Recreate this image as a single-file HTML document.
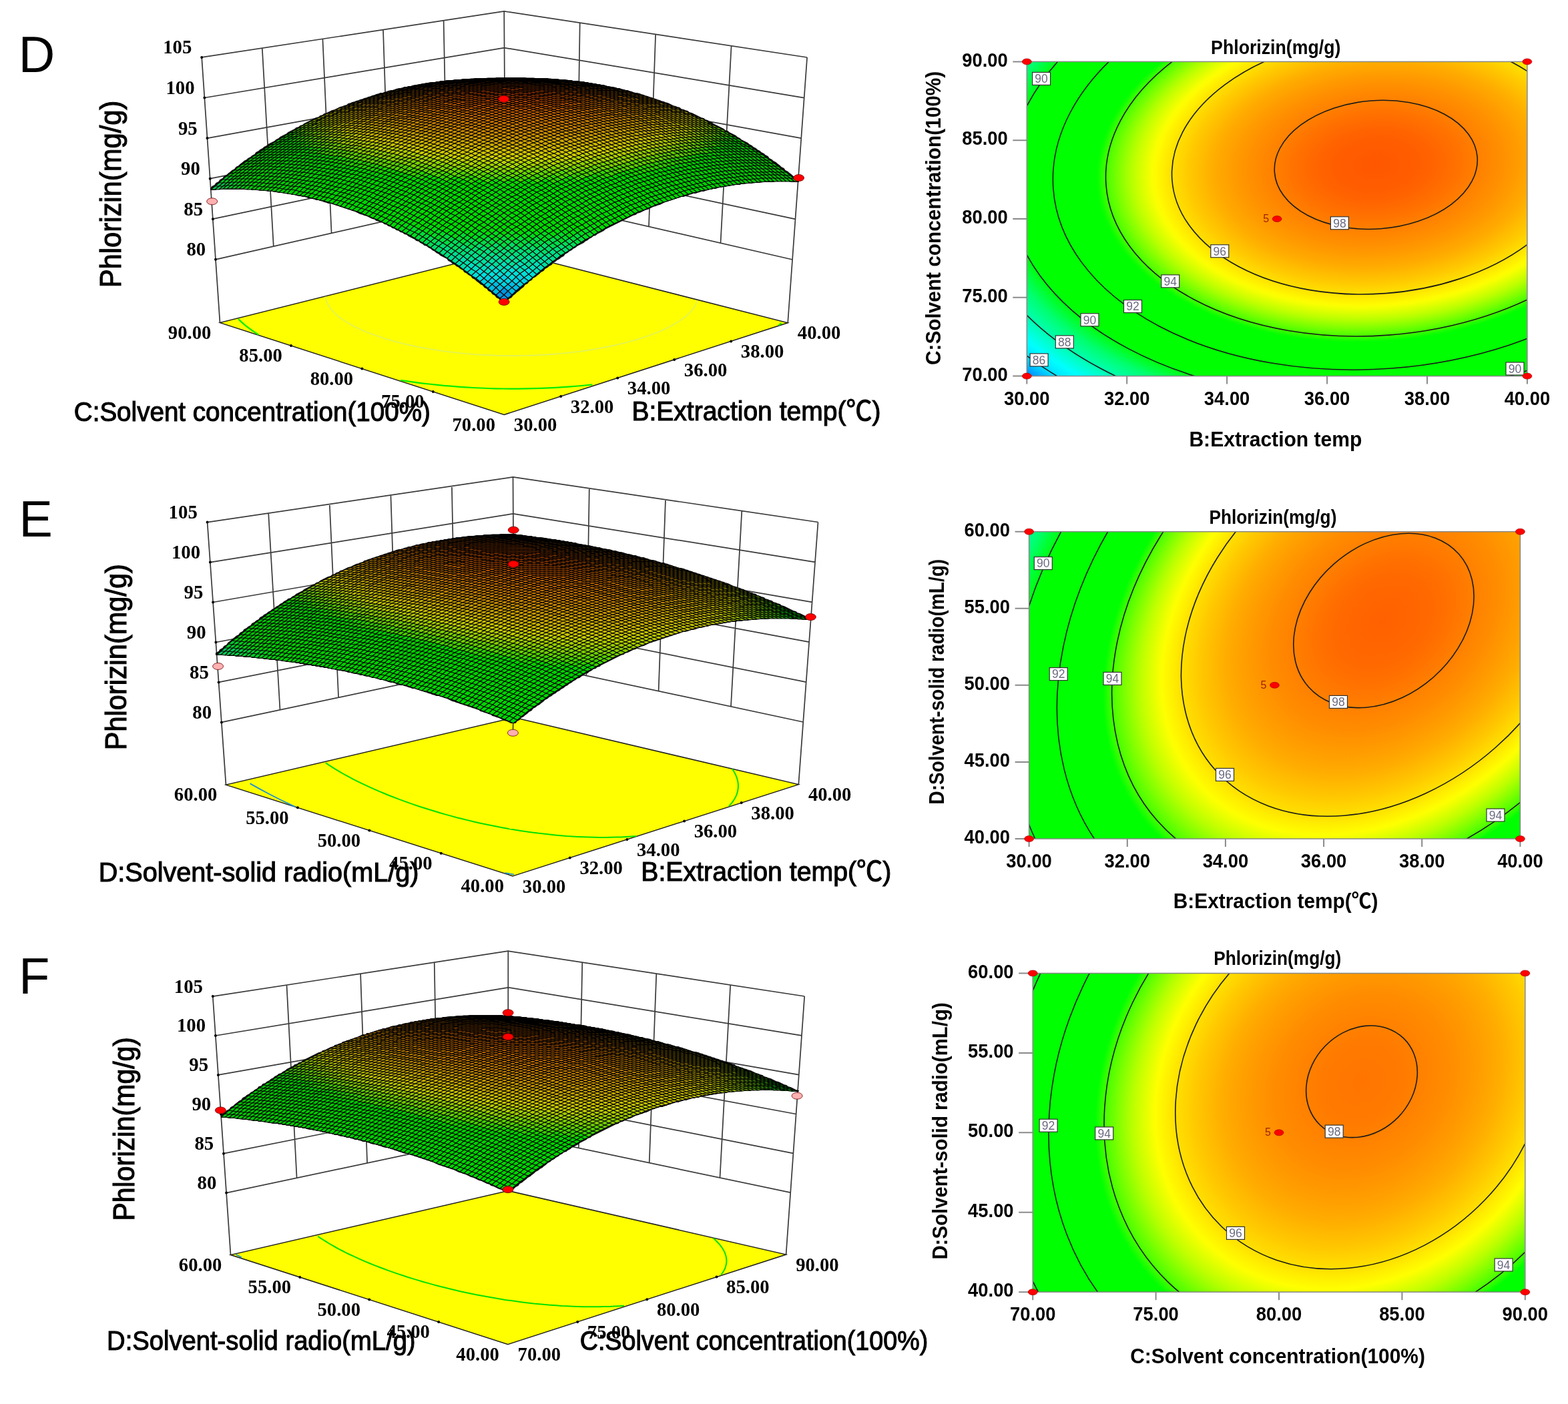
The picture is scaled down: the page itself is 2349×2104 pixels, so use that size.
<!DOCTYPE html>
<html><head><meta charset="utf-8"><style>html,body{margin:0;padding:0;background:#fff;width:2349px;height:2104px;overflow:hidden}svg{display:block}</style></head><body>
<svg xmlns="http://www.w3.org/2000/svg" width="2349" height="2104" viewBox="0 0 2349 2104" font-family="'Liberation Sans', Arial, 'Noto Sans CJK SC', sans-serif">
<path d="M323 388.8L756.9 290.3 1187.1 389M318.9 328.2L756.6 235.7 1191.5 328.4M314.7 267.7L756.2 181 1195.9 267.8M310.5 207.1L755.9 126.3 1200.3 207.2M306.4 146.5L755.5 71.6 1204.7 146.6M302.2 85.9L755.2 16.9 1209.1 86M329.5 483.6L302.2 85.9M409.8 369.1L392.8 72.1M496.6 349.4L483.4 58.3M583.4 329.7L574 44.5M670.1 310L664.6 30.7M757.5 375.9L755.2 16.9M1180.2 483.8L1209.1 86M1079.5 364.3L1095.6 68.7M972 339.7L982.1 51.4M864.5 315L868.7 34.2M757.5 375.9L755.2 16.9" fill="none" stroke="#3a3a3a" stroke-width="1.7"/>
<path d="M755.2 621.5L1180.2 483.8 757.5 375.9 329.5 483.6Z" fill="#ffff00" stroke="#222" stroke-width="1.5"/>
<path d="M887.4 576.4L876.5 577.5 865.6 578.5 854.6 579.4 843.6 580.2 832.5 580.9 821.3 581.4 810.1 581.9 798.9 582.2 798.9 582.2 787.7 582.4 776.4 582.6 765.1 582.6 753.8 582.5 742.6 582.3 731.3 582 720.1 581.5 708.9 581 697.7 580.4 686.6 579.6 675.6 578.7 664.6 577.8 653.6 576.7 642.8 575.5 632 574.3 621.4 572.9 610.8 571.4 600.3 569.8" fill="none" stroke="#00ee00" stroke-width="2.2"/>
<path d="M387.5 501.7L382.3 498.4 377.4 495 372.8 491.7 368.4 488.3 364.3 484.9 360.5 481.4 357 478" fill="none" stroke="#00ee00" stroke-width="2.2"/>
<path d="M1170.5 484.1L1166.6 487.5" fill="none" stroke="#00ee00" stroke-width="2.2"/>
<path d="M1044.5 450.5L1043.8 452.6 1043 454.8 1041.9 457 1040.7 459.2 1039.3 461.4 1037.7 463.6 1035.9 465.8 1033.9 468 1031.7 470.2 1029.4 472.3 1026.8 474.5 1024.1 476.6 1021.2 478.7 1018.2 480.8 1014.9 482.9 1011.5 485 1007.9 487 1004.2 489.1 1000.3 491.1 996.2 493 992 495 987.6 496.9 983.1 498.7 978.4 500.6 973.6 502.4 968.6 504.1 963.5 505.9 958.2 507.5 952.9 509.2 947.3 510.8 941.7 512.3 936 513.9 930.1 515.3 924.1 516.7 918 518.1 911.8 519.4 905.5 520.6 899.1 521.8 892.6 523 886.1 524.1 879.4 525.1 872.7 526.1 865.9 527 859 527.8 852.1 528.6 845.1 529.3 838 530 830.9 530.6 823.8 531.1 816.6 531.6 809.4 532 802.1 532.4 794.8 532.6 787.5 532.8 787.5 532.8 780.2 533 772.9 533.1 765.6 533.1 758.2 533 750.9 532.9 743.6 532.7 736.3 532.4 729 532.1 721.8 531.7 714.6 531.3 707.4 530.7 700.2 530.2 693.1 529.5 686.1 528.8 679.1 528 672.2 527.2 665.3 526.3 658.5 525.3 651.8 524.3 645.1 523.3 638.6 522.1 632.1 520.9 625.7 519.7 619.5 518.4 613.3 517.1 607.2 515.7 601.2 514.2 595.4 512.7 589.7 511.2 584 509.6 578.6 507.9 573.2 506.3 568 504.6 562.9 502.8 558 501 553.2 499.2 548.5 497.3 544 495.4 539.7 493.5 535.5 491.5 531.5 489.5 527.6 487.5 523.9 485.5 520.4 483.4 517.1 481.3 513.9 479.2 510.9 477.1 508 475 505.4 472.8 502.9 470.7 500.6 468.5 498.5 466.3 496.6 464.1 494.9 461.9 493.4 459.7 492 457.5 490.8 455.3 489.9 453.1 489.1 450.9 488.5 448.7 488.1 446.6 487.9 444.4" fill="none" stroke="#e0f060" stroke-width="1.6"/>
<path d="M840.2 593.9l0 0M925.2 566.4l0 0M1010.2 538.9l0 0M1095.2 511.4l0 0M648.8 587l0 0M542.4 552.5l0 0M436 518.1l0 0M323 388.8l0 0M318.9 328.2l0 0M314.7 267.7l0 0M310.5 207.1l0 0M306.4 146.5l0 0M302.2 85.9l0 0" stroke="#000" stroke-width="4" stroke-linecap="round"/>
<path fill="#101010" stroke="#101010" stroke-width="2.2" stroke-linejoin="round" d="M316 283 318 280 322 278 324 275 328 273 330 270 334 268 336 265 340 263 342 261 346 258 348 256 352 254 354 251 358 249 360 247 364 244 366 242 370 240 372 238 376 236 378 234 382 232 384 229 388 227 390 225 394 223 396 221 400 219 402 217 406 215 408 214 412 212 414 210 418 208 420 206 424 204 426 203 430 201 432 199 436 197 438 196 442 194 444 192 448 191 450 189 454 188 456 186 460 184 462 183 466 181 468 180 472 178 474 177 478 176 480 174 484 173 486 171 490 170 492 169 496 167 498 166 502 165 504 164 508 162 510 161 514 160 516 159 520 158 522 156 526 155 528 154 532 153 534 152 538 151 540 150 544 149 546 148 550 147 552 146 556 145 558 144 562 143 564 142 568 141 570 140 574 140 576 139 580 138 582 137 586 136 588 136 592 135 594 134 598 133 600 133 604 132 606 131 610 131 612 130 616 130 618 129 622 128 624 128 628 127 630 127 634 126 636 126 640 125 642 125 646 124 648 124 652 124 654 123 658 123 660 122 664 122 666 122 670 121 672 121 676 121 678 121 682 120 684 120 688 120 690 120 694 119 696 119 700 119 702 119 706 119 708 119 712 118 714 118 718 118 720 118 724 118 726 118 730 118 732 118 736 118 738 118 742 118 744 117 748 117 750 117 754 117 756 117 760 117 762 117 766 117 768 117 772 117 774 117 778 117 780 117 784 117 786 117 790 118 792 118 796 118 798 118 802 118 804 118 808 118 810 118 814 118 816 118 820 118 822 119 826 119 828 119 832 119 834 119 838 120 840 120 844 120 846 120 850 121 852 121 856 121 858 122 862 122 864 122 868 123 870 123 874 123 876 124 880 124 882 125 886 125 888 126 892 126 894 127 898 127 900 128 904 128 906 129 910 130 912 130 916 131 918 131 922 132 924 133 928 133 930 134 934 135 936 136 940 136 942 137 946 138 948 139 952 140 954 140 958 141 960 142 964 143 966 144 970 145 972 146 976 147 978 148 982 149 984 150 988 151 990 152 994 153 996 154 1000 155 1002 156 1006 158 1008 159 1012 160 1014 161 1018 162 1020 164 1024 165 1026 166 1030 167 1032 169 1036 170 1038 171 1042 173 1044 174 1048 176 1050 177 1054 178 1056 180 1060 181 1062 183 1066 184 1068 186 1072 188 1074 189 1078 191 1080 192 1084 194 1086 196 1090 197 1092 199 1096 201 1098 202 1102 204 1104 206 1108 208 1110 210 1114 212 1116 213 1120 215 1122 217 1126 219 1128 221 1132 223 1134 225 1138 227 1140 229 1144 231 1146 233 1150 235 1152 238 1156 240 1158 242 1162 244 1164 246 1168 249 1170 251 1174 253 1176 256 1180 258 1182 260 1186 263 1188 265 1192 268 1194 270 1196 271 1196 272 1194 272 1192 272 1188 272 1186 272 1182 271 1180 271 1176 271 1174 271 1170 271 1168 271 1164 271 1162 271 1158 272 1156 272 1152 272 1150 272 1146 272 1144 272 1140 272 1138 273 1134 273 1132 273 1128 273 1126 274 1122 274 1120 274 1116 274 1114 275 1110 275 1108 276 1104 276 1102 276 1098 277 1096 277 1092 278 1090 278 1086 279 1084 279 1080 280 1078 280 1074 281 1072 282 1068 282 1066 283 1062 283 1060 284 1056 285 1054 286 1050 286 1048 287 1044 288 1042 289 1038 289 1036 290 1032 291 1030 292 1026 293 1024 294 1020 294 1018 295 1014 296 1012 297 1008 298 1006 299 1002 300 1000 301 996 302 994 303 990 305 988 306 984 307 982 308 978 309 976 310 972 312 970 313 966 314 964 315 960 317 958 318 954 319 952 321 948 322 946 323 942 325 940 326 936 328 934 329 930 331 928 332 924 334 922 335 918 337 916 338 912 340 910 341 906 343 904 345 900 347 898 348 894 350 892 352 888 353 886 355 882 357 880 359 876 361 874 363 870 365 868 366 864 368 862 370 858 372 856 374 852 376 850 378 846 380 844 383 840 385 838 387 834 389 832 391 828 393 826 396 822 398 820 400 816 402 814 405 810 407 808 409 804 412 802 414 798 416 796 419 792 421 790 424 786 426 784 429 780 432 778 434 774 437 772 439 768 442 766 445 762 447 760 450 756 452 754 452 750 450 748 447 744 445 742 442 738 440 736 437 732 435 730 432 726 430 724 427 720 425 718 423 714 420 712 418 708 416 706 413 702 411 700 409 696 407 694 404 690 402 688 400 684 398 682 396 678 394 676 392 672 390 670 387 666 385 664 384 660 382 658 380 654 378 652 376 648 374 646 372 642 370 640 368 636 367 634 365 630 363 628 361 624 360 622 358 618 356 616 355 612 353 610 351 606 350 604 348 600 347 598 345 594 344 592 342 588 341 586 339 582 338 580 336 576 335 574 333 570 332 568 331 564 330 562 328 558 327 556 326 552 324 550 323 546 322 544 321 540 320 538 319 534 317 532 316 528 315 526 314 522 313 520 312 516 311 514 310 510 309 508 308 504 307 502 306 498 305 496 304 492 304 490 303 486 302 484 301 480 300 478 299 474 299 472 298 468 297 466 296 462 296 460 295 456 294 454 294 450 293 448 293 444 292 442 291 438 291 436 290 432 290 430 289 426 289 424 288 420 288 418 288 414 287 412 287 408 286 406 286 402 286 400 285 396 285 394 285 390 285 388 284 384 284 382 284 378 284 376 283 372 283 370 283 366 283 364 283 360 283 358 283 354 283 352 283 348 283 346 283 342 283 340 283 336 283 334 283 330 283 328 283 324 283 322 284 318 284 316 284Z"/><g><path fill="#000000" d="M756 117l12 1-12 0-13 0z"/><path fill="#000000" d="M743 117l13 0-13 1-12 0z"/><path fill="#000000" d="M768 117l13 0-13 1-12-1z"/><path fill="#000000" d="M731 117l12 0-12 1-12 0z"/><path fill="#000000" d="M756 117l12 0-12 0-13 0z"/><path fill="#000000" d="M781 117l12 0-12 0-13 0z"/><path fill="#000000" d="M719 118l12-1-12 1-13 0z"/><path fill="#000000" d="M743 117l13 0-13 0-12 0z"/><path fill="#000000" d="M768 117l13 0-13 0-12 0z"/><path fill="#000000" d="M793 117l12 1-12-1-12 0z"/><path fill="#000000" d="M706 118l13 0-13 0-12 1z"/><path fill="#000000" d="M731 117l12 0-12 0-12 1z"/><path fill="#000000" d="M756 117l12 0-12 0-13 0z"/><path fill="#000000" d="M781 117l12 0-12 0-13 0z"/><path fill="#000000" d="M805 118l13 0-13 0-12-1z"/><path fill="#000000" d="M694 119l12-1-12 1-13 1z"/><path fill="#000000" d="M718 118l13-1-12 1-13 0z"/><path fill="#000000" d="M743 117l13 0-13 0-12 0z"/><path fill="#000000" d="M768 117l13 0-13 0-12 0z"/><path fill="#000000" d="M793 117l12 1-12-1-12 0z"/><path fill="#000000" d="M818 118l12 1-12-1-13 0z"/><path fill="#000000" d="M681 121l13-2-13 1-12 1z"/><path fill="#000000" d="M706 119l12-1-12 0-12 1z"/><path fill="#000000" d="M731 118l12-1-12 0-13 1z"/><path fill="#000000" d="M756 117l12 0-12 0-13 0z"/><path fill="#000000" d="M780 117l13 0-12 0-13 0z"/><path fill="#000000" d="M805 118l13 0-13 0-12-1z"/><path fill="#000000" d="M830 119l13 1-13-1-12-1z"/><path fill="#000000" d="M669 122l12-1-12 0-13 2z"/><path fill="#000000" d="M694 120l12-1-12 0-13 2z"/><path fill="#000000" d="M718 119l13-1-13 0-12 1z"/><path fill="#000000" d="M743 118l13-1-13 0-12 1z"/><path fill="#000000" d="M768 118l12-1-12 0-12 0z"/><path fill="#000000" d="M793 118l12 0-12-1-13 0z"/><path fill="#000000" d="M818 119l12 0-12-1-13 0z"/><path fill="#000000" d="M843 120l12 1-12-1-13-1z"/><path fill="#010000" d="M656 124l13-2-13 1-12 1z"/><path fill="#000000" d="M681 122l13-2-13 1-12 1z"/><path fill="#000000" d="M706 120l12-1-12 0-12 1z"/><path fill="#000000" d="M731 119l12-1-12 0-13 1z"/><path fill="#000000" d="M756 118l12 0-12-1-13 1z"/><path fill="#000000" d="M780 118l13 0-13-1-12 1z"/><path fill="#000000" d="M805 119l13 0-13-1-12 0z"/><path fill="#000000" d="M830 120l13 0-13-1-12 0z"/><path fill="#000000" d="M855 122l12 0-12-1-12-1z"/><path fill="#0f0a00" d="M644 126l12-2-12 0-12 2z"/><path fill="#0e0900" d="M669 123l12-1-12 0-13 2z"/><path fill="#0d0800" d="M694 121l12-1-12 0-13 2z"/><path fill="#0c0700" d="M718 120l13-1-13 0-12 1z"/><path fill="#0c0700" d="M743 119l13-1-13 0-12 1z"/><path fill="#0b0600" d="M768 119l12-1-12 0-12 0z"/><path fill="#0b0600" d="M793 119l12 0-12-1-13 0z"/><path fill="#0b0600" d="M818 120l12 0-12-1-13 0z"/><path fill="#0b0700" d="M843 122l12 0-12-2-13 0z"/><path fill="#0b0700" d="M867 124l13 0-13-2-12 0z"/><path fill="#231700" d="M632 128l12-2-12 0-13 3z"/><path fill="#221500" d="M656 125l13-2-13 1-12 2z"/><path fill="#211300" d="M681 123l13-2-13 1-12 1z"/><path fill="#201200" d="M706 122l12-2-12 0-12 1z"/><path fill="#1f1100" d="M731 120l12-1-12 0-13 1z"/><path fill="#1f1000" d="M756 120l12-1-12-1-13 1z"/><path fill="#1e1000" d="M780 120l13-1-13-1-12 1z"/><path fill="#1e1000" d="M805 121l13-1-13-1-12 0z"/><path fill="#1e1100" d="M830 122l13 0-13-2-12 0z"/><path fill="#1e1200" d="M855 123l12 1-12-2-12 0z"/><path fill="#1e1300" d="M880 126l12 0-12-2-13 0z"/><path fill="#362400" d="M619 131l13-3-13 1-12 2z"/><path fill="#352000" d="M644 128l12-3-12 1-12 2z"/><path fill="#341e00" d="M669 125l12-2-12 0-13 2z"/><path fill="#331c00" d="M693 123l13-1-12-1-13 2z"/><path fill="#331a00" d="M718 122l13-2-13 0-12 2z"/><path fill="#321900" d="M743 121l13-1-13-1-12 1z"/><path fill="#321900" d="M768 121l12-1-12-1-12 1z"/><path fill="#311900" d="M793 121l12 0-12-2-13 1z"/><path fill="#311a00" d="M818 122l12 0-12-2-13 1z"/><path fill="#311b00" d="M843 123l12 0-12-1-13 0z"/><path fill="#311d00" d="M867 125l13 1-13-2-12-1z"/><path fill="#321f00" d="M892 128l13 0-13-2-12 0z"/><path fill="#473000" d="M607 134l12-3-12 0-13 3z"/><path fill="#462b00" d="M631 130l13-2-12 0-13 3z"/><path fill="#462800" d="M656 127l13-2-13 0-12 3z"/><path fill="#452500" d="M681 125l12-2-12 0-12 2z"/><path fill="#442300" d="M706 124l12-2-12 0-13 1z"/><path fill="#442100" d="M731 123l12-2-12-1-13 2z"/><path fill="#432000" d="M756 122l12-1-12-1-13 1z"/><path fill="#432000" d="M780 122l13-1-13-1-12 1z"/><path fill="#432100" d="M805 123l13-1-13-1-12 0z"/><path fill="#432200" d="M830 124l13-1-13-1-12 0z"/><path fill="#432400" d="M855 126l12-1-12-2-12 0z"/><path fill="#432700" d="M880 128l12 0-12-2-13-1z"/><path fill="#432a00" d="M905 131l12 0-12-3-13 0z"/><path fill="#573b00" d="M594 137l13-3-13 0-12 3z"/><path fill="#563500" d="M619 133l12-3-12 1-12 3z"/><path fill="#553100" d="M644 130l12-3-12 1-13 2z"/><path fill="#542d00" d="M669 128l12-3-12 0-13 2z"/><path fill="#542a00" d="M693 126l13-2-13-1-12 2z"/><path fill="#532700" d="M718 124l13-1-13-1-12 2z"/><path fill="#532500" d="M743 123l13-1-13-1-12 2z"/><path fill="#522500" d="M768 123l12-1-12-1-12 1z"/><path fill="#522500" d="M793 124l12-1-12-2-13 1z"/><path fill="#522700" d="M818 124l12 0-12-2-13 1z"/><path fill="#522a00" d="M843 126l12 0-12-3-13 1z"/><path fill="#522c00" d="M867 128l13 0-13-3-12 1z"/><path fill="#523000" d="M892 130l13 1-13-3-12 0z"/><path fill="#523400" d="M917 133l12 1-12-3-12 0z"/><path fill="#644600" d="M582 140l12-3-12 0-12 4z"/><path fill="#633f00" d="M607 136l12-3-12 1-13 3z"/><path fill="#623900" d="M631 133l13-3-13 0-12 3z"/><path fill="#623400" d="M656 130l13-2-13-1-12 3z"/><path fill="#613100" d="M681 128l12-2-12-1-12 3z"/><path fill="#602d00" d="M706 126l12-2-12 0-13 2z"/><path fill="#602a00" d="M731 125l12-2-12 0-13 1z"/><path fill="#602900" d="M756 125l12-2-12-1-13 1z"/><path fill="#602900" d="M780 125l13-1-13-2-12 1z"/><path fill="#5f2a00" d="M805 125l13-1-13-1-12 1z"/><path fill="#5f2d00" d="M830 126l13 0-13-2-12 0z"/><path fill="#5f3000" d="M855 128l12 0-12-2-12 0z"/><path fill="#5f3400" d="M880 130l12 0-12-2-13 0z"/><path fill="#603800" d="M905 133l12 0-12-2-13-1z"/><path fill="#603e00" d="M929 137l13 0-13-3-12-1z"/><path fill="#6f5100" d="M570 144l12-4-12 1-13 4z"/><path fill="#6e4800" d="M594 140l13-4-13 1-12 3z"/><path fill="#6e4100" d="M619 136l12-3-12 0-12 3z"/><path fill="#6d3b00" d="M644 133l12-3-12 0-13 3z"/><path fill="#6d3700" d="M669 130l12-2-12 0-13 2z"/><path fill="#6c3200" d="M693 129l13-3-13 0-12 2z"/><path fill="#6c2e00" d="M718 127l13-2-13-1-12 2z"/><path fill="#6c2c00" d="M743 126l13-1-13-2-12 2z"/><path fill="#6b2b00" d="M768 126l12-1-12-2-12 2z"/><path fill="#6b2c00" d="M793 126l12-1-12-1-13 1z"/><path fill="#6b2e00" d="M818 127l12-1-12-2-13 1z"/><path fill="#6b3200" d="M843 129l12-1-12-2-13 0z"/><path fill="#6b3600" d="M867 131l13-1-13-2-12 0z"/><path fill="#6b3b00" d="M892 133l13 0-13-3-12 0z"/><path fill="#6b4000" d="M917 136l12 1-12-4-12 0z"/><path fill="#6c4700" d="M942 140l12 1-12-4-13 0z"/><path fill="#795b00" d="M557 148l13-4-13 1-12 4z"/><path fill="#785100" d="M582 143l12-3-12 0-12 4z"/><path fill="#784900" d="M607 139l12-3-12 0-13 4z"/><path fill="#774200" d="M631 136l13-3-13 0-12 3z"/><path fill="#773d00" d="M656 133l13-3-13 0-12 3z"/><path fill="#763700" d="M681 131l12-2-12-1-12 2z"/><path fill="#763200" d="M706 129l12-2-12-1-13 3z"/><path fill="#762f00" d="M731 128l12-2-12-1-13 2z"/><path fill="#762e00" d="M756 128l12-2-12-1-13 1z"/><path fill="#752e00" d="M780 128l13-2-13-1-12 1z"/><path fill="#752f00" d="M805 128l13-1-13-2-12 1z"/><path fill="#753200" d="M830 130l13-1-13-3-12 1z"/><path fill="#753700" d="M855 131l12 0-12-3-12 1z"/><path fill="#753d00" d="M880 134l12-1-12-3-13 1z"/><path fill="#754200" d="M905 136l12 0-12-3-13 0z"/><path fill="#764900" d="M929 140l13 0-13-3-12-1z"/><path fill="#765000" d="M954 144l12 0-12-3-12-1z"/><path fill="#826700" d="M545 152l12-4-12 1-12 4z"/><path fill="#815b00" d="M570 147l12-4-12 1-13 4z"/><path fill="#815100" d="M594 143l13-4-13 1-12 3z"/><path fill="#804900" d="M619 140l12-4-12 0-12 3z"/><path fill="#804300" d="M644 136l12-3-12 0-13 3z"/><path fill="#803c00" d="M669 134l12-3-12-1-13 3z"/><path fill="#7f3600" d="M693 132l13-3-13 0-12 2z"/><path fill="#7f3200" d="M718 131l13-3-13-1-12 2z"/><path fill="#7f3000" d="M743 130l13-2-13-2-12 2z"/><path fill="#7f2f00" d="M768 129l12-1-12-2-12 2z"/><path fill="#7e3000" d="M793 130l12-2-12-2-13 2z"/><path fill="#7e3200" d="M818 131l12-1-12-3-13 1z"/><path fill="#7e3700" d="M843 132l12-1-12-2-13 1z"/><path fill="#7e3d00" d="M867 134l13 0-13-3-12 0z"/><path fill="#7e4300" d="M892 137l13-1-13-3-12 1z"/><path fill="#7e4900" d="M917 140l12 0-12-4-12 0z"/><path fill="#7f5100" d="M942 143l12 1-12-4-13 0z"/><path fill="#7f5a00" d="M966 148l13 0-13-4-12 0z"/><path fill="#897200" d="M533 157l12-5-12 1-13 5z"/><path fill="#896500" d="M557 152l13-5-13 1-12 4z"/><path fill="#895900" d="M582 147l12-4-12 0-12 4z"/><path fill="#885000" d="M607 143l12-3-12-1-13 4z"/><path fill="#884900" d="M631 140l13-4-13 0-12 4z"/><path fill="#874200" d="M656 137l13-3-13-1-12 3z"/><path fill="#873b00" d="M681 135l12-3-12-1-12 3z"/><path fill="#873600" d="M706 133l12-2-12-2-13 3z"/><path fill="#873200" d="M731 132l12-2-12-2-13 3z"/><path fill="#873100" d="M756 131l12-2-12-1-13 2z"/><path fill="#863100" d="M780 131l13-1-13-2-12 1z"/><path fill="#863300" d="M805 132l13-1-13-3-12 2z"/><path fill="#863600" d="M830 133l13-1-13-2-12 1z"/><path fill="#863b00" d="M855 135l12-1-12-3-12 1z"/><path fill="#864200" d="M880 137l12 0-12-3-13 0z"/><path fill="#864900" d="M905 140l12 0-12-4-13 1z"/><path fill="#865000" d="M929 143l13 0-13-3-12 0z"/><path fill="#865900" d="M954 147l12 1-12-4-12-1z"/><path fill="#876400" d="M979 152l12 1-12-5-13 0z"/><path fill="#907e00" d="M520 162l13-5-13 1-12 4z"/><path fill="#906f00" d="M545 156l12-4-12 0-12 5z"/><path fill="#8f6200" d="M569 152l13-5-12 0-13 5z"/><path fill="#8f5800" d="M594 147l13-4-13 0-12 4z"/><path fill="#8f5000" d="M619 144l12-4-12 0-12 3z"/><path fill="#8f4800" d="M644 141l12-4-12-1-13 4z"/><path fill="#8e4000" d="M668 138l13-3-12-1-13 3z"/><path fill="#8e3a00" d="M693 136l13-3-13-1-12 3z"/><path fill="#8e3500" d="M718 135l13-3-13-1-12 2z"/><path fill="#8e3300" d="M743 134l13-3-13-1-12 2z"/><path fill="#8e3200" d="M768 133l12-2-12-2-12 2z"/><path fill="#8d3300" d="M793 134l12-2-12-2-13 1z"/><path fill="#8d3600" d="M818 135l12-2-12-2-13 1z"/><path fill="#8d3a00" d="M843 136l12-1-12-3-13 1z"/><path fill="#8d4100" d="M867 138l13-1-13-3-12 1z"/><path fill="#8d4800" d="M892 141l13-1-13-3-12 0z"/><path fill="#8d5000" d="M917 144l12-1-12-3-12 0z"/><path fill="#8d5800" d="M942 147l12 0-12-4-13 0z"/><path fill="#8e6200" d="M966 152l13 0-13-4-12-1z"/><path fill="#8e6f00" d="M991 157l12 0-12-4-12-1z"/><path fill="#968d00" d="M508 167l12-5-12 0-12 6z"/><path fill="#967b00" d="M533 161l12-5-12 1-13 5z"/><path fill="#966c00" d="M557 156l12-4-12 0-12 4z"/><path fill="#956000" d="M582 152l12-5-12 0-13 5z"/><path fill="#955700" d="M607 148l12-4-12-1-13 4z"/><path fill="#954e00" d="M631 144l13-3-13-1-12 4z"/><path fill="#954600" d="M656 141l12-3-12-1-12 4z"/><path fill="#943f00" d="M681 139l12-3-12-1-13 3z"/><path fill="#943900" d="M706 137l12-2-12-2-13 3z"/><path fill="#943500" d="M731 136l12-2-12-2-13 3z"/><path fill="#943300" d="M756 136l12-3-12-2-13 3z"/><path fill="#943300" d="M780 136l13-2-13-3-12 2z"/><path fill="#943500" d="M805 136l13-1-13-3-12 2z"/><path fill="#943900" d="M830 137l13-1-13-3-12 2z"/><path fill="#943f00" d="M855 139l12-1-12-3-12 1z"/><path fill="#944700" d="M880 141l12 0-12-4-13 1z"/><path fill="#944f00" d="M905 144l12 0-12-4-13 1z"/><path fill="#945700" d="M929 148l13-1-13-4-12 1z"/><path fill="#946000" d="M954 152l12 0-12-5-12 0z"/><path fill="#946c00" d="M979 156l12 1-12-5-13 0z"/><path fill="#947b00" d="M1003 161l13 1-13-5-12 0z"/><path fill="#9b9c00" d="M496 173l12-6-12 1-12 5z"/><path fill="#9c8700" d="M520 167l13-6-13 1-12 5z"/><path fill="#9b7700" d="M545 161l12-5-12 0-12 5z"/><path fill="#9b6900" d="M569 156l13-4-13 0-12 4z"/><path fill="#9b5e00" d="M594 152l13-4-13-1-12 5z"/><path fill="#9b5500" d="M619 148l12-4-12 0-12 4z"/><path fill="#9a4d00" d="M644 145l12-4-12 0-13 3z"/><path fill="#9a4400" d="M668 143l13-4-13-1-12 3z"/><path fill="#9a3d00" d="M693 141l13-4-13-1-12 3z"/><path fill="#9a3800" d="M718 139l13-3-13-1-12 2z"/><path fill="#9a3600" d="M743 138l13-2-13-2-12 2z"/><path fill="#9a3500" d="M768 138l12-2-12-3-12 3z"/><path fill="#993600" d="M793 138l12-2-12-2-13 2z"/><path fill="#993900" d="M818 139l12-2-12-2-13 1z"/><path fill="#993e00" d="M843 141l12-2-12-3-13 1z"/><path fill="#994500" d="M867 143l13-2-13-3-12 1z"/><path fill="#994e00" d="M892 145l13-1-13-3-12 0z"/><path fill="#995500" d="M917 148l12 0-12-4-12 0z"/><path fill="#995e00" d="M942 152l12 0-12-5-13 1z"/><path fill="#996900" d="M966 156l13 0-13-4-12 0z"/><path fill="#9a7700" d="M991 161l12 0-12-4-12-1z"/><path fill="#9a8700" d="M1016 167l12 0-12-5-13-1z"/><path fill="#8ca100" d="M484 178l12-5-12 0-13 6z"/><path fill="#a09600" d="M508 172l12-5-12 0-12 6z"/><path fill="#a08300" d="M533 166l12-5-12 0-13 6z"/><path fill="#a07300" d="M557 161l12-5-12 0-12 5z"/><path fill="#a06700" d="M582 157l12-5-12 0-13 4z"/><path fill="#a05c00" d="M607 153l12-5-12 0-13 4z"/><path fill="#9f5400" d="M631 149l13-4-13-1-12 4z"/><path fill="#9f4b00" d="M656 146l12-3-12-2-12 4z"/><path fill="#9f4300" d="M681 144l12-3-12-2-13 4z"/><path fill="#9f3d00" d="M706 142l12-3-12-2-13 4z"/><path fill="#9f3800" d="M731 141l12-3-12-2-13 3z"/><path fill="#9f3600" d="M755 141l13-3-12-2-13 2z"/><path fill="#9f3700" d="M780 141l13-3-13-2-12 2z"/><path fill="#9f3900" d="M805 141l13-2-13-3-12 2z"/><path fill="#9f3d00" d="M830 142l13-1-13-4-12 2z"/><path fill="#9f4300" d="M855 144l12-1-12-4-12 2z"/><path fill="#9e4b00" d="M880 146l12-1-12-4-13 2z"/><path fill="#9e5400" d="M905 149l12-1-12-4-13 1z"/><path fill="#9e5d00" d="M929 153l13-1-13-4-12 0z"/><path fill="#9f6700" d="M954 157l12-1-12-4-12 0z"/><path fill="#9f7400" d="M979 161l12 0-12-5-13 0z"/><path fill="#9f8300" d="M1003 166l13 1-13-6-12 0z"/><path fill="#9f9600" d="M1028 172l12 1-12-6-12 0z"/><path fill="#79a500" d="M471 185l13-7-13 1-12 6z"/><path fill="#a4a500" d="M496 178l12-6-12 1-12 5z"/><path fill="#a59000" d="M520 172l13-6-13 1-12 5z"/><path fill="#a57f00" d="M545 166l12-5-12 0-12 5z"/><path fill="#a47000" d="M569 162l13-5-13-1-12 5z"/><path fill="#a46400" d="M594 157l13-4-13-1-12 5z"/><path fill="#a45b00" d="M619 153l12-4-12-1-12 5z"/><path fill="#a45200" d="M644 150l12-4-12-1-13 4z"/><path fill="#a44900" d="M668 148l13-4-13-1-12 3z"/><path fill="#a44200" d="M693 146l13-4-13-1-12 3z"/><path fill="#a43c00" d="M718 144l13-3-13-2-12 3z"/><path fill="#a33900" d="M743 143l12-2-12-3-12 3z"/><path fill="#a33800" d="M768 143l12-2-12-3-13 3z"/><path fill="#a33900" d="M793 143l12-2-12-3-13 3z"/><path fill="#a33d00" d="M818 144l12-2-12-3-13 2z"/><path fill="#a34200" d="M843 146l12-2-12-3-13 1z"/><path fill="#a34900" d="M867 148l13-2-13-3-12 1z"/><path fill="#a35300" d="M892 150l13-1-13-4-12 1z"/><path fill="#a35b00" d="M917 153l12 0-12-5-12 1z"/><path fill="#a36400" d="M942 157l12 0-12-5-13 1z"/><path fill="#a37000" d="M966 162l13-1-13-5-12 1z"/><path fill="#a37f00" d="M991 166l12 0-12-5-12 0z"/><path fill="#a39000" d="M1016 172l12 0-12-5-13-1z"/><path fill="#9fa300" d="M1040 178l12 0-12-5-12-1z"/><path fill="#5ea900" d="M459 191l12-6-12 0-12 7z"/><path fill="#91a900" d="M484 184l12-6-12 0-13 7z"/><path fill="#a99f00" d="M508 178l12-6-12 0-12 6z"/><path fill="#a98b00" d="M533 172l12-6-12 0-13 6z"/><path fill="#a97b00" d="M557 167l12-5-12-1-12 5z"/><path fill="#a86d00" d="M582 162l12-5-12 0-13 5z"/><path fill="#a86200" d="M607 158l12-5-12 0-13 4z"/><path fill="#a85900" d="M631 155l13-5-13-1-12 4z"/><path fill="#a85000" d="M656 152l12-4-12-2-12 4z"/><path fill="#a84800" d="M681 149l12-3-12-2-13 4z"/><path fill="#a84100" d="M706 148l12-4-12-2-13 4z"/><path fill="#a83d00" d="M731 147l12-4-12-2-13 3z"/><path fill="#a83b00" d="M755 146l13-3-13-2-12 2z"/><path fill="#a83b00" d="M780 146l13-3-13-2-12 2z"/><path fill="#a83d00" d="M805 147l13-3-13-3-12 2z"/><path fill="#a74100" d="M830 148l13-2-13-4-12 2z"/><path fill="#a74800" d="M855 149l12-1-12-4-12 2z"/><path fill="#a75100" d="M880 152l12-2-12-4-13 2z"/><path fill="#a75900" d="M905 155l12-2-12-4-13 1z"/><path fill="#a76200" d="M929 158l13-1-13-4-12 0z"/><path fill="#a76d00" d="M954 162l12 0-12-5-12 0z"/><path fill="#a77b00" d="M979 167l12-1-12-5-13 1z"/><path fill="#a78b00" d="M1003 172l13 0-13-6-12 0z"/><path fill="#a79f00" d="M1028 178l12 0-12-6-12 0z"/><path fill="#8da700" d="M1052 184l12 1-12-7-12 0z"/><path fill="#3ead00" d="M447 198l12-7-12 1-12 7z"/><path fill="#7aad00" d="M471 191l13-7-13 1-12 6z"/><path fill="#a7ad00" d="M496 184l12-6-12 0-12 6z"/><path fill="#ad9900" d="M520 178l13-6-13 0-12 6z"/><path fill="#ac8700" d="M545 172l12-5-12-1-12 6z"/><path fill="#ac7700" d="M569 167l13-5-13 0-12 5z"/><path fill="#ac6b00" d="M594 163l13-5-13-1-12 5z"/><path fill="#ac6100" d="M619 159l12-4-12-2-12 5z"/><path fill="#ac5800" d="M644 156l12-4-12-2-13 5z"/><path fill="#ac4f00" d="M668 153l13-4-13-1-12 4z"/><path fill="#ac4700" d="M693 151l13-3-13-2-12 3z"/><path fill="#ac4200" d="M718 150l13-3-13-3-12 4z"/><path fill="#ac3e00" d="M743 149l12-3-12-3-12 4z"/><path fill="#ab3d00" d="M768 149l12-3-12-3-13 3z"/><path fill="#ab3e00" d="M793 149l12-2-12-4-13 3z"/><path fill="#ab4200" d="M818 150l12-2-12-4-13 3z"/><path fill="#ab4700" d="M843 151l12-2-12-3-13 2z"/><path fill="#ab4f00" d="M867 153l13-1-13-4-12 1z"/><path fill="#ab5800" d="M892 156l13-1-13-5-12 2z"/><path fill="#ab6100" d="M917 159l12-1-12-5-12 2z"/><path fill="#ab6b00" d="M942 163l12-1-12-5-13 1z"/><path fill="#ab7700" d="M966 167l13 0-13-5-12 0z"/><path fill="#ab8700" d="M991 172l12 0-12-6-12 1z"/><path fill="#ab9900" d="M1015 178l13 0-12-6-13 0z"/><path fill="#a4ab00" d="M1040 184l12 0-12-6-12 0z"/><path fill="#76ab00" d="M1064 190l13 1-13-6-12-1z"/><path fill="#0bb000" d="M435 205l12-7-12 1-12 7z"/><path fill="#5ab000" d="M459 197l12-6-12 0-12 7z"/><path fill="#91b000" d="M484 190l12-6-12 0-13 7z"/><path fill="#b0a900" d="M508 184l12-6-12 0-12 6z"/><path fill="#b09400" d="M533 178l12-6-12 0-13 6z"/><path fill="#b08300" d="M557 173l12-6-12 0-12 5z"/><path fill="#b07400" d="M582 168l12-5-12-1-13 5z"/><path fill="#b06900" d="M607 164l12-5-12-1-13 5z"/><path fill="#af5f00" d="M631 161l13-5-13-1-12 4z"/><path fill="#af5700" d="M656 158l12-5-12-1-12 4z"/><path fill="#af4e00" d="M681 155l12-4-12-2-13 4z"/><path fill="#af4700" d="M706 154l12-4-12-2-13 3z"/><path fill="#af4300" d="M731 153l12-4-12-2-13 3z"/><path fill="#af4100" d="M755 152l13-3-13-3-12 3z"/><path fill="#af4100" d="M780 152l13-3-13-3-12 3z"/><path fill="#af4300" d="M805 153l13-3-13-3-12 2z"/><path fill="#af4700" d="M830 154l13-3-13-3-12 2z"/><path fill="#af4e00" d="M855 155l12-2-12-4-12 2z"/><path fill="#af5700" d="M880 158l12-2-12-4-13 1z"/><path fill="#af5f00" d="M905 161l12-2-12-4-13 1z"/><path fill="#af6900" d="M929 164l13-1-13-5-12 1z"/><path fill="#af7400" d="M954 168l12-1-12-5-12 1z"/><path fill="#af8300" d="M979 173l12-1-12-5-13 0z"/><path fill="#af9400" d="M1003 178l12 0-12-6-12 0z"/><path fill="#afa900" d="M1028 184l12 0-12-6-13 0z"/><path fill="#8eaf00" d="M1052 190l12 0-12-6-12 0z"/><path fill="#57af00" d="M1076 197l13 1-12-7-13-1z"/><path fill="#00b300" d="M423 212l12-7-12 1-12 7z"/><path fill="#37b300" d="M447 204l12-7-12 1-12 7z"/><path fill="#74b300" d="M471 197l13-7-13 1-12 6z"/><path fill="#a5b300" d="M496 190l12-6-12 0-12 6z"/><path fill="#b3a300" d="M520 184l13-6-13 0-12 6z"/><path fill="#b39000" d="M545 179l12-6-12-1-12 6z"/><path fill="#b37f00" d="M570 174l12-6-13-1-12 6z"/><path fill="#b37200" d="M594 169l13-5-13-1-12 5z"/><path fill="#b36800" d="M619 166l12-5-12-2-12 5z"/><path fill="#b35f00" d="M644 162l12-4-12-2-13 5z"/><path fill="#b35600" d="M668 160l13-5-13-2-12 5z"/><path fill="#b24e00" d="M693 158l13-4-13-3-12 4z"/><path fill="#b24900" d="M718 156l13-3-13-3-12 4z"/><path fill="#b24500" d="M743 155l12-3-12-3-12 4z"/><path fill="#b24400" d="M768 155l12-3-12-3-13 3z"/><path fill="#b24500" d="M793 155l12-2-12-4-13 3z"/><path fill="#b24900" d="M818 156l12-2-12-4-13 3z"/><path fill="#b24e00" d="M843 158l12-3-12-4-13 3z"/><path fill="#b25600" d="M867 160l13-2-13-5-12 2z"/><path fill="#b25f00" d="M892 162l13-1-13-5-12 2z"/><path fill="#b26800" d="M917 166l12-2-12-5-12 2z"/><path fill="#b27200" d="M942 169l12-1-12-5-13 1z"/><path fill="#b27f00" d="M966 174l13-1-13-6-12 1z"/><path fill="#b28f00" d="M991 179l12-1-12-6-12 1z"/><path fill="#b2a300" d="M1015 184l13 0-13-6-12 0z"/><path fill="#a3b200" d="M1040 190l12 0-12-6-12 0z"/><path fill="#72b200" d="M1064 197l12 0-12-7-12 0z"/><path fill="#34b200" d="M1088 204l13 1-12-7-13-1z"/><path fill="#00b600" d="M411 220l12-8-12 1-12 8z"/><path fill="#00b600" d="M435 212l12-8-12 1-12 7z"/><path fill="#51b600" d="M459 204l12-7-12 0-12 7z"/><path fill="#8cb600" d="M484 197l12-7-12 0-13 7z"/><path fill="#b6b400" d="M508 191l12-7-12 0-12 6z"/><path fill="#b69e00" d="M533 185l12-6-12-1-13 6z"/><path fill="#b68c00" d="M557 180l13-6-13-1-12 6z"/><path fill="#b67c00" d="M582 175l12-6-12-1-12 6z"/><path fill="#b67100" d="M607 171l12-5-12-2-13 5z"/><path fill="#b66700" d="M631 167l13-5-13-1-12 5z"/><path fill="#b65e00" d="M656 164l12-4-12-2-12 4z"/><path fill="#b55600" d="M681 162l12-4-12-3-13 5z"/><path fill="#b54f00" d="M706 160l12-4-12-2-13 4z"/><path fill="#b54b00" d="M731 159l12-4-12-2-13 3z"/><path fill="#b54800" d="M755 159l13-4-13-3-12 3z"/><path fill="#b54800" d="M780 159l13-4-13-3-12 3z"/><path fill="#b54b00" d="M805 159l13-3-13-3-12 2z"/><path fill="#b54f00" d="M830 160l13-2-13-4-12 2z"/><path fill="#b55600" d="M855 162l12-2-12-5-12 3z"/><path fill="#b55e00" d="M880 164l12-2-12-4-13 2z"/><path fill="#b56700" d="M904 167l13-1-12-5-13 1z"/><path fill="#b57000" d="M929 171l13-2-13-5-12 2z"/><path fill="#b57c00" d="M954 175l12-1-12-6-12 1z"/><path fill="#b58c00" d="M979 179l12 0-12-6-13 1z"/><path fill="#b59d00" d="M1003 185l12-1-12-6-12 1z"/><path fill="#b5b400" d="M1028 191l12-1-12-6-13 0z"/><path fill="#8ab500" d="M1052 197l12 0-12-7-12 0z"/><path fill="#4fb500" d="M1076 204l12 0-12-7-12 0z"/><path fill="#00b500" d="M1101 212l12 0-12-7-13-1z"/><path fill="#00b900" d="M399 228l12-8-12 1-12 8z"/><path fill="#00b900" d="M423 220l12-8-12 0-12 8z"/><path fill="#23b900" d="M447 212l12-8-12 0-12 8z"/><path fill="#69b900" d="M472 204l12-7-13 0-12 7z"/><path fill="#9fb900" d="M496 198l12-7-12-1-12 7z"/><path fill="#b9af00" d="M520 191l13-6-13-1-12 7z"/><path fill="#b99a00" d="M545 186l12-6-12-1-12 6z"/><path fill="#b88900" d="M570 181l12-6-12-1-13 6z"/><path fill="#b87a00" d="M594 177l13-6-13-2-12 6z"/><path fill="#b87000" d="M619 173l12-6-12-1-12 5z"/><path fill="#b86600" d="M644 169l12-5-12-2-13 5z"/><path fill="#b85f00" d="M668 167l13-5-13-2-12 4z"/><path fill="#b85700" d="M693 165l13-5-13-2-12 4z"/><path fill="#b85100" d="M718 163l13-4-13-3-12 4z"/><path fill="#b84e00" d="M743 162l12-3-12-4-12 4z"/><path fill="#b84d00" d="M768 162l12-3-12-4-13 4z"/><path fill="#b84e00" d="M793 162l12-3-12-4-13 4z"/><path fill="#b85100" d="M818 163l12-3-12-4-13 3z"/><path fill="#b85700" d="M842 165l13-3-12-4-13 2z"/><path fill="#b85f00" d="M867 167l13-3-13-4-12 2z"/><path fill="#b86600" d="M892 169l12-2-12-5-12 2z"/><path fill="#b86f00" d="M917 172l12-1-12-5-13 1z"/><path fill="#b87a00" d="M942 176l12-1-12-6-13 2z"/><path fill="#b88900" d="M966 181l13-2-13-5-12 1z"/><path fill="#b89900" d="M991 186l12-1-12-6-12 0z"/><path fill="#b8ae00" d="M1015 191l13 0-13-7-12 1z"/><path fill="#9db800" d="M1040 197l12 0-12-7-12 1z"/><path fill="#68b800" d="M1064 204l12 0-12-7-12 0z"/><path fill="#22b800" d="M1088 211l13 1-13-8-12 0z"/><path fill="#00b800" d="M1113 219l12 1-12-8-12 0z"/><path fill="#00bb00" d="M387 237l12-9-12 1-12 8z"/><path fill="#00bb00" d="M411 228l12-8-12 0-12 8z"/><path fill="#00bb00" d="M435 220l12-8-12 0-12 8z"/><path fill="#42bb00" d="M459 212l13-8-13 0-12 8z"/><path fill="#80bb00" d="M484 205l12-7-12-1-12 7z"/><path fill="#b0bb00" d="M508 198l12-7-12 0-12 7z"/><path fill="#bba900" d="M533 192l12-6-12-1-13 6z"/><path fill="#bb9700" d="M557 187l13-6-13-1-12 6z"/><path fill="#bb8700" d="M582 182l12-5-12-2-12 6z"/><path fill="#bb7900" d="M607 178l12-5-12-2-13 6z"/><path fill="#bb6f00" d="M631 175l13-6-13-2-12 6z"/><path fill="#bb6700" d="M656 172l12-5-12-3-12 5z"/><path fill="#bb6000" d="M681 169l12-4-12-3-13 5z"/><path fill="#bb5900" d="M706 168l12-5-12-3-13 5z"/><path fill="#bb5500" d="M731 166l12-4-12-3-13 4z"/><path fill="#bb5200" d="M755 166l13-4-13-3-12 3z"/><path fill="#bb5200" d="M780 166l13-4-13-3-12 3z"/><path fill="#bb5500" d="M805 166l13-3-13-4-12 3z"/><path fill="#bb5900" d="M830 167l12-2-12-5-12 3z"/><path fill="#ba6000" d="M855 169l12-2-12-5-13 3z"/><path fill="#ba6600" d="M880 172l12-3-12-5-13 3z"/><path fill="#ba6f00" d="M904 174l13-2-13-5-12 2z"/><path fill="#ba7900" d="M929 178l13-2-13-5-12 1z"/><path fill="#ba8600" d="M954 182l12-1-12-6-12 1z"/><path fill="#ba9600" d="M978 187l13-1-12-7-13 2z"/><path fill="#baa900" d="M1003 192l12-1-12-6-12 1z"/><path fill="#afba00" d="M1027 198l13-1-12-6-13 0z"/><path fill="#7fba00" d="M1052 204l12 0-12-7-12 0z"/><path fill="#42ba00" d="M1076 211l12 0-12-7-12 0z"/><path fill="#00ba00" d="M1100 219l13 0-12-7-13-1z"/><path fill="#00ba00" d="M1124 227l13 1-12-8-12-1z"/><path fill="#00bd00" d="M375 245l12-8-12 0-12 9z"/><path fill="#00bd00" d="M399 236l12-8-12 0-12 9z"/><path fill="#00bd00" d="M423 228l12-8-12 0-12 8z"/><path fill="#02bd00" d="M447 220l12-8-12 0-12 8z"/><path fill="#59bd00" d="M472 212l12-7-12-1-13 8z"/><path fill="#93bd00" d="M496 205l12-7-12 0-12 7z"/><path fill="#bdbc00" d="M520 199l13-7-13-1-12 7z"/><path fill="#bda500" d="M545 194l12-7-12-1-12 6z"/><path fill="#bd9400" d="M570 189l12-7-12-1-13 6z"/><path fill="#bd8500" d="M594 184l13-6-13-1-12 5z"/><path fill="#bd7900" d="M619 180l12-5-12-2-12 5z"/><path fill="#bd6f00" d="M644 177l12-5-12-3-13 6z"/><path fill="#bd6800" d="M668 174l13-5-13-2-12 5z"/><path fill="#bd6200" d="M693 172l13-4-13-3-12 4z"/><path fill="#bd5d00" d="M718 171l13-5-13-3-12 5z"/><path fill="#bd5900" d="M743 170l12-4-12-4-12 4z"/><path fill="#bd5800" d="M768 170l12-4-12-4-13 4z"/><path fill="#bd5900" d="M793 170l12-4-12-4-13 4z"/><path fill="#bd5c00" d="M818 171l12-4-12-4-13 3z"/><path fill="#bd6100" d="M842 172l13-3-13-4-12 2z"/><path fill="#bd6700" d="M867 174l13-2-13-5-12 2z"/><path fill="#bd6f00" d="M892 177l12-3-12-5-12 3z"/><path fill="#bd7800" d="M917 180l12-2-12-6-13 2z"/><path fill="#bd8400" d="M941 184l13-2-12-6-13 2z"/><path fill="#bd9300" d="M966 188l12-1-12-6-12 1z"/><path fill="#bda500" d="M991 193l12-1-12-6-13 1z"/><path fill="#bdbb00" d="M1015 199l12-1-12-7-12 1z"/><path fill="#93bd00" d="M1040 205l12-1-12-7-13 1z"/><path fill="#59bc00" d="M1064 212l12-1-12-7-12 0z"/><path fill="#03bc00" d="M1088 219l12 0-12-8-12 0z"/><path fill="#00bc00" d="M1112 227l12 0-11-8-13 0z"/><path fill="#00bc00" d="M1136 235l12 1-11-8-13-1z"/><path fill="#00bf00" d="M363 254l12-9-12 1-12 9z"/><path fill="#00bf00" d="M387 245l12-9-12 1-12 8z"/><path fill="#00c000" d="M411 236l12-8-12 0-12 8z"/><path fill="#00c000" d="M435 228l12-8-12 0-12 8z"/><path fill="#29c000" d="M460 220l12-8-13 0-12 8z"/><path fill="#6dc000" d="M484 213l12-8-12 0-12 7z"/><path fill="#a3c000" d="M508 206l12-7-12-1-12 7z"/><path fill="#c0b800" d="M533 200l12-6-12-2-13 7z"/><path fill="#bfa300" d="M557 195l13-6-13-2-12 7z"/><path fill="#bf9200" d="M582 190l12-6-12-2-12 7z"/><path fill="#bf8400" d="M607 186l12-6-12-2-13 6z"/><path fill="#bf7900" d="M631 183l13-6-13-2-12 5z"/><path fill="#bf7000" d="M656 180l12-6-12-2-12 5z"/><path fill="#bf6900" d="M681 177l12-5-12-3-13 5z"/><path fill="#bf6400" d="M706 175l12-4-12-3-13 4z"/><path fill="#bf6100" d="M731 174l12-4-12-4-13 5z"/><path fill="#bf5e00" d="M755 174l13-4-13-4-12 4z"/><path fill="#bf5e00" d="M780 174l13-4-13-4-12 4z"/><path fill="#bf6000" d="M805 174l13-3-13-5-12 4z"/><path fill="#bf6400" d="M830 175l12-3-12-5-12 4z"/><path fill="#bf6900" d="M855 177l12-3-12-5-13 3z"/><path fill="#bf7000" d="M880 179l12-2-12-5-13 2z"/><path fill="#bf7900" d="M904 182l13-2-13-6-12 3z"/><path fill="#bf8300" d="M929 186l12-2-12-6-12 2z"/><path fill="#bf9200" d="M954 190l12-2-12-6-13 2z"/><path fill="#bfa200" d="M978 195l13-2-13-6-12 1z"/><path fill="#bfb700" d="M1003 200l12-1-12-7-12 1z"/><path fill="#a3bf00" d="M1027 206l13-1-13-7-12 1z"/><path fill="#6ebf00" d="M1052 212l12 0-12-8-12 1z"/><path fill="#2bbf00" d="M1076 219l12 0-12-8-12 1z"/><path fill="#00bf00" d="M1100 227l12 0-12-8-12 0z"/><path fill="#00bf00" d="M1124 235l12 0-12-8-12 0z"/><path fill="#00be00" d="M1148 244l12 1-12-9-12-1z"/><path fill="#00c100" d="M351 264l12-10-12 1-12 9z"/><path fill="#00c100" d="M375 254l12-9-12 0-12 9z"/><path fill="#00c100" d="M399 245l12-9-12 0-12 9z"/><path fill="#00c100" d="M423 236l12-8-12 0-12 8z"/><path fill="#00c100" d="M447 228l13-8-13 0-12 8z"/><path fill="#42c200" d="M472 221l12-8-12-1-12 8z"/><path fill="#7fc200" d="M496 214l12-8-12-1-12 8z"/><path fill="#b0c200" d="M521 208l12-8-13-1-12 7z"/><path fill="#c2b400" d="M545 202l12-7-12-1-12 6z"/><path fill="#c2a100" d="M570 197l12-7-12-1-13 6z"/><path fill="#c19100" d="M594 192l13-6-13-2-12 6z"/><path fill="#c18400" d="M619 189l12-6-12-3-12 6z"/><path fill="#c17a00" d="M644 185l12-5-12-3-13 6z"/><path fill="#c17200" d="M669 183l12-6-13-3-12 6z"/><path fill="#c16c00" d="M693 180l13-5-13-3-12 5z"/><path fill="#c16700" d="M718 179l13-5-13-3-12 4z"/><path fill="#c16500" d="M743 178l12-4-12-4-12 4z"/><path fill="#c16400" d="M768 178l12-4-12-4-13 4z"/><path fill="#c16400" d="M793 178l12-4-12-4-13 4z"/><path fill="#c16700" d="M818 179l12-4-12-4-13 3z"/><path fill="#c16b00" d="M842 180l13-3-13-5-12 3z"/><path fill="#c17100" d="M867 182l13-3-13-5-12 3z"/><path fill="#c17900" d="M892 185l12-3-12-5-12 2z"/><path fill="#c18300" d="M917 188l12-2-12-6-13 2z"/><path fill="#c19000" d="M941 192l13-2-13-6-12 2z"/><path fill="#c1a000" d="M966 196l12-1-12-7-12 2z"/><path fill="#c1b300" d="M991 201l12-1-12-7-13 2z"/><path fill="#b1c100" d="M1015 207l12-1-12-7-12 1z"/><path fill="#81c100" d="M1039 213l13-1-12-7-13 1z"/><path fill="#44c100" d="M1064 220l12-1-12-7-12 0z"/><path fill="#00c100" d="M1088 227l12 0-12-8-12 0z"/><path fill="#00c100" d="M1112 235l12 0-12-8-12 0z"/><path fill="#00c000" d="M1136 244l12 0-12-9-12 0z"/><path fill="#00c000" d="M1160 253l12 1-12-9-12-1z"/><path fill="#00c321" d="M340 274l11-10-12 0-11 10z"/><path fill="#00c300" d="M363 263l12-9-12 0-12 10z"/><path fill="#00c300" d="M387 254l12-9-12 0-12 9z"/><path fill="#00c300" d="M411 245l12-9-12 0-12 9z"/><path fill="#00c300" d="M435 237l12-9-12 0-12 8z"/><path fill="#00c300" d="M460 229l12-8-12-1-13 8z"/><path fill="#54c300" d="M484 222l12-8-12-1-12 8z"/><path fill="#90c300" d="M508 215l13-7-13-2-12 8z"/><path fill="#bcc300" d="M533 209l12-7-12-2-12 8z"/><path fill="#c3b100" d="M557 204l13-7-13-2-12 7z"/><path fill="#c3a000" d="M582 199l12-7-12-2-12 7z"/><path fill="#c39100" d="M607 195l12-6-12-3-13 6z"/><path fill="#c38400" d="M631 191l13-6-13-2-12 6z"/><path fill="#c37b00" d="M656 188l13-5-13-3-12 5z"/><path fill="#c37400" d="M681 186l12-6-12-3-12 6z"/><path fill="#c36f00" d="M706 184l12-5-12-4-13 5z"/><path fill="#c36b00" d="M731 183l12-5-12-4-13 5z"/><path fill="#c36900" d="M755 182l13-4-13-4-12 4z"/><path fill="#c36900" d="M780 182l13-4-13-4-12 4z"/><path fill="#c36b00" d="M805 183l13-4-13-5-12 4z"/><path fill="#c36f00" d="M830 184l12-4-12-5-12 4z"/><path fill="#c37400" d="M855 186l12-4-12-5-13 3z"/><path fill="#c37b00" d="M879 188l13-3-12-6-13 3z"/><path fill="#c38400" d="M904 191l13-3-13-6-12 3z"/><path fill="#c39000" d="M929 194l12-2-12-6-12 2z"/><path fill="#c39f00" d="M954 198l12-2-12-6-13 2z"/><path fill="#c3b000" d="M978 203l13-2-13-6-12 1z"/><path fill="#bdc300" d="M1003 209l12-2-12-7-12 1z"/><path fill="#91c300" d="M1027 214l12-1-12-7-12 1z"/><path fill="#56c300" d="M1052 221l12-1-12-8-13 1z"/><path fill="#00c300" d="M1076 228l12-1-12-8-12 1z"/><path fill="#00c300" d="M1100 236l12-1-12-8-12 0z"/><path fill="#00c200" d="M1124 244l12 0-12-9-12 0z"/><path fill="#00c200" d="M1148 253l12 0-12-9-12 0z"/><path fill="#00c200" d="M1172 262l12 1-12-9-12-1z"/><path fill="#00c54f" d="M328 284l12-10-12 0-12 10z"/><path fill="#00c50b" d="M352 273l11-10-12 1-11 10z"/><path fill="#00c500" d="M375 263l12-9-12 0-12 9z"/><path fill="#00c500" d="M399 254l12-9-12 0-12 9z"/><path fill="#00c500" d="M423 245l12-8-12-1-12 9z"/><path fill="#00c500" d="M448 237l12-8-13-1-12 9z"/><path fill="#1ac500" d="M472 230l12-8-12-1-12 8z"/><path fill="#64c500" d="M496 223l12-8-12-1-12 8z"/><path fill="#9bc500" d="M521 217l12-8-12-1-13 7z"/><path fill="#c5c500" d="M545 211l12-7-12-2-12 7z"/><path fill="#c5b000" d="M570 206l12-7-12-2-13 7z"/><path fill="#c59f00" d="M594 201l13-6-13-3-12 7z"/><path fill="#c59200" d="M619 197l12-6-12-2-12 6z"/><path fill="#c58600" d="M644 194l12-6-12-3-13 6z"/><path fill="#c57e00" d="M669 191l12-5-12-3-13 5z"/><path fill="#c57700" d="M693 189l13-5-13-4-12 6z"/><path fill="#c57300" d="M718 188l13-5-13-4-12 5z"/><path fill="#c57000" d="M743 187l12-5-12-4-12 5z"/><path fill="#c56f00" d="M768 186l12-4-12-4-13 4z"/><path fill="#c57000" d="M793 187l12-4-12-5-13 4z"/><path fill="#c57300" d="M817 188l13-4-12-5-13 4z"/><path fill="#c57700" d="M842 189l13-3-13-6-12 4z"/><path fill="#c57d00" d="M867 191l12-3-12-6-12 4z"/><path fill="#c58500" d="M892 194l12-3-12-6-13 3z"/><path fill="#c59100" d="M917 197l12-3-12-6-13 3z"/><path fill="#c59e00" d="M941 201l13-3-13-6-12 2z"/><path fill="#c5ae00" d="M966 205l12-2-12-7-12 2z"/><path fill="#c5c400" d="M990 210l13-1-12-8-13 2z"/><path fill="#9dc500" d="M1015 216l12-2-12-7-12 2z"/><path fill="#67c500" d="M1039 222l13-1-13-8-12 1z"/><path fill="#1fc400" d="M1064 229l12-1-12-8-12 1z"/><path fill="#00c400" d="M1088 236l12 0-12-9-12 1z"/><path fill="#00c400" d="M1112 244l12 0-12-9-12 1z"/><path fill="#00c400" d="M1136 253l12 0-12-9-12 0z"/><path fill="#00c400" d="M1160 262l12 0-12-9-12 0z"/><path fill="#00c40a" d="M1184 272l12 0-12-9-12-1z"/><path fill="#00c638" d="M340 283l12-10-12 1-12 10z"/><path fill="#00c700" d="M364 273l11-10-12 0-11 10z"/><path fill="#00c700" d="M387 263l12-9-12 0-12 9z"/><path fill="#00c700" d="M411 254l12-9-12 0-12 9z"/><path fill="#00c700" d="M436 246l12-9-13 0-12 8z"/><path fill="#00c700" d="M460 238l12-8-12-1-12 8z"/><path fill="#35c700" d="M484 231l12-8-12-1-12 8z"/><path fill="#72c700" d="M509 224l12-7-13-2-12 8z"/><path fill="#a5c700" d="M533 218l12-7-12-2-12 8z"/><path fill="#c7c300" d="M558 213l12-7-13-2-12 7z"/><path fill="#c7af00" d="M582 208l12-7-12-2-12 7z"/><path fill="#c7a000" d="M607 204l12-7-12-2-13 6z"/><path fill="#c79300" d="M631 200l13-6-13-3-12 6z"/><path fill="#c78800" d="M656 197l13-6-13-3-12 6z"/><path fill="#c78100" d="M681 195l12-6-12-3-12 5z"/><path fill="#c77b00" d="M706 193l12-5-12-4-13 5z"/><path fill="#c77800" d="M731 192l12-5-12-4-13 5z"/><path fill="#c77600" d="M755 191l13-5-13-4-12 5z"/><path fill="#c77600" d="M780 191l13-4-13-5-12 4z"/><path fill="#c77700" d="M805 192l12-4-12-5-12 4z"/><path fill="#c77b00" d="M830 193l12-4-12-5-13 4z"/><path fill="#c78000" d="M855 195l12-4-12-5-13 3z"/><path fill="#c78800" d="M879 197l13-3-13-6-12 3z"/><path fill="#c79200" d="M904 200l13-3-13-6-12 3z"/><path fill="#c69f00" d="M929 203l12-2-12-7-12 3z"/><path fill="#c6ae00" d="M953 208l13-3-12-7-13 3z"/><path fill="#c6c200" d="M978 212l12-2-12-7-12 2z"/><path fill="#a7c600" d="M1003 218l12-2-12-7-13 1z"/><path fill="#75c600" d="M1027 224l12-2-12-8-12 2z"/><path fill="#39c600" d="M1051 230l13-1-12-8-13 1z"/><path fill="#00c600" d="M1076 237l12-1-12-8-12 1z"/><path fill="#00c600" d="M1100 245l12-1-12-8-12 0z"/><path fill="#00c600" d="M1124 253l12 0-12-9-12 0z"/><path fill="#00c600" d="M1148 262l12 0-12-9-12 0z"/><path fill="#00c600" d="M1172 272l12 0-12-10-12 0z"/><path fill="#00c824" d="M352 283l12-10-12 0-12 10z"/><path fill="#00c800" d="M376 273l11-10-12 0-11 10z"/><path fill="#00c800" d="M400 264l11-10-12 0-12 9z"/><path fill="#00c800" d="M424 255l12-9-13-1-12 9z"/><path fill="#00c800" d="M448 247l12-9-12-1-12 9z"/><path fill="#00c800" d="M472 240l12-9-12-1-12 8z"/><path fill="#43c800" d="M496 233l13-9-13-1-12 8z"/><path fill="#7dc800" d="M521 226l12-8-12-1-12 7z"/><path fill="#acc800" d="M545 221l13-8-13-2-12 7z"/><path fill="#c8c300" d="M570 215l12-7-12-2-12 7z"/><path fill="#c8af00" d="M594 211l13-7-13-3-12 7z"/><path fill="#c8a100" d="M619 207l12-7-12-3-12 7z"/><path fill="#c89500" d="M644 204l12-7-12-3-13 6z"/><path fill="#c88c00" d="M669 201l12-6-12-4-13 6z"/><path fill="#c88500" d="M693 199l13-6-13-4-12 6z"/><path fill="#c88000" d="M718 197l13-5-13-4-12 5z"/><path fill="#c87d00" d="M743 196l12-5-12-4-12 5z"/><path fill="#c87c00" d="M768 196l12-5-12-5-13 5z"/><path fill="#c87d00" d="M793 196l12-4-12-5-13 4z"/><path fill="#c88000" d="M817 197l13-4-13-5-12 4z"/><path fill="#c88400" d="M842 198l13-3-13-6-12 4z"/><path fill="#c88b00" d="M867 200l12-3-12-6-12 4z"/><path fill="#c89500" d="M892 203l12-3-12-6-13 3z"/><path fill="#c8a000" d="M916 206l13-3-12-6-13 3z"/><path fill="#c8ae00" d="M941 210l12-2-12-7-12 2z"/><path fill="#c8c100" d="M966 215l12-3-12-7-13 3z"/><path fill="#afc800" d="M990 220l13-2-13-8-12 2z"/><path fill="#81c800" d="M1015 225l12-1-12-8-12 2z"/><path fill="#47c800" d="M1039 232l12-2-12-8-12 2z"/><path fill="#00c800" d="M1063 239l13-2-12-8-13 1z"/><path fill="#00c800" d="M1088 246l12-1-12-9-12 1z"/><path fill="#00c800" d="M1112 254l12-1-12-9-12 1z"/><path fill="#00c700" d="M1136 263l12-1-12-9-12 0z"/><path fill="#00c700" d="M1159 272l13 0-12-10-12 0z"/><path fill="#00c910" d="M364 283l12-10-12 0-12 10z"/><path fill="#00ca00" d="M388 274l12-10-13-1-11 10z"/><path fill="#00ca00" d="M412 265l12-10-13-1-11 10z"/><path fill="#00ca00" d="M436 256l12-9-12-1-12 9z"/><path fill="#00ca00" d="M460 248l12-8-12-2-12 9z"/><path fill="#00ca00" d="M484 241l12-8-12-2-12 9z"/><path fill="#4eca00" d="M509 234l12-8-12-2-13 9z"/><path fill="#86ca00" d="M533 228l12-7-12-3-12 8z"/><path fill="#b2ca00" d="M558 223l12-8-12-2-13 8z"/><path fill="#cac300" d="M582 218l12-7-12-3-12 7z"/><path fill="#cab100" d="M607 214l12-7-12-3-13 7z"/><path fill="#caa400" d="M632 210l12-6-13-4-12 7z"/><path fill="#ca9900" d="M656 207l13-6-13-4-12 7z"/><path fill="#ca9000" d="M681 205l12-6-12-4-12 6z"/><path fill="#ca8a00" d="M706 203l12-6-12-4-13 6z"/><path fill="#ca8600" d="M731 202l12-6-12-4-13 5z"/><path fill="#ca8400" d="M755 201l13-5-13-5-12 5z"/><path fill="#ca8400" d="M780 201l13-5-13-5-12 5z"/><path fill="#ca8500" d="M805 201l12-4-12-5-12 4z"/><path fill="#ca8900" d="M830 203l12-5-12-5-13 4z"/><path fill="#ca8f00" d="M855 204l12-4-12-5-13 3z"/><path fill="#ca9800" d="M879 207l13-4-13-6-12 3z"/><path fill="#caa300" d="M904 210l12-4-12-6-12 3z"/><path fill="#cab000" d="M929 213l12-3-12-7-13 3z"/><path fill="#cac100" d="M953 217l13-2-13-7-12 2z"/><path fill="#b4c900" d="M978 222l12-2-12-8-12 3z"/><path fill="#8ac900" d="M1002 228l13-3-12-7-13 2z"/><path fill="#53c900" d="M1027 234l12-2-12-8-12 1z"/><path fill="#00c900" d="M1051 240l12-1-12-9-12 2z"/><path fill="#00c900" d="M1075 247l13-1-12-9-13 2z"/><path fill="#00c900" d="M1099 255l13-1-12-9-12 1z"/><path fill="#00c900" d="M1123 263l13 0-12-10-12 1z"/><path fill="#00c900" d="M1147 272l12 0-11-10-12 1z"/><path fill="#00cb05" d="M376 284l12-10-12-1-12 10z"/><path fill="#00cb00" d="M400 275l12-10-12-1-12 10z"/><path fill="#00cb00" d="M424 266l12-10-12-1-12 10z"/><path fill="#00cb00" d="M448 258l12-10-12-1-12 9z"/><path fill="#00cb00" d="M472 250l12-9-12-1-12 8z"/><path fill="#08cb00" d="M497 243l12-9-13-1-12 8z"/><path fill="#57cb00" d="M521 237l12-9-12-2-12 8z"/><path fill="#8ccb00" d="M545 231l13-8-13-2-12 7z"/><path fill="#b5cb00" d="M570 226l12-8-12-3-12 8z"/><path fill="#cbc400" d="M595 221l12-7-13-3-12 7z"/><path fill="#cbb300" d="M619 217l13-7-13-3-12 7z"/><path fill="#cba700" d="M644 214l12-7-12-3-12 6z"/><path fill="#cb9d00" d="M669 211l12-6-12-4-13 6z"/><path fill="#cb9600" d="M693 209l13-6-13-4-12 6z"/><path fill="#cb9000" d="M718 207l13-5-13-5-12 6z"/><path fill="#cb8d00" d="M743 206l12-5-12-5-12 6z"/><path fill="#cb8b00" d="M768 206l12-5-12-5-13 5z"/><path fill="#cb8c00" d="M793 206l12-5-12-5-13 5z"/><path fill="#cb9000" d="M817 207l13-4-13-6-12 4z"/><path fill="#cb9500" d="M842 208l13-4-13-6-12 5z"/><path fill="#cb9c00" d="M867 211l12-4-12-7-12 4z"/><path fill="#cba600" d="M892 213l12-3-12-7-13 4z"/><path fill="#cbb200" d="M916 217l13-4-13-7-12 4z"/><path fill="#cbc200" d="M941 220l12-3-12-7-12 3z"/><path fill="#b8cb00" d="M965 225l13-3-12-7-13 2z"/><path fill="#90cb00" d="M990 230l12-2-12-8-12 2z"/><path fill="#5ccb00" d="M1014 236l13-2-12-9-13 3z"/><path fill="#10cb00" d="M1039 242l12-2-12-8-12 2z"/><path fill="#00cb00" d="M1063 249l12-2-12-8-12 1z"/><path fill="#00cb00" d="M1087 256l12-1-11-9-13 1z"/><path fill="#00ca00" d="M1111 264l12-1-11-9-13 1z"/><path fill="#00ca00" d="M1135 273l12-1-11-9-13 0z"/><path fill="#00cc00" d="M388 285l12-10-12-1-12 10z"/><path fill="#00cc00" d="M412 276l12-10-12-1-12 10z"/><path fill="#00cc00" d="M436 267l12-9-12-2-12 10z"/><path fill="#00cc00" d="M460 259l12-9-12-2-12 10z"/><path fill="#00cc00" d="M484 252l13-9-13-2-12 9z"/><path fill="#16cc00" d="M509 245l12-8-12-3-12 9z"/><path fill="#5dcd00" d="M533 239l12-8-12-3-12 9z"/><path fill="#90cd00" d="M558 234l12-8-12-3-13 8z"/><path fill="#b6cd00" d="M582 229l13-8-13-3-12 8z"/><path fill="#cdc700" d="M607 224l12-7-12-3-12 7z"/><path fill="#cdb700" d="M632 221l12-7-12-4-13 7z"/><path fill="#cdab00" d="M656 218l13-7-13-4-12 7z"/><path fill="#cda300" d="M681 215l12-6-12-4-12 6z"/><path fill="#cd9c00" d="M706 213l12-6-12-4-13 6z"/><path fill="#cd9700" d="M731 212l12-6-12-4-13 5z"/><path fill="#cd9500" d="M755 211l13-5-13-5-12 5z"/><path fill="#cd9500" d="M780 211l13-5-13-5-12 5z"/><path fill="#cd9700" d="M805 212l12-5-12-6-12 5z"/><path fill="#cc9b00" d="M830 213l12-5-12-5-13 4z"/><path fill="#cca200" d="M854 215l13-4-12-7-13 4z"/><path fill="#ccaa00" d="M879 217l13-4-13-6-12 4z"/><path fill="#ccb600" d="M904 220l12-3-12-7-12 3z"/><path fill="#ccc500" d="M928 224l13-4-12-7-13 4z"/><path fill="#b9cc00" d="M953 228l12-3-12-8-12 3z"/><path fill="#94cc00" d="M978 233l12-3-12-8-13 3z"/><path fill="#62cc00" d="M1002 238l12-2-12-8-12 2z"/><path fill="#20cc00" d="M1026 244l13-2-12-8-13 2z"/><path fill="#00cc00" d="M1051 251l12-2-12-9-12 2z"/><path fill="#00cc00" d="M1075 258l12-2-12-9-12 2z"/><path fill="#00cc00" d="M1099 266l12-2-12-9-12 1z"/><path fill="#00cc00" d="M1123 274l12-1-12-10-12 1z"/><path fill="#00cd00" d="M400 286l12-10-12-1-12 10z"/><path fill="#00ce00" d="M424 277l12-10-12-1-12 10z"/><path fill="#00ce00" d="M448 269l12-10-12-1-12 9z"/><path fill="#00ce00" d="M472 261l12-9-12-2-12 9z"/><path fill="#00ce00" d="M497 254l12-9-12-2-13 9z"/><path fill="#20ce00" d="M521 248l12-9-12-2-12 8z"/><path fill="#61ce00" d="M546 242l12-8-13-3-12 8z"/><path fill="#91ce00" d="M570 237l12-8-12-3-12 8z"/><path fill="#b5ce00" d="M595 232l12-8-12-3-13 8z"/><path fill="#cecb00" d="M619 228l13-7-13-4-12 7z"/><path fill="#cebc00" d="M644 225l12-7-12-4-12 7z"/><path fill="#ceb100" d="M669 222l12-7-12-4-13 7z"/><path fill="#cea900" d="M693 220l13-7-13-4-12 6z"/><path fill="#cea300" d="M718 218l13-6-13-5-12 6z"/><path fill="#cea000" d="M743 217l12-6-12-5-12 6z"/><path fill="#ce9f00" d="M768 217l12-6-12-5-13 5z"/><path fill="#cea000" d="M792 217l13-5-12-6-13 5z"/><path fill="#cea300" d="M817 218l13-5-13-6-12 5z"/><path fill="#cea800" d="M842 219l12-4-12-7-12 5z"/><path fill="#ceb000" d="M867 221l12-4-12-6-13 4z"/><path fill="#ceba00" d="M891 224l13-4-12-7-13 4z"/><path fill="#cec900" d="M916 227l12-3-12-7-12 3z"/><path fill="#b8ce00" d="M941 231l12-3-12-8-13 4z"/><path fill="#96cd00" d="M965 236l13-3-13-8-12 3z"/><path fill="#66cd00" d="M990 241l12-3-12-8-12 3z"/><path fill="#2bcd00" d="M1014 246l12-2-12-8-12 2z"/><path fill="#00cd00" d="M1039 253l12-2-12-9-13 2z"/><path fill="#00cd00" d="M1063 260l12-2-12-9-12 2z"/><path fill="#00cd00" d="M1087 267l12-1-12-10-12 2z"/><path fill="#00cd00" d="M1111 275l12-1-12-10-12 2z"/><path fill="#00cf00" d="M412 287l12-10-12-1-12 10z"/><path fill="#00cf00" d="M436 279l12-10-12-2-12 10z"/><path fill="#00cf00" d="M460 271l12-10-12-2-12 10z"/><path fill="#00cf00" d="M485 263l12-9-13-2-12 9z"/><path fill="#00cf00" d="M509 256l12-8-12-3-12 9z"/><path fill="#26cf00" d="M533 250l13-8-13-3-12 9z"/><path fill="#62cf00" d="M558 245l12-8-12-3-12 8z"/><path fill="#90cf00" d="M582 240l13-8-13-3-12 8z"/><path fill="#b2cf00" d="M607 236l12-8-12-4-12 8z"/><path fill="#cecf00" d="M632 232l12-7-12-4-13 7z"/><path fill="#cfc200" d="M656 229l13-7-13-4-12 7z"/><path fill="#cfb700" d="M681 226l12-6-12-5-12 7z"/><path fill="#cfb000" d="M706 224l12-6-12-5-13 7z"/><path fill="#cfac00" d="M731 223l12-6-12-5-13 6z"/><path fill="#cfa900" d="M755 222l13-5-13-6-12 6z"/><path fill="#cfa900" d="M780 222l12-5-12-6-12 6z"/><path fill="#cfab00" d="M805 223l12-5-12-6-13 5z"/><path fill="#cfb000" d="M830 224l12-5-12-6-13 5z"/><path fill="#cfb600" d="M854 226l13-5-13-6-12 4z"/><path fill="#cfc100" d="M879 228l12-4-12-7-12 4z"/><path fill="#cfce00" d="M904 231l12-4-12-7-13 4z"/><path fill="#b5cf00" d="M928 235l13-4-13-7-12 3z"/><path fill="#94cf00" d="M953 239l12-3-12-8-12 3z"/><path fill="#67cf00" d="M977 244l13-3-12-8-13 3z"/><path fill="#31cf00" d="M1002 249l12-3-12-8-12 3z"/><path fill="#00ce00" d="M1026 255l13-2-13-9-12 2z"/><path fill="#00ce00" d="M1051 262l12-2-12-9-12 2z"/><path fill="#00ce00" d="M1075 269l12-2-12-9-12 2z"/><path fill="#00ce00" d="M1099 277l12-2-12-9-12 1z"/><path fill="#00d000" d="M424 289l12-10-12-2-12 10z"/><path fill="#00d000" d="M448 280l12-9-12-2-12 10z"/><path fill="#00d000" d="M473 273l12-10-13-2-12 10z"/><path fill="#00d000" d="M497 266l12-10-12-2-12 9z"/><path fill="#00d000" d="M521 259l12-9-12-2-12 8z"/><path fill="#27d000" d="M546 253l12-8-12-3-13 8z"/><path fill="#60d000" d="M570 248l12-8-12-3-12 8z"/><path fill="#8bd000" d="M595 243l12-7-12-4-13 8z"/><path fill="#add000" d="M619 239l13-7-13-4-12 8z"/><path fill="#c7d000" d="M644 236l12-7-12-4-12 7z"/><path fill="#d0c900" d="M669 233l12-7-12-4-13 7z"/><path fill="#d0c000" d="M693 231l13-7-13-4-12 6z"/><path fill="#d0b900" d="M718 229l13-6-13-5-12 6z"/><path fill="#d0b500" d="M743 228l12-6-12-5-12 6z"/><path fill="#d0b400" d="M768 228l12-6-12-5-13 5z"/><path fill="#d0b500" d="M792 228l13-5-13-6-12 5z"/><path fill="#d0b900" d="M817 229l13-5-13-6-12 5z"/><path fill="#d0bf00" d="M842 231l12-5-12-7-12 5z"/><path fill="#d0c800" d="M867 233l12-5-12-7-13 5z"/><path fill="#c9d000" d="M891 235l13-4-13-7-12 4z"/><path fill="#b0d000" d="M916 239l12-4-12-8-12 4z"/><path fill="#90d000" d="M941 243l12-4-12-8-13 4z"/><path fill="#65d000" d="M965 247l12-3-12-8-12 3z"/><path fill="#32d000" d="M990 252l12-3-12-8-13 3z"/><path fill="#00d000" d="M1014 258l12-3-12-9-12 3z"/><path fill="#00d000" d="M1038 264l13-2-12-9-13 2z"/><path fill="#00cf00" d="M1062 271l13-2-12-9-12 2z"/><path fill="#00cf00" d="M1087 279l12-2-12-10-12 2z"/><path fill="#00d100" d="M437 291l11-11-12-1-12 10z"/><path fill="#00d100" d="M461 283l12-10-13-2-12 9z"/><path fill="#00d100" d="M485 275l12-9-12-3-12 10z"/><path fill="#00d100" d="M509 268l12-9-12-3-12 10z"/><path fill="#00d100" d="M534 262l12-9-13-3-12 9z"/><path fill="#24d100" d="M558 257l12-9-12-3-12 8z"/><path fill="#5cd100" d="M583 252l12-9-13-3-12 8z"/><path fill="#84d100" d="M607 247l12-8-12-3-12 7z"/><path fill="#a5d100" d="M632 244l12-8-12-4-13 7z"/><path fill="#bdd100" d="M656 240l13-7-13-4-12 7z"/><path fill="#d0d100" d="M681 238l12-7-12-5-12 7z"/><path fill="#d1ca00" d="M706 236l12-7-12-5-13 7z"/><path fill="#d1c400" d="M731 235l12-7-12-5-13 6z"/><path fill="#d1c200" d="M755 234l13-6-13-6-12 6z"/><path fill="#d1c100" d="M780 234l12-6-12-6-12 6z"/><path fill="#d1c400" d="M805 235l12-6-12-6-13 5z"/><path fill="#d1c900" d="M830 236l12-5-12-7-13 5z"/><path fill="#d1d100" d="M854 238l13-5-13-7-12 5z"/><path fill="#bfd100" d="M879 240l12-5-12-7-12 5z"/><path fill="#a8d100" d="M904 243l12-4-12-8-13 4z"/><path fill="#89d100" d="M928 247l13-4-13-8-12 4z"/><path fill="#61d100" d="M953 251l12-4-12-8-12 4z"/><path fill="#2fd100" d="M977 256l13-4-13-8-12 3z"/><path fill="#00d100" d="M1002 261l12-3-12-9-12 3z"/><path fill="#00d100" d="M1026 267l12-3-12-9-12 3z"/><path fill="#00d100" d="M1050 274l12-3-11-9-13 2z"/><path fill="#00d000" d="M1074 281l13-2-12-10-13 2z"/><path fill="#00d200" d="M449 293l12-10-13-3-11 11z"/><path fill="#00d200" d="M473 285l12-10-12-2-12 10z"/><path fill="#00d200" d="M497 278l12-10-12-2-12 9z"/><path fill="#00d200" d="M522 272l12-10-13-3-12 9z"/><path fill="#00d200" d="M546 266l12-9-12-4-12 9z"/><path fill="#1cd200" d="M570 260l13-8-13-4-12 9z"/><path fill="#54d200" d="M595 256l12-9-12-4-12 9z"/><path fill="#7ad200" d="M620 252l12-8-13-5-12 8z"/><path fill="#9ad200" d="M644 248l12-8-12-4-12 8z"/><path fill="#b0d200" d="M669 245l12-7-12-5-13 7z"/><path fill="#c1d200" d="M693 243l13-7-13-5-12 7z"/><path fill="#cdd200" d="M718 241l13-6-13-6-12 7z"/><path fill="#d2d100" d="M743 240l12-6-12-6-12 7z"/><path fill="#d2cf00" d="M768 240l12-6-12-6-13 6z"/><path fill="#d2d000" d="M792 240l13-5-13-7-12 6z"/><path fill="#ced200" d="M817 241l13-5-13-7-12 6z"/><path fill="#c3d200" d="M842 243l12-5-12-7-12 5z"/><path fill="#b3d200" d="M866 245l13-5-12-7-13 5z"/><path fill="#9ed200" d="M891 247l13-4-13-8-12 5z"/><path fill="#7fd200" d="M916 251l12-4-12-8-12 4z"/><path fill="#5ad200" d="M940 255l13-4-12-8-13 4z"/><path fill="#27d200" d="M965 259l12-3-12-9-12 4z"/><path fill="#00d200" d="M989 264l13-3-12-9-13 4z"/><path fill="#00d200" d="M1014 270l12-3-12-9-12 3z"/><path fill="#00d200" d="M1038 277l12-3-12-10-12 3z"/><path fill="#00d200" d="M1062 284l12-3-12-10-12 3z"/><path fill="#00d300" d="M461 295l12-10-12-2-12 10z"/><path fill="#00d300" d="M485 288l12-10-12-3-12 10z"/><path fill="#00d300" d="M509 281l13-9-13-4-12 10z"/><path fill="#00d300" d="M534 275l12-9-12-4-12 10z"/><path fill="#00d300" d="M558 269l12-9-12-3-12 9z"/><path fill="#0fd300" d="M583 264l12-8-12-4-13 8z"/><path fill="#4ad300" d="M607 260l13-8-13-5-12 9z"/><path fill="#6ed300" d="M632 256l12-8-12-4-12 8z"/><path fill="#8bd300" d="M657 253l12-8-13-5-12 8z"/><path fill="#a2d300" d="M681 250l12-7-12-5-12 7z"/><path fill="#b0d300" d="M706 249l12-8-12-5-13 7z"/><path fill="#bad300" d="M731 247l12-7-12-5-13 6z"/><path fill="#bfd300" d="M755 247l13-7-13-6-12 6z"/><path fill="#bfd300" d="M780 246l12-6-12-6-12 6z"/><path fill="#bbd300" d="M805 247l12-6-12-6-13 5z"/><path fill="#b2d300" d="M829 248l13-5-12-7-13 5z"/><path fill="#a4d300" d="M854 250l12-5-12-7-12 5z"/><path fill="#8fd300" d="M879 252l12-5-12-7-13 5z"/><path fill="#72d300" d="M903 255l13-4-12-8-13 4z"/><path fill="#50d300" d="M928 259l12-4-12-8-12 4z"/><path fill="#1ad300" d="M952 263l13-4-12-8-13 4z"/><path fill="#00d300" d="M977 268l12-4-12-8-12 3z"/><path fill="#00d300" d="M1001 274l13-4-12-9-13 3z"/><path fill="#00d300" d="M1026 280l12-3-12-10-12 3z"/><path fill="#00d300" d="M1050 286l12-2-12-10-12 3z"/><path fill="#00d400" d="M473 298l12-10-12-3-12 10z"/><path fill="#00d400" d="M497 291l12-10-12-3-12 10z"/><path fill="#00d400" d="M522 285l12-10-12-3-13 9z"/><path fill="#00d400" d="M546 279l12-10-12-3-12 9z"/><path fill="#00d400" d="M571 273l12-9-13-4-12 9z"/><path fill="#00d400" d="M595 269l12-9-12-4-12 8z"/><path fill="#3ed400" d="M620 264l12-8-12-4-13 8z"/><path fill="#5ed400" d="M644 261l13-8-13-5-12 8z"/><path fill="#79d400" d="M669 258l12-8-12-5-12 8z"/><path fill="#8ed400" d="M694 256l12-7-13-6-12 7z"/><path fill="#9dd400" d="M718 254l13-7-13-6-12 8z"/><path fill="#a4d400" d="M743 253l12-6-12-7-12 7z"/><path fill="#a7d400" d="M768 253l12-7-12-6-13 7z"/><path fill="#a5d400" d="M792 253l13-6-13-7-12 6z"/><path fill="#9ed400" d="M817 254l12-6-12-7-12 6z"/><path fill="#90d400" d="M842 255l12-5-12-7-13 5z"/><path fill="#7dd400" d="M866 258l13-6-13-7-12 5z"/><path fill="#63d400" d="M891 260l12-5-12-8-12 5z"/><path fill="#43d400" d="M916 264l12-5-12-8-13 4z"/><path fill="#09d400" d="M940 267l12-4-12-8-12 4z"/><path fill="#00d400" d="M965 272l12-4-12-9-13 4z"/><path fill="#00d400" d="M989 277l12-3-12-10-12 4z"/><path fill="#00d400" d="M1013 283l13-3-12-10-13 4z"/><path fill="#00d300" d="M1038 289l12-3-12-9-12 3z"/><path fill="#00d500" d="M485 301l12-10-12-3-12 10z"/><path fill="#00d500" d="M510 294l12-9-13-4-12 10z"/><path fill="#00d500" d="M534 288l12-9-12-4-12 10z"/><path fill="#00d500" d="M558 283l13-10-13-4-12 10z"/><path fill="#00d500" d="M583 278l12-9-12-5-12 9z"/><path fill="#00d500" d="M607 273l13-9-13-4-12 9z"/><path fill="#25d500" d="M632 269l12-8-12-5-12 8z"/><path fill="#4cd500" d="M657 266l12-8-12-5-13 8z"/><path fill="#64d500" d="M681 264l13-8-13-6-12 8z"/><path fill="#76d500" d="M706 262l12-8-12-5-12 7z"/><path fill="#82d500" d="M731 260l12-7-12-6-13 7z"/><path fill="#88d500" d="M755 260l13-7-13-6-12 6z"/><path fill="#89d500" d="M780 260l12-7-12-7-12 7z"/><path fill="#83d500" d="M805 260l12-6-12-7-13 6z"/><path fill="#78d500" d="M829 261l13-6-13-7-12 6z"/><path fill="#67d500" d="M854 263l12-5-12-8-12 5z"/><path fill="#50d500" d="M879 265l12-5-12-8-13 6z"/><path fill="#2ed500" d="M903 268l13-4-13-9-12 5z"/><path fill="#00d500" d="M928 272l12-5-12-8-12 5z"/><path fill="#00d500" d="M952 276l13-4-13-9-12 4z"/><path fill="#00d500" d="M977 281l12-4-12-9-12 4z"/><path fill="#00d400" d="M1001 287l12-4-12-9-12 3z"/><path fill="#00d400" d="M1025 293l13-4-12-9-13 3z"/><path fill="#00d500" d="M498 305l12-11-13-3-12 10z"/><path fill="#00d500" d="M522 298l12-10-12-3-12 9z"/><path fill="#00d600" d="M546 292l12-9-12-4-12 9z"/><path fill="#00d600" d="M571 287l12-9-12-5-13 10z"/><path fill="#00d600" d="M595 282l12-9-12-4-12 9z"/><path fill="#00d600" d="M620 278l12-9-12-5-13 9z"/><path fill="#04d600" d="M644 275l13-9-13-5-12 8z"/><path fill="#34d600" d="M669 272l12-8-12-6-12 8z"/><path fill="#4cd600" d="M694 269l12-7-12-6-13 8z"/><path fill="#5bd600" d="M718 268l13-8-13-6-12 8z"/><path fill="#64d600" d="M743 267l12-7-12-7-12 7z"/><path fill="#68d600" d="M768 266l12-6-12-7-13 7z"/><path fill="#65d600" d="M792 267l13-7-13-7-12 7z"/><path fill="#5dd600" d="M817 267l12-6-12-7-12 6z"/><path fill="#4fd600" d="M842 269l12-6-12-8-13 6z"/><path fill="#3bd600" d="M866 271l13-6-13-7-12 5z"/><path fill="#0ed600" d="M891 274l12-6-12-8-12 5z"/><path fill="#00d500" d="M915 277l13-5-12-8-13 4z"/><path fill="#00d500" d="M940 281l12-5-12-9-12 5z"/><path fill="#00d500" d="M964 286l13-5-12-9-13 4z"/><path fill="#00d500" d="M989 291l12-4-12-10-12 4z"/><path fill="#00d500" d="M1013 297l12-4-12-10-12 4z"/><path fill="#00d600" d="M510 309l12-11-12-4-12 11z"/><path fill="#00d600" d="M534 302l12-10-12-4-12 10z"/><path fill="#00d600" d="M559 297l12-10-13-4-12 9z"/><path fill="#00d600" d="M583 291l12-9-12-4-12 9z"/><path fill="#00d600" d="M608 287l12-9-13-5-12 9z"/><path fill="#00d600" d="M632 283l12-8-12-6-12 9z"/><path fill="#00d600" d="M657 280l12-8-12-6-13 9z"/><path fill="#09d600" d="M681 277l13-8-13-5-12 8z"/><path fill="#29d600" d="M706 275l12-7-12-6-12 7z"/><path fill="#3dd600" d="M731 274l12-7-12-7-13 8z"/><path fill="#44d600" d="M755 273l13-7-13-6-12 7z"/><path fill="#44d600" d="M780 273l12-6-12-7-12 6z"/><path fill="#3fd600" d="M805 274l12-7-12-7-13 7z"/><path fill="#2ed600" d="M829 275l13-6-13-8-12 6z"/><path fill="#10d600" d="M854 277l12-6-12-8-12 6z"/><path fill="#00d600" d="M878 279l13-5-12-9-13 6z"/><path fill="#00d600" d="M903 282l12-5-12-9-12 6z"/><path fill="#00d600" d="M927 286l13-5-12-9-13 5z"/><path fill="#00d600" d="M952 290l12-4-12-10-12 5z"/><path fill="#00d600" d="M976 295l13-4-12-10-13 5z"/><path fill="#00d600" d="M1001 301l12-4-12-10-12 4z"/><path fill="#00d700" d="M522 313l12-11-12-4-12 11z"/><path fill="#00d700" d="M547 307l12-10-13-5-12 10z"/><path fill="#00d700" d="M571 301l12-10-12-4-12 10z"/><path fill="#00d700" d="M595 296l13-9-13-5-12 9z"/><path fill="#00d700" d="M620 292l12-9-12-5-12 9z"/><path fill="#00d700" d="M644 289l13-9-13-5-12 8z"/><path fill="#00d700" d="M669 286l12-9-12-5-12 8z"/><path fill="#00d700" d="M694 284l12-9-12-6-13 8z"/><path fill="#00d700" d="M718 282l13-8-13-6-12 7z"/><path fill="#05d700" d="M743 281l12-8-12-6-12 7z"/><path fill="#0bd700" d="M768 281l12-8-12-7-13 7z"/><path fill="#07d700" d="M792 281l13-7-13-7-12 6z"/><path fill="#00d700" d="M817 282l12-7-12-8-12 7z"/><path fill="#00d700" d="M841 283l13-6-12-8-13 6z"/><path fill="#00d700" d="M866 285l12-6-12-8-12 6z"/><path fill="#00d700" d="M891 288l12-6-12-8-13 5z"/><path fill="#00d700" d="M915 291l12-5-12-9-12 5z"/><path fill="#00d700" d="M940 295l12-5-12-9-13 5z"/><path fill="#00d700" d="M964 300l12-5-12-9-12 4z"/><path fill="#00d700" d="M988 305l13-4-12-10-13 4z"/><path fill="#00d800" d="M535 317l12-10-13-5-12 11z"/><path fill="#00d800" d="M559 311l12-10-12-4-12 10z"/><path fill="#00d800" d="M583 306l12-10-12-5-12 10z"/><path fill="#00d800" d="M608 302l12-10-12-5-13 9z"/><path fill="#00d800" d="M632 298l12-9-12-6-12 9z"/><path fill="#00d800" d="M657 295l12-9-12-6-13 9z"/><path fill="#00d800" d="M681 292l13-8-13-7-12 9z"/><path fill="#00d800" d="M706 290l12-8-12-7-12 9z"/><path fill="#00d800" d="M731 289l12-8-12-7-13 8z"/><path fill="#00d800" d="M755 288l13-7-13-8-12 8z"/><path fill="#00d800" d="M780 288l12-7-12-8-12 8z"/><path fill="#00d800" d="M804 288l13-6-12-8-13 7z"/><path fill="#00d800" d="M829 290l12-7-12-8-12 7z"/><path fill="#00d800" d="M854 291l12-6-12-8-13 6z"/><path fill="#00d800" d="M878 294l13-6-13-9-12 6z"/><path fill="#00d800" d="M903 297l12-6-12-9-12 6z"/><path fill="#00d800" d="M927 301l13-6-13-9-12 5z"/><path fill="#00d800" d="M952 305l12-5-12-10-12 5z"/><path fill="#00d800" d="M976 310l12-5-12-10-12 5z"/><path fill="#00d800" d="M547 322l12-11-12-4-12 10z"/><path fill="#00d800" d="M571 316l12-10-12-5-12 10z"/><path fill="#00d800" d="M596 311l12-9-13-6-12 10z"/><path fill="#00d800" d="M620 307l12-9-12-6-12 10z"/><path fill="#00d900" d="M645 304l12-9-13-6-12 9z"/><path fill="#00d900" d="M669 301l12-9-12-6-12 9z"/><path fill="#00d900" d="M694 299l12-9-12-6-13 8z"/><path fill="#00d900" d="M718 297l13-8-13-7-12 8z"/><path fill="#00d900" d="M743 296l12-8-12-7-12 8z"/><path fill="#00d900" d="M767 295l13-7-12-7-13 7z"/><path fill="#00d900" d="M792 296l12-8-12-7-12 7z"/><path fill="#00d900" d="M817 296l12-6-12-8-13 6z"/><path fill="#00d800" d="M841 298l13-7-13-8-12 7z"/><path fill="#00d800" d="M866 300l12-6-12-9-12 6z"/><path fill="#00d800" d="M890 303l13-6-12-9-13 6z"/><path fill="#00d800" d="M915 306l12-5-12-10-12 6z"/><path fill="#00d800" d="M939 310l13-5-12-10-13 6z"/><path fill="#00d800" d="M964 315l12-5-12-10-12 5z"/><path fill="#00d900" d="M559 327l12-11-12-5-12 11z"/><path fill="#00d900" d="M584 322l12-11-13-5-12 10z"/><path fill="#00d900" d="M608 317l12-10-12-5-12 9z"/><path fill="#00d900" d="M632 313l13-9-13-6-12 9z"/><path fill="#00d900" d="M657 310l12-9-12-6-12 9z"/><path fill="#00d900" d="M681 307l13-8-13-7-12 9z"/><path fill="#00d900" d="M706 305l12-8-12-7-12 9z"/><path fill="#00d900" d="M731 304l12-8-12-7-13 8z"/><path fill="#00d900" d="M755 303l12-8-12-7-12 8z"/><path fill="#00d900" d="M780 303l12-7-12-8-13 7z"/><path fill="#00d900" d="M804 304l13-8-13-8-12 8z"/><path fill="#00d900" d="M829 305l12-7-12-8-12 6z"/><path fill="#00d900" d="M853 307l13-7-12-9-13 7z"/><path fill="#00d900" d="M878 309l12-6-12-9-12 6z"/><path fill="#00d900" d="M902 312l13-6-12-9-13 6z"/><path fill="#00d900" d="M927 316l12-6-12-9-12 5z"/><path fill="#00d900" d="M951 320l13-5-12-10-13 5z"/><path fill="#00da00" d="M571 332l13-10-13-6-12 11z"/><path fill="#00da00" d="M596 327l12-10-12-6-12 11z"/><path fill="#00da00" d="M620 323l12-10-12-6-12 10z"/><path fill="#00da00" d="M645 319l12-9-12-6-13 9z"/><path fill="#00da00" d="M669 316l12-9-12-6-12 9z"/><path fill="#00da00" d="M694 314l12-9-12-6-13 8z"/><path fill="#00da00" d="M718 312l13-8-13-7-12 8z"/><path fill="#00da00" d="M743 311l12-8-12-7-12 8z"/><path fill="#00da00" d="M767 311l13-8-13-8-12 8z"/><path fill="#00da00" d="M792 311l12-7-12-8-12 7z"/><path fill="#00da00" d="M817 312l12-7-12-9-13 8z"/><path fill="#00da00" d="M841 314l12-7-12-9-12 7z"/><path fill="#00da00" d="M866 316l12-7-12-9-13 7z"/><path fill="#00da00" d="M890 318l12-6-12-9-12 6z"/><path fill="#00da00" d="M915 322l12-6-12-10-13 6z"/><path fill="#00da00" d="M939 326l12-6-12-10-12 6z"/><path fill="#00da00" d="M584 338l12-11-12-5-13 10z"/><path fill="#00da00" d="M608 333l12-10-12-6-12 10z"/><path fill="#00da00" d="M633 329l12-10-13-6-12 10z"/><path fill="#00da00" d="M657 326l12-10-12-6-12 9z"/><path fill="#00da00" d="M682 323l12-9-13-7-12 9z"/><path fill="#00da00" d="M706 321l12-9-12-7-12 9z"/><path fill="#00da00" d="M731 320l12-9-12-7-13 8z"/><path fill="#00da00" d="M755 319l12-8-12-8-12 8z"/><path fill="#00da00" d="M780 319l12-8-12-8-13 8z"/><path fill="#00da00" d="M804 320l13-8-13-8-12 7z"/><path fill="#00da00" d="M829 321l12-7-12-9-12 7z"/><path fill="#00da00" d="M853 323l13-7-13-9-12 7z"/><path fill="#00da00" d="M878 325l12-7-12-9-12 7z"/><path fill="#00da00" d="M902 328l13-6-13-10-12 6z"/><path fill="#00da00" d="M927 332l12-6-12-10-12 6z"/><path fill="#00db04" d="M596 344l12-11-12-6-12 11z"/><path fill="#00db00" d="M620 339l13-10-13-6-12 10z"/><path fill="#00db00" d="M645 336l12-10-12-7-12 10z"/><path fill="#00db00" d="M669 333l13-10-13-7-12 10z"/><path fill="#00db00" d="M694 331l12-10-12-7-12 9z"/><path fill="#00db00" d="M718 329l13-9-13-8-12 9z"/><path fill="#00db00" d="M743 328l12-9-12-8-12 9z"/><path fill="#00db00" d="M767 327l13-8-13-8-12 8z"/><path fill="#00db00" d="M792 328l12-8-12-9-12 8z"/><path fill="#00db00" d="M816 328l13-7-12-9-13 8z"/><path fill="#00db00" d="M841 330l12-7-12-9-12 7z"/><path fill="#00db00" d="M865 332l13-7-12-9-13 7z"/><path fill="#00db00" d="M890 335l12-7-12-10-12 7z"/><path fill="#00db00" d="M914 338l13-6-12-10-13 6z"/><path fill="#00db0f" d="M608 350l12-11-12-6-12 11z"/><path fill="#00db00" d="M633 346l12-10-12-7-13 10z"/><path fill="#00db00" d="M657 343l12-10-12-7-12 10z"/><path fill="#00db00" d="M682 340l12-9-12-8-13 10z"/><path fill="#00db00" d="M706 338l12-9-12-8-12 10z"/><path fill="#00db00" d="M731 337l12-9-12-8-13 9z"/><path fill="#00db00" d="M755 336l12-9-12-8-12 9z"/><path fill="#00db00" d="M780 336l12-8-12-9-13 8z"/><path fill="#00db00" d="M804 336l12-8-12-8-12 8z"/><path fill="#00db00" d="M829 338l12-8-12-9-13 7z"/><path fill="#00db00" d="M853 339l12-7-12-9-12 7z"/><path fill="#00db00" d="M878 342l12-7-12-10-13 7z"/><path fill="#00db00" d="M902 345l12-7-12-10-12 7z"/><path fill="#00dc24" d="M621 357l12-11-13-7-12 11z"/><path fill="#00dc0c" d="M645 353l12-10-12-7-12 10z"/><path fill="#00dc01" d="M669 350l13-10-13-7-12 10z"/><path fill="#00dc00" d="M694 348l12-10-12-7-12 9z"/><path fill="#00dc00" d="M718 346l13-9-13-8-12 9z"/><path fill="#00dc00" d="M743 345l12-9-12-8-12 9z"/><path fill="#00dc00" d="M767 344l13-8-13-9-12 9z"/><path fill="#00dc00" d="M792 345l12-9-12-8-12 8z"/><path fill="#00dc00" d="M816 346l13-8-13-10-12 8z"/><path fill="#00dc00" d="M841 347l12-8-12-9-12 8z"/><path fill="#00dc00" d="M865 349l13-7-13-10-12 7z"/><path fill="#00dc09" d="M890 352l12-7-12-10-12 7z"/><path fill="#00dc3b" d="M633 364l12-11-12-7-12 11z"/><path fill="#00dc24" d="M657 360l12-10-12-7-12 10z"/><path fill="#00dc12" d="M682 358l12-10-12-8-13 10z"/><path fill="#00dc09" d="M706 356l12-10-12-8-12 10z"/><path fill="#00dc04" d="M731 354l12-9-12-8-13 9z"/><path fill="#00dc01" d="M755 353l12-9-12-8-12 9z"/><path fill="#00dc00" d="M780 353l12-8-12-9-13 8z"/><path fill="#00dc03" d="M804 354l12-8-12-10-12 9z"/><path fill="#00dc07" d="M829 355l12-8-12-9-13 8z"/><path fill="#00dc0e" d="M853 357l12-8-12-10-12 8z"/><path fill="#00dc1f" d="M877 359l13-7-12-10-13 7z"/><path fill="#00dd54" d="M645 371l12-11-12-7-12 11z"/><path fill="#00dd40" d="M670 368l12-10-13-8-12 10z"/><path fill="#00dd30" d="M694 366l12-10-12-8-12 10z"/><path fill="#00dd24" d="M718 364l13-10-13-8-12 10z"/><path fill="#00dd1d" d="M743 363l12-10-12-8-12 9z"/><path fill="#00dd1a" d="M767 362l13-9-13-9-12 9z"/><path fill="#00dd1c" d="M792 363l12-9-12-9-12 8z"/><path fill="#00dd22" d="M816 363l13-8-13-9-12 8z"/><path fill="#00dd2c" d="M841 365l12-8-12-10-12 8z"/><path fill="#00dd3b" d="M865 367l12-8-12-10-12 8z"/><path fill="#00dd6b" d="M658 379l12-11-13-8-12 11z"/><path fill="#00dd5d" d="M682 376l12-10-12-8-12 10z"/><path fill="#00dd4f" d="M706 374l12-10-12-8-12 10z"/><path fill="#00dd46" d="M731 372l12-9-12-9-13 10z"/><path fill="#00dd41" d="M755 372l12-10-12-9-12 10z"/><path fill="#00dd40" d="M780 372l12-9-12-10-13 9z"/><path fill="#00dd44" d="M804 372l12-9-12-9-12 9z"/><path fill="#00dd4c" d="M828 373l13-8-12-10-13 8z"/><path fill="#00dd59" d="M853 375l12-8-12-10-12 8z"/><path fill="#00de7e" d="M670 387l12-11-12-8-12 11z"/><path fill="#00de74" d="M694 384l12-10-12-8-12 10z"/><path fill="#00de6c" d="M719 383l12-11-13-8-12 10z"/><path fill="#00de67" d="M743 381l12-9-12-9-12 9z"/><path fill="#00de65" d="M767 381l13-9-13-10-12 10z"/><path fill="#00de66" d="M792 381l12-9-12-9-12 9z"/><path fill="#00de6a" d="M816 382l12-9-12-10-12 9z"/><path fill="#00de71" d="M840 383l13-8-12-10-13 8z"/><path fill="#00de93" d="M682 395l12-11-12-8-12 11z"/><path fill="#00de8a" d="M706 393l13-10-13-9-12 10z"/><path fill="#00de84" d="M731 392l12-11-12-9-12 11z"/><path fill="#00de80" d="M755 391l12-10-12-9-12 9z"/><path fill="#00de80" d="M779 391l13-10-12-9-13 9z"/><path fill="#00de82" d="M804 391l12-9-12-10-12 9z"/><path fill="#00de88" d="M828 392l12-9-12-10-12 9z"/><path fill="#00dfaa" d="M694 404l12-11-12-9-12 11z"/><path fill="#00dfa2" d="M719 402l12-10-12-9-13 10z"/><path fill="#00df9d" d="M743 401l12-10-12-10-12 11z"/><path fill="#00df9b" d="M767 400l12-9-12-10-12 10z"/><path fill="#00df9c" d="M792 401l12-10-12-10-13 10z"/><path fill="#00dea0" d="M816 401l12-9-12-10-12 9z"/><path fill="#00dfc3" d="M706 413l13-11-13-9-12 11z"/><path fill="#00dfbd" d="M731 411l12-10-12-9-12 10z"/><path fill="#00dfb9" d="M755 411l12-11-12-9-12 10z"/><path fill="#00dfb8" d="M779 410l13-9-13-10-12 9z"/><path fill="#00dfbb" d="M804 411l12-10-12-10-12 10z"/><path fill="#00dfdd" d="M719 422l12-11-12-9-13 11z"/><path fill="#00dfd8" d="M743 421l12-10-12-10-12 10z"/><path fill="#00dfd6" d="M767 421l12-11-12-10-12 11z"/><path fill="#00dfd7" d="M792 421l12-10-12-10-13 9z"/><path fill="#00d1e0" d="M731 432l12-11-12-10-12 11z"/><path fill="#00d3e0" d="M755 431l12-10-12-10-12 10z"/><path fill="#00d3e0" d="M779 431l13-10-13-11-12 11z"/><path fill="#00bbe0" d="M743 442l12-11-12-10-12 11z"/><path fill="#00bee0" d="M767 442l12-11-12-10-12 10z"/><path fill="#0097e0" d="M755 453l12-11-12-11-12 11z"/></g><path fill="none" stroke="#000" stroke-opacity="1" stroke-width="1.2" d="M755 453l6-6 6-5 6-6 6-5 6-5 7-5 6-5 6-5 6-5 6-5 6-4 6-5 6-4 6-5 7-4 6-4 6-4 6-4 6-4 6-4 7-3 6-4 6-4 6-3 6-4 6-3 6-3 7-3 6-3 6-3 6-3 6-3 6-3 7-2 6-3 6-2 6-3 6-2 6-2 7-2 6-2 6-2 6-2 6-2 6-2 7-2 6-1 6-2 6-1 6-1 6-2 6-1 6-1 7-1 6-1 6-1 6-1 6-1 6 0 6-1 6 0 6-1 6 0 6-1 6 0 6 0 7 0 6 0 6 0 6 0 6 0 6 0M749 447l6-5 6-6 6-5 6-5 6-5 6-5 7-5 6-5 6-5 6-5 6-4 6-5 6-4 6-5 7-4 6-4 6-4 6-4 6-4 6-4 6-4 7-3 6-4 6-3 6-4 6-3 6-3 7-3 6-3 6-3 6-3 6-3 6-3 7-2 6-3 6-2 6-3 6-2 6-2 7-2 6-2 6-2 6-2 6-2 6-2 7-2 6-1 6-2 6-1 6-1 6-2 6-1 7-1 6-1 6-1 6-1 6-1 6-1 6 0 6-1 6 0 6-1 6 0 7-1 6 0 6 0 6 0 6 0 6 0 6 0 6 0 6 1M743 442l6-5 6-6 6-5 6-5 6-6 6-5 7-5 6-4 6-5 6-5 6-4 6-5 6-4 6-5 7-4 6-4 6-4 6-4 6-4 6-4 6-4 7-3 6-4 6-3 6-4 6-3 6-3 7-3 6-3 6-3 6-3 6-3 6-3 7-2 6-3 6-2 6-3 6-2 6-2 7-2 6-2 6-2 6-2 6-2 6-2 7-1 6-2 6-1 6-2 6-1 6-2 6-1 7-1 6-1 6-1 6-1 6-1 6 0 6-1 6-1 6 0 6-1 7 0 6 0 6-1 6 0 6 0 6 0 6 0 6 0 6 1 6 0M737 437l6-6 6-5 6-5 6-5 6-6 6-5 6-5 7-4 6-5 6-5 6-4 6-5 6-4 6-5 6-4 7-4 6-4 6-4 6-4 6-4 6-4 7-3 6-4 6-3 6-3 6-4 6-3 7-3 6-3 6-3 6-3 6-3 6-2 7-3 6-3 6-2 6-2 6-3 6-2 7-2 6-2 6-2 6-2 6-2 6-1 7-2 6-2 6-1 6-2 6-1 6-1 6-1 7-2 6-1 6-1 6-1 6 0 6-1 6-1 6 0 6-1 7 0 6-1 6 0 6 0 6 0 6 0 6-1 6 1 6 0 6 0 6 0M731 432l6-6 6-5 6-5 6-5 6-6 6-5 6-5 6-4 7-5 6-5 6-4 6-5 6-4 6-5 6-4 7-4 6-4 6-4 6-4 6-4 6-3 6-4 7-4 6-3 6-3 6-4 6-3 6-3 7-3 6-3 6-3 6-2 6-3 7-3 6-2 6-3 6-2 6-2 6-3 7-2 6-2 6-2 6-2 6-1 6-2 7-2 6-1 6-2 6-1 6-2 6-1 7-1 6-1 6-1 6-1 6-1 6-1 6-1 6 0 6-1 7 0 6-1 6 0 6-1 6 0 6 0 6 0 6 0 6 0 6 0 6 0 6 1M725 427l6-5 6-6 6-5 6-5 6-5 6-5 6-5 6-5 7-5 6-5 6-4 6-5 6-4 6-4 6-5 6-4 7-4 6-4 6-4 6-3 6-4 6-4 7-3 6-4 6-3 6-3 6-3 6-4 7-3 6-3 6-2 6-3 6-3 7-2 6-3 6-2 6-3 6-2 6-2 7-2 6-2 6-2 6-2 6-2 6-2 7-1 6-2 6-2 6-1 6-1 6-2 7-1 6-1 6-1 6-1 6-1 6-1 6 0 6-1 7-1 6 0 6 0 6-1 6 0 6 0 6-1 6 0 6 0 6 0 6 1 6 0 6 0M719 422l6-5 6-6 6-5 6-5 6-5 6-5 6-5 6-5 6-5 7-4 6-5 6-4 6-5 6-4 6-4 6-4 7-5 6-3 6-4 6-4 6-4 6-3 6-4 7-3 6-4 6-3 6-3 6-3 7-3 6-3 6-3 6-3 6-2 6-3 7-3 6-2 6-2 6-3 6-2 7-2 6-2 6-2 6-2 6-2 6-1 7-2 6-2 6-1 6-1 6-2 6-1 7-1 6-1 6-1 6-1 6-1 6-1 6-1 6 0 7-1 6-1 6 0 6 0 6-1 6 0 6 0 6 0 6 0 6 0 6 0 6 0 6 1M713 417l6-5 6-5 6-6 6-5 6-5 6-5 6-5 6-5 6-4 6-5 7-5 6-4 6-4 6-5 6-4 6-4 6-4 7-4 6-4 6-4 6-3 6-4 6-3 7-4 6-3 6-3 6-4 6-3 6-3 7-3 6-3 6-2 6-3 6-3 7-2 6-2 6-3 6-2 6-2 6-2 7-2 6-2 6-2 6-2 6-2 7-1 6-2 6-1 6-2 6-1 6-1 7-2 6-1 6-1 6-1 6-1 6 0 6-1 6-1 7 0 6-1 6 0 6-1 6 0 6 0 6 0 6 0 6 0 6 0 6 0 6 0 6 0M706 413l7-6 6-5 6-5 6-5 6-6 6-5 6-4 6-5 6-5 6-5 6-4 7-5 6-4 6-4 6-5 6-4 6-4 6-4 7-3 6-4 6-4 6-3 6-4 6-3 7-4 6-3 6-3 6-3 6-3 7-3 6-3 6-3 6-2 6-3 7-2 6-3 6-2 6-3 6-2 6-2 7-2 6-2 6-2 6-1 6-2 7-2 6-1 6-2 6-1 6-2 6-1 6-1 7-1 6-1 6-1 6-1 6-1 6 0 6-1 7-1 6 0 6-1 6 0 6 0 6 0 6-1 6 0 6 0 6 0 6 0 6 1 6 0M700 408l6-5 6-6 7-5 6-5 6-5 6-5 6-5 6-5 6-5 6-4 6-5 6-4 7-5 6-4 6-4 6-4 6-4 6-4 7-4 6-4 6-3 6-4 6-3 6-4 7-3 6-3 6-3 6-4 6-3 6-2 7-3 6-3 6-3 6-2 6-3 7-2 6-3 6-2 6-2 6-2 7-2 6-2 6-2 6-2 6-1 6-2 7-2 6-1 6-1 6-2 6-1 6-1 7-1 6-1 6-1 6-1 6-1 6-1 6 0 7-1 6 0 6-1 6 0 6 0 6-1 6 0 6 0 6 0 6 0 6 0 6 0 7 1M694 404l6-6 6-5 6-5 7-5 6-6 6-5 6-4 6-5 6-5 6-5 6-4 6-5 7-4 6-4 6-4 6-4 6-4 6-4 6-4 7-4 6-4 6-3 6-4 6-3 6-3 7-4 6-3 6-3 6-3 6-3 7-3 6-2 6-3 6-3 6-2 7-2 6-3 6-2 6-2 6-2 6-2 7-2 6-2 6-2 6-2 6-1 7-2 6-1 6-2 6-1 6-1 6-1 7-1 6-1 6-1 6-1 6-1 6-1 6 0 7-1 6-1 6 0 6 0 6-1 6 0 6 0 6 0 6 0 6 0 6 0 7 0 6 1M688 399l6-5 6-5 6-6 6-5 6-5 7-5 6-5 6-5 6-4 6-5 6-4 6-5 6-4 7-4 6-5 6-4 6-4 6-4 6-3 6-4 7-4 6-3 6-4 6-3 6-4 7-3 6-3 6-3 6-3 6-3 6-3 7-2 6-3 6-3 6-2 6-3 7-2 6-2 6-2 6-2 6-2 7-2 6-2 6-2 6-2 6-1 7-2 6-1 6-2 6-1 6-1 6-1 7-2 6-1 6 0 6-1 6-1 6-1 6-1 7 0 6-1 6 0 6 0 6-1 6 0 6 0 6 0 6 0 6 0 7 0 6 0 6 1M682 395l6-5 6-6 6-5 6-5 6-5 6-5 7-5 6-5 6-4 6-5 6-5 6-4 6-4 6-5 7-4 6-4 6-4 6-4 6-4 6-3 7-4 6-4 6-3 6-3 6-4 6-3 7-3 6-3 6-3 6-3 6-3 7-3 6-2 6-3 6-2 6-3 7-2 6-2 6-2 6-2 6-2 7-2 6-2 6-2 6-2 6-1 6-2 7-1 6-2 6-1 6-1 6-1 6-2 7-1 6 0 6-1 6-1 6-1 6 0 7-1 6-1 6 0 6 0 6-1 6 0 6 0 6 0 6 0 6 0 7 0 6 0 6 1M676 391l6-6 6-5 6-5 6-5 6-5 6-5 6-5 7-5 6-5 6-4 6-5 6-4 6-4 6-5 6-4 7-4 6-4 6-4 6-4 6-3 6-4 7-4 6-3 6-3 6-4 6-3 6-3 7-3 6-3 6-3 6-3 6-3 7-2 6-3 6-2 6-3 6-2 7-2 6-2 6-2 6-2 6-2 7-2 6-2 6-2 6-1 6-2 7-1 6-2 6-1 6-1 6-1 6-1 7-1 6-1 6-1 6-1 6-1 6 0 6-1 7 0 6-1 6 0 6-1 6 0 6 0 6 0 6 0 6 0 7 0 6 1 6 0M670 387l6-6 6-5 6-5 6-5 6-5 6-5 6-5 6-5 7-5 6-4 6-5 6-4 6-5 6-4 6-4 6-4 7-4 6-4 6-4 6-3 6-4 6-4 7-3 6-3 6-4 6-3 6-3 7-3 6-3 6-3 6-3 6-2 7-3 6-3 6-2 6-3 6-2 7-2 6-2 6-2 6-2 6-2 7-2 6-2 6-2 6-1 6-2 6-1 7-2 6-1 6-1 6-1 6-1 7-1 6-1 6-1 6-1 6-1 6 0 6-1 7 0 6-1 6 0 6 0 6-1 6 0 6 0 6 0 6 0 7 1 6 0 6 0M664 383l6-6 6-5 6-5 6-5 6-5 6-5 6-5 6-5 6-5 7-4 6-5 6-4 6-4 6-5 6-4 6-4 6-4 7-4 6-4 6-3 6-4 6-3 6-4 7-3 6-4 6-3 6-3 6-3 7-3 6-3 6-3 6-2 6-3 7-2 6-3 6-2 6-3 6-2 7-2 6-2 6-2 6-2 6-2 7-2 6-1 6-2 6-1 6-2 7-1 6-2 6-1 6-1 6-1 6-1 7-1 6-1 6-1 6 0 6-1 6-1 7 0 6 0 6-1 6 0 6 0 6 0 6 0 6 0 6 0 7 0 6 0 6 0M658 379l6-6 6-5 6-5 6-5 6-5 6-5 6-5 6-5 6-5 6-4 6-5 7-4 6-4 6-5 6-4 6-4 6-4 6-4 7-3 6-4 6-4 6-3 6-4 7-3 6-3 6-4 6-3 6-3 6-3 7-3 6-2 6-3 6-3 6-2 7-3 6-2 6-2 6-3 6-2 7-2 6-2 6-2 6-2 6-1 7-2 6-2 6-1 6-2 6-1 7-1 6-1 6-2 6-1 6-1 7-1 6 0 6-1 6-1 6-1 6 0 6-1 7 0 6 0 6-1 6 0 6 0 6 0 6 0 6 0 6 0 7 0 6 1M651 375l6-6 6-5 7-5 6-5 6-5 6-5 6-5 6-5 6-4 6-5 6-4 6-5 7-4 6-4 6-4 6-5 6-3 6-4 7-4 6-4 6-3 6-4 6-3 6-4 7-3 6-3 6-3 6-3 6-3 7-3 6-3 6-3 6-2 6-3 7-2 6-3 6-2 6-2 6-2 7-2 6-2 6-2 6-2 6-2 7-2 6-1 6-2 6-1 6-2 7-1 6-1 6-1 6-1 6-1 6-1 7-1 6-1 6-1 6 0 6-1 6 0 7-1 6 0 6 0 6 0 6-1 6 0 6 0 6 0 6 1 7 0 6 0M645 371l6-5 6-6 6-5 6-5 7-5 6-5 6-5 6-4 6-5 6-5 6-4 6-5 6-4 7-4 6-4 6-4 6-4 6-4 6-4 7-3 6-4 6-4 6-3 6-3 6-4 7-3 6-3 6-3 6-3 6-3 7-3 6-2 6-3 6-2 6-3 7-2 6-3 6-2 6-2 6-2 7-2 6-2 6-2 6-1 6-2 7-2 6-1 6-2 6-1 6-1 7-2 6-1 6-1 6-1 6-1 7-1 6 0 6-1 6-1 6 0 6-1 6 0 7 0 6-1 6 0 6 0 6 0 6 0 6 0 6 0 7 0 6 1M639 367l6-5 6-5 6-6 6-5 6-5 7-5 6-4 6-5 6-5 6-4 6-5 6-4 6-4 6-5 7-4 6-4 6-4 6-4 6-3 6-4 7-4 6-3 6-4 6-3 6-3 6-3 7-4 6-3 6-3 6-2 6-3 7-3 6-2 6-3 6-2 6-3 7-2 6-2 6-2 6-3 7-1 6-2 6-2 6-2 6-2 7-1 6-2 6-1 6-2 6-1 7-1 6-1 6-1 6-1 6-1 6-1 7-1 6 0 6-1 6-1 6 0 6-1 7 0 6 0 6 0 6 0 6 0 6 0 6 0 6 0 6 0 7 0M633 364l6-6 6-5 6-5 6-5 6-5 6-5 6-5 7-5 6-4 6-5 6-4 6-5 6-4 6-4 6-4 7-4 6-4 6-4 6-4 6-4 6-3 7-4 6-3 6-3 6-4 6-3 7-3 6-3 6-3 6-3 6-3 7-2 6-3 6-2 6-3 6-2 7-3 6-2 6-2 6-2 6-2 7-2 6-2 6-1 6-2 6-2 7-1 6-2 6-1 6-1 6-1 7-2 6-1 6-1 6 0 6-1 6-1 7-1 6 0 6-1 6 0 6-1 6 0 7 0 6-1 6 0 6 0 6 0 6 0 6 0 6 1 7 0M627 360l6-5 6-5 6-6 6-5 6-5 6-5 6-4 6-5 7-5 6-4 6-5 6-4 6-4 6-5 6-4 6-4 7-4 6-4 6-3 6-4 6-4 6-3 7-3 6-4 6-3 6-3 6-3 7-3 6-3 6-3 6-3 6-3 7-2 6-3 6-2 6-3 6-2 7-2 6-2 6-2 6-2 6-2 7-2 6-2 6-1 6-2 6-1 7-2 6-1 6-1 6-2 6-1 7-1 6-1 6-1 6-1 6 0 7-1 6-1 6 0 6-1 6 0 6 0 7-1 6 0 6 0 6 0 6 0 6 0 6 0 6 0 6 1M621 357l6-6 6-5 6-5 6-5 6-5 6-5 6-5 6-5 6-4 6-5 7-4 6-4 6-5 6-4 6-4 6-4 6-4 7-4 6-4 6-3 6-4 6-3 6-4 7-3 6-3 6-4 6-3 6-3 7-3 6-2 6-3 6-3 6-2 7-3 6-2 6-3 6-2 6-2 7-2 6-2 6-2 6-2 6-2 7-2 6-2 6-1 6-2 7-1 6-1 6-2 6-1 6-1 7-1 6-1 6-1 6-1 6-1 6 0 7-1 6 0 6-1 6 0 6-1 6 0 7 0 6 0 6 0 6 0 6 0 6 0 6 0 6 1M615 353l6-5 6-5 6-5 6-5 6-5 6-5 6-5 6-5 6-4 6-5 6-4 7-5 6-4 6-4 6-4 6-4 6-4 6-4 7-4 6-4 6-3 6-4 6-3 6-3 7-4 6-3 6-3 6-3 6-3 7-3 6-2 6-3 6-3 6-2 7-3 6-2 6-2 6-2 6-3 7-2 6-2 6-1 6-2 7-2 6-2 6-1 6-2 6-1 7-2 6-1 6-1 6-1 6-1 7-1 6-1 6-1 6-1 6 0 6-1 7 0 6-1 6 0 6-1 6 0 6 0 7 0 6 0 6 0 6 0 6 0 6 0 6 0M608 350l6-5 6-6 7-5 6-5 6-5 6-5 6-4 6-5 6-5 6-4 6-5 6-4 7-4 6-4 6-5 6-4 6-3 6-4 6-4 7-4 6-3 6-4 6-3 6-3 6-4 7-3 6-3 6-3 6-3 6-3 7-2 6-3 6-3 6-2 6-3 7-2 6-2 6-3 6-2 7-2 6-2 6-2 6-1 6-2 7-2 6-1 6-2 6-1 6-2 7-1 6-1 6-1 6-1 6-1 7-1 6-1 6-1 6 0 6-1 7-1 6 0 6 0 6-1 6 0 6 0 6 0 7 0 6 0 6 0 6 0 6 0 6 0M602 347l6-5 6-6 6-5 6-5 7-5 6-5 6-5 6-4 6-5 6-4 6-5 6-4 6-4 6-5 7-4 6-4 6-4 6-3 6-4 6-4 7-3 6-4 6-3 6-4 6-3 6-3 7-3 6-3 6-3 6-3 6-2 7-3 6-3 6-2 6-3 7-2 6-2 6-3 6-2 6-2 7-2 6-1 6-2 6-2 6-2 7-1 6-2 6-1 6-2 6-1 7-1 6-1 6-1 6-1 6-1 7-1 6-1 6 0 6-1 6 0 7-1 6 0 6-1 6 0 6 0 6 0 7 0 6 0 6 0 6 0 6 0 6 1M596 344l6-6 6-5 6-5 6-5 6-5 6-5 7-5 6-4 6-5 6-4 6-5 6-4 6-4 6-5 6-4 7-4 6-4 6-3 6-4 6-4 6-3 7-4 6-3 6-4 6-3 6-3 6-3 7-3 6-3 6-3 6-2 6-3 7-3 6-2 6-3 6-2 7-2 6-2 6-3 6-2 6-2 7-1 6-2 6-2 6-2 6-1 7-2 6-1 6-1 6-2 7-1 6-1 6-1 6-1 6-1 7-1 6 0 6-1 6-1 6 0 6-1 7 0 6-1 6 0 6 0 6 0 6 0 7 0 6 0 6 0 6 0 6 1M590 341l6-6 6-5 6-5 6-5 6-5 6-5 6-5 6-4 7-5 6-4 6-5 6-4 6-4 6-4 6-5 6-4 7-3 6-4 6-4 6-4 6-3 6-4 7-3 6-3 6-4 6-3 6-3 7-3 6-3 6-3 6-2 6-3 7-3 6-2 6-2 6-3 6-2 7-2 6-2 6-2 6-2 6-2 7-2 6-2 6-1 6-2 7-1 6-2 6-1 6-1 6-2 7-1 6-1 6-1 6-1 6-1 7 0 6-1 6-1 6 0 6-1 6 0 7 0 6-1 6 0 6 0 6 0 6 0 7 0 6 0 6 1 6 0M584 338l6-6 6-5 6-5 6-5 6-5 6-5 6-4 6-5 6-5 6-4 7-5 6-4 6-4 6-4 6-4 6-4 6-4 7-4 6-4 6-3 6-4 6-4 6-3 7-3 6-3 6-4 6-3 6-3 7-3 6-2 6-3 6-3 6-2 7-3 6-2 6-3 6-2 6-2 7-2 6-2 6-2 6-2 6-2 7-1 6-2 6-2 6-1 7-2 6-1 6-1 6-1 6-2 7-1 6-1 6 0 6-1 6-1 7-1 6 0 6-1 6 0 6-1 7 0 6 0 6 0 6-1 6 0 6 0 6 1 7 0 6 0 6 0M578 335l6-5 6-6 6-5 6-5 6-5 6-5 6-4 6-5 6-5 6-4 6-4 7-5 6-4 6-4 6-4 6-4 6-4 6-4 7-4 6-3 6-4 6-3 6-4 6-3 7-3 6-3 6-3 6-3 6-3 7-3 6-3 6-2 6-3 6-3 7-2 6-2 6-3 6-2 6-2 7-2 6-2 6-2 6-1 7-2 6-2 6-1 6-2 6-1 7-2 6-1 6-1 6-1 6-1 7-1 6-1 6-1 6-1 6 0 7-1 6 0 6-1 6 0 6-1 7 0 6 0 6 0 6 0 6 0 6 0 6 0 7 0 6 1M571 332l7-5 6-5 6-6 6-5 6-4 6-5 6-5 6-5 6-4 6-5 6-4 6-4 6-5 7-4 6-4 6-4 6-4 6-4 6-3 6-4 7-3 6-4 6-3 6-4 6-3 7-3 6-3 6-3 6-3 6-3 7-2 6-3 6-3 6-2 6-3 7-2 6-2 6-2 6-2 6-2 7-2 6-2 6-2 6-2 7-1 6-2 6-1 6-2 6-1 7-1 6-2 6-1 6-1 6-1 7-1 6 0 6-1 6-1 6 0 7-1 6 0 6-1 6 0 6 0 7-1 6 0 6 0 6 0 6 0 6 0 6 1 7 0M565 329l6-5 6-5 6-5 6-5 7-5 6-5 6-5 6-4 6-5 6-4 6-5 6-4 6-4 6-4 7-5 6-3 6-4 6-4 6-4 6-4 6-3 7-4 6-3 6-3 6-3 6-4 7-3 6-3 6-2 6-3 6-3 7-3 6-2 6-3 6-2 6-2 7-3 6-2 6-2 6-2 6-2 7-2 6-2 6-1 6-2 7-1 6-2 6-1 6-2 6-1 7-1 6-1 6-1 6-1 7-1 6-1 6-1 6 0 6-1 7-1 6 0 6 0 6-1 6 0 6 0 7 0 6 0 6 0 6 0 6 0 6 0 6 1M559 327l6-6 6-5 6-5 6-5 6-5 6-5 7-4 6-5 6-5 6-4 6-4 6-5 6-4 6-4 6-4 7-4 6-4 6-4 6-3 6-4 6-4 6-3 7-3 6-4 6-3 6-3 6-3 7-3 6-3 6-3 6-2 6-3 7-3 6-2 6-3 6-2 6-2 7-2 6-2 6-2 6-2 7-2 6-2 6-2 6-1 6-2 7-1 6-2 6-1 6-1 6-2 7-1 6-1 6-1 6-1 7 0 6-1 6-1 6 0 6-1 7 0 6-1 6 0 6 0 6-1 6 0 7 0 6 0 6 0 6 1 6 0 6 0M553 324l6-5 6-5 6-5 6-5 6-5 6-5 6-5 6-4 7-5 6-4 6-5 6-4 6-4 6-4 6-5 6-3 6-4 7-4 6-4 6-3 6-4 6-3 6-4 7-3 6-3 6-3 6-3 6-3 7-3 6-3 6-3 6-2 6-3 7-3 6-2 6-2 6-2 6-3 7-2 6-2 6-2 6-2 7-1 6-2 6-2 6-1 6-2 7-1 6-1 6-2 6-1 7-1 6-1 6-1 6-1 6-1 7 0 6-1 6-1 6 0 6-1 7 0 6 0 6-1 6 0 6 0 6 0 7 0 6 0 6 0 6 0 6 1M547 322l6-6 6-5 6-5 6-5 6-5 6-5 6-4 6-5 6-4 6-5 7-4 6-5 6-4 6-4 6-4 6-4 6-4 6-4 7-3 6-4 6-3 6-4 6-3 6-3 7-4 6-3 6-3 6-3 6-3 7-2 6-3 6-3 6-2 6-3 7-2 6-3 6-2 6-2 6-2 7-2 6-2 6-2 6-2 7-1 6-2 6-2 6-1 6-1 7-2 6-1 6-1 6-1 7-1 6-1 6-1 6-1 6-1 7 0 6-1 6-1 6 0 6 0 7-1 6 0 6 0 6 0 6 0 6 0 7 0 6 0 6 0 6 1M541 319l6-5 6-5 6-5 6-5 6-5 6-5 6-5 6-4 6-5 6-4 6-5 6-4 7-4 6-4 6-4 6-4 6-4 6-4 6-4 7-3 6-4 6-3 6-3 6-4 6-3 7-3 6-3 6-3 6-3 6-3 7-2 6-3 6-3 6-2 6-2 7-3 6-2 6-2 6-2 6-2 7-2 6-2 6-2 6-2 7-1 6-2 6-1 6-2 6-1 7-1 6-1 6-1 6-1 7-1 6-1 6-1 6-1 6-1 7 0 6-1 6 0 6-1 6 0 7 0 6 0 6 0 6 0 6 0 6 0 7 0 6 0 6 0M535 317l6-5 6-5 6-5 6-5 6-5 6-5 6-5 6-4 6-5 6-4 6-5 6-4 6-4 7-4 6-4 6-4 6-4 6-4 6-4 6-3 7-4 6-3 6-4 6-3 6-3 6-3 7-3 6-3 6-3 6-3 6-3 7-2 6-3 6-2 6-3 6-2 7-2 6-2 6-2 6-2 6-2 7-2 6-2 6-2 6-1 7-2 6-1 6-2 6-1 7-1 6-1 6-2 6-1 6-1 7 0 6-1 6-1 6-1 6 0 7-1 6 0 6-1 6 0 6 0 7 0 6-1 6 0 6 0 6 1 6 0 7 0 6 0M528 315l6-5 6-6 7-5 6-5 6-5 6-4 6-5 6-5 6-4 6-5 6-4 6-4 6-4 6-5 6-4 7-4 6-3 6-4 6-4 6-3 6-4 6-3 7-4 6-3 6-3 6-3 6-3 7-3 6-3 6-3 6-3 6-2 7-3 6-2 6-3 6-2 6-2 7-2 6-2 6-2 6-2 7-2 6-2 6-2 6-1 6-2 7-1 6-2 6-1 6-1 7-2 6-1 6-1 6-1 6 0 7-1 6-1 6-1 6 0 6-1 7 0 6-1 6 0 6 0 6 0 7-1 6 0 6 0 6 1 6 0 6 0 7 0M522 313l6-6 6-5 6-5 6-5 6-5 6-4 7-5 6-5 6-4 6-5 6-4 6-4 6-5 6-4 6-4 6-4 7-3 6-4 6-4 6-3 6-4 6-3 6-4 7-3 6-3 6-3 6-3 6-3 7-3 6-3 6-3 6-2 6-3 7-2 6-3 6-2 6-2 6-2 7-2 6-2 6-2 6-2 7-2 6-2 6-1 6-2 6-1 7-2 6-1 6-1 6-1 7-2 6-1 6-1 6 0 6-1 7-1 6-1 6 0 6-1 6 0 7-1 6 0 6 0 6 0 6-1 7 0 6 0 6 1 6 0 6 0 6 0M516 311l6-6 6-5 6-5 6-5 6-5 6-4 6-5 6-5 7-4 6-5 6-4 6-4 6-5 6-4 6-4 6-4 6-3 6-4 7-4 6-3 6-4 6-3 6-4 6-3 7-3 6-3 6-3 6-3 6-3 7-3 6-3 6-2 6-3 6-2 7-3 6-2 6-2 6-2 6-2 7-2 6-2 6-2 6-2 7-2 6-1 6-2 6-1 6-2 7-1 6-1 6-1 6-1 7-2 6 0 6-1 6-1 6-1 7-1 6 0 6-1 6 0 6-1 7 0 6 0 6 0 6 0 6 0 7 0 6 0 6 0 6 0 6 0M510 309l6-6 6-5 6-5 6-5 6-5 6-4 6-5 6-5 6-4 6-5 7-4 6-4 6-4 6-5 6-4 6-3 6-4 6-4 6-4 7-3 6-4 6-3 6-4 6-3 6-3 7-3 6-3 6-3 6-3 6-3 7-2 6-3 6-3 6-2 6-2 7-3 6-2 6-2 6-2 6-2 7-2 6-2 6-2 6-1 7-2 6-2 6-1 6-1 6-2 7-1 6-1 6-1 6-1 7-1 6-1 6-1 6-1 6 0 7-1 6-1 6 0 6 0 6-1 7 0 6 0 6 0 6 0 6 0 7 0 6 0 6 0 6 1M504 307l6-6 6-5 6-5 6-5 6-5 6-4 6-5 6-5 6-4 6-5 6-4 6-4 7-4 6-4 6-4 6-4 6-4 6-4 6-4 6-3 7-4 6-3 6-3 6-4 6-3 6-3 7-3 6-3 6-3 6-3 6-2 7-3 6-2 6-3 6-2 6-3 7-2 6-2 6-2 6-2 6-2 7-2 6-2 6-1 6-2 7-1 6-2 6-1 6-2 6-1 7-1 6-1 6-1 6-1 7-1 6-1 6 0 6-1 6-1 7 0 6-1 6 0 6 0 6-1 7 0 6 0 6 0 6 0 6 0 7 0 6 0 6 1M498 305l6-5 6-6 6-5 6-4 6-5 6-5 6-5 6-4 6-5 6-4 6-5 6-4 6-4 6-4 7-4 6-4 6-4 6-4 6-3 6-4 6-3 7-4 6-3 6-3 6-4 6-3 6-3 7-3 6-2 6-3 6-3 6-3 7-2 6-3 6-2 6-2 6-2 7-3 6-2 6-2 6-2 6-1 7-2 6-2 6-1 6-2 7-2 6-1 6-1 6-1 6-2 7-1 6-1 6-1 6-1 7 0 6-1 6-1 6 0 6-1 7 0 6-1 6 0 6 0 6-1 7 0 6 0 6 0 6 0 6 1 7 0 6 0M492 303l6-5 6-5 6-5 6-5 6-5 6-5 6-5 6-4 6-5 6-4 6-4 6-5 6-4 6-4 6-4 7-4 6-4 6-3 6-4 6-4 6-3 6-3 6-4 7-3 6-3 6-3 6-3 6-3 7-3 6-3 6-3 6-2 6-3 7-2 6-3 6-2 6-2 6-2 7-2 6-2 6-2 6-2 6-2 7-1 6-2 6-2 6-1 7-2 6-1 6-1 6-1 6-1 7-1 6-1 6-1 6-1 7-1 6 0 6-1 6-1 6 0 7 0 6-1 6 0 6 0 6 0 7 0 6 0 6 0 6 0 6 0 7 0M485 301l6-5 6-5 6-5 6-5 7-5 6-4 6-5 6-5 6-4 6-5 6-4 6-4 6-4 6-4 6-4 6-4 6-4 7-4 6-4 6-3 6-4 6-3 6-3 6-4 7-3 6-3 6-3 6-3 6-3 7-2 6-3 6-3 6-2 6-3 7-2 6-2 6-3 6-2 6-2 7-2 6-2 6-2 6-1 6-2 7-2 6-1 6-2 6-1 7-1 6-2 6-1 6-1 6-1 7-1 6-1 6-1 6 0 7-1 6-1 6 0 6-1 6 0 7 0 6 0 6-1 6 0 6 0 7 0 6 0 6 0 6 1 6 0M479 300l6-5 6-6 6-5 6-4 6-5 6-5 6-5 6-4 7-5 6-4 6-5 6-4 6-4 6-4 6-4 6-4 6-4 6-3 7-4 6-4 6-3 6-4 6-3 6-3 6-3 7-3 6-3 6-3 6-3 6-3 7-3 6-2 6-3 6-2 6-3 7-2 6-2 6-2 6-2 6-2 7-2 6-2 6-2 6-1 6-2 7-2 6-1 6-1 6-2 7-1 6-1 6-1 6-1 7-1 6-1 6-1 6-1 6 0 7-1 6-1 6 0 6 0 6-1 7 0 6 0 6 0 6 0 6 0 7 0 6 0 6 0 6 0M473 298l6-5 6-5 6-5 6-5 6-5 6-5 6-4 6-5 6-4 6-5 7-4 6-4 6-4 6-4 6-4 6-4 6-4 6-4 6-4 6-3 7-4 6-3 6-3 6-4 6-3 6-3 7-3 6-3 6-3 6-2 6-3 6-3 7-2 6-3 6-2 6-2 7-3 6-2 6-2 6-2 6-2 7-1 6-2 6-2 6-1 6-2 7-1 6-2 6-1 6-1 7-2 6-1 6-1 6-1 7-1 6 0 6-1 6-1 6 0 7-1 6 0 6-1 6 0 6 0 7-1 6 0 6 0 6 0 6 0 7 1 6 0 6 0M467 297l6-5 6-5 6-5 6-5 6-5 6-5 6-5 6-4 6-5 6-4 6-4 6-5 7-4 6-4 6-4 6-4 6-4 6-3 6-4 6-4 6-3 7-3 6-4 6-3 6-3 6-3 6-3 7-3 6-3 6-3 6-2 6-3 6-3 7-2 6-2 6-3 6-2 7-2 6-2 6-2 6-2 6-2 7-2 6-1 6-2 6-1 6-2 7-1 6-2 6-1 6-1 7-1 6-1 6-1 6-1 7-1 6 0 6-1 6-1 6 0 7-1 6 0 6 0 6-1 6 0 7 0 6 0 6 0 6 0 6 0 7 0 6 1M461 295l6-5 6-5 6-5 6-5 6-5 6-4 6-5 6-5 6-4 6-4 6-5 6-4 6-4 6-4 7-4 6-4 6-4 6-4 6-3 6-4 6-3 6-4 7-3 6-3 6-3 6-3 6-3 6-3 7-3 6-3 6-3 6-2 6-3 6-2 7-3 6-2 6-2 6-2 7-2 6-2 6-2 6-2 6-2 7-1 6-2 6-2 6-1 6-1 7-2 6-1 6-1 6-1 7-1 6-1 6-1 6-1 7-1 6 0 6-1 6 0 6-1 7 0 6-1 6 0 6 0 6 0 7 0 6 0 6 0 6 0 6 0 7 0M455 294l6-5 6-5 6-5 6-5 6-5 6-5 6-4 6-5 6-4 6-5 6-4 6-4 6-4 6-4 6-4 6-4 7-4 6-4 6-3 6-4 6-4 6-3 6-3 6-3 7-4 6-3 6-3 6-3 6-2 7-3 6-3 6-2 6-3 6-2 6-3 7-2 6-2 6-2 6-2 7-2 6-2 6-2 6-2 6-2 7-1 6-2 6-1 6-2 7-1 6-1 6-1 6-1 6-1 7-1 6-1 6-1 6-1 7-1 6 0 6-1 6 0 6-1 7 0 6 0 6 0 6 0 6 0 7 0 6 0 6 0 6 0 6 0M449 293l6-5 6-5 6-5 6-5 6-5 6-5 6-4 6-5 6-4 6-5 6-4 6-4 6-5 6-4 6-4 6-3 6-4 7-4 6-4 6-3 6-4 6-3 6-3 6-4 6-3 7-3 6-3 6-3 6-3 6-2 6-3 7-3 6-2 6-3 6-2 6-2 7-2 6-3 6-2 6-2 7-1 6-2 6-2 6-2 6-1 7-2 6-1 6-2 6-1 7-1 6-1 6-2 6-1 6-1 7 0 6-1 6-1 6-1 7 0 6-1 6 0 6-1 6 0 7 0 6 0 6 0 6-1 6 0 7 1 6 0 6 0 6 0M443 292l6-5 6-6 6-4 6-5 6-5 6-5 6-5 6-4 6-5 6-4 6-4 6-5 6-4 6-4 6-4 6-4 6-3 6-4 6-4 7-3 6-4 6-3 6-3 6-4 6-3 6-3 7-3 6-3 6-3 6-2 6-3 6-3 7-2 6-3 6-2 6-2 6-2 7-3 6-2 6-2 6-1 7-2 6-2 6-2 6-1 6-2 7-1 6-2 6-1 6-1 7-1 6-2 6-1 6-1 6 0 7-1 6-1 6-1 6 0 7-1 6 0 6-1 6 0 6 0 7 0 6-1 6 0 6 0 6 0 7 1 6 0 6 0M437 291l6-6 5-5 6-5 6-4 6-5 6-5 6-5 6-4 7-5 6-4 6-4 6-5 6-4 6-4 6-4 6-4 6-3 6-4 6-4 6-3 7-4 6-3 6-3 6-4 6-3 6-3 6-3 7-3 6-3 6-2 6-3 6-3 6-2 7-3 6-2 6-2 6-2 6-3 7-2 6-2 6-1 6-2 7-2 6-2 6-1 6-2 6-1 7-2 6-1 6-1 6-1 7-2 6-1 6-1 6 0 6-1 7-1 6-1 6 0 6-1 7 0 6-1 6 0 6 0 6 0 7-1 6 0 6 0 6 1 6 0 7 0 6 0M430 290l6-6 6-5 6-5 6-4 6-5 6-5 6-5 6-4 6-5 6-4 6-4 7-4 6-5 6-4 6-4 6-3 6-4 6-4 6-4 6-3 6-4 6-3 7-3 6-4 6-3 6-3 6-3 6-3 7-2 6-3 6-3 6-2 6-3 6-2 7-3 6-2 6-2 6-2 6-2 7-2 6-2 6-2 6-2 7-2 6-1 6-2 6-1 6-2 7-1 6-1 6-1 6-1 7-1 6-1 6-1 6-1 6-1 7-1 6 0 6-1 6 0 7-1 6 0 6 0 6 0 6 0 7 0 6 0 6 0 6 0 6 0 7 0M424 289l6-5 6-5 6-5 6-5 6-5 6-5 6-5 6-4 6-5 6-4 6-4 6-4 6-4 7-5 6-3 6-4 6-4 6-4 6-3 6-4 6-4 6-3 6-3 7-3 6-4 6-3 6-3 6-2 6-3 7-3 6-3 6-2 6-3 6-2 6-3 7-2 6-2 6-2 6-2 6-2 7-2 6-2 6-2 6-1 7-2 6-2 6-1 6-1 6-2 7-1 6-1 6-1 6-1 7-1 6-1 6-1 6-1 6 0 7-1 6 0 6-1 6 0 7-1 6 0 6 0 6 0 6 0 7 0 6 0 6 0 6 0 6 0M418 288l6-5 6-5 6-5 6-5 6-5 6-5 6-4 6-5 6-4 6-5 6-4 6-4 6-4 6-4 6-4 7-4 6-4 6-4 6-3 6-4 6-3 6-4 6-3 6-3 7-3 6-3 6-3 6-3 6-3 6-3 7-2 6-3 6-3 6-2 6-2 6-3 7-2 6-2 6-2 6-2 6-2 7-2 6-2 6-1 6-2 7-1 6-2 6-1 6-1 6-2 7-1 6-1 6-1 6-1 7-1 6-1 6 0 6-1 6-1 7 0 6-1 6 0 6 0 7-1 6 0 6 0 6 0 6 0 7 0 6 0 6 0 6 1M412 287l6-5 6-5 6-5 6-5 6-5 6-4 6-5 6-5 6-4 6-4 6-5 6-4 6-4 6-4 6-4 6-4 6-4 7-3 6-4 6-4 6-3 6-3 6-4 6-3 6-3 7-3 6-3 6-3 6-3 6-3 6-2 7-3 6-2 6-3 6-2 6-2 6-3 7-2 6-2 6-2 6-2 6-1 7-2 6-2 6-1 6-2 7-1 6-2 6-1 6-1 6-2 7-1 6-1 6-1 6-1 7 0 6-1 6-1 6 0 6-1 7 0 6-1 6 0 6 0 7-1 6 0 6 0 6 0 6 0 7 0 6 1 6 0M406 286l6-5 6-5 6-5 6-5 6-4 6-5 6-5 6-4 6-5 6-4 6-4 6-5 6-4 6-4 6-4 6-4 6-3 6-4 7-4 6-3 6-4 6-3 6-3 6-4 6-3 6-3 7-3 6-3 6-2 6-3 6-3 6-2 7-3 6-2 6-3 6-2 6-2 6-2 7-2 6-2 6-2 6-2 6-2 7-1 6-2 6-2 6-1 7-1 6-2 6-1 6-1 6-1 7-1 6-1 6-1 6-1 7-1 6 0 6-1 6-1 6 0 7 0 6-1 6 0 6 0 7 0 6 0 6 0 6 0 6 0 7 0 6 0M400 286l6-5 6-5 6-5 6-5 6-5 6-5 6-4 6-5 6-4 6-5 6-4 6-4 6-4 6-4 6-4 6-4 6-4 6-4 6-3 6-4 7-3 6-4 6-3 6-3 6-3 6-3 6-3 7-3 6-3 6-3 6-2 6-3 6-2 7-3 6-2 6-3 6-2 6-2 6-2 7-2 6-2 6-2 6-1 6-2 7-2 6-1 6-2 6-1 7-1 6-2 6-1 6-1 6-1 7-1 6-1 6-1 6 0 7-1 6-1 6 0 6-1 6 0 7 0 6-1 6 0 6 0 7 0 6 0 6 0 6 0 6 0 7 1M394 285l6-5 6-5 6-5 6-5 6-5 6-4 6-5 6-4 6-5 6-4 6-5 6-4 6-4 6-4 6-4 6-4 6-3 6-4 6-4 6-3 6-4 7-3 6-3 6-4 6-3 6-3 6-3 6-3 6-2 7-3 6-3 6-2 6-3 6-2 7-3 6-2 6-2 6-2 6-2 6-2 7-2 6-2 6-2 6-2 7-1 6-2 6-1 6-1 6-2 7-1 6-1 6-1 6-1 6-1 7-1 6-1 6-1 6 0 7-1 6-1 6 0 6 0 6-1 7 0 6 0 6 0 6 0 7 0 6 0 6 0 6 0 6 0M388 285l6-5 6-5 6-5 6-5 6-5 6-5 6-4 6-5 6-4 6-5 6-4 6-4 6-4 6-4 6-4 6-4 6-4 6-4 6-3 6-4 6-3 6-4 7-3 6-3 6-3 6-3 6-3 6-3 6-3 6-3 7-2 6-3 6-2 6-3 6-2 7-2 6-3 6-2 6-2 6-2 6-2 7-1 6-2 6-2 6-2 7-1 6-2 6-1 6-1 6-1 7-2 6-1 6-1 6-1 6-1 7 0 6-1 6-1 6 0 7-1 6 0 6-1 6 0 6-1 7 0 6 0 6 0 6 0 7 0 6 0 6 0 6 1M382 284l6-5 6-5 6-5 6-5 6-4 6-5 6-5 6-4 6-5 6-4 6-4 6-5 6-4 6-4 6-4 6-3 6-4 6-4 6-4 6-3 6-3 6-4 6-3 6-3 7-3 6-4 6-3 6-2 6-3 6-3 6-3 7-2 6-3 6-2 6-2 6-3 7-2 6-2 6-2 6-2 6-2 6-2 7-2 6-1 6-2 6-1 7-2 6-1 6-2 6-1 6-1 7-1 6-1 6-1 6-1 7-1 6-1 6 0 6-1 6 0 7-1 6 0 6-1 6 0 6 0 7 0 6 0 6 0 6 0 7 0 6 0 6 0M376 284l6-5 6-5 6-5 6-5 6-5 5-5 6-4 6-5 6-4 6-4 6-5 6-4 6-4 7-4 6-4 6-4 6-4 6-3 6-4 6-3 6-4 6-3 6-3 6-4 6-3 7-3 6-3 6-3 6-2 6-3 6-3 6-2 7-3 6-2 6-3 6-2 6-2 7-2 6-2 6-2 6-2 6-2 7-2 6-2 6-1 6-2 6-1 7-2 6-1 6-1 6-1 6-1 7-1 6-1 6-1 6-1 7-1 6-1 6 0 6-1 6 0 7-1 6 0 6 0 6 0 6-1 7 0 6 0 6 0 6 1 7 0 6 0M370 284l6-6 6-5 6-4 6-5 5-5 6-5 6-4 6-5 6-4 6-5 6-4 6-4 6-4 6-4 6-4 7-4 6-4 6-3 6-4 6-4 6-3 6-3 6-4 6-3 6-3 6-3 7-3 6-3 6-3 6-2 6-3 6-3 6-2 7-3 6-2 6-2 6-2 6-3 7-2 6-2 6-1 6-2 6-2 7-2 6-1 6-2 6-1 6-2 7-1 6-1 6-1 6-2 6-1 7-1 6 0 6-1 6-1 7-1 6 0 6-1 6 0 6-1 7 0 6 0 6-1 6 0 7 0 6 0 6 0 6 0 6 1 7 0M364 283l6-5 6-5 6-5 5-5 6-4 6-5 6-5 6-4 6-4 6-5 6-4 6-4 6-4 6-4 6-4 6-4 6-4 7-4 6-3 6-4 6-3 6-4 6-3 6-3 6-3 6-3 6-3 7-3 6-3 6-3 6-2 6-3 6-2 6-3 7-2 6-2 6-3 6-2 6-2 7-2 6-2 6-1 6-2 6-2 7-1 6-2 6-1 6-2 6-1 7-1 6-2 6-1 6-1 6-1 7-1 6 0 6-1 6-1 7-1 6 0 6-1 6 0 6 0 7-1 6 0 6 0 6 0 7 0 6 0 6 0 6 0 6 1M358 283l6-5 6-5 5-5 6-5 6-4 6-5 6-5 6-4 6-5 6-4 6-4 6-4 6-4 6-4 6-4 6-4 6-4 6-4 7-3 6-4 6-3 6-4 6-3 6-3 6-3 6-3 6-3 6-3 7-3 6-3 6-2 6-3 6-2 6-3 6-2 7-2 6-3 6-2 6-2 6-2 7-2 6-2 6-1 6-2 6-2 7-1 6-2 6-1 6-1 6-2 7-1 6-1 6-1 6-1 6-1 7-1 6 0 6-1 6-1 7 0 6-1 6 0 6 0 6-1 7 0 6 0 6 0 6 0 7 0 6 0 6 0 6 0M352 283l6-5 6-5 5-5 6-5 6-4 6-5 6-5 6-4 6-5 6-4 6-4 6-4 6-4 6-4 6-4 6-4 6-4 6-4 6-3 6-4 7-3 6-4 6-3 6-3 6-3 6-3 6-3 6-3 6-3 7-3 6-2 6-3 6-2 6-3 6-2 6-2 7-3 6-2 6-2 6-2 6-2 7-2 6-1 6-2 6-2 6-1 7-2 6-1 6-1 6-2 6-1 7-1 6-1 6-1 6-1 7-1 6 0 6-1 6-1 6 0 7-1 6 0 6 0 6-1 6 0 7 0 6 0 6 0 6 0 7 0 6 0 6 0M346 283l6-5 6-5 5-5 6-5 6-4 6-5 6-5 6-4 6-5 6-4 6-4 6-4 6-4 6-4 6-4 6-4 6-4 6-4 6-3 6-4 6-3 7-4 6-3 6-3 6-3 6-3 6-3 6-3 6-3 6-3 7-2 6-3 6-2 6-3 6-2 6-2 7-3 6-2 6-2 6-2 6-2 6-1 7-2 6-2 6-2 6-1 6-2 7-1 6-1 6-1 6-2 6-1 7-1 6-1 6-1 6 0 7-1 6-1 6-1 6 0 6-1 7 0 6 0 6-1 6 0 7 0 6 0 6 0 6 0 6 0 7 0 6 0M340 283l6-5 6-5 5-5 6-5 6-4 6-5 6-5 6-4 6-5 6-4 6-4 6-4 6-4 6-4 6-4 6-4 6-4 6-4 6-3 6-4 6-3 6-3 7-4 6-3 6-3 6-3 6-3 6-3 6-3 6-2 6-3 7-3 6-2 6-3 6-2 6-2 6-2 7-3 6-2 6-2 6-1 6-2 6-2 7-2 6-1 6-2 6-1 6-2 7-1 6-1 6-2 6-1 7-1 6-1 6-1 6 0 6-1 7-1 6 0 6-1 6-1 6 0 7 0 6-1 6 0 6 0 7 0 6 0 6 0 6 0 6 0 7 0M334 283l6-5 6-5 5-5 6-4 6-5 6-5 6-4 6-5 6-4 6-5 6-4 6-4 6-4 6-4 6-4 6-4 6-4 6-3 6-4 6-3 6-4 6-3 6-4 7-3 6-3 6-3 6-3 6-3 6-3 6-2 6-3 6-2 7-3 6-2 6-3 6-2 6-2 6-2 7-2 6-2 6-2 6-2 6-2 6-2 7-1 6-2 6-1 6-2 6-1 7-1 6-1 6-1 6-2 7 0 6-1 6-1 6-1 6-1 7 0 6-1 6 0 6-1 6 0 7 0 6-1 6 0 6 0 7 0 6 0 6 0 6 0 6 1M328 284l6-5 6-5 5-5 6-5 6-5 6-5 6-4 6-5 6-4 6-4 6-5 6-4 6-4 6-4 6-4 6-4 6-3 6-4 6-4 6-3 6-4 6-3 6-3 6-3 6-4 7-3 6-3 6-2 6-3 6-3 6-3 6-2 6-3 7-2 6-3 6-2 6-2 6-2 6-2 7-2 6-2 6-2 6-2 6-1 7-2 6-1 6-2 6-1 6-2 7-1 6-1 6-1 6-1 6-1 7-1 6-1 6-1 6 0 6-1 7-1 6 0 6-1 6 0 7 0 6 0 6-1 6 0 6 0 7 0 6 0 6 1 6 0M322 284l6-5 6-5 5-5 6-5 6-5 6-4 6-5 6-4 6-5 6-4 6-4 6-5 6-4 6-4 6-4 6-3 6-4 6-4 6-3 6-4 6-3 6-4 6-3 6-3 6-3 7-3 6-3 6-3 6-3 6-3 6-2 6-3 6-2 6-3 7-2 6-2 6-3 6-2 6-2 6-2 7-2 6-2 6-1 6-2 6-2 7-1 6-2 6-1 6-1 6-2 7-1 6-1 6-1 6-1 6-1 7-1 6 0 6-1 6-1 6 0 7-1 6 0 6-1 6 0 7 0 6 0 6 0 6 0 6 0 7 0 6 0 6 0M316 284l6-5 6-5 5-5 6-5 6-4 6-5 6-5 6-4 6-4 6-5 6-4 6-4 6-4 6-4 6-4 6-4 6-4 6-3 6-4 6-3 6-4 6-3 6-4 6-3 6-3 6-3 7-3 6-3 6-3 6-2 6-3 6-3 6-2 6-2 7-3 6-2 6-2 6-2 6-2 6-2 6-2 7-2 6-2 6-2 6-1 6-2 7-1 6-2 6-1 6-1 6-1 7-2 6-1 6-1 6 0 6-1 7-1 6-1 6 0 6-1 7 0 6-1 6 0 6-1 6 0 7 0 6 0 6 0 6 0 6 0 7 0 6 0M755 453l-6-6-6-5-6-5-6-5-6-5-6-5-6-5-7-4-6-5-6-4-6-5-6-4-6-4-6-4-6-4-6-4-7-4-6-4-6-4-6-3-6-4-6-3-6-4-7-3-6-3-6-3-6-3-6-3-6-3-7-3-6-3-6-2-6-3-6-2-6-3-6-2-7-2-6-2-6-2-6-2-6-2-6-2-6-2-7-2-6-1-6-2-6-1-6-2-6-1-6-1-6-1-6-1-7-1-6-1-6-1-6-1-6-1-6 0-6-1-6 0-6-1-6 0-6 0-6-1-6 0-6 0-6 0-6 0-6 0-6 1-6 0-6 0M761 447l-6-5-6-5-6-6-6-5-6-4-6-5-6-5-6-5-7-4-6-5-6-4-6-4-6-5-6-4-6-4-6-4-7-4-6-3-6-4-6-4-6-3-6-4-6-3-7-3-6-3-6-4-6-3-6-3-6-2-6-3-7-3-6-3-6-2-6-3-6-2-6-2-7-2-6-3-6-2-6-2-6-2-6-1-6-2-7-2-6-1-6-2-6-1-6-2-6-1-6-1-6-1-6-2-7-1-6 0-6-1-6-1-6-1-6 0-6-1-6 0-6-1-6 0-6-1-6 0-6 0-6 0-6 0-6 0-6 0-6 1-6 0-6 0M767 442l-6-6-6-5-6-5-6-5-6-5-6-5-6-4-6-5-7-5-6-4-6-4-6-5-6-4-6-4-6-4-6-4-7-4-6-4-6-3-6-4-6-3-6-4-6-3-7-4-6-3-6-3-6-3-6-3-6-3-6-2-7-3-6-3-6-2-6-3-6-2-6-2-7-3-6-2-6-2-6-2-6-2-6-2-6-1-7-2-6-2-6-1-6-1-6-2-6-1-6-1-6-2-7-1-6-1-6 0-6-1-6-1-6-1-6 0-6-1-6 0-6-1-6 0-6-1-6 0-6 0-6 0-6 0-6 0-6 0-6 1-6 0-6 0M773 436l-6-5-6-5-6-5-6-5-6-5-6-5-6-5-6-4-6-5-7-4-6-5-6-4-6-4-6-4-6-4-6-4-6-4-7-4-6-4-6-3-6-4-6-3-6-3-6-4-7-3-6-3-6-3-6-3-6-3-6-3-7-2-6-3-6-2-6-3-6-2-6-2-6-3-7-2-6-2-6-2-6-2-6-2-6-1-7-2-6-2-6-1-6-1-6-2-6-1-6-1-6-1-7-2-6-1-6 0-6-1-6-1-6-1-6 0-6-1-6 0-6-1-6 0-6 0-6-1-7 0-6 0-6 0-6 0-6 0-6 1-6 0-6 0M779 431l-6-5-6-5-6-5-6-5-6-5-6-5-6-5-6-4-6-5-6-4-7-5-6-4-6-4-6-4-6-4-6-4-6-4-7-4-6-4-6-3-6-4-6-3-6-3-6-4-7-3-6-3-6-3-6-3-6-3-6-3-7-2-6-3-6-2-6-3-6-2-6-2-6-3-7-2-6-2-6-2-6-2-6-1-6-2-7-2-6-1-6-2-6-1-6-2-6-1-6-1-6-1-7-1-6-1-6-1-6-1-6-1-6-1-6 0-6-1-6 0-6-1-6 0-6 0-7-1-6 0-6 0-6 0-6 0-6 1-6 0-6 0-6 0M785 426l-6-5-6-6-6-5-6-5-6-4-6-5-6-5-6-5-6-4-6-5-7-4-6-4-6-4-6-4-6-4-6-4-6-4-6-4-7-4-6-3-6-4-6-3-6-3-6-4-6-3-7-3-6-3-6-3-6-3-6-2-6-3-7-3-6-2-6-3-6-2-6-2-6-3-7-2-6-2-6-2-6-2-6-1-6-2-6-2-7-1-6-2-6-1-6-2-6-1-6-1-6-1-7-1-6-1-6-1-6-1-6-1-6 0-6-1-6-1-6 0-6 0-6-1-7 0-6 0-6 0-6 0-6 0-6 0-6 0-6 0-6 0-6 1M792 421l-7-5-6-6-6-5-6-5-6-4-6-5-6-5-6-5-6-4-6-5-6-4-7-4-6-4-6-4-6-4-6-4-6-4-6-4-6-4-7-3-6-4-6-3-6-3-6-4-6-3-7-3-6-3-6-3-6-3-6-2-6-3-7-3-6-2-6-3-6-2-6-2-6-2-7-2-6-2-6-2-6-2-6-2-6-2-6-1-7-2-6-2-6-1-6-1-6-2-6-1-6-1-7-1-6-1-6-1-6-1-6 0-6-1-6-1-6 0-6-1-6 0-7-1-6 0-6 0-6 0-6 0-6 0-6 0-6 0-6 0-6 1-6 0M798 416l-6-5-6-6-7-5-6-5-6-4-6-5-6-5-6-4-6-5-6-4-6-5-6-4-7-4-6-4-6-4-6-4-6-4-6-4-6-3-7-4-6-3-6-4-6-3-6-3-6-4-6-3-7-3-6-2-6-3-6-3-6-3-6-2-7-3-6-2-6-3-6-2-6-2-6-2-7-2-6-2-6-2-6-2-6-2-6-1-7-2-6-1-6-2-6-1-6-1-6-1-6-2-7-1-6-1-6-1-6 0-6-1-6-1-6 0-6-1-6 0-6-1-7 0-6 0-6-1-6 0-6 0-6 0-6 0-6 1-6 0-6 0-6 0M804 411l-6-5-6-5-6-5-7-5-6-5-6-5-6-5-6-4-6-5-6-4-6-5-6-4-6-4-7-4-6-4-6-4-6-4-6-3-6-4-6-4-7-3-6-4-6-3-6-3-6-3-6-3-7-3-6-3-6-3-6-3-6-2-6-3-7-2-6-3-6-2-6-2-6-3-6-2-7-2-6-2-6-2-6-1-6-2-6-2-7-1-6-2-6-1-6-2-6-1-6-1-6-1-7-1-6-1-6-1-6-1-6-1-6 0-6-1-6 0-6-1-6 0-7-1-6 0-6 0-6 0-6 0-6 0-6 0-6 0-6 0-6 1-6 0M810 406l-6-5-6-5-6-5-6-5-6-5-7-5-6-4-6-5-6-5-6-4-6-4-6-4-6-5-6-4-7-4-6-4-6-3-6-4-6-4-6-3-6-4-7-3-6-3-6-4-6-3-6-3-6-3-7-3-6-3-6-2-6-3-6-3-6-2-7-2-6-3-6-2-6-2-6-2-6-2-7-2-6-2-6-2-6-2-6-1-6-2-7-1-6-2-6-1-6-1-6-1-6-2-6-1-7-1-6-1-6 0-6-1-6-1-6 0-6-1-6 0-6-1-7 0-6 0-6 0-6-1-6 0-6 0-6 0-6 1-6 0-6 0-6 1M816 401l-6-5-6-5-6-5-6-5-6-5-6-4-7-5-6-5-6-4-6-5-6-4-6-4-6-4-6-4-6-4-7-4-6-4-6-4-6-3-6-4-6-3-7-4-6-3-6-3-6-3-6-3-6-3-7-3-6-3-6-3-6-2-6-3-6-2-7-3-6-2-6-2-6-3-6-2-6-2-7-2-6-2-6-1-6-2-6-2-6-1-7-2-6-1-6-1-6-2-6-1-6-1-6-1-7-1-6-1-6-1-6 0-6-1-6-1-6 0-6-1-6 0-7 0-6-1-6 0-6 0-6 0-6 0-6 0-6 0-6 1-6 0-6 0M822 397l-6-5-6-5-6-5-6-5-6-5-6-5-6-5-7-4-6-5-6-4-6-4-6-5-6-4-6-4-6-4-7-4-6-3-6-4-6-4-6-3-6-4-6-3-7-3-6-4-6-3-6-3-6-3-6-3-7-2-6-3-6-3-6-2-6-3-6-2-7-3-6-2-6-2-6-2-6-2-6-2-7-2-6-2-6-1-6-2-6-2-6-1-7-1-6-2-6-1-6-1-6-1-6-1-7-1-6-1-6-1-6-1-6 0-6-1-6-1-6 0-6 0-7-1-6 0-6 0-6 0-6 0-6 0-6 0-6 0-6 0-6 1-6 0M828 392l-6-5-6-5-6-5-6-5-6-5-6-4-6-5-6-5-7-4-6-5-6-4-6-4-6-4-6-4-6-4-6-4-7-4-6-4-6-3-6-4-6-3-6-3-6-4-7-3-6-3-6-3-6-3-6-3-6-3-7-2-6-3-6-3-6-2-6-3-7-2-6-2-6-2-6-2-6-2-6-2-7-2-6-2-6-2-6-1-6-2-6-1-7-2-6-1-6-1-6-1-6-2-6-1-6 0-7-1-6-1-6-1-6-1-6 0-6-1-6 0-6-1-7 0-6 0-6 0-6 0-6 0-6 0-6 0-6 0-6 0-6 0-6 1M834 388l-6-5-6-5-6-5-6-5-6-5-6-5-6-4-6-5-6-5-6-4-7-4-6-4-6-4-6-5-6-3-6-4-6-4-7-4-6-3-6-4-6-3-6-4-6-3-6-3-7-3-6-3-6-3-6-3-6-3-7-3-6-2-6-3-6-2-6-3-6-2-7-2-6-2-6-3-6-2-6-1-6-2-7-2-6-2-6-1-6-2-6-1-6-2-7-1-6-1-6-2-6-1-6-1-6-1-7 0-6-1-6-1-6-1-6 0-6-1-6 0-6-1-7 0-6 0-6 0-6 0-6 0-6 0-6 0-6 0-6 0-6 0-6 1M840 383l-6-5-6-5-6-5-6-5-6-4-6-5-6-5-6-4-6-5-6-4-6-4-7-5-6-4-6-4-6-4-6-4-6-3-6-4-7-4-6-3-6-4-6-3-6-3-6-3-7-4-6-3-6-2-6-3-6-3-6-3-7-2-6-3-6-2-6-3-6-2-6-2-7-3-6-2-6-2-6-2-6-1-7-2-6-2-6-1-6-2-6-1-6-2-7-1-6-1-6-2-6-1-6-1-6-1-6-1-7 0-6-1-6-1-6 0-6-1-6 0-6-1-6 0-7 0-6 0-6 0-6 0-6 0-6 0-6 0-6 0-6 0-6 1M847 379l-6-5-6-5-7-5-6-5-6-5-6-4-6-5-6-5-6-4-6-4-6-5-6-4-7-4-6-4-6-4-6-4-6-3-6-4-6-4-7-3-6-4-6-3-6-3-6-4-6-3-7-3-6-3-6-2-6-3-6-3-6-3-7-2-6-3-6-2-6-2-6-2-7-3-6-2-6-2-6-2-6-1-6-2-7-2-6-1-6-2-6-1-6-2-6-1-7-1-6-2-6-1-6-1-6-1-6 0-7-1-6-1-6-1-6 0-6-1-6 0-6-1-6 0-7 0-6 0-6 0-6 0-6 0-6 0-6 0-6 0-6 0-6 1M853 375l-6-5-6-5-6-5-6-5-7-5-6-4-6-5-6-5-6-4-6-4-6-5-6-4-6-4-7-4-6-4-6-4-6-4-6-3-6-4-6-3-7-4-6-3-6-3-6-4-6-3-6-3-7-3-6-2-6-3-6-3-6-2-6-3-7-2-6-3-6-2-6-2-6-3-7-2-6-2-6-1-6-2-6-2-6-2-7-1-6-2-6-1-6-2-6-1-7-1-6-1-6-2-6-1-6 0-6-1-6-1-7-1-6-1-6 0-6-1-6 0-6 0-6-1-6 0-7 0-6 0-6 0-6 0-6 0-6 0-6 0-6 1-6 0M859 371l-6-5-6-5-6-5-6-5-6-5-6-5-7-4-6-5-6-4-6-4-6-5-6-4-6-4-6-4-7-4-6-4-6-3-6-4-6-4-6-3-6-4-7-3-6-3-6-3-6-4-6-3-6-2-7-3-6-3-6-3-6-2-6-3-7-2-6-3-6-2-6-2-6-2-6-2-7-2-6-2-6-2-6-2-6-2-7-1-6-2-6-1-6-2-6-1-6-1-7-1-6-1-6-1-6-1-6-1-6-1-7-1-6 0-6-1-6 0-6-1-6 0-6-1-6 0-7 0-6 0-6 0-6 0-6 0-6 0-6 1-6 0-6 0M865 367l-6-5-6-5-6-5-6-5-6-5-6-4-6-5-7-5-6-4-6-4-6-5-6-4-6-4-6-4-6-4-7-4-6-3-6-4-6-4-6-3-6-4-6-3-7-3-6-3-6-3-6-3-6-3-6-3-7-3-6-3-6-2-6-3-6-2-7-3-6-2-6-2-6-2-6-2-7-2-6-2-6-2-6-2-6-1-6-2-7-1-6-2-6-1-6-2-6-1-6-1-7-1-6-1-6-1-6-1-6-1-6 0-7-1-6-1-6 0-6-1-6 0-6 0-6 0-6-1-7 0-6 0-6 0-6 0-6 1-6 0-6 0-6 1M871 363l-6-5-6-5-6-5-6-5-6-5-6-4-6-5-6-4-6-5-7-4-6-4-6-5-6-4-6-4-6-4-6-3-6-4-7-4-6-3-6-4-6-3-6-4-6-3-7-3-6-3-6-3-6-3-6-3-6-3-7-2-6-3-6-2-6-3-6-2-7-3-6-2-6-2-6-2-6-2-7-2-6-2-6-1-6-2-6-2-6-1-7-2-6-1-6-1-6-1-6-2-7-1-6-1-6-1-6 0-6-1-6-1-6-1-7 0-6-1-6 0-6-1-6 0-6 0-6 0-6 0-7 0-6 0-6 0-6 0-6 0-6 1-6 0M877 359l-6-5-6-5-6-5-6-5-6-4-6-5-6-5-6-4-6-5-6-4-7-4-6-4-6-4-6-4-6-4-6-4-6-4-6-3-7-4-6-4-6-3-6-3-6-4-6-3-7-3-6-3-6-3-6-2-6-3-7-3-6-3-6-2-6-2-6-3-6-2-7-2-6-2-6-2-6-2-6-2-7-2-6-2-6-2-6-1-6-2-7-1-6-2-6-1-6-1-6-1-6-1-7-1-6-1-6-1-6-1-6-1-6 0-7-1-6 0-6-1-6 0-6 0-6-1-6 0-6 0-7 0-6 0-6 0-6 1-6 0-6 0-6 1M884 356l-7-6-6-5-6-5-6-4-6-5-6-5-6-4-6-5-6-4-6-5-6-4-6-4-7-4-6-4-6-4-6-4-6-3-6-4-6-4-7-3-6-4-6-3-6-3-6-3-6-3-7-3-6-3-6-3-6-3-6-2-7-3-6-3-6-2-6-2-6-3-6-2-7-2-6-2-6-2-6-2-6-2-7-1-6-2-6-2-6-1-6-2-7-1-6-1-6-2-6-1-6-1-6-1-7-1-6-1-6 0-6-1-6-1-6 0-7-1-6 0-6 0-6-1-6 0-6 0-6 0-6 0-7 0-6 0-6 0-6 0-6 1-6 0M890 352l-6-5-6-5-6-5-7-5-6-5-6-4-6-5-6-4-6-5-6-4-6-4-6-5-6-4-7-4-6-3-6-4-6-4-6-4-6-3-6-4-7-3-6-3-6-4-6-3-6-3-6-3-7-3-6-3-6-2-6-3-6-3-7-2-6-2-6-3-6-2-6-2-7-2-6-2-6-2-6-2-6-2-6-2-7-1-6-2-6-2-6-1-6-1-7-2-6-1-6-1-6-1-6-1-7-1-6-1-6-1-6 0-6-1-6-1-6 0-7-1-6 0-6 0-6 0-6-1-6 0-6 0-6 0-7 1-6 0-6 0-6 0-6 1M896 348l-6-5-6-5-6-5-6-5-6-4-7-5-6-4-6-5-6-4-6-5-6-4-6-4-6-4-6-4-7-4-6-4-6-3-6-4-6-4-6-3-6-3-7-4-6-3-6-3-6-3-6-3-6-3-7-3-6-3-6-2-6-3-6-2-7-3-6-2-6-2-6-3-6-2-7-2-6-2-6-2-6-1-6-2-7-2-6-1-6-2-6-1-6-2-6-1-7-1-6-1-6-1-6-1-6-1-7-1-6-1-6-1-6 0-6-1-6 0-6-1-7 0-6 0-6-1-6 0-6 0-6 0-6 0-6 0-7 0-6 1-6 0-6 0M902 345l-6-5-6-5-6-5-6-5-6-5-6-4-6-5-7-4-6-5-6-4-6-4-6-4-6-4-6-4-6-4-6-4-7-4-6-3-6-4-6-3-6-4-6-3-7-3-6-3-6-4-6-3-6-2-6-3-7-3-6-3-6-2-6-3-6-2-7-2-6-3-6-2-6-2-6-2-7-2-6-2-6-2-6-1-6-2-7-2-6-1-6-2-6-1-6-1-7-1-6-2-6-1-6-1-6-1-6 0-7-1-6-1-6-1-6 0-6-1-6 0-7 0-6-1-6 0-6 0-6 0-6 0-6 0-6 0-6 0-7 1-6 0-6 0M908 341l-6-5-6-5-6-4-6-5-6-5-6-5-6-4-6-5-6-4-7-4-6-5-6-4-6-4-6-4-6-4-6-3-6-4-7-4-6-3-6-4-6-3-6-3-6-4-7-3-6-3-6-3-6-3-6-2-6-3-7-3-6-2-6-3-6-2-6-3-7-2-6-2-6-2-6-2-6-2-7-2-6-2-6-2-6-1-6-2-7-1-6-2-6-1-6-1-6-2-7-1-6-1-6-1-6-1-6-1-6 0-7-1-6-1-6 0-6-1-6 0-6 0-7-1-6 0-6 0-6 0-6 0-6 0-6 0-6 0-7 0-6 1-6 0M914 338l-6-5-6-5-6-5-6-5-6-4-6-5-6-4-6-5-6-4-6-5-6-4-7-4-6-4-6-4-6-4-6-4-6-3-6-4-7-3-6-4-6-3-6-4-6-3-6-3-7-3-6-3-6-3-6-3-6-2-6-3-7-3-6-2-6-2-6-3-6-2-7-2-6-2-6-2-6-2-6-2-7-2-6-2-6-1-6-2-6-1-7-2-6-1-6-1-6-2-6-1-7-1-6-1-6-1-6-1-6 0-6-1-7-1-6 0-6-1-6 0-6-1-6 0-7 0-6 0-6 0-6 0-6 0-6 0-6 0-6 0-6 1-7 0M920 335l-6-5-6-5-6-5-6-5-6-4-6-5-6-5-6-4-6-4-6-5-6-4-6-4-7-4-6-4-6-4-6-4-6-3-6-4-6-4-6-3-7-3-6-4-6-3-6-3-6-3-7-3-6-3-6-3-6-2-6-3-6-3-7-2-6-2-6-3-6-2-6-2-7-2-6-2-6-2-6-2-6-2-7-2-6-1-6-2-6-1-6-2-7-1-6-1-6-2-6-1-6-1-7-1-6-1-6-1-6 0-6-1-6-1-7 0-6-1-6 0-6-1-6 0-6 0-7 0-6 0-6 0-6 0-6 0-6 0-6 0-6 1-6 0M927 332l-6-5-6-5-6-5-7-5-6-5-6-4-6-5-6-4-6-5-6-4-6-4-6-4-6-4-6-4-7-4-6-4-6-3-6-4-6-4-6-3-6-3-7-4-6-3-6-3-6-3-6-3-6-3-7-3-6-2-6-3-6-3-6-2-7-2-6-3-6-2-6-2-6-2-7-2-6-2-6-2-6-2-6-2-7-1-6-2-6-1-6-2-6-1-7-1-6-2-6-1-6-1-6-1-7-1-6 0-6-1-6-1-6-1-6 0-7-1-6 0-6 0-6-1-6 0-6 0-7 0-6 0-6 0-6 0-6 0-6 1-6 0-6 0M933 329l-6-5-6-5-6-5-6-5-6-5-6-4-7-5-6-4-6-5-6-4-6-4-6-4-6-4-6-4-6-4-7-4-6-3-6-4-6-4-6-3-6-3-6-4-7-3-6-3-6-3-6-3-6-3-6-3-7-2-6-3-6-2-6-3-6-2-7-3-6-2-6-2-6-2-6-2-7-2-6-2-6-2-6-1-6-2-7-2-6-1-6-2-6-1-6-1-7-1-6-2-6-1-6-1-6 0-7-1-6-1-6-1-6 0-6-1-7 0-6-1-6 0-6 0-6-1-6 0-6 0-7 0-6 0-6 0-6 0-6 1-6 0-6 0M939 326l-6-5-6-5-6-5-6-5-6-5-6-4-6-5-6-4-7-4-6-5-6-4-6-4-6-4-6-4-6-4-6-4-6-3-7-4-6-3-6-4-6-3-6-3-6-4-7-3-6-3-6-3-6-3-6-2-6-3-7-3-6-2-6-3-6-2-6-2-7-3-6-2-6-2-6-2-6-2-7-2-6-2-6-1-6-2-6-1-7-2-6-1-6-2-6-1-6-1-7-1-6-1-6-1-6-1-6-1-7-1-6-1-6 0-6-1-6 0-7-1-6 0-6 0-6 0-6-1-6 0-6 0-7 0-6 1-6 0-6 0-6 0-6 1M945 323l-6-5-6-5-6-5-6-5-6-4-6-5-6-5-6-4-6-4-6-5-7-4-6-4-6-4-6-4-6-4-6-3-6-4-6-4-7-3-6-4-6-3-6-3-6-3-6-3-7-3-6-3-6-3-6-3-6-3-6-2-7-3-6-2-6-3-6-2-6-2-7-3-6-2-6-2-6-2-6-1-7-2-6-2-6-2-6-1-6-2-7-1-6-1-6-2-6-1-7-1-6-1-6-1-6-1-6-1-6 0-7-1-6-1-6 0-6-1-6 0-7-1-6 0-6 0-6 0-6 0-6 0-6 0-7 0-6 0-6 0-6 1-6 0M951 320l-6-5-6-5-6-5-6-4-6-5-6-5-6-4-6-5-6-4-6-4-6-4-6-5-7-4-6-3-6-4-6-4-6-4-6-3-6-4-6-3-7-4-6-3-6-3-6-3-6-3-7-3-6-3-6-3-6-2-6-3-6-3-7-2-6-2-6-3-6-2-6-2-7-2-6-2-6-2-6-2-6-2-7-2-6-1-6-2-6-1-7-2-6-1-6-1-6-1-6-2-7-1-6-1-6 0-6-1-6-1-6-1-7 0-6-1-6 0-6-1-6 0-7 0-6-1-6 0-6 0-6 0-6 0-6 0-7 1-6 0-6 0-6 0M957 317l-6-5-6-5-6-4-6-5-6-5-6-4-6-5-6-4-6-5-6-4-6-4-6-4-6-4-6-4-7-4-6-4-6-3-6-4-6-3-6-4-6-3-7-3-6-4-6-3-6-3-6-3-6-3-7-2-6-3-6-3-6-2-6-3-7-2-6-2-6-3-6-2-6-2-7-2-6-2-6-2-6-1-6-2-7-2-6-1-6-2-6-1-7-2-6-1-6-1-6-1-6-1-7-1-6-1-6-1-6-1-6 0-6-1-7 0-6-1-6 0-6-1-6 0-7 0-6 0-6 0-6 0-6 0-6 0-6 0-7 0-6 1-6 0M964 315l-6-5-6-5-6-5-6-5-6-4-7-5-6-5-6-4-6-4-6-5-6-4-6-4-6-4-6-4-6-3-7-4-6-4-6-3-6-4-6-3-6-4-6-3-7-3-6-3-6-3-6-3-6-3-6-3-7-3-6-2-6-3-6-2-6-3-7-2-6-2-6-2-6-2-6-2-7-2-6-2-6-2-6-2-6-1-7-2-6-1-6-2-6-1-7-1-6-1-6-2-6-1-6-1-7 0-6-1-6-1-6-1-6 0-6-1-7 0-6-1-6 0-6 0-6-1-7 0-6 0-6 0-6 0-6 0-6 1-6 0-7 0-6 1M970 312l-6-5-6-5-6-5-6-4-6-5-6-5-6-4-6-4-7-5-6-4-6-4-6-4-6-4-6-4-6-4-6-4-6-3-7-4-6-3-6-4-6-3-6-3-6-4-7-3-6-3-6-3-6-2-6-3-6-3-7-3-6-2-6-3-6-2-6-2-7-2-6-3-6-2-6-2-6-2-7-1-6-2-6-2-6-2-6-1-7-2-6-1-6-1-6-2-7-1-6-1-6-1-6-1-6-1-7-1-6 0-6-1-6-1-6 0-6-1-7 0-6 0-6-1-6 0-6 0-7 0-6 0-6 0-6 0-6 0-6 0-6 1-6 0M976 310l-6-5-6-5-6-5-6-5-6-4-6-5-6-4-6-5-6-4-6-4-7-5-6-4-6-4-6-4-6-3-6-4-6-4-6-3-7-4-6-3-6-4-6-3-6-3-6-3-6-3-7-3-6-3-6-3-6-2-6-3-7-2-6-3-6-2-6-3-6-2-7-2-6-2-6-2-6-2-6-2-7-2-6-1-6-2-6-1-6-2-7-1-6-2-6-1-6-1-7-1-6-1-6-1-6-1-6-1-7-1-6 0-6-1-6-1-6 0-6 0-7-1-6 0-6 0-6 0-6 0-7 0-6 0-6 0-6 0-6 0-6 1-6 0M982 307l-6-5-6-5-6-4-6-5-6-5-6-4-6-5-6-4-6-5-6-4-6-4-6-4-7-4-6-4-6-4-6-3-6-4-6-4-6-3-6-4-7-3-6-3-6-3-6-3-6-3-6-3-7-3-6-3-6-3-6-2-6-3-7-2-6-2-6-3-6-2-6-2-7-2-6-2-6-2-6-2-6-2-7-1-6-2-6-2-6-1-6-2-7-1-6-1-6-1-6-1-7-1-6-1-6-1-6-1-6-1-7-1-6 0-6-1-6 0-6-1-6 0-7 0-6 0-6-1-6 0-6 0-6 0-7 1-6 0-6 0-6 0-6 1M988 305l-6-5-6-5-6-5-6-4-6-5-6-5-6-4-6-5-6-4-6-4-6-4-6-4-6-4-6-4-7-4-6-4-6-3-6-4-6-3-6-4-6-3-7-3-6-3-6-4-6-3-6-2-6-3-7-3-6-3-6-2-6-3-6-2-7-3-6-2-6-2-6-2-6-2-7-2-6-2-6-2-6-2-6-2-7-1-6-2-6-1-6-2-6-1-7-1-6-1-6-2-6-1-7-1-6 0-6-1-6-1-6-1-7 0-6-1-6 0-6-1-6 0-6 0-7-1-6 0-6 0-6 0-6 0-6 0-7 1-6 0-6 0-6 1M994 303l-6-5-6-5-6-5-6-5-6-4-6-5-6-4-6-5-6-4-6-4-6-4-6-4-6-4-6-4-6-4-7-4-6-3-6-4-6-3-6-4-6-3-6-3-7-4-6-3-6-3-6-3-6-2-6-3-7-3-6-2-6-3-6-2-6-3-7-2-6-2-6-2-6-2-6-2-7-2-6-2-6-2-6-2-6-1-7-2-6-1-6-2-6-1-6-1-7-1-6-2-6-1-6-1-7 0-6-1-6-1-6-1-6 0-7-1-6 0-6-1-6 0-6 0-6-1-7 0-6 0-6 0-6 0-6 0-6 1-7 0-6 0-6 1M1001 301l-6-5-6-5-6-5-6-5-6-4-6-5-7-4-6-5-6-4-6-4-6-4-6-4-6-4-6-4-6-4-6-4-6-3-7-4-6-4-6-3-6-3-6-3-6-4-6-3-7-3-6-3-6-2-6-3-6-3-7-2-6-3-6-2-6-3-6-2-7-2-6-2-6-2-6-2-6-2-7-2-6-2-6-2-6-1-6-2-7-1-6-2-6-1-6-1-6-1-7-2-6-1-6-1-6 0-7-1-6-1-6-1-6 0-6-1-7 0-6-1-6 0-6 0-6-1-6 0-7 0-6 0-6 0-6 0-6 1-6 0-7 0-6 1M1007 299l-6-5-6-5-6-5-6-5-6-4-6-5-6-4-6-5-6-4-7-4-6-4-6-4-6-4-6-4-6-4-6-4-6-3-6-4-6-3-7-4-6-3-6-3-6-4-6-3-6-3-7-3-6-2-6-3-6-3-6-2-7-3-6-2-6-3-6-2-6-2-7-2-6-2-6-2-6-2-6-2-7-2-6-2-6-1-6-2-6-1-7-2-6-1-6-1-6-1-6-1-7-1-6-1-6-1-6-1-7-1-6-1-6 0-6-1-6 0-7-1-6 0-6 0-6 0-6-1-6 0-7 0-6 0-6 1-6 0-6 0-6 0-7 1M1013 297l-6-5-6-5-6-5-6-5-6-4-6-5-6-4-6-5-6-4-6-4-6-4-6-4-7-4-6-4-6-4-6-4-6-3-6-4-6-3-6-4-7-3-6-3-6-3-6-4-6-2-6-3-7-3-6-3-6-3-6-2-6-3-6-2-7-3-6-2-6-2-6-2-6-2-7-2-6-2-6-2-6-2-7-1-6-2-6-2-6-1-6-1-7-2-6-1-6-1-6-1-6-1-7-1-6-1-6-1-6-1-7 0-6-1-6-1-6 0-6 0-7-1-6 0-6 0-6 0-6-1-6 0-7 1-6 0-6 0-6 0-6 0-6 1M1019 295l-6-5-6-5-6-5-6-5-6-4-6-5-6-4-6-5-6-4-6-4-6-4-6-4-6-4-6-4-7-4-6-4-6-3-6-4-6-3-6-4-6-3-7-3-6-3-6-3-6-3-6-3-6-3-7-3-6-2-6-3-6-3-6-2-6-2-7-3-6-2-6-2-6-2-6-2-7-2-6-2-6-2-6-1-7-2-6-1-6-2-6-1-6-2-7-1-6-1-6-1-6-1-6-1-7-1-6-1-6-1-6 0-7-1-6 0-6-1-6 0-6-1-6 0-7 0-6 0-6 0-6 0-6 0-7 0-6 0-6 0-6 1-6 0M1025 293l-6-5-6-5-6-5-6-4-6-5-6-5-6-4-6-4-6-5-6-4-6-4-6-4-6-4-6-4-6-4-7-3-6-4-6-3-6-4-6-3-6-4-6-3-6-3-7-3-6-3-6-3-6-3-6-2-6-3-7-3-6-2-6-3-6-2-6-2-7-3-6-2-6-2-6-2-6-2-7-1-6-2-6-2-6-1-7-2-6-1-6-2-6-1-6-1-7-2-6-1-6-1-6-1-6-1-7 0-6-1-6-1-6 0-7-1-6-1-6 0-6 0-6-1-6 0-7 0-6 0-6 0-6 0-6 0-7 0-6 1-6 0-6 0M1031 291l-6-5-6-5-6-4-6-5-6-5-6-4-6-5-6-4-6-4-6-5-6-4-6-4-6-4-6-4-6-3-6-4-6-4-7-3-6-4-6-3-6-3-6-4-6-3-6-3-7-3-6-3-6-2-6-3-6-3-6-2-7-3-6-2-6-3-6-2-6-2-7-2-6-2-6-2-6-2-6-2-7-2-6-1-6-2-6-2-7-1-6-1-6-2-6-1-6-1-7-1-6-1-6-1-6-1-6-1-7-1-6 0-6-1-6-1-6 0-7-1-6 0-6 0-6 0-6 0-7-1-6 0-6 0-6 1-6 0-6 0-7 0-6 1M1038 289l-6-5-6-4-6-5-6-5-6-4-6-5-6-4-6-5-7-4-6-4-6-4-6-4-6-4-6-4-6-4-6-4-6-3-6-4-6-3-7-4-6-3-6-3-6-3-6-3-6-3-7-3-6-3-6-3-6-2-6-3-6-2-7-3-6-2-6-3-6-2-6-2-7-2-6-2-6-2-6-2-6-1-7-2-6-2-6-1-6-2-7-1-6-1-6-2-6-1-6-1-7-1-6-1-6-1-6-1-6 0-7-1-6-1-6 0-6-1-6 0-7 0-6-1-6 0-6 0-6 0-7 0-6 0-6 0-6 0-6 1-6 0-7 0M1044 288l-6-5-6-5-6-5-6-4-6-5-6-5-6-4-6-4-6-5-6-4-6-4-7-4-6-4-6-4-6-3-6-4-6-4-6-3-6-4-6-3-7-3-6-4-6-3-6-3-6-3-6-3-6-2-7-3-6-3-6-2-6-3-6-2-7-3-6-2-6-2-6-2-6-2-7-2-6-2-6-2-6-2-6-2-7-1-6-2-6-1-6-1-7-2-6-1-6-1-6-1-6-1-7-1-6-1-6-1-6-1-6 0-7-1-6-1-6 0-6-1-6 0-7 0-6 0-6 0-6-1-6 0-7 0-6 1-6 0-6 0-6 0-6 1M1050 286l-6-5-6-4-6-5-6-5-6-5-6-4-6-4-6-5-6-4-6-4-6-4-6-4-6-4-7-4-6-4-6-4-6-3-6-4-6-3-6-4-6-3-6-3-7-3-6-3-6-3-6-3-6-3-6-3-7-2-6-3-6-2-6-3-6-2-7-2-6-3-6-2-6-2-6-2-7-2-6-1-6-2-6-2-6-2-7-1-6-1-6-2-6-1-7-1-6-2-6-1-6-1-6-1-7-1-6 0-6-1-6-1-6 0-7-1-6 0-6-1-6 0-6-1-7 0-6 0-6 0-6 0-6 0-7 0-6 0-6 1-6 0-6 0M1056 285l-6-5-6-5-6-5-6-4-6-5-6-4-6-5-6-4-6-4-6-5-6-4-6-4-6-4-6-4-6-3-7-4-6-4-6-3-6-4-6-3-6-3-6-3-6-4-7-3-6-3-6-2-6-3-6-3-6-3-7-2-6-3-6-2-6-2-6-3-7-2-6-2-6-2-6-2-6-2-7-2-6-2-6-1-6-2-6-1-7-2-6-1-6-2-6-1-6-1-7-1-6-1-6-1-6-1-7-1-6 0-6-1-6-1-6 0-7-1-6 0-6-1-6 0-6 0-7 0-6 0-6 0-6 0-6 0-7 0-6 0-6 1-6 0M1062 284l-6-5-6-5-6-5-6-5-6-4-6-5-6-4-6-5-6-4-6-4-6-4-6-4-6-4-6-4-6-4-6-3-6-4-7-3-6-4-6-3-6-3-6-4-6-3-6-3-7-3-6-3-6-2-6-3-6-3-6-2-7-3-6-2-6-3-6-2-6-2-6-2-7-2-6-2-6-2-6-2-7-2-6-1-6-2-6-2-6-1-7-1-6-2-6-1-6-1-6-1-7-1-6-1-6-1-6-1-7-1-6 0-6-1-6-1-6 0-7 0-6-1-6 0-6 0-6 0-7-1-6 0-6 1-6 0-6 0-6 0-7 0-6 1M1068 282l-6-5-6-5-6-4-6-5-6-5-6-4-6-4-6-5-6-4-6-4-6-4-6-4-6-4-6-4-6-4-6-3-6-4-6-4-6-3-7-3-6-4-6-3-6-3-6-3-6-3-6-3-7-3-6-2-6-3-6-3-6-2-7-3-6-2-6-2-6-2-6-2-6-3-7-1-6-2-6-2-6-2-7-2-6-1-6-2-6-1-6-2-7-1-6-1-6-1-6-1-6-1-7-1-6-1-6-1-6-1-7-1-6 0-6-1-6 0-6-1-7 0-6 0-6 0-6-1-6 0-7 0-6 0-6 0-6 1-6 0-6 0-7 1M1074 281l-6-5-6-5-6-4-5-5-6-5-6-4-6-5-7-4-6-4-6-4-6-4-6-4-6-4-6-4-6-4-6-4-6-3-6-4-6-3-6-4-7-3-6-3-6-3-6-3-6-3-6-3-6-3-7-3-6-2-6-3-6-2-6-3-6-2-7-2-6-2-6-3-6-2-6-2-7-1-6-2-6-2-6-2-7-1-6-2-6-1-6-2-6-1-7-1-6-1-6-2-6-1-6-1-7 0-6-1-6-1-6-1-7 0-6-1-6 0-6-1-6 0-7 0-6-1-6 0-6 0-6 0-7 0-6 0-6 1-6 0-6 0-6 0M1080 280l-5-5-6-5-6-5-6-4-6-5-6-4-6-5-6-4-6-4-6-4-6-5-7-4-6-3-6-4-6-4-6-4-6-3-6-4-6-3-6-4-6-3-6-3-7-3-6-3-6-3-6-3-6-3-6-3-7-2-6-3-6-2-6-3-6-2-6-2-7-2-6-3-6-2-6-2-6-2-7-1-6-2-6-2-6-1-7-2-6-1-6-2-6-1-6-1-7-1-6-2-6-1-6-1-6 0-7-1-6-1-6-1-6 0-7-1-6 0-6-1-6 0-6 0-7-1-6 0-6 0-6 0-6 0-6 0-7 0-6 1-6 0-6 0M1087 279l-6-5-6-5-6-5-6-4-6-5-6-4-6-5-6-4-6-4-6-4-6-5-6-4-6-3-6-4-7-4-6-4-6-3-6-4-6-3-6-4-6-3-6-3-6-3-7-3-6-3-6-3-6-3-6-3-6-2-7-3-6-2-6-3-6-2-6-2-6-2-7-3-6-2-6-2-6-1-6-2-7-2-6-2-6-1-6-2-6-1-7-2-6-1-6-1-6-1-7-2-6-1-6-1-6 0-6-1-7-1-6-1-6 0-6-1-7 0-6-1-6 0-6 0-6-1-7 0-6 0-6 0-6 0-6 0-6 1-7 0-6 0-6 0M1093 278l-6-5-6-5-6-5-6-4-6-5-6-4-6-5-6-4-6-4-6-4-6-4-6-4-6-4-6-4-6-4-6-4-7-3-6-4-6-3-6-3-6-4-6-3-6-3-6-3-7-3-6-3-6-3-6-2-6-3-6-3-6-2-7-3-6-2-6-2-6-2-6-2-7-2-6-2-6-2-6-2-6-2-7-2-6-1-6-2-6-1-6-2-7-1-6-1-6-1-6-1-7-1-6-1-6-1-6-1-6-1-7-1-6 0-6-1-6 0-7-1-6 0-6 0-6 0-6-1-7 0-6 0-6 0-6 0-6 1-6 0-7 0-6 1M1099 277l-6-5-6-5-6-5-6-4-6-5-6-4-6-5-6-4-6-4-6-4-6-4-6-4-6-4-6-4-6-4-6-3-6-4-6-4-7-3-6-3-6-4-6-3-6-3-6-3-6-3-6-3-7-3-6-2-6-3-6-2-6-3-6-2-7-3-6-2-6-2-6-2-6-2-7-2-6-2-6-2-6-2-6-1-7-2-6-2-6-1-6-1-6-2-7-1-6-1-6-1-6-1-7-1-6-1-6-1-6-1-6 0-7-1-6-1-6 0-6 0-6-1-7 0-6 0-6 0-6-1-6 0-7 1-6 0-6 0-6 0-6 0-7 1M1105 276l-6-5-6-5-6-4-6-5-6-5-6-4-6-4-6-5-6-4-6-4-6-4-6-4-6-4-6-4-6-4-6-3-6-4-6-3-6-4-7-3-6-3-6-4-6-3-6-3-6-3-6-2-6-3-7-3-6-3-6-2-6-3-6-2-6-2-7-3-6-2-6-2-6-2-6-2-7-2-6-2-6-1-6-2-6-2-7-1-6-2-6-1-6-1-6-2-7-1-6-1-6-1-6-1-7-1-6-1-6 0-6-1-6-1-7 0-6-1-6 0-6-1-6 0-7 0-6 0-6 0-6 0-6 0-7 0-6 0-6 0-6 1-6 0M1111 275l-6-5-6-4-6-5-6-5-6-4-6-5-6-4-6-4-6-5-6-4-6-4-6-4-6-4-6-4-6-3-6-4-6-4-6-3-6-3-6-4-6-3-7-3-6-3-6-3-6-3-6-3-6-3-6-3-7-2-6-3-6-2-6-3-6-2-6-2-7-3-6-2-6-2-6-2-6-2-7-1-6-2-6-2-6-1-6-2-7-1-6-2-6-1-6-1-6-2-7-1-6-1-6-1-6-1-7 0-6-1-6-1-6 0-6-1-7 0-6-1-6 0-6-1-6 0-7 0-6 0-6 0-6 0-6 0-7 0-6 1-6 0-6 0M1117 275l-6-5-6-5-6-5-6-4-6-5-6-4-6-5-6-4-6-4-6-4-6-5-6-3-6-4-6-4-6-4-6-4-6-3-6-4-6-3-6-3-6-4-6-3-7-3-6-3-6-3-6-3-6-3-6-2-6-3-7-2-6-3-6-2-6-3-6-2-6-2-7-2-6-2-6-2-6-2-6-2-7-2-6-1-6-2-6-2-6-1-7-1-6-2-6-1-6-1-6-1-7-1-6-1-6-1-6-1-7-1-6 0-6-1-6-1-6 0-7 0-6-1-6 0-6 0-6-1-7 0-6 0-6 0-6 1-6 0-7 0-6 0-6 1M1123 274l-6-5-6-5-6-4-6-5-5-5-6-4-6-4-6-5-6-4-6-4-6-4-6-4-7-4-6-4-6-4-6-3-6-4-6-3-6-4-6-3-6-3-6-3-6-3-6-4-7-2-6-3-6-3-6-3-6-2-6-3-6-3-7-2-6-2-6-3-6-2-6-2-7-2-6-2-6-2-6-2-6-1-7-2-6-2-6-1-6-2-6-1-7-1-6-1-6-2-6-1-6-1-7-1-6-1-6 0-6-1-7-1-6-1-6 0-6-1-6 0-7 0-6-1-6 0-6 0-6 0-7 0-6 0-6 0-6 0-6 0-7 1-6 0M1129 274l-6-5-6-5-6-5-5-4-6-5-6-5-6-4-6-4-6-4-6-5-6-4-6-4-6-3-6-4-6-4-7-4-6-3-6-4-6-3-6-3-6-4-6-3-6-3-6-3-6-3-7-3-6-3-6-2-6-3-6-2-6-3-6-2-7-3-6-2-6-2-6-2-6-2-7-2-6-2-6-2-6-2-6-1-7-2-6-2-6-1-6-1-6-2-7-1-6-1-6-1-6-1-6-1-7-1-6-1-6-1-6 0-7-1-6-1-6 0-6 0-6-1-7 0-6 0-6-1-6 0-6 0-7 0-6 0-6 1-6 0-6 0-6 1M1135 273l-6-5-6-5-5-4-6-5-6-4-6-5-6-4-6-5-6-4-6-4-6-4-6-4-6-4-6-4-6-3-6-4-6-4-7-3-6-4-6-3-6-3-6-3-6-3-6-3-6-3-6-3-7-3-6-3-6-2-6-3-6-2-6-3-6-2-7-2-6-3-6-2-6-2-6-2-7-2-6-1-6-2-6-2-6-1-7-2-6-1-6-2-6-1-6-1-7-2-6-1-6-1-6-1-6-1-7 0-6-1-6-1-6 0-7-1-6 0-6-1-6 0-6-1-7 0-6 0-6 0-6 0-6 0-7 0-6 0-6 0-6 1-6 0M1141 273l-6-5-5-5-6-5-6-4-6-5-6-4-6-5-6-4-6-4-6-4-6-4-6-4-6-4-6-4-6-4-6-3-6-4-6-3-6-4-7-3-6-3-6-4-6-3-6-3-6-3-6-3-6-2-6-3-7-3-6-2-6-3-6-2-6-2-6-3-7-2-6-2-6-2-6-2-6-2-7-2-6-1-6-2-6-2-6-1-7-2-6-1-6-1-6-2-6-1-7-1-6-1-6-1-6-1-6-1-7 0-6-1-6-1-6 0-7-1-6 0-6-1-6 0-6 0-7 0-6 0-6 0-6 0-6 0-7 0-6 0-6 0-6 1M1147 272l-5-5-6-4-6-5-6-5-6-4-6-5-6-4-6-4-6-4-6-5-6-4-6-4-6-4-6-3-6-4-6-4-6-3-6-4-6-3-6-3-6-4-7-3-6-3-6-3-6-3-6-3-6-3-6-2-6-3-7-2-6-3-6-2-6-3-6-2-6-2-7-2-6-2-6-2-6-2-6-2-7-2-6-1-6-2-6-1-6-2-7-1-6-2-6-1-6-1-6-1-7-1-6-1-6-1-6-1-6-1-7 0-6-1-6-1-6 0-7-1-6 0-6 0-6 0-6-1-7 0-6 0-6 0-6 0-6 1-6 0-7 0-6 0M1153 272l-5-5-6-5-6-4-6-5-6-4-6-5-6-4-6-4-6-5-6-4-6-4-6-4-6-4-6-4-6-3-6-4-6-3-6-4-6-3-6-4-6-3-6-3-7-3-6-3-6-3-6-3-6-3-6-2-6-3-6-3-7-2-6-3-6-2-6-2-6-2-6-2-7-2-6-2-6-2-6-2-6-2-7-2-6-1-6-2-6-1-6-2-7-1-6-1-6-1-6-1-6-1-7-1-6-1-6-1-6-1-6-1-7 0-6-1-6 0-6-1-7 0-6 0-6-1-6 0-6 0-7 0-6 0-6 0-6 0-6 1-6 0-7 0M1159 272l-5-5-6-5-6-4-6-5-6-5-6-4-6-4-6-5-6-4-6-4-6-4-6-4-6-4-6-4-6-3-6-4-6-4-6-3-6-3-6-4-6-3-6-3-6-3-7-3-6-3-6-3-6-3-6-3-6-2-6-3-6-2-7-3-6-2-6-2-6-2-6-3-6-2-7-2-6-1-6-2-6-2-6-2-7-1-6-2-6-1-6-2-6-1-7-1-6-1-6-1-6-2-6-1-7 0-6-1-6-1-6-1-6 0-7-1-6 0-6-1-6 0-7-1-6 0-6 0-6 0-6 0-6 0-7 0-6 0-6 0-6 1-6 0M1166 272l-6-5-6-5-6-4-6-5-6-5-6-4-6-4-6-5-6-4-6-4-6-4-6-4-6-4-6-4-6-3-6-4-6-4-6-3-6-3-6-4-6-3-6-3-6-3-6-3-6-3-7-3-6-3-6-3-6-2-6-3-6-2-6-3-7-2-6-2-6-2-6-3-6-2-6-2-7-1-6-2-6-2-6-2-6-1-7-2-6-1-6-2-6-1-6-1-7-1-6-2-6-1-6-1-6 0-7-1-6-1-6-1-6 0-6-1-7 0-6-1-6 0-6-1-6 0-7 0-6 0-6 0-6 0-6 0-7 0-6 0-6 1-6 0M1172 272l-6-5-6-5-6-5-6-4-6-5-6-4-6-4-6-5-6-4-6-4-6-4-6-4-6-4-6-4-6-3-6-4-6-4-6-3-6-3-6-4-6-3-6-3-6-3-6-3-6-3-6-3-7-3-6-3-6-2-6-3-6-2-6-3-6-2-7-2-6-2-6-3-6-2-6-2-6-1-7-2-6-2-6-2-6-1-6-2-7-1-6-2-6-1-6-1-6-1-7-2-6-1-6-1-6 0-6-1-7-1-6-1-6 0-6-1-6 0-7-1-6 0-6-1-6 0-6 0-7 0-6 0-6 0-6 0-6 0-7 0-6 1-6 0M1178 272l-6-5-6-5-6-4-6-5-6-5-6-4-6-4-6-5-6-4-6-4-6-4-6-4-6-4-6-4-6-3-6-4-6-4-6-3-6-3-6-4-6-3-6-3-6-3-6-3-6-3-6-3-6-3-7-2-6-3-6-3-6-2-6-3-6-2-6-2-7-2-6-2-6-2-6-2-6-2-6-2-7-2-6-2-6-1-6-2-6-1-7-2-6-1-6-1-6-1-6-1-7-2-6 0-6-1-6-1-6-1-7-1-6 0-6-1-6 0-6-1-7 0-6-1-6 0-6 0-6 0-7 0-6 0-6 0-6 0-6 0-7 1-6 0M1184 272l-6-5-6-5-6-4-6-5-6-4-6-5-6-4-6-5-6-4-6-4-5-4-6-4-6-4-6-3-6-4-7-4-6-3-6-4-6-3-6-4-6-3-6-3-6-3-6-3-6-3-6-3-6-3-6-2-7-3-6-3-6-2-6-2-6-3-6-2-6-2-7-2-6-2-6-2-6-2-6-2-6-2-7-1-6-2-6-2-6-1-6-1-7-2-6-1-6-1-6-1-6-1-7-1-6-1-6-1-6-1-6-1-7 0-6-1-6 0-6-1-6 0-7 0-6-1-6 0-6 0-6 0-7 0-6 0-6 0-6 0-6 1-7 0M1190 272l-6-5-6-4-6-5-6-5-6-4-6-5-6-4-6-4-6-5-5-4-6-4-6-4-6-3-6-4-6-4-6-4-6-3-6-4-7-3-6-3-6-4-6-3-6-3-6-3-6-3-6-3-6-2-6-3-6-3-7-2-6-3-6-2-6-3-6-2-6-2-6-2-7-2-6-2-6-2-6-2-6-2-6-1-7-2-6-1-6-2-6-1-6-2-7-1-6-1-6-1-6-1-6-1-7-1-6-1-6-1-6 0-6-1-7-1-6 0-6-1-6 0-6 0-7 0-6-1-6 0-6 0-6 0-7 0-6 0-6 1-6 0-6 0M1196 272l-6-4-6-5-6-5-6-4-6-5-6-4-6-5-6-4-5-4-6-4-6-4-6-4-6-4-6-4-6-4-6-3-6-4-6-3-6-4-6-3-7-3-6-3-6-4-6-3-6-2-6-3-6-3-6-3-6-2-6-3-7-2-6-3-6-2-6-2-6-3-6-2-6-2-7-2-6-2-6-1-6-2-6-2-6-2-7-1-6-2-6-1-6-1-6-2-7-1-6-1-6-1-6-1-6-1-7-1-6 0-6-1-6-1-6 0-7-1-6 0-6-1-6 0-6 0-7 0-6-1-6 0-6 0-6 0-7 1-6 0-6 0-6 0"/>
<ellipse cx="754.7" cy="148.3" rx="8" ry="5" fill="#ff0000" stroke="#600" stroke-width=".8"/>
<ellipse cx="1196.6" cy="266.6" rx="8" ry="5" fill="#ff0000" stroke="#600" stroke-width=".8"/>
<ellipse cx="317.7" cy="301.8" rx="8" ry="5" fill="#ffb0b0" stroke="#600" stroke-width=".8"/>
<ellipse cx="755.1" cy="452.5" rx="8" ry="5" fill="#ff0000" stroke="#600" stroke-width=".8"/>
<g font-family="'Liberation Serif', 'Times New Roman', serif" font-weight="bold"><text x="308.2" y="383.2" font-size="28.8" text-anchor="end">80</text><text x="304.1" y="322.6" font-size="28.8" text-anchor="end">85</text><text x="299.9" y="262.1" font-size="28.8" text-anchor="end">90</text><text x="295.7" y="201.5" font-size="28.8" text-anchor="end">95</text><text x="291.6" y="140.9" font-size="28.8" text-anchor="end">100</text><text x="287.4" y="80.3" font-size="28.8" text-anchor="end">105</text><text x="769.8" y="646.1" font-size="28.8" textLength="64.5" lengthAdjust="spacingAndGlyphs">30.00</text><text x="854.8" y="618.5" font-size="28.8" textLength="64.5" lengthAdjust="spacingAndGlyphs">32.00</text><text x="939.8" y="591" font-size="28.8" textLength="64.5" lengthAdjust="spacingAndGlyphs">34.00</text><text x="1024.8" y="563.5" font-size="28.8" textLength="64.5" lengthAdjust="spacingAndGlyphs">36.00</text><text x="1109.8" y="536" font-size="28.8" textLength="64.5" lengthAdjust="spacingAndGlyphs">38.00</text><text x="1194.8" y="508.4" font-size="28.8" textLength="64.5" lengthAdjust="spacingAndGlyphs">40.00</text><text x="742" y="645.7" font-size="28.8" text-anchor="end" textLength="64.5" lengthAdjust="spacingAndGlyphs">70.00</text><text x="635.6" y="611.2" font-size="28.8" text-anchor="end" textLength="64.5" lengthAdjust="spacingAndGlyphs">75.00</text><text x="529.2" y="576.7" font-size="28.8" text-anchor="end" textLength="64.5" lengthAdjust="spacingAndGlyphs">80.00</text><text x="422.8" y="542.3" font-size="28.8" text-anchor="end" textLength="64.5" lengthAdjust="spacingAndGlyphs">85.00</text><text x="316.3" y="507.8" font-size="28.8" text-anchor="end" textLength="64.5" lengthAdjust="spacingAndGlyphs">90.00</text></g>
<text x="27.8" y="107.9" font-size="75.5">D</text>
<text x="110.8" y="630.5" font-size="40.7" textLength="534" lengthAdjust="spacingAndGlyphs" stroke="#000" stroke-width="1.1">C:Solvent concentration(100%)</text>
<text x="946.4" y="629.9" font-size="40.7" textLength="373.1" lengthAdjust="spacingAndGlyphs" stroke="#000" stroke-width="1.1">B:Extraction temp(<tspan font-family="'Noto Sans CJK SC', 'Noto Sans CJK JP', sans-serif">℃</tspan>)</text>
<text x="0" y="0" font-size="44.8" stroke="#000" stroke-width="1.1" textLength="280.8" lengthAdjust="spacingAndGlyphs" transform="translate(181 431.3) rotate(-90)">Phlorizin(mg/g)</text>
<path d="M331.9 1082.4L769.9 989.4 1203.3 1082M327.6 1022.4L769.6 934.5 1207.7 1022.1M323.4 962.5L769.4 879.6 1212.2 962.2M319.1 902.5L769.1 824.7 1216.6 902.3M314.9 842.6L768.8 769.8 1221.1 842.4M310.6 782.6L768.5 714.9 1225.5 782.5M338.5 1176.1L310.6 782.6M419.5 1063.8L402.2 769.1M507.1 1045.2L493.8 755.5M594.7 1026.6L585.4 742M682.3 1008L676.9 728.4M770.4 1075.3L768.5 714.9M1196.3 1175.6L1225.5 782.5M1095 1058.8L1111.3 765.6M986.6 1035.7L997 748.7M878.3 1012.5L882.8 731.8M770.4 1075.3L768.5 714.9" fill="none" stroke="#3a3a3a" stroke-width="1.7"/>
<path d="M768.2 1312.9L1196.3 1175.6 770.4 1075.3 338.5 1176.1Z" fill="#ffff00" stroke="#222" stroke-width="1.5"/>
<path d="M770.1 1310.6L756.4 1308.1" fill="none" stroke="#2090d0" stroke-width="1.8"/>
<path d="M442.2 1209.1L431.8 1204.1 421.6 1199.2 411.7 1194.2 402 1189.2 392.5 1184.1 383.4 1179.1 374.5 1174.1" fill="none" stroke="#2090d0" stroke-width="1.8"/>
<path d="M953.3 1253L945.9 1253.5 938.4 1254 930.7 1254.4 923 1254.6 915.1 1254.8 907.2 1254.9 899.1 1254.9 891 1254.8 882.8 1254.6 874.5 1254.3 866.1 1253.9 857.7 1253.4 849.2 1252.9 840.6 1252.2 832 1251.4 823.4 1250.6 814.7 1249.6 806 1248.6 797.3 1247.4 788.6 1246.2 779.8 1244.9 771.1 1243.5 762.3 1242.1 753.6 1240.5 744.8 1238.8 736.1 1237.1 727.4 1235.3 718.8 1233.4 710.2 1231.5 701.6 1229.4 693 1227.3 684.6 1225.2 676.2 1222.9 667.8 1220.6 659.5 1218.3 651.4 1215.8 643.2 1213.3 635.2 1210.8 627.3 1208.2 619.5 1205.6 611.8 1202.9 604.2 1200.1 596.7 1197.4 589.3 1194.5 582.1 1191.7 575 1188.8 568 1185.9 561.2 1182.9 554.5 1179.9 548 1176.9 541.6 1173.9 535.4 1170.8 529.4 1167.8 523.5 1164.7 517.9 1161.6 512.3 1158.5 507 1155.4 501.9 1152.3 496.9 1149.2 492.1 1146.1 487.6 1143" fill="none" stroke="#00e000" stroke-width="2.0"/>
<path d="M1096.9 1152.2L1098.8 1155.1 1100.5 1158 1102 1160.9 1103.2 1163.8 1104.2 1166.7 1105 1169.6 1105.5 1172.5 1105.9 1175.4 1105.9 1178.2 1105.8 1181 1105.4 1183.8 1104.9 1186.6 1104 1189.4 1103 1192.2 1101.7 1194.9 1100.2 1197.6 1098.5 1200.2 1096.6 1202.8 1094.4 1205.4 1092 1207.9" fill="none" stroke="#00e000" stroke-width="2.0"/>
<path d="M853.8 1285.4l0 0M939.4 1258l0 0M1025.1 1230.5l0 0M1110.7 1203.1l0 0M660.8 1278.7l0 0M553.4 1244.5l0 0M445.9 1210.3l0 0M331.9 1082.4l0 0M327.6 1022.4l0 0M323.4 962.5l0 0M319.1 902.5l0 0M314.9 842.6l0 0M310.6 782.6l0 0" stroke="#000" stroke-width="4" stroke-linecap="round"/>
<path fill="#101010" stroke="#101010" stroke-width="2.2" stroke-linejoin="round" d="M324 979 328 977 330 974 334 972 336 969 340 967 342 964 346 961 348 959 352 956 354 954 358 952 360 949 364 947 366 944 370 942 372 940 376 938 378 935 382 933 384 931 388 929 390 926 394 924 396 922 400 920 402 918 406 916 408 914 412 912 414 910 418 908 420 906 424 904 426 902 430 900 432 898 436 897 438 895 442 893 444 891 448 889 450 888 454 886 456 884 460 882 462 881 466 879 468 877 472 876 474 874 478 873 480 871 484 869 486 868 490 866 492 865 496 864 498 862 502 861 504 859 508 858 510 856 514 855 516 854 520 852 522 851 526 850 528 849 532 847 534 846 538 845 540 844 544 843 546 841 550 840 552 839 556 838 558 837 562 836 564 835 568 834 570 833 574 832 576 831 580 830 582 829 586 828 588 827 592 826 594 825 598 824 600 824 604 823 606 822 610 821 612 820 616 820 618 819 622 818 624 817 628 817 630 816 634 815 636 815 640 814 642 813 646 813 648 812 652 812 654 811 658 811 660 810 664 810 666 809 670 809 672 808 676 808 678 807 682 807 684 806 688 806 690 806 694 805 696 805 700 805 702 804 706 804 708 804 712 804 714 803 718 803 720 803 724 803 726 802 730 802 732 802 736 802 738 802 742 802 744 802 748 802 750 801 754 801 756 801 760 801 762 801 766 801 768 801 772 801 774 802 778 802 780 802 784 803 786 803 790 804 792 804 796 804 798 805 802 805 804 806 808 806 810 806 814 807 816 807 820 808 822 808 826 809 828 809 832 809 834 810 838 810 840 811 844 811 846 812 850 812 852 813 856 813 858 814 862 814 864 815 868 816 870 816 874 817 876 817 880 818 882 818 886 819 888 820 892 820 894 821 898 821 900 822 904 823 906 823 910 824 912 824 916 825 918 826 922 826 924 827 928 828 930 828 934 829 936 830 940 831 942 831 946 832 948 833 952 833 954 834 958 835 960 836 964 836 966 837 970 838 972 839 976 840 978 840 982 841 984 842 988 843 990 844 994 844 996 845 1000 846 1002 847 1006 848 1008 849 1012 850 1014 851 1018 852 1020 852 1024 853 1026 854 1030 855 1032 856 1036 857 1038 858 1042 859 1044 860 1048 861 1050 862 1054 863 1056 864 1060 865 1062 866 1066 867 1068 868 1072 869 1074 870 1078 871 1080 872 1084 873 1086 874 1090 875 1092 876 1096 878 1098 879 1102 880 1104 881 1108 882 1110 883 1114 884 1116 886 1120 887 1122 888 1126 889 1128 890 1132 891 1134 893 1138 894 1140 895 1144 896 1146 898 1150 899 1152 900 1156 901 1158 903 1162 904 1164 905 1168 906 1170 908 1174 909 1176 910 1180 912 1182 913 1186 915 1188 916 1192 917 1194 919 1198 920 1200 921 1204 923 1206 924 1210 926 1212 927 1214 928 1214 928 1212 928 1210 928 1206 928 1204 928 1200 927 1198 927 1194 927 1192 927 1188 927 1186 927 1182 926 1180 926 1176 926 1174 926 1170 926 1168 926 1164 926 1162 926 1158 926 1156 926 1152 926 1150 927 1146 927 1144 927 1140 927 1138 927 1134 927 1132 928 1128 928 1126 928 1122 928 1120 929 1116 929 1114 929 1110 930 1108 930 1104 930 1102 931 1098 931 1096 931 1092 932 1090 932 1086 933 1084 933 1080 934 1078 934 1074 935 1072 935 1068 936 1066 936 1062 937 1060 938 1056 938 1054 939 1050 940 1048 940 1044 941 1042 942 1038 943 1036 943 1032 944 1030 945 1026 946 1024 946 1020 947 1018 948 1014 949 1012 950 1008 951 1006 952 1002 953 1000 954 996 955 994 956 990 957 988 958 984 959 982 960 978 961 976 962 972 963 970 964 966 966 964 967 960 968 958 969 954 970 952 972 948 973 946 974 942 976 940 977 936 978 934 980 930 981 928 982 924 984 922 985 918 987 916 988 912 990 910 991 906 993 904 994 900 996 898 998 894 999 892 1001 888 1002 886 1004 882 1006 880 1008 876 1009 874 1011 870 1013 868 1015 864 1016 862 1018 858 1020 856 1022 852 1024 850 1026 846 1028 844 1030 840 1032 838 1034 834 1036 832 1038 828 1040 826 1042 822 1044 820 1046 816 1048 814 1050 810 1053 808 1055 804 1057 802 1059 798 1061 796 1064 792 1066 790 1068 786 1071 784 1073 780 1075 778 1078 774 1080 772 1083 768 1083 766 1083 762 1081 760 1080 756 1079 754 1078 750 1076 748 1075 744 1074 742 1073 738 1072 736 1070 732 1069 730 1068 726 1067 724 1066 720 1065 718 1063 714 1062 712 1061 708 1060 706 1059 702 1058 700 1057 696 1056 694 1055 690 1054 688 1053 684 1052 682 1051 678 1050 676 1049 672 1047 670 1046 666 1045 664 1044 660 1043 658 1042 654 1042 652 1041 648 1040 646 1039 642 1038 640 1037 636 1036 634 1035 630 1034 628 1033 624 1032 622 1031 618 1031 616 1030 612 1029 610 1028 606 1027 604 1026 600 1026 598 1025 594 1024 592 1023 588 1022 586 1022 582 1021 580 1020 576 1019 574 1018 570 1018 568 1017 564 1016 562 1015 558 1015 556 1014 552 1013 550 1013 546 1012 544 1011 540 1011 538 1010 534 1009 532 1009 528 1008 526 1007 522 1007 520 1006 516 1005 514 1005 510 1004 508 1004 504 1003 502 1002 498 1002 496 1001 492 1001 490 1000 486 1000 484 999 480 999 478 998 474 998 472 997 468 997 466 996 462 996 460 995 456 995 454 994 450 994 448 993 444 993 442 992 438 992 436 991 432 991 430 991 426 990 424 990 420 989 418 989 414 989 412 988 408 988 406 988 402 987 400 987 396 987 394 986 390 986 388 986 384 985 382 985 378 985 376 984 372 984 370 984 366 984 364 983 360 983 358 983 354 983 352 982 348 982 346 982 342 982 340 981 336 981 334 981 330 981 328 981 324 981Z"/><g><path fill="#1a1000" d="M769 802l12 0-12-1-13 0z"/><path fill="#2b1a00" d="M756 803l13-1-13-1-12 0z"/><path fill="#201400" d="M781 804l13 0-13-2-12 0z"/><path fill="#3b2200" d="M744 803l12 0-12-2-13 1z"/><path fill="#311d00" d="M769 804l12 0-12-2-13 1z"/><path fill="#261700" d="M794 806l12 0-12-2-13 0z"/><path fill="#4a2800" d="M731 804l13-1-13-1-12 1z"/><path fill="#412400" d="M756 805l13-1-13-1-12 0z"/><path fill="#371f00" d="M781 806l13 0-13-2-12 0z"/><path fill="#2c1a00" d="M806 807l13 0-13-1-12 0z"/><path fill="#572e00" d="M719 805l12-1-12-1-13 1z"/><path fill="#4f2a00" d="M744 805l12 0-12-2-13 1z"/><path fill="#462600" d="M769 806l12 0-12-2-13 1z"/><path fill="#3c2200" d="M794 808l12-1-12-1-13 0z"/><path fill="#321e00" d="M819 809l12 0-12-2-13 0z"/><path fill="#623300" d="M706 806l13-1-13-1-12 1z"/><path fill="#5b2f00" d="M731 806l13-1-13-1-12 1z"/><path fill="#532b00" d="M756 807l13-1-13-1-12 0z"/><path fill="#4b2800" d="M781 808l13 0-13-2-12 0z"/><path fill="#412500" d="M806 809l13 0-13-2-12 1z"/><path fill="#382100" d="M831 811l13 0-13-2-12 0z"/><path fill="#6d3700" d="M693 808l13-2-12-1-13 2z"/><path fill="#663300" d="M719 808l12-2-12-1-13 1z"/><path fill="#5f3000" d="M744 808l12-1-12-2-13 1z"/><path fill="#572d00" d="M769 809l12-1-12-2-13 1z"/><path fill="#4f2a00" d="M794 810l12-1-12-1-13 0z"/><path fill="#472800" d="M819 811l12 0-12-2-13 0z"/><path fill="#3d2400" d="M844 813l12 0-12-2-13 0z"/><path fill="#763b00" d="M681 810l12-2-12-1-13 2z"/><path fill="#703600" d="M706 809l13-1-13-2-13 2z"/><path fill="#6a3300" d="M731 809l13-1-13-2-12 2z"/><path fill="#633100" d="M756 810l13-1-13-2-12 1z"/><path fill="#5c2f00" d="M781 810l13 0-13-2-12 1z"/><path fill="#542c00" d="M806 812l13-1-13-2-12 1z"/><path fill="#4c2a00" d="M831 813l13 0-13-2-12 0z"/><path fill="#432800" d="M856 816l13 0-13-3-12 0z"/><path fill="#7e3e00" d="M668 812l13-2-13-1-12 2z"/><path fill="#793900" d="M693 811l13-2-13-1-12 2z"/><path fill="#733600" d="M718 811l13-2-12-1-13 1z"/><path fill="#6d3300" d="M744 811l12-1-12-2-13 1z"/><path fill="#673100" d="M769 811l12-1-12-1-13 1z"/><path fill="#603000" d="M794 812l12 0-12-2-13 0z"/><path fill="#582f00" d="M819 814l12-1-12-2-13 1z"/><path fill="#502d00" d="M844 816l12 0-12-3-13 0z"/><path fill="#482b00" d="M869 818l12 0-12-2-13 0z"/><path fill="#854300" d="M656 814l12-2-12-1-13 2z"/><path fill="#803d00" d="M681 813l12-2-12-1-13 2z"/><path fill="#7b3900" d="M706 813l12-2-12-2-13 2z"/><path fill="#763500" d="M731 812l13-1-13-2-13 2z"/><path fill="#703300" d="M756 813l13-2-13-1-12 1z"/><path fill="#6a3200" d="M781 813l13-1-13-2-12 1z"/><path fill="#643200" d="M806 814l13 0-13-2-12 0z"/><path fill="#5d3100" d="M831 816l13 0-13-3-12 1z"/><path fill="#553000" d="M856 818l13 0-13-2-12 0z"/><path fill="#4d2e00" d="M881 820l13 1-13-3-12 0z"/><path fill="#8c4700" d="M643 817l13-3-13-1-12 3z"/><path fill="#874100" d="M668 816l13-3-13-1-12 2z"/><path fill="#833c00" d="M693 815l13-2-13-2-12 2z"/><path fill="#7e3800" d="M718 814l13-2-13-1-12 2z"/><path fill="#793500" d="M744 814l12-1-12-2-13 1z"/><path fill="#743400" d="M769 815l12-2-12-2-13 2z"/><path fill="#6e3300" d="M794 815l12-1-12-2-13 1z"/><path fill="#673400" d="M819 817l12-1-12-2-13 0z"/><path fill="#613300" d="M844 818l12 0-12-2-13 0z"/><path fill="#593300" d="M869 820l12 0-12-2-13 0z"/><path fill="#523200" d="M894 823l12 0-12-2-13-1z"/><path fill="#924c00" d="M631 820l12-3-12-1-13 3z"/><path fill="#8e4500" d="M656 818l12-2-12-2-13 3z"/><path fill="#8a3f00" d="M681 817l12-2-12-2-13 3z"/><path fill="#853a00" d="M706 816l12-2-12-1-13 2z"/><path fill="#813700" d="M731 816l13-2-13-2-13 2z"/><path fill="#7c3500" d="M756 816l13-1-13-2-12 1z"/><path fill="#773500" d="M781 816l13-1-13-2-12 2z"/><path fill="#713500" d="M806 817l13 0-13-3-12 1z"/><path fill="#6b3600" d="M831 819l13-1-13-2-12 1z"/><path fill="#653600" d="M856 821l13-1-13-2-12 0z"/><path fill="#5e3500" d="M881 823l13 0-13-3-12 0z"/><path fill="#563500" d="M906 826l13 0-13-3-12 0z"/><path fill="#975100" d="M618 823l13-3-13-1-12 3z"/><path fill="#934a00" d="M643 821l13-3-13-1-12 3z"/><path fill="#904300" d="M668 820l13-3-13-1-12 2z"/><path fill="#8c3d00" d="M693 819l13-3-13-1-12 2z"/><path fill="#883900" d="M718 818l13-2-13-2-12 2z"/><path fill="#833700" d="M744 818l12-2-12-2-13 2z"/><path fill="#7f3600" d="M769 818l12-2-12-1-13 1z"/><path fill="#7a3500" d="M794 819l12-2-12-2-13 1z"/><path fill="#743600" d="M819 820l12-1-12-2-13 0z"/><path fill="#6f3800" d="M844 821l12 0-12-3-13 1z"/><path fill="#683800" d="M869 823l12 0-12-3-13 1z"/><path fill="#623900" d="M894 826l12 0-12-3-13 0z"/><path fill="#5b3900" d="M919 828l12 1-12-3-13 0z"/><path fill="#9c5700" d="M606 827l12-4-12-1-13 4z"/><path fill="#994f00" d="M631 825l12-4-12-1-13 3z"/><path fill="#954800" d="M656 823l12-3-12-2-13 3z"/><path fill="#924100" d="M681 821l12-2-12-2-13 3z"/><path fill="#8e3c00" d="M706 820l12-2-12-2-13 3z"/><path fill="#8a3900" d="M731 820l13-2-13-2-13 2z"/><path fill="#863700" d="M756 820l13-2-13-2-12 2z"/><path fill="#813600" d="M781 820l13-1-13-3-12 2z"/><path fill="#7d3700" d="M806 821l13-1-13-3-12 2z"/><path fill="#773800" d="M831 822l13-1-13-2-12 1z"/><path fill="#723a00" d="M856 824l13-1-13-2-12 0z"/><path fill="#6c3b00" d="M881 826l13 0-13-3-12 0z"/><path fill="#663c00" d="M906 828l13 0-13-2-12 0z"/><path fill="#5f3d00" d="M931 831l13 1-13-3-12-1z"/><path fill="#a05d00" d="M593 831l13-4-13-1-12 4z"/><path fill="#9d5500" d="M618 828l13-3-13-2-12 4z"/><path fill="#9a4d00" d="M643 826l13-3-13-2-12 4z"/><path fill="#974500" d="M668 824l13-3-13-1-12 3z"/><path fill="#943f00" d="M693 823l13-3-13-1-12 2z"/><path fill="#903b00" d="M718 822l13-2-13-2-12 2z"/><path fill="#8c3800" d="M743 822l13-2-12-2-13 2z"/><path fill="#883700" d="M769 822l12-2-12-2-13 2z"/><path fill="#843700" d="M794 822l12-1-12-2-13 1z"/><path fill="#7f3800" d="M819 823l12-1-12-2-13 1z"/><path fill="#7a3a00" d="M844 824l12 0-12-3-13 1z"/><path fill="#753c00" d="M869 826l12 0-12-3-13 1z"/><path fill="#703e00" d="M894 828l12 0-12-2-13 0z"/><path fill="#693f00" d="M919 831l12 0-12-3-13 0z"/><path fill="#634100" d="M944 834l12 1-12-3-13-1z"/><path fill="#a46400" d="M581 835l12-4-12-1-13 4z"/><path fill="#a25b00" d="M606 832l12-4-12-1-13 4z"/><path fill="#9f5300" d="M631 829l12-3-12-1-13 3z"/><path fill="#9c4b00" d="M656 827l12-3-12-1-13 3z"/><path fill="#994400" d="M681 826l12-3-12-2-13 3z"/><path fill="#963e00" d="M706 825l12-3-12-2-13 3z"/><path fill="#923a00" d="M731 824l12-2-12-2-13 2z"/><path fill="#8f3800" d="M756 824l13-2-13-2-13 2z"/><path fill="#8b3700" d="M781 824l13-2-13-2-12 2z"/><path fill="#863800" d="M806 824l13-1-13-2-12 1z"/><path fill="#823a00" d="M831 826l13-2-13-2-12 1z"/><path fill="#7d3c00" d="M856 827l13-1-13-2-12 0z"/><path fill="#783f00" d="M881 829l13-1-13-2-12 0z"/><path fill="#734100" d="M906 831l13 0-13-3-12 0z"/><path fill="#6d4300" d="M931 834l13 0-13-3-12 0z"/><path fill="#674500" d="M956 837l13 1-13-3-12-1z"/><path fill="#a86c00" d="M568 839l13-4-13-1-12 4z"/><path fill="#a66200" d="M593 836l13-4-13-1-12 4z"/><path fill="#a35900" d="M618 833l13-4-13-1-12 4z"/><path fill="#a05100" d="M643 831l13-4-13-1-12 3z"/><path fill="#9e4900" d="M668 829l13-3-13-2-12 3z"/><path fill="#9b4200" d="M693 828l13-3-13-2-12 3z"/><path fill="#983d00" d="M718 827l13-3-13-2-12 3z"/><path fill="#943a00" d="M743 826l13-2-13-2-12 2z"/><path fill="#913800" d="M769 826l12-2-12-2-13 2z"/><path fill="#8d3800" d="M794 826l12-2-12-2-13 2z"/><path fill="#893900" d="M819 827l12-1-12-3-13 1z"/><path fill="#853c00" d="M844 828l12-1-12-3-13 2z"/><path fill="#803f00" d="M869 830l12-1-12-3-13 1z"/><path fill="#7b4100" d="M894 832l12-1-12-3-13 1z"/><path fill="#764400" d="M919 834l12 0-12-3-13 0z"/><path fill="#714600" d="M944 837l12 0-12-3-13 0z"/><path fill="#6b4900" d="M969 841l12 0-12-3-13-1z"/><path fill="#ab7500" d="M556 844l12-5-12-1-13 5z"/><path fill="#a96900" d="M581 841l12-5-12-1-13 4z"/><path fill="#a75f00" d="M606 837l12-4-12-1-13 4z"/><path fill="#a55700" d="M631 835l12-4-12-2-13 4z"/><path fill="#a24f00" d="M656 832l12-3-12-2-13 4z"/><path fill="#9f4700" d="M681 831l12-3-12-2-13 3z"/><path fill="#9c4100" d="M706 829l12-2-12-2-13 3z"/><path fill="#993c00" d="M731 828l12-2-12-2-13 3z"/><path fill="#963a00" d="M756 828l13-2-13-2-13 2z"/><path fill="#933900" d="M781 828l13-2-13-2-12 2z"/><path fill="#8f3900" d="M806 828l13-1-13-3-12 2z"/><path fill="#8b3b00" d="M831 829l13-1-13-2-12 1z"/><path fill="#873e00" d="M856 831l13-1-13-3-12 1z"/><path fill="#834200" d="M881 833l13-1-13-3-12 1z"/><path fill="#7e4400" d="M906 835l13-1-13-3-12 1z"/><path fill="#794700" d="M931 837l13 0-13-3-12 0z"/><path fill="#744a00" d="M956 841l13 0-13-4-12 0z"/><path fill="#6e4e00" d="M981 844l13 1-13-4-12 0z"/><path fill="#af7f00" d="M543 849l13-5-13-1-12 5z"/><path fill="#ad7100" d="M568 845l13-4-13-2-12 5z"/><path fill="#ab6600" d="M593 842l13-5-13-1-12 5z"/><path fill="#a85d00" d="M618 839l13-4-13-2-12 4z"/><path fill="#a65500" d="M643 836l13-4-13-1-12 4z"/><path fill="#a34c00" d="M668 834l13-3-13-2-12 3z"/><path fill="#a14500" d="M693 832l13-3-13-1-12 3z"/><path fill="#9e4000" d="M718 831l13-3-13-1-12 2z"/><path fill="#9b3c00" d="M743 831l13-3-13-2-12 2z"/><path fill="#983a00" d="M769 830l12-2-12-2-13 2z"/><path fill="#953a00" d="M794 830l12-2-12-2-13 2z"/><path fill="#913b00" d="M819 831l12-2-12-2-13 1z"/><path fill="#8e3d00" d="M844 832l12-1-12-3-13 1z"/><path fill="#8a4100" d="M869 834l12-1-12-3-13 1z"/><path fill="#854400" d="M894 835l12 0-12-3-13 1z"/><path fill="#814800" d="M919 838l12-1-12-3-13 1z"/><path fill="#7c4b00" d="M944 841l12 0-12-4-13 0z"/><path fill="#774f00" d="M969 844l12 0-12-3-13 0z"/><path fill="#725300" d="M994 848l12 0-12-3-13-1z"/><path fill="#b28b00" d="M531 854l12-5-12-1-13 5z"/><path fill="#b07b00" d="M556 850l12-5-12-1-13 5z"/><path fill="#ae6f00" d="M581 846l12-4-12-1-13 4z"/><path fill="#ac6400" d="M606 843l12-4-12-2-13 5z"/><path fill="#aa5b00" d="M631 840l12-4-12-1-13 4z"/><path fill="#a75300" d="M656 838l12-4-12-2-13 4z"/><path fill="#a54b00" d="M681 836l12-4-12-1-13 3z"/><path fill="#a24400" d="M706 834l12-3-12-2-13 3z"/><path fill="#a03f00" d="M731 833l12-2-12-3-13 3z"/><path fill="#9d3c00" d="M756 833l13-3-13-2-13 3z"/><path fill="#9a3b00" d="M781 833l13-3-13-2-12 2z"/><path fill="#973b00" d="M806 833l13-2-13-3-12 2z"/><path fill="#933d00" d="M831 834l13-2-13-3-12 2z"/><path fill="#903f00" d="M856 835l13-1-13-3-12 1z"/><path fill="#8c4400" d="M881 836l13-1-13-2-12 1z"/><path fill="#884700" d="M906 839l13-1-13-3-12 0z"/><path fill="#844b00" d="M931 841l13 0-13-4-12 1z"/><path fill="#7f4f00" d="M956 844l13 0-13-3-12 0z"/><path fill="#7a5300" d="M981 848l13 0-13-4-12 0z"/><path fill="#755900" d="M1006 851l12 1-12-4-12 0z"/><path fill="#b49800" d="M519 860l12-6-13-1-12 6z"/><path fill="#b38700" d="M543 856l13-6-13-1-12 5z"/><path fill="#b17800" d="M568 851l13-5-13-1-12 5z"/><path fill="#af6c00" d="M593 848l13-5-13-1-12 4z"/><path fill="#ad6200" d="M618 845l13-5-13-1-12 4z"/><path fill="#ab5900" d="M643 842l13-4-13-2-12 4z"/><path fill="#a95100" d="M668 840l13-4-13-2-12 4z"/><path fill="#a64900" d="M693 838l13-4-13-2-12 4z"/><path fill="#a44300" d="M718 836l13-3-13-2-12 3z"/><path fill="#a13f00" d="M743 836l13-3-13-2-12 2z"/><path fill="#9e3c00" d="M768 835l13-2-12-3-13 3z"/><path fill="#9c3c00" d="M794 835l12-2-12-3-13 3z"/><path fill="#993c00" d="M819 835l12-1-12-3-13 2z"/><path fill="#953f00" d="M844 836l12-1-12-3-13 2z"/><path fill="#924200" d="M869 838l12-2-12-2-13 1z"/><path fill="#8e4700" d="M894 840l12-1-12-4-13 1z"/><path fill="#8a4b00" d="M919 842l12-1-12-3-13 1z"/><path fill="#864f00" d="M944 844l12 0-12-3-13 0z"/><path fill="#825300" d="M969 848l12 0-12-4-13 0z"/><path fill="#7d5900" d="M994 851l12 0-12-3-13 0z"/><path fill="#785f00" d="M1018 855l13 1-13-4-12-1z"/><path fill="#b7a700" d="M506 866l13-6-13-1-12 6z"/><path fill="#b59300" d="M531 861l12-5-12-2-12 6z"/><path fill="#b48300" d="M556 857l12-6-12-1-13 6z"/><path fill="#b27500" d="M581 853l12-5-12-2-13 5z"/><path fill="#b06a00" d="M606 849l12-4-12-2-13 5z"/><path fill="#ae6000" d="M631 846l12-4-12-2-13 5z"/><path fill="#ac5800" d="M656 844l12-4-12-2-13 4z"/><path fill="#aa4f00" d="M681 842l12-4-12-2-13 4z"/><path fill="#a84800" d="M706 840l12-4-12-2-13 4z"/><path fill="#a54300" d="M731 839l12-3-12-3-13 3z"/><path fill="#a33f00" d="M756 838l12-3-12-2-13 3z"/><path fill="#a03d00" d="M781 837l13-2-13-2-13 2z"/><path fill="#9d3d00" d="M806 838l13-3-13-2-12 2z"/><path fill="#9a3e00" d="M831 838l13-2-13-2-12 1z"/><path fill="#974100" d="M856 839l13-1-13-3-12 1z"/><path fill="#944600" d="M881 841l13-1-13-4-12 2z"/><path fill="#904a00" d="M906 843l13-1-13-3-12 1z"/><path fill="#8d4e00" d="M931 845l13-1-13-3-12 1z"/><path fill="#895300" d="M956 848l13 0-13-4-12 0z"/><path fill="#855800" d="M981 851l13 0-13-3-12 0z"/><path fill="#805e00" d="M1006 855l12 0-12-4-12 0z"/><path fill="#7b6500" d="M1031 859l12 1-12-4-13-1z"/><path fill="#b9b800" d="M494 872l12-6-12-1-13 6z"/><path fill="#b8a100" d="M519 867l12-6-12-1-13 6z"/><path fill="#b68f00" d="M543 862l13-5-13-1-12 5z"/><path fill="#b57f00" d="M568 858l13-5-13-2-12 6z"/><path fill="#b37200" d="M593 854l13-5-13-1-12 5z"/><path fill="#b16800" d="M618 851l13-5-13-1-12 4z"/><path fill="#af5e00" d="M643 848l13-4-13-2-12 4z"/><path fill="#ad5700" d="M668 845l13-3-13-2-12 4z"/><path fill="#ab4e00" d="M693 843l13-3-13-2-12 4z"/><path fill="#a94700" d="M718 842l13-3-13-3-12 4z"/><path fill="#a74300" d="M743 841l13-3-13-2-12 3z"/><path fill="#a44000" d="M768 840l13-3-13-2-12 3z"/><path fill="#a23e00" d="M794 840l12-2-12-3-13 2z"/><path fill="#9f3f00" d="M819 840l12-2-12-3-13 3z"/><path fill="#9c4100" d="M844 841l12-2-12-3-13 2z"/><path fill="#994400" d="M869 842l12-1-12-3-13 1z"/><path fill="#964900" d="M894 844l12-1-12-3-13 1z"/><path fill="#934d00" d="M919 846l12-1-12-3-13 1z"/><path fill="#8f5200" d="M944 848l12 0-12-4-13 1z"/><path fill="#8b5700" d="M969 851l12 0-12-3-13 0z"/><path fill="#875d00" d="M994 855l12 0-12-4-13 0z"/><path fill="#836400" d="M1018 859l13 0-13-4-12 0z"/><path fill="#7e6c00" d="M1043 863l13 1-13-4-12-1z"/><path fill="#a1bb00" d="M482 879l12-7-13-1-12 7z"/><path fill="#bab200" d="M506 873l13-6-13-1-12 6z"/><path fill="#b99c00" d="M531 868l12-6-12-1-12 6z"/><path fill="#b78b00" d="M556 864l12-6-12-1-13 5z"/><path fill="#b57c00" d="M581 859l12-5-12-1-13 5z"/><path fill="#b47000" d="M606 856l12-5-12-2-13 5z"/><path fill="#b26600" d="M631 853l12-5-12-2-13 5z"/><path fill="#b05d00" d="M656 850l12-5-12-1-13 4z"/><path fill="#ae5500" d="M681 847l12-4-12-1-13 3z"/><path fill="#ac4d00" d="M706 846l12-4-12-2-13 3z"/><path fill="#aa4700" d="M731 844l12-3-12-2-13 3z"/><path fill="#a84300" d="M756 843l12-3-12-2-13 3z"/><path fill="#a64100" d="M781 843l13-3-13-3-13 3z"/><path fill="#a34000" d="M806 843l13-3-13-2-12 2z"/><path fill="#a14100" d="M831 843l13-2-13-3-12 2z"/><path fill="#9e4400" d="M856 844l13-2-13-3-12 2z"/><path fill="#9b4800" d="M881 845l13-1-13-3-12 1z"/><path fill="#984d00" d="M906 847l13-1-13-3-12 1z"/><path fill="#955100" d="M931 849l13-1-13-3-12 1z"/><path fill="#915600" d="M956 852l13-1-13-3-12 0z"/><path fill="#8e5b00" d="M981 855l13 0-13-4-12 0z"/><path fill="#8a6200" d="M1006 859l12 0-12-4-12 0z"/><path fill="#866a00" d="M1031 863l12 0-12-4-13 0z"/><path fill="#817300" d="M1056 867l12 1-12-4-13-1z"/><path fill="#81bd00" d="M469 886l13-7-13-1-12 7z"/><path fill="#aebc00" d="M494 880l12-7-12-1-12 7z"/><path fill="#bbac00" d="M519 874l12-6-12-1-13 6z"/><path fill="#b99800" d="M543 869l13-5-13-2-12 6z"/><path fill="#b88800" d="M568 865l13-6-13-1-12 6z"/><path fill="#b67900" d="M593 861l13-5-13-2-12 5z"/><path fill="#b56e00" d="M618 857l13-4-13-2-12 5z"/><path fill="#b36400" d="M643 854l13-4-13-2-12 5z"/><path fill="#b15c00" d="M668 852l13-5-13-2-12 5z"/><path fill="#af5400" d="M693 850l13-4-13-3-12 4z"/><path fill="#ae4d00" d="M718 848l13-4-13-2-12 4z"/><path fill="#ab4700" d="M743 847l13-4-13-2-12 3z"/><path fill="#a94400" d="M768 846l13-3-13-3-12 3z"/><path fill="#a74200" d="M794 845l12-2-12-3-13 3z"/><path fill="#a54200" d="M819 846l12-3-12-3-13 3z"/><path fill="#a24400" d="M844 846l12-2-12-3-13 2z"/><path fill="#9f4700" d="M869 847l12-2-12-3-13 2z"/><path fill="#9d4c00" d="M894 849l12-2-12-3-13 1z"/><path fill="#9a5000" d="M919 851l12-2-12-3-13 1z"/><path fill="#975500" d="M944 853l12-1-12-4-13 1z"/><path fill="#935a00" d="M969 856l12-1-12-4-13 1z"/><path fill="#906000" d="M994 859l12 0-12-4-13 0z"/><path fill="#8c6800" d="M1018 863l13 0-13-4-12 0z"/><path fill="#887100" d="M1043 867l13 0-13-4-12 0z"/><path fill="#847b00" d="M1068 872l12 0-12-4-12-1z"/><path fill="#59bf00" d="M457 893l12-7-12-1-12 7z"/><path fill="#91be00" d="M482 887l12-7-12-1-13 7z"/><path fill="#babd00" d="M506 881l13-7-13-1-12 7z"/><path fill="#bca700" d="M531 876l12-7-12-1-12 6z"/><path fill="#ba9500" d="M556 871l12-6-12-1-13 5z"/><path fill="#b98500" d="M581 866l12-5-12-2-13 6z"/><path fill="#b77700" d="M606 863l12-6-12-1-13 5z"/><path fill="#b66c00" d="M631 859l12-5-12-1-13 4z"/><path fill="#b46300" d="M656 856l12-4-12-2-13 4z"/><path fill="#b25b00" d="M681 854l12-4-12-3-13 5z"/><path fill="#b15300" d="M706 852l12-4-12-2-13 4z"/><path fill="#af4d00" d="M731 850l12-3-12-3-13 4z"/><path fill="#ad4800" d="M756 849l12-3-12-3-13 4z"/><path fill="#ab4500" d="M781 848l13-3-13-2-13 3z"/><path fill="#a84400" d="M806 848l13-2-13-3-12 2z"/><path fill="#a64400" d="M831 848l13-2-13-3-12 3z"/><path fill="#a44700" d="M856 849l13-2-13-3-12 2z"/><path fill="#a14b00" d="M881 850l13-1-13-4-12 2z"/><path fill="#9e5000" d="M906 852l13-1-13-4-12 2z"/><path fill="#9c5400" d="M931 854l13-1-13-4-12 2z"/><path fill="#995900" d="M956 857l13-1-13-4-12 1z"/><path fill="#955f00" d="M981 860l13-1-13-4-12 1z"/><path fill="#926600" d="M1006 863l12 0-12-4-12 0z"/><path fill="#8e6f00" d="M1031 867l12 0-12-4-13 0z"/><path fill="#8b7800" d="M1056 871l12 1-12-5-13 0z"/><path fill="#878400" d="M1080 876l13 1-13-5-12 0z"/><path fill="#29c100" d="M445 900l12-7-12-1-12 7z"/><path fill="#6ac000" d="M469 894l13-7-13-1-12 7z"/><path fill="#9dbf00" d="M494 888l12-7-12-1-12 7z"/><path fill="#beb900" d="M519 882l12-6-12-2-13 7z"/><path fill="#bca300" d="M544 877l12-6-13-2-12 7z"/><path fill="#bb9100" d="M568 872l13-6-13-1-12 6z"/><path fill="#ba8200" d="M593 868l13-5-13-2-12 5z"/><path fill="#b87500" d="M618 864l13-5-13-2-12 6z"/><path fill="#b76b00" d="M643 861l13-5-13-2-12 5z"/><path fill="#b56200" d="M668 858l13-4-13-2-12 4z"/><path fill="#b35b00" d="M693 856l13-4-13-2-12 4z"/><path fill="#b25300" d="M718 854l13-4-13-2-12 4z"/><path fill="#b04d00" d="M743 853l13-4-13-2-12 3z"/><path fill="#ae4900" d="M768 852l13-4-13-2-12 3z"/><path fill="#ac4600" d="M794 851l12-3-12-3-13 3z"/><path fill="#aa4600" d="M819 851l12-3-12-2-13 2z"/><path fill="#a74700" d="M844 851l12-2-12-3-13 2z"/><path fill="#a54a00" d="M869 852l12-2-12-3-13 2z"/><path fill="#a34f00" d="M894 854l12-2-12-3-13 1z"/><path fill="#a05300" d="M919 855l12-1-12-3-13 1z"/><path fill="#9d5800" d="M944 858l12-1-12-4-13 1z"/><path fill="#9a5e00" d="M969 860l12 0-12-4-13 1z"/><path fill="#976400" d="M994 864l12-1-12-4-13 1z"/><path fill="#946c00" d="M1018 867l13 0-13-4-12 0z"/><path fill="#917600" d="M1043 871l13 0-13-4-12 0z"/><path fill="#8d8000" d="M1068 876l12 0-12-4-12-1z"/><path fill="#838900" d="M1093 881l12 0-12-4-13-1z"/><path fill="#00c300" d="M433 908l12-8-12-1-13 8z"/><path fill="#3fc200" d="M457 901l12-7-12-1-12 7z"/><path fill="#7ac100" d="M482 895l12-7-12-1-13 7z"/><path fill="#a9bf00" d="M506 889l13-7-13-1-12 7z"/><path fill="#beb400" d="M531 883l13-6-13-1-12 6z"/><path fill="#bd9f00" d="M556 878l12-6-12-1-12 6z"/><path fill="#bc8e00" d="M581 874l12-6-12-2-13 6z"/><path fill="#ba7f00" d="M606 870l12-6-12-1-13 5z"/><path fill="#b97400" d="M631 866l12-5-12-2-13 5z"/><path fill="#b86a00" d="M656 863l12-5-12-2-13 5z"/><path fill="#b66200" d="M681 860l12-4-12-2-13 4z"/><path fill="#b45b00" d="M706 858l12-4-12-2-13 4z"/><path fill="#b35300" d="M731 857l12-4-12-3-13 4z"/><path fill="#b14e00" d="M756 855l12-3-12-3-13 4z"/><path fill="#af4a00" d="M781 854l13-3-13-3-13 4z"/><path fill="#ad4800" d="M806 854l13-3-13-3-12 3z"/><path fill="#ab4900" d="M831 854l13-3-13-3-12 3z"/><path fill="#a94b00" d="M856 855l13-3-13-3-12 2z"/><path fill="#a74e00" d="M881 856l13-2-13-4-12 2z"/><path fill="#a45300" d="M906 857l13-2-13-3-12 2z"/><path fill="#a25700" d="M931 859l13-1-13-4-12 1z"/><path fill="#9f5c00" d="M956 861l13-1-13-3-12 1z"/><path fill="#9c6200" d="M981 864l13 0-13-4-12 0z"/><path fill="#996a00" d="M1006 868l12-1-12-4-12 1z"/><path fill="#967300" d="M1031 871l12 0-12-4-13 0z"/><path fill="#937d00" d="M1056 876l12 0-12-5-13 0z"/><path fill="#8f8900" d="M1080 880l13 1-13-5-12 0z"/><path fill="#788c00" d="M1105 885l12 1-12-5-12 0z"/><path fill="#00c400" d="M421 916l12-8-13-1-12 8z"/><path fill="#00c300" d="M445 909l12-8-12-1-12 8z"/><path fill="#50c200" d="M470 902l12-7-13-1-12 7z"/><path fill="#89c100" d="M494 896l12-7-12-1-12 7z"/><path fill="#b5c000" d="M519 890l12-7-12-1-13 7z"/><path fill="#bfaf00" d="M544 885l12-7-12-1-13 6z"/><path fill="#be9c00" d="M568 880l13-6-13-2-12 6z"/><path fill="#bd8c00" d="M593 876l13-6-13-2-12 6z"/><path fill="#bb7d00" d="M618 872l13-6-13-2-12 6z"/><path fill="#ba7200" d="M643 868l13-5-13-2-12 5z"/><path fill="#b86900" d="M668 865l13-5-13-2-12 5z"/><path fill="#b76100" d="M693 863l13-5-13-2-12 4z"/><path fill="#b55b00" d="M718 861l13-4-13-3-12 4z"/><path fill="#b45400" d="M743 859l13-4-13-2-12 4z"/><path fill="#b24f00" d="M768 858l13-4-13-2-12 3z"/><path fill="#b04c00" d="M794 857l12-3-12-3-13 3z"/><path fill="#ae4b00" d="M819 857l12-3-12-3-13 3z"/><path fill="#ac4c00" d="M844 857l12-2-12-4-13 3z"/><path fill="#aa4e00" d="M869 858l12-2-12-4-13 3z"/><path fill="#a85200" d="M894 859l12-2-12-3-13 2z"/><path fill="#a65700" d="M919 861l12-2-12-4-13 2z"/><path fill="#a35b00" d="M944 863l12-2-12-3-13 1z"/><path fill="#a16100" d="M969 865l12-1-12-4-13 1z"/><path fill="#9e6800" d="M994 868l12 0-12-4-13 0z"/><path fill="#9b7000" d="M1018 872l13-1-13-4-12 1z"/><path fill="#987a00" d="M1043 876l13 0-13-5-12 0z"/><path fill="#958500" d="M1068 880l12 0-12-4-12 0z"/><path fill="#909200" d="M1093 885l12 0-12-4-13-1z"/><path fill="#6d8e00" d="M1117 890l12 1-12-5-12-1z"/><path fill="#00c600" d="M408 924l13-8-13-1-12 9z"/><path fill="#00c500" d="M433 917l12-8-12-1-12 8z"/><path fill="#13c400" d="M457 910l13-8-13-1-12 8z"/><path fill="#5fc300" d="M482 903l12-7-12-1-12 7z"/><path fill="#96c200" d="M507 897l12-7-13-1-12 7z"/><path fill="#bfc100" d="M531 892l13-7-13-2-12 7z"/><path fill="#c0ab00" d="M556 886l12-6-12-2-12 7z"/><path fill="#bf9900" d="M581 882l12-6-12-2-13 6z"/><path fill="#bd8900" d="M606 878l12-6-12-2-13 6z"/><path fill="#bc7c00" d="M631 874l12-6-12-2-13 6z"/><path fill="#bb7100" d="M656 870l12-5-12-2-13 5z"/><path fill="#b96900" d="M681 868l12-5-12-3-13 5z"/><path fill="#b86100" d="M706 865l12-4-12-3-13 5z"/><path fill="#b65b00" d="M731 863l12-4-12-2-13 4z"/><path fill="#b55500" d="M756 862l12-4-12-3-13 4z"/><path fill="#b35100" d="M781 861l13-4-13-3-13 4z"/><path fill="#b14e00" d="M806 860l13-3-13-3-12 3z"/><path fill="#af4e00" d="M831 860l13-3-13-3-12 3z"/><path fill="#ae4f00" d="M856 861l13-3-13-3-12 2z"/><path fill="#ab5300" d="M881 861l13-2-13-3-12 2z"/><path fill="#a95700" d="M906 863l13-2-13-4-12 2z"/><path fill="#a75b00" d="M931 864l13-1-13-4-12 2z"/><path fill="#a56000" d="M956 867l13-2-13-4-12 2z"/><path fill="#a26600" d="M981 869l13-1-13-4-12 1z"/><path fill="#a06d00" d="M1006 873l12-1-12-4-12 0z"/><path fill="#9d7700" d="M1031 876l12 0-12-5-13 1z"/><path fill="#9a8100" d="M1056 880l12 0-12-4-13 0z"/><path fill="#978e00" d="M1080 885l13 0-13-5-12 0z"/><path fill="#849400" d="M1105 890l12 0-12-5-12 0z"/><path fill="#5e9000" d="M1129 895l13 1-13-5-12-1z"/><path fill="#00c700" d="M396 933l12-9-12 0-12 8z"/><path fill="#00c600" d="M421 925l12-8-12-1-13 8z"/><path fill="#00c500" d="M445 918l12-8-12-1-12 8z"/><path fill="#2fc400" d="M470 911l12-8-12-1-13 8z"/><path fill="#6ec400" d="M494 905l13-8-13-1-12 7z"/><path fill="#a1c300" d="M519 899l12-7-12-2-12 7z"/><path fill="#c2bd00" d="M544 893l12-7-12-1-13 7z"/><path fill="#c0a700" d="M569 888l12-6-13-2-12 6z"/><path fill="#bf9600" d="M593 884l13-6-13-2-12 6z"/><path fill="#be8700" d="M618 879l13-5-13-2-12 6z"/><path fill="#bd7b00" d="M643 876l13-6-13-2-12 6z"/><path fill="#bc7100" d="M668 873l13-5-13-3-12 5z"/><path fill="#ba6800" d="M693 870l13-5-13-2-12 5z"/><path fill="#b96100" d="M718 868l13-5-13-2-12 4z"/><path fill="#b75c00" d="M743 866l13-4-13-3-12 4z"/><path fill="#b65600" d="M768 865l13-4-13-3-12 4z"/><path fill="#b45300" d="M794 864l12-4-12-3-13 4z"/><path fill="#b25100" d="M819 863l12-3-12-3-13 3z"/><path fill="#b15100" d="M844 863l12-2-12-4-13 3z"/><path fill="#af5300" d="M869 864l12-3-12-3-13 3z"/><path fill="#ad5700" d="M894 865l12-2-12-4-13 2z"/><path fill="#ab5b00" d="M919 866l12-2-12-3-13 2z"/><path fill="#a95f00" d="M944 868l12-1-12-4-13 1z"/><path fill="#a66500" d="M969 871l12-2-12-4-13 2z"/><path fill="#a46b00" d="M994 874l12-1-12-5-13 1z"/><path fill="#a17400" d="M1018 877l13-1-13-4-12 1z"/><path fill="#9f7e00" d="M1043 881l13-1-13-4-12 0z"/><path fill="#9c8900" d="M1068 885l12 0-12-5-12 0z"/><path fill="#999800" d="M1093 890l12 0-12-5-13 0z"/><path fill="#779600" d="M1117 895l12 0-12-5-12 0z"/><path fill="#4d9300" d="M1142 900l12 1-12-5-13-1z"/><path fill="#00c800" d="M384 942l12-9-12-1-12 9z"/><path fill="#00c800" d="M409 934l12-9-13-1-12 9z"/><path fill="#00c700" d="M433 926l12-8-12-1-12 8z"/><path fill="#00c600" d="M458 919l12-8-13-1-12 8z"/><path fill="#41c500" d="M482 912l12-7-12-2-12 8z"/><path fill="#7bc400" d="M507 906l12-7-12-2-13 8z"/><path fill="#aac300" d="M531 900l13-7-13-1-12 7z"/><path fill="#c2b900" d="M556 895l13-7-13-2-12 7z"/><path fill="#c1a500" d="M581 890l12-6-12-2-12 6z"/><path fill="#c09400" d="M606 886l12-7-12-1-13 6z"/><path fill="#bf8600" d="M631 882l12-6-12-2-13 5z"/><path fill="#be7a00" d="M656 878l12-5-12-3-13 6z"/><path fill="#bc7000" d="M681 875l12-5-12-2-13 5z"/><path fill="#bb6800" d="M706 872l12-4-12-3-13 5z"/><path fill="#ba6200" d="M731 870l12-4-12-3-13 5z"/><path fill="#b85d00" d="M756 869l12-4-12-3-13 4z"/><path fill="#b75800" d="M781 868l13-4-13-3-13 4z"/><path fill="#b55500" d="M806 867l13-4-13-3-12 4z"/><path fill="#b35400" d="M831 867l13-4-13-3-12 3z"/><path fill="#b25500" d="M856 867l13-3-13-3-12 2z"/><path fill="#b05800" d="M881 867l13-2-13-4-12 3z"/><path fill="#ae5b00" d="M906 869l13-3-13-3-12 2z"/><path fill="#ac5f00" d="M931 870l13-2-13-4-12 2z"/><path fill="#aa6400" d="M956 872l13-1-13-4-12 1z"/><path fill="#a86a00" d="M981 875l13-1-13-5-12 2z"/><path fill="#a57200" d="M1006 878l12-1-12-4-12 1z"/><path fill="#a37b00" d="M1031 881l12 0-12-5-13 1z"/><path fill="#a08600" d="M1056 885l12 0-12-5-13 1z"/><path fill="#9e9300" d="M1080 890l13 0-13-5-12 0z"/><path fill="#8e9b00" d="M1105 894l12 1-12-5-12 0z"/><path fill="#689800" d="M1129 900l13 0-13-5-12 0z"/><path fill="#3a9500" d="M1154 906l12 0-12-5-12-1z"/><path fill="#00ca00" d="M372 952l12-10-12-1-12 10z"/><path fill="#00c900" d="M397 943l12-9-13-1-12 9z"/><path fill="#00c800" d="M421 935l12-9-12-1-12 9z"/><path fill="#00c700" d="M445 927l13-8-13-1-12 8z"/><path fill="#00c700" d="M470 920l12-8-12-1-12 8z"/><path fill="#4fc600" d="M494 914l13-8-13-1-12 7z"/><path fill="#87c500" d="M519 908l12-8-12-1-12 7z"/><path fill="#b4c400" d="M544 902l12-7-12-2-13 7z"/><path fill="#c3b600" d="M569 897l12-7-12-2-13 7z"/><path fill="#c2a200" d="M593 892l13-6-13-2-12 6z"/><path fill="#c19200" d="M618 888l13-6-13-3-12 7z"/><path fill="#c08400" d="M643 884l13-6-13-2-12 6z"/><path fill="#be7900" d="M668 880l13-5-13-2-12 5z"/><path fill="#bd7000" d="M693 878l13-6-13-2-12 5z"/><path fill="#bc6900" d="M718 875l13-5-13-2-12 4z"/><path fill="#bb6300" d="M743 873l13-4-13-3-12 4z"/><path fill="#b95e00" d="M768 872l13-4-13-3-12 4z"/><path fill="#b85b00" d="M794 871l12-4-12-3-13 4z"/><path fill="#b65800" d="M819 870l12-3-12-4-13 4z"/><path fill="#b55800" d="M844 870l12-3-12-4-13 4z"/><path fill="#b35a00" d="M869 870l12-3-12-3-13 3z"/><path fill="#b15c00" d="M894 871l12-2-12-4-13 2z"/><path fill="#af5f00" d="M919 872l12-2-12-4-13 3z"/><path fill="#ad6300" d="M944 874l12-2-12-4-13 2z"/><path fill="#ab6900" d="M969 876l12-1-12-4-13 1z"/><path fill="#a97000" d="M994 879l12-1-12-4-13 1z"/><path fill="#a77800" d="M1018 882l13-1-13-4-12 1z"/><path fill="#a48300" d="M1043 886l13-1-13-4-12 0z"/><path fill="#a28e00" d="M1068 890l12 0-12-5-12 0z"/><path fill="#9f9d00" d="M1093 894l12 0-12-4-13 0z"/><path fill="#809d00" d="M1117 899l12 1-12-5-12-1z"/><path fill="#559a00" d="M1142 905l12 1-12-6-13 0z"/><path fill="#249700" d="M1166 911l12 1-12-6-12 0z"/><path fill="#00cb04" d="M361 961l11-9-12-1-12 9z"/><path fill="#00ca00" d="M385 952l12-9-13-1-12 10z"/><path fill="#00c900" d="M409 944l12-9-12-1-12 9z"/><path fill="#00c900" d="M433 936l12-9-12-1-12 9z"/><path fill="#00c800" d="M458 929l12-9-12-1-13 8z"/><path fill="#0dc700" d="M482 922l12-8-12-2-12 8z"/><path fill="#5cc600" d="M507 915l12-7-12-2-13 8z"/><path fill="#93c500" d="M532 909l12-7-13-2-12 8z"/><path fill="#bcc400" d="M556 904l13-7-13-2-12 7z"/><path fill="#c3b300" d="M581 899l12-7-12-2-12 7z"/><path fill="#c2a000" d="M606 894l12-6-12-2-13 6z"/><path fill="#c19100" d="M631 890l12-6-12-2-13 6z"/><path fill="#c08400" d="M656 886l12-6-12-2-13 6z"/><path fill="#bf7900" d="M681 883l12-5-12-3-13 5z"/><path fill="#be7100" d="M706 880l12-5-12-3-13 6z"/><path fill="#bd6a00" d="M731 878l12-5-12-3-13 5z"/><path fill="#bb6400" d="M756 876l12-4-12-3-13 4z"/><path fill="#ba6000" d="M781 875l13-4-13-3-13 4z"/><path fill="#b95d00" d="M806 874l13-4-13-3-12 4z"/><path fill="#b75c00" d="M831 873l13-3-13-3-12 3z"/><path fill="#b65c00" d="M856 873l13-3-13-3-12 3z"/><path fill="#b45d00" d="M881 874l13-3-13-4-12 3z"/><path fill="#b26000" d="M906 875l13-3-13-3-12 2z"/><path fill="#b06400" d="M931 876l13-2-13-4-12 2z"/><path fill="#ae6800" d="M956 878l13-2-13-4-12 2z"/><path fill="#ac6e00" d="M981 881l13-2-13-4-12 1z"/><path fill="#aa7600" d="M1006 883l12-1-12-4-12 1z"/><path fill="#a88000" d="M1031 887l12-1-12-5-13 1z"/><path fill="#a68b00" d="M1056 891l12-1-12-5-13 1z"/><path fill="#a49800" d="M1080 895l13-1-13-4-12 0z"/><path fill="#95a100" d="M1105 900l12-1-12-5-12 0z"/><path fill="#709e00" d="M1129 905l13 0-13-5-12-1z"/><path fill="#419c00" d="M1154 910l12 1-12-5-12-1z"/><path fill="#009900" d="M1178 916l12 1-12-5-12-1z"/><path fill="#00cc2e" d="M349 971l12-10-13-1-12 11z"/><path fill="#00cb00" d="M373 962l12-10-13 0-11 9z"/><path fill="#00cb00" d="M397 953l12-9-12-1-12 9z"/><path fill="#00ca00" d="M421 945l12-9-12-1-12 9z"/><path fill="#00c900" d="M446 937l12-8-13-2-12 9z"/><path fill="#00c800" d="M470 930l12-8-12-2-12 9z"/><path fill="#24c800" d="M495 923l12-8-13-1-12 8z"/><path fill="#67c700" d="M519 917l13-8-13-1-12 7z"/><path fill="#9cc600" d="M544 911l12-7-12-2-12 7z"/><path fill="#c3c500" d="M569 906l12-7-12-2-13 7z"/><path fill="#c4b000" d="M594 901l12-7-13-2-12 7z"/><path fill="#c39f00" d="M618 896l13-6-13-2-12 6z"/><path fill="#c29000" d="M643 892l13-6-13-2-12 6z"/><path fill="#c18300" d="M668 889l13-6-13-3-12 6z"/><path fill="#c07900" d="M693 885l13-5-13-2-12 5z"/><path fill="#bf7100" d="M718 883l13-5-13-3-12 5z"/><path fill="#bd6b00" d="M743 881l13-5-13-3-12 5z"/><path fill="#bc6600" d="M768 879l13-4-13-3-12 4z"/><path fill="#bb6200" d="M794 878l12-4-12-3-13 4z"/><path fill="#b96000" d="M819 877l12-4-12-3-13 4z"/><path fill="#b85f00" d="M844 877l12-4-12-3-13 3z"/><path fill="#b75f00" d="M869 877l12-3-12-4-13 3z"/><path fill="#b56100" d="M894 878l12-3-12-4-13 3z"/><path fill="#b36400" d="M919 879l12-3-12-4-13 3z"/><path fill="#b16800" d="M944 880l12-2-12-4-13 2z"/><path fill="#b06e00" d="M969 882l12-1-12-5-13 2z"/><path fill="#ae7400" d="M994 885l12-2-12-4-13 2z"/><path fill="#ac7d00" d="M1018 888l13-1-13-5-12 1z"/><path fill="#aa8800" d="M1043 891l13 0-13-5-12 1z"/><path fill="#a79300" d="M1068 895l12 0-12-5-12 1z"/><path fill="#a5a200" d="M1093 900l12 0-12-6-13 1z"/><path fill="#86a300" d="M1117 905l12 0-12-6-12 1z"/><path fill="#5ca000" d="M1142 910l12 0-12-5-13 0z"/><path fill="#2c9d00" d="M1166 916l12 0-12-5-12-1z"/><path fill="#009b00" d="M1190 922l13 1-13-6-12-1z"/><path fill="#00cd5f" d="M337 982l12-11-13 0-11 10z"/><path fill="#00cc1f" d="M361 972l12-10-12-1-12 10z"/><path fill="#00cc00" d="M385 963l12-10-12-1-12 10z"/><path fill="#00cb00" d="M409 954l12-9-12-1-12 9z"/><path fill="#00ca00" d="M434 946l12-9-13-1-12 9z"/><path fill="#00ca00" d="M458 939l12-9-12-1-12 8z"/><path fill="#00c900" d="M482 932l13-9-13-1-12 8z"/><path fill="#39c800" d="M507 925l12-8-12-2-12 8z"/><path fill="#72c700" d="M532 919l12-8-12-2-13 8z"/><path fill="#a3c700" d="M556 913l13-7-13-2-12 7z"/><path fill="#c6c300" d="M581 908l13-7-13-2-12 7z"/><path fill="#c5ae00" d="M606 903l12-7-12-2-12 7z"/><path fill="#c49e00" d="M631 898l12-6-12-2-13 6z"/><path fill="#c38f00" d="M656 895l12-6-12-3-13 6z"/><path fill="#c28300" d="M681 891l12-6-12-2-13 6z"/><path fill="#c17a00" d="M706 888l12-5-12-3-13 5z"/><path fill="#bf7200" d="M731 886l12-5-12-3-13 5z"/><path fill="#be6c00" d="M756 884l12-5-12-3-13 5z"/><path fill="#bd6800" d="M781 882l13-4-13-3-13 4z"/><path fill="#bc6400" d="M806 881l13-4-13-3-12 4z"/><path fill="#ba6300" d="M831 881l13-4-13-4-12 4z"/><path fill="#b96200" d="M856 880l13-3-13-4-12 4z"/><path fill="#b76300" d="M881 881l13-3-13-4-12 3z"/><path fill="#b66500" d="M906 882l13-3-13-4-12 3z"/><path fill="#b46900" d="M931 883l13-3-13-4-12 3z"/><path fill="#b36e00" d="M956 885l13-3-13-4-12 2z"/><path fill="#b17300" d="M981 887l13-2-13-4-12 1z"/><path fill="#af7b00" d="M1006 889l12-1-12-5-12 2z"/><path fill="#ad8500" d="M1031 893l12-2-12-4-13 1z"/><path fill="#ab9000" d="M1056 896l12-1-12-4-13 0z"/><path fill="#a99e00" d="M1080 900l13 0-13-5-12 0z"/><path fill="#9aa700" d="M1105 905l12 0-12-5-12 0z"/><path fill="#75a400" d="M1129 910l13 0-13-5-12 0z"/><path fill="#46a200" d="M1154 915l12 1-12-6-12 0z"/><path fill="#049f00" d="M1178 921l12 1-12-6-12 0z"/><path fill="#009c00" d="M1203 928l12 1-12-6-13-1z"/><path fill="#00cd51" d="M349 982l12-10-12-1-12 11z"/><path fill="#00cd10" d="M373 973l12-10-12-1-12 10z"/><path fill="#00cc00" d="M397 964l12-10-12-1-12 10z"/><path fill="#00cc00" d="M422 956l12-10-13-1-12 9z"/><path fill="#00cb00" d="M446 948l12-9-12-2-12 9z"/><path fill="#00ca00" d="M470 940l12-8-12-2-12 9z"/><path fill="#00c900" d="M495 933l12-8-12-2-13 9z"/><path fill="#44c900" d="M519 927l13-8-13-2-12 8z"/><path fill="#7cc800" d="M544 921l12-8-12-2-12 8z"/><path fill="#aac700" d="M569 915l12-7-12-2-13 7z"/><path fill="#c6c100" d="M594 910l12-7-12-2-13 7z"/><path fill="#c5ac00" d="M619 905l12-7-13-2-12 7z"/><path fill="#c49d00" d="M643 901l13-6-13-3-12 6z"/><path fill="#c38f00" d="M668 897l13-6-13-2-12 6z"/><path fill="#c28300" d="M693 894l13-6-13-3-12 6z"/><path fill="#c17b00" d="M718 891l13-5-13-3-12 5z"/><path fill="#c07400" d="M743 889l13-5-13-3-12 5z"/><path fill="#bf6e00" d="M768 887l13-5-13-3-12 5z"/><path fill="#be6a00" d="M793 885l13-4-12-3-13 4z"/><path fill="#bd6700" d="M819 885l12-4-12-4-13 4z"/><path fill="#bb6600" d="M844 884l12-4-12-3-13 4z"/><path fill="#ba6600" d="M869 884l12-3-12-4-13 3z"/><path fill="#b86700" d="M894 885l12-3-12-4-13 3z"/><path fill="#b76a00" d="M919 886l12-3-12-4-13 3z"/><path fill="#b56e00" d="M944 887l12-2-12-5-13 3z"/><path fill="#b47300" d="M969 889l12-2-12-5-13 3z"/><path fill="#b27a00" d="M994 891l12-2-12-4-13 2z"/><path fill="#b08300" d="M1018 894l13-1-13-5-12 1z"/><path fill="#ae8d00" d="M1043 897l13-1-13-5-12 2z"/><path fill="#ac9900" d="M1068 901l12-1-12-5-12 1z"/><path fill="#aaa800" d="M1093 905l12 0-12-5-13 0z"/><path fill="#8aa800" d="M1117 910l12 0-12-5-12 0z"/><path fill="#60a600" d="M1142 915l12 0-12-5-13 0z"/><path fill="#2fa300" d="M1166 921l12 0-12-5-12-1z"/><path fill="#00a100" d="M1190 927l13 1-13-6-12-1z"/><path fill="#00ce42" d="M361 983l12-10-12-1-12 10z"/><path fill="#00cd07" d="M385 974l12-10-12-1-12 10z"/><path fill="#00cd00" d="M410 965l12-9-13-2-12 10z"/><path fill="#00cc00" d="M434 957l12-9-12-2-12 10z"/><path fill="#00cb00" d="M458 949l12-9-12-1-12 9z"/><path fill="#00cb00" d="M483 942l12-9-13-1-12 8z"/><path fill="#00ca00" d="M507 935l12-8-12-2-12 8z"/><path fill="#4ec900" d="M532 928l12-7-12-2-13 8z"/><path fill="#85c800" d="M557 923l12-8-13-2-12 8z"/><path fill="#b0c800" d="M581 917l13-7-13-2-12 7z"/><path fill="#c7bf00" d="M606 912l13-7-13-2-12 7z"/><path fill="#c6ab00" d="M631 907l12-6-12-3-12 7z"/><path fill="#c59c00" d="M656 903l12-6-12-2-13 6z"/><path fill="#c48f00" d="M681 900l12-6-12-3-13 6z"/><path fill="#c38400" d="M706 897l12-6-12-3-13 6z"/><path fill="#c27c00" d="M731 894l12-5-12-3-13 5z"/><path fill="#c17500" d="M756 892l12-5-12-3-13 5z"/><path fill="#c07000" d="M781 890l12-5-12-3-13 5z"/><path fill="#bf6c00" d="M806 889l13-4-13-4-13 4z"/><path fill="#bd6a00" d="M831 888l13-4-13-3-12 4z"/><path fill="#bc6900" d="M856 888l13-4-13-4-12 4z"/><path fill="#bb6a00" d="M881 888l13-3-13-4-12 3z"/><path fill="#b96c00" d="M906 889l13-3-13-4-12 3z"/><path fill="#b86f00" d="M931 890l13-3-13-4-12 3z"/><path fill="#b67300" d="M956 891l13-2-13-4-12 2z"/><path fill="#b57900" d="M981 893l13-2-13-4-12 2z"/><path fill="#b38100" d="M1006 896l12-2-12-5-12 2z"/><path fill="#b18b00" d="M1031 899l12-2-12-4-13 1z"/><path fill="#af9600" d="M1056 902l12-1-12-5-13 1z"/><path fill="#aea400" d="M1080 906l13-1-13-5-12 1z"/><path fill="#9dac00" d="M1105 911l12-1-12-5-12 0z"/><path fill="#78a900" d="M1129 916l13-1-13-5-12 0z"/><path fill="#49a700" d="M1154 921l12 0-12-6-12 0z"/><path fill="#07a500" d="M1178 927l12 0-12-6-12 0z"/><path fill="#00ce34" d="M373 984l12-10-12-1-12 10z"/><path fill="#00ce00" d="M398 975l12-10-13-1-12 10z"/><path fill="#00cd00" d="M422 967l12-10-12-1-12 9z"/><path fill="#00cc00" d="M446 958l12-9-12-1-12 9z"/><path fill="#00cc00" d="M471 951l12-9-13-2-12 9z"/><path fill="#00cb00" d="M495 944l12-9-12-2-12 9z"/><path fill="#09ca00" d="M520 937l12-9-13-1-12 8z"/><path fill="#57ca00" d="M544 930l13-7-13-2-12 7z"/><path fill="#8dc900" d="M569 925l12-8-12-2-12 8z"/><path fill="#b6c800" d="M594 919l12-7-12-2-13 7z"/><path fill="#c7bd00" d="M619 914l12-7-12-2-13 7z"/><path fill="#c6ab00" d="M644 910l12-7-13-2-12 6z"/><path fill="#c69c00" d="M668 906l13-6-13-3-12 6z"/><path fill="#c59000" d="M693 903l13-6-13-3-12 6z"/><path fill="#c48500" d="M718 900l13-6-13-3-12 6z"/><path fill="#c37d00" d="M743 897l13-5-13-3-12 5z"/><path fill="#c27700" d="M768 895l13-5-13-3-12 5z"/><path fill="#c17300" d="M793 893l13-4-13-4-12 5z"/><path fill="#bf6f00" d="M819 892l12-4-12-3-13 4z"/><path fill="#be6e00" d="M844 892l12-4-12-4-13 4z"/><path fill="#bd6d00" d="M869 892l12-4-12-4-13 4z"/><path fill="#bc6e00" d="M894 892l12-3-12-4-13 3z"/><path fill="#ba7100" d="M919 893l12-3-12-4-13 3z"/><path fill="#b97400" d="M944 894l12-3-12-4-13 3z"/><path fill="#b77900" d="M969 896l12-3-12-4-13 2z"/><path fill="#b68000" d="M993 898l13-2-12-5-13 2z"/><path fill="#b48900" d="M1018 901l13-2-13-5-12 2z"/><path fill="#b29300" d="M1043 904l13-2-13-5-12 2z"/><path fill="#b19f00" d="M1068 907l12-1-12-5-12 1z"/><path fill="#afaf00" d="M1093 912l12-1-12-6-13 1z"/><path fill="#8cad00" d="M1117 916l12 0-12-6-12 1z"/><path fill="#61ab00" d="M1142 921l12 0-12-6-13 1z"/><path fill="#31a900" d="M1166 927l12 0-12-6-12 0z"/><path fill="#00cf26" d="M386 986l12-11-13-1-12 10z"/><path fill="#00ce00" d="M410 977l12-10-12-2-12 10z"/><path fill="#00cd00" d="M434 968l12-10-12-1-12 10z"/><path fill="#00cd00" d="M458 960l13-9-13-2-12 9z"/><path fill="#00cc00" d="M483 952l12-8-12-2-12 9z"/><path fill="#00cc00" d="M507 945l13-8-13-2-12 9z"/><path fill="#1acb00" d="M532 939l12-9-12-2-12 9z"/><path fill="#5fca00" d="M557 933l12-8-12-2-13 7z"/><path fill="#93c900" d="M581 927l13-8-13-2-12 8z"/><path fill="#bac900" d="M606 922l13-8-13-2-12 7z"/><path fill="#c8bc00" d="M631 917l13-7-13-3-12 7z"/><path fill="#c7ab00" d="M656 913l12-7-12-3-12 7z"/><path fill="#c69d00" d="M681 909l12-6-12-3-13 6z"/><path fill="#c59100" d="M706 905l12-5-12-3-13 6z"/><path fill="#c48700" d="M731 903l12-6-12-3-13 6z"/><path fill="#c37f00" d="M756 900l12-5-12-3-13 5z"/><path fill="#c27a00" d="M781 898l12-5-12-3-13 5z"/><path fill="#c17500" d="M806 897l13-5-13-3-13 4z"/><path fill="#c07300" d="M831 896l13-4-13-4-12 4z"/><path fill="#bf7100" d="M856 896l13-4-13-4-12 4z"/><path fill="#be7100" d="M881 896l13-4-13-4-12 4z"/><path fill="#bc7300" d="M906 896l13-3-13-4-12 3z"/><path fill="#bb7600" d="M931 897l13-3-13-4-12 3z"/><path fill="#ba7a00" d="M956 898l13-2-13-5-12 3z"/><path fill="#b88000" d="M981 900l12-2-12-5-12 3z"/><path fill="#b78800" d="M1006 903l12-2-12-5-13 2z"/><path fill="#b59100" d="M1031 906l12-2-12-5-13 2z"/><path fill="#b49c00" d="M1055 909l13-2-12-5-13 2z"/><path fill="#b2aa00" d="M1080 913l13-1-13-6-12 1z"/><path fill="#9db000" d="M1105 917l12-1-12-5-12 1z"/><path fill="#78ae00" d="M1129 922l13-1-13-5-12 0z"/><path fill="#49ac00" d="M1154 927l12 0-12-6-12 0z"/><path fill="#00cf19" d="M398 987l12-10-12-2-12 11z"/><path fill="#00ce00" d="M422 978l12-10-12-1-12 10z"/><path fill="#00ce00" d="M446 970l12-10-12-2-12 10z"/><path fill="#00cd00" d="M471 962l12-10-12-1-13 9z"/><path fill="#00cd00" d="M495 954l12-9-12-1-12 8z"/><path fill="#00cc00" d="M520 947l12-8-12-2-13 8z"/><path fill="#28cb00" d="M544 941l13-8-13-3-12 9z"/><path fill="#67cb00" d="M569 935l12-8-12-2-12 8z"/><path fill="#99ca00" d="M594 929l12-7-12-3-13 8z"/><path fill="#bec900" d="M619 924l12-7-12-3-13 8z"/><path fill="#c8bc00" d="M644 920l12-7-12-3-13 7z"/><path fill="#c8ab00" d="M669 915l12-6-13-3-12 7z"/><path fill="#c79e00" d="M693 912l13-7-13-2-12 6z"/><path fill="#c69200" d="M718 909l13-6-13-3-12 5z"/><path fill="#c58900" d="M743 906l13-6-13-3-12 6z"/><path fill="#c48100" d="M768 904l13-6-13-3-12 5z"/><path fill="#c37c00" d="M793 902l13-5-13-4-12 5z"/><path fill="#c27900" d="M819 901l12-5-12-4-13 5z"/><path fill="#c17600" d="M844 900l12-4-12-4-13 4z"/><path fill="#c07500" d="M869 899l12-3-12-4-13 4z"/><path fill="#bf7600" d="M894 900l12-4-12-4-13 4z"/><path fill="#bd7800" d="M919 900l12-3-12-4-13 3z"/><path fill="#bc7b00" d="M944 901l12-3-12-4-13 3z"/><path fill="#bb8000" d="M969 903l12-3-12-4-13 2z"/><path fill="#b98800" d="M993 905l13-2-13-5-12 2z"/><path fill="#b89000" d="M1018 908l13-2-13-5-12 2z"/><path fill="#b69a00" d="M1043 911l12-2-12-5-12 2z"/><path fill="#b5a700" d="M1068 914l12-1-12-6-13 2z"/><path fill="#adb300" d="M1092 918l13-1-12-5-13 1z"/><path fill="#8bb100" d="M1117 922l12 0-12-6-12 1z"/><path fill="#60af00" d="M1142 927l12 0-12-6-13 1z"/><path fill="#00cf0d" d="M410 988l12-10-12-1-12 10z"/><path fill="#00cf00" d="M434 980l12-10-12-2-12 10z"/><path fill="#00ce00" d="M459 971l12-9-13-2-12 10z"/><path fill="#00ce00" d="M483 964l12-10-12-2-12 10z"/><path fill="#00cd00" d="M508 956l12-9-13-2-12 9z"/><path fill="#00cd00" d="M532 949l12-8-12-2-12 8z"/><path fill="#35cc00" d="M557 943l12-8-12-2-13 8z"/><path fill="#6dcb00" d="M582 937l12-8-13-2-12 8z"/><path fill="#9cca00" d="M606 932l13-8-13-2-12 7z"/><path fill="#c0ca00" d="M631 927l13-7-13-3-12 7z"/><path fill="#c9bc00" d="M656 922l13-7-13-2-12 7z"/><path fill="#c8ab00" d="M681 918l12-6-12-3-12 6z"/><path fill="#c79f00" d="M706 915l12-6-12-4-13 7z"/><path fill="#c69400" d="M731 912l12-6-12-3-13 6z"/><path fill="#c68b00" d="M756 909l12-5-12-4-13 6z"/><path fill="#c58400" d="M781 907l12-5-12-4-13 6z"/><path fill="#c47f00" d="M806 905l13-4-13-4-13 5z"/><path fill="#c37c00" d="M831 904l13-4-13-4-12 5z"/><path fill="#c27a00" d="M856 904l13-5-13-3-12 4z"/><path fill="#c07a00" d="M881 904l13-4-13-4-12 3z"/><path fill="#bf7b00" d="M906 904l13-4-13-4-12 4z"/><path fill="#be7e00" d="M931 905l13-4-13-4-12 3z"/><path fill="#bd8200" d="M956 906l13-3-13-5-12 3z"/><path fill="#bc8800" d="M981 908l12-3-12-5-12 3z"/><path fill="#ba9000" d="M1006 910l12-2-12-5-13 2z"/><path fill="#b99900" d="M1031 913l12-2-12-5-13 2z"/><path fill="#b7a400" d="M1055 916l13-2-13-5-12 2z"/><path fill="#b6b200" d="M1080 919l12-1-12-5-12 1z"/><path fill="#9bb400" d="M1105 923l12-1-12-5-13 1z"/><path fill="#75b200" d="M1129 928l13-1-13-5-12 0z"/><path fill="#00d007" d="M422 990l12-10-12-2-12 10z"/><path fill="#00cf00" d="M447 981l12-10-13-1-12 10z"/><path fill="#00cf00" d="M471 973l12-9-12-2-12 9z"/><path fill="#00ce00" d="M495 965l13-9-13-2-12 10z"/><path fill="#00ce00" d="M520 958l12-9-12-2-12 9z"/><path fill="#00cd00" d="M545 952l12-9-13-2-12 8z"/><path fill="#3dcc00" d="M569 945l13-8-13-2-12 8z"/><path fill="#72cc00" d="M594 940l12-8-12-3-12 8z"/><path fill="#9fcb00" d="M619 934l12-7-12-3-13 8z"/><path fill="#c2ca00" d="M644 929l12-7-12-2-13 7z"/><path fill="#cabc00" d="M669 925l12-7-12-3-13 7z"/><path fill="#c9ad00" d="M694 921l12-6-13-3-12 6z"/><path fill="#c8a000" d="M718 918l13-6-13-3-12 6z"/><path fill="#c79600" d="M743 915l13-6-13-3-12 6z"/><path fill="#c68e00" d="M768 913l13-6-13-3-12 5z"/><path fill="#c58700" d="M793 911l13-6-13-3-12 5z"/><path fill="#c48300" d="M818 909l13-5-12-3-13 4z"/><path fill="#c38000" d="M844 908l12-4-12-4-13 4z"/><path fill="#c27f00" d="M869 908l12-4-12-5-13 5z"/><path fill="#c17f00" d="M894 908l12-4-12-4-13 4z"/><path fill="#c08000" d="M919 908l12-3-12-5-13 4z"/><path fill="#bf8400" d="M944 909l12-3-12-5-13 4z"/><path fill="#be8900" d="M968 911l13-3-12-5-13 3z"/><path fill="#bc9000" d="M993 912l13-2-13-5-12 3z"/><path fill="#bb9800" d="M1018 915l13-2-13-5-12 2z"/><path fill="#baa200" d="M1043 918l12-2-12-5-12 2z"/><path fill="#b8af00" d="M1068 921l12-2-12-5-13 2z"/><path fill="#a9b700" d="M1092 925l13-2-13-5-12 1z"/><path fill="#88b500" d="M1117 929l12-1-12-6-12 1z"/><path fill="#00d001" d="M435 992l12-11-13-1-12 10z"/><path fill="#00d000" d="M459 983l12-10-12-2-12 10z"/><path fill="#00cf00" d="M483 975l12-10-12-1-12 9z"/><path fill="#00cf00" d="M508 967l12-9-12-2-13 9z"/><path fill="#00ce00" d="M532 960l13-8-13-3-12 9z"/><path fill="#00cd00" d="M557 954l12-9-12-2-12 9z"/><path fill="#42cd00" d="M582 948l12-8-12-3-13 8z"/><path fill="#76cc00" d="M606 942l13-8-13-2-12 8z"/><path fill="#a2cb00" d="M631 937l13-8-13-2-12 7z"/><path fill="#c3cb00" d="M656 932l13-7-13-3-12 7z"/><path fill="#cabd00" d="M681 928l13-7-13-3-12 7z"/><path fill="#c9ae00" d="M706 924l12-6-12-3-12 6z"/><path fill="#c8a200" d="M731 921l12-6-12-3-13 6z"/><path fill="#c89900" d="M756 918l12-5-12-4-13 6z"/><path fill="#c79100" d="M781 916l12-5-12-4-13 6z"/><path fill="#c68b00" d="M806 914l12-5-12-4-13 6z"/><path fill="#c58700" d="M831 913l13-5-13-4-13 5z"/><path fill="#c48400" d="M856 912l13-4-13-4-12 4z"/><path fill="#c38300" d="M881 912l13-4-13-4-12 4z"/><path fill="#c28400" d="M906 912l13-4-13-4-12 4z"/><path fill="#c18700" d="M931 913l13-4-13-4-12 3z"/><path fill="#c08b00" d="M956 914l12-3-12-5-12 3z"/><path fill="#be9100" d="M981 915l12-3-12-4-13 3z"/><path fill="#bd9800" d="M1006 917l12-2-12-5-13 2z"/><path fill="#bca100" d="M1031 920l12-2-12-5-13 2z"/><path fill="#bbad00" d="M1055 923l13-2-13-5-12 2z"/><path fill="#b6b900" d="M1080 926l12-1-12-6-12 2z"/><path fill="#96b800" d="M1105 930l12-1-12-6-13 2z"/><path fill="#00d100" d="M447 993l12-10-12-2-12 11z"/><path fill="#00d000" d="M471 985l12-10-12-2-12 10z"/><path fill="#00d000" d="M496 977l12-10-13-2-12 10z"/><path fill="#00cf00" d="M520 970l12-10-12-2-12 9z"/><path fill="#00ce00" d="M545 963l12-9-12-2-13 8z"/><path fill="#00ce00" d="M569 956l13-8-13-3-12 9z"/><path fill="#47cd00" d="M594 950l12-8-12-2-12 8z"/><path fill="#78cd00" d="M619 945l12-8-12-3-13 8z"/><path fill="#a3cc00" d="M644 940l12-8-12-3-13 8z"/><path fill="#c3cb00" d="M669 935l12-7-12-3-13 7z"/><path fill="#cbbf00" d="M694 931l12-7-12-3-13 7z"/><path fill="#cab000" d="M719 928l12-7-13-3-12 6z"/><path fill="#c9a500" d="M743 925l13-7-13-3-12 6z"/><path fill="#c89c00" d="M768 922l13-6-13-3-12 5z"/><path fill="#c79500" d="M793 920l13-6-13-3-12 5z"/><path fill="#c68f00" d="M818 918l13-5-13-4-12 5z"/><path fill="#c68b00" d="M843 917l13-5-12-4-13 5z"/><path fill="#c58a00" d="M869 916l12-4-12-4-13 4z"/><path fill="#c48900" d="M894 916l12-4-12-4-13 4z"/><path fill="#c38b00" d="M918 917l13-4-12-5-13 4z"/><path fill="#c28e00" d="M943 917l13-3-12-5-13 4z"/><path fill="#c09300" d="M968 919l13-4-13-4-12 3z"/><path fill="#bf9900" d="M993 920l13-3-13-5-12 3z"/><path fill="#bea100" d="M1018 923l13-3-13-5-12 2z"/><path fill="#bdab00" d="M1043 925l12-2-12-5-12 2z"/><path fill="#bbb900" d="M1068 928l12-2-12-5-13 2z"/><path fill="#a3ba00" d="M1092 932l13-2-13-5-12 1z"/><path fill="#00d100" d="M459 995l12-10-12-2-12 10z"/><path fill="#00d000" d="M484 987l12-10-13-2-12 10z"/><path fill="#00d000" d="M508 979l12-9-12-3-12 10z"/><path fill="#00cf00" d="M533 972l12-9-13-3-12 10z"/><path fill="#00cf00" d="M557 965l12-9-12-2-12 9z"/><path fill="#00ce00" d="M582 959l12-9-12-2-13 8z"/><path fill="#4ace00" d="M607 953l12-8-13-3-12 8z"/><path fill="#7acd00" d="M631 948l13-8-13-3-12 8z"/><path fill="#a3cc00" d="M656 943l13-8-13-3-12 8z"/><path fill="#c2cc00" d="M681 938l13-7-13-3-12 7z"/><path fill="#cbc100" d="M706 935l13-7-13-4-12 7z"/><path fill="#cab200" d="M731 931l12-6-12-4-12 7z"/><path fill="#caa800" d="M756 928l12-6-12-4-13 7z"/><path fill="#c99f00" d="M781 926l12-6-12-4-13 6z"/><path fill="#c89900" d="M806 924l12-6-12-4-13 6z"/><path fill="#c79400" d="M831 922l12-5-12-4-13 5z"/><path fill="#c69100" d="M856 921l13-5-13-4-13 5z"/><path fill="#c58f00" d="M881 921l13-5-13-4-12 4z"/><path fill="#c49000" d="M906 921l12-4-12-5-12 4z"/><path fill="#c39200" d="M931 921l12-4-12-4-13 4z"/><path fill="#c29500" d="M956 922l12-3-12-5-13 3z"/><path fill="#c19b00" d="M981 923l12-3-12-5-13 4z"/><path fill="#c0a200" d="M1006 925l12-2-12-6-13 3z"/><path fill="#bfab00" d="M1030 928l13-3-12-5-13 3z"/><path fill="#beb700" d="M1055 931l13-3-13-5-12 2z"/><path fill="#adbc00" d="M1080 934l12-2-12-6-12 2z"/><path fill="#00d100" d="M472 997l12-10-13-2-12 10z"/><path fill="#00d100" d="M496 989l12-10-12-2-12 10z"/><path fill="#00d000" d="M520 981l13-9-13-2-12 9z"/><path fill="#00d000" d="M545 974l12-9-12-2-12 9z"/><path fill="#00cf00" d="M570 968l12-9-13-3-12 9z"/><path fill="#00cf00" d="M594 961l13-8-13-3-12 9z"/><path fill="#4cce00" d="M619 956l12-8-12-3-12 8z"/><path fill="#7bcd00" d="M644 951l12-8-12-3-13 8z"/><path fill="#a2cd00" d="M669 946l12-8-12-3-13 8z"/><path fill="#c0cc00" d="M694 942l12-7-12-4-13 7z"/><path fill="#ccc300" d="M719 938l12-7-12-3-13 7z"/><path fill="#cbb500" d="M743 935l13-7-13-3-12 6z"/><path fill="#caab00" d="M768 932l13-6-13-4-12 6z"/><path fill="#c9a300" d="M793 930l13-6-13-4-12 6z"/><path fill="#c89d00" d="M818 928l13-6-13-4-12 6z"/><path fill="#c89900" d="M843 926l13-5-13-4-12 5z"/><path fill="#c79600" d="M868 926l13-5-12-5-13 5z"/><path fill="#c69600" d="M893 925l13-4-12-5-13 5z"/><path fill="#c59600" d="M918 925l13-4-13-4-12 4z"/><path fill="#c49900" d="M943 926l13-4-13-5-12 4z"/><path fill="#c39d00" d="M968 927l13-4-13-4-12 3z"/><path fill="#c2a300" d="M993 929l13-4-13-5-12 3z"/><path fill="#c1ab00" d="M1018 931l12-3-12-5-12 2z"/><path fill="#c0b600" d="M1043 933l12-2-12-6-13 3z"/><path fill="#b6be00" d="M1068 936l12-2-12-6-13 3z"/><path fill="#00d200" d="M484 999l12-10-12-2-12 10z"/><path fill="#00d100" d="M508 991l12-10-12-2-12 10z"/><path fill="#00d100" d="M533 984l12-10-12-2-13 9z"/><path fill="#00d000" d="M557 977l13-9-13-3-12 9z"/><path fill="#00d000" d="M582 970l12-9-12-2-12 9z"/><path fill="#04cf00" d="M607 964l12-8-12-3-13 8z"/><path fill="#4dcf00" d="M632 959l12-8-13-3-12 8z"/><path fill="#7ace00" d="M656 954l13-8-13-3-12 8z"/><path fill="#a1cd00" d="M681 949l13-7-13-4-12 8z"/><path fill="#becd00" d="M706 945l13-7-13-3-12 7z"/><path fill="#ccc600" d="M731 941l12-6-12-4-12 7z"/><path fill="#cbb900" d="M756 938l12-6-12-4-13 7z"/><path fill="#cbaf00" d="M781 936l12-6-12-4-13 6z"/><path fill="#caa800" d="M806 933l12-5-12-4-13 6z"/><path fill="#c9a200" d="M831 932l12-6-12-4-13 6z"/><path fill="#c89e00" d="M856 931l12-5-12-5-13 5z"/><path fill="#c79c00" d="M881 930l12-5-12-4-13 5z"/><path fill="#c69c00" d="M906 930l12-5-12-4-13 4z"/><path fill="#c69e00" d="M931 930l12-4-12-5-13 4z"/><path fill="#c5a100" d="M956 931l12-4-12-5-13 4z"/><path fill="#c4a600" d="M981 932l12-3-12-6-13 4z"/><path fill="#c3ad00" d="M1006 934l12-3-12-6-13 4z"/><path fill="#c1b600" d="M1030 936l13-3-13-5-12 3z"/><path fill="#bdc000" d="M1055 939l13-3-13-5-12 2z"/><path fill="#00d200" d="M496 1002l12-11-12-2-12 10z"/><path fill="#00d200" d="M521 994l12-10-13-3-12 10z"/><path fill="#00d100" d="M545 986l12-9-12-3-12 10z"/><path fill="#00d100" d="M570 979l12-9-12-2-13 9z"/><path fill="#00d000" d="M595 973l12-9-13-3-12 9z"/><path fill="#06d000" d="M619 967l13-8-13-3-12 8z"/><path fill="#4dcf00" d="M644 962l12-8-12-3-12 8z"/><path fill="#79ce00" d="M669 957l12-8-12-3-13 8z"/><path fill="#9ece00" d="M694 952l12-7-12-3-13 7z"/><path fill="#bacd00" d="M719 949l12-8-12-3-13 7z"/><path fill="#ccca00" d="M744 945l12-7-13-3-12 6z"/><path fill="#ccbd00" d="M768 942l13-6-13-4-12 6z"/><path fill="#cbb300" d="M793 940l13-7-13-3-12 6z"/><path fill="#caac00" d="M818 938l13-6-13-4-12 5z"/><path fill="#caa700" d="M843 936l13-5-13-5-12 6z"/><path fill="#c9a400" d="M868 935l13-5-13-4-12 5z"/><path fill="#c8a300" d="M893 934l13-4-13-5-12 5z"/><path fill="#c7a300" d="M918 934l13-4-13-5-12 5z"/><path fill="#c6a500" d="M943 935l13-4-13-5-12 4z"/><path fill="#c5a900" d="M968 936l13-4-13-5-12 4z"/><path fill="#c4af00" d="M993 937l13-3-13-5-12 3z"/><path fill="#c3b800" d="M1018 939l12-3-12-5-12 3z"/><path fill="#c2c200" d="M1043 941l12-2-12-6-13 3z"/><path fill="#00d200" d="M509 1004l12-10-13-3-12 11z"/><path fill="#00d200" d="M533 996l12-10-12-2-12 10z"/><path fill="#00d100" d="M558 989l12-10-13-2-12 9z"/><path fill="#00d100" d="M582 982l13-9-13-3-12 9z"/><path fill="#00d000" d="M607 976l12-9-12-3-12 9z"/><path fill="#06d000" d="M632 970l12-8-12-3-13 8z"/><path fill="#4bcf00" d="M656 965l13-8-13-3-12 8z"/><path fill="#76cf00" d="M681 960l13-8-13-3-12 8z"/><path fill="#9bce00" d="M706 956l13-7-13-4-12 7z"/><path fill="#b5ce00" d="M731 952l13-7-13-4-12 8z"/><path fill="#cccd00" d="M756 949l12-7-12-4-12 7z"/><path fill="#ccc200" d="M781 946l12-6-12-4-13 6z"/><path fill="#ccb900" d="M806 944l12-6-12-5-13 7z"/><path fill="#cbb200" d="M831 942l12-6-12-4-13 6z"/><path fill="#caad00" d="M856 940l12-5-12-4-13 5z"/><path fill="#c9ab00" d="M881 940l12-6-12-4-13 5z"/><path fill="#c9aa00" d="M906 939l12-5-12-4-13 4z"/><path fill="#c8ab00" d="M931 939l12-4-12-5-13 4z"/><path fill="#c7ae00" d="M956 940l12-4-12-5-13 4z"/><path fill="#c6b300" d="M981 941l12-4-12-5-13 4z"/><path fill="#c5ba00" d="M1005 942l13-3-12-5-13 3z"/><path fill="#c4c400" d="M1030 945l13-4-13-5-12 3z"/><path fill="#00d300" d="M521 1006l12-10-12-2-12 10z"/><path fill="#00d200" d="M545 999l13-10-13-3-12 10z"/><path fill="#00d200" d="M570 992l12-10-12-3-12 10z"/><path fill="#00d100" d="M595 985l12-9-12-3-13 9z"/><path fill="#00d100" d="M619 979l13-9-13-3-12 9z"/><path fill="#05d000" d="M644 973l12-8-12-3-12 8z"/><path fill="#49d000" d="M669 968l12-8-12-3-13 8z"/><path fill="#72cf00" d="M694 964l12-8-12-4-13 8z"/><path fill="#96cf00" d="M719 960l12-8-12-3-13 7z"/><path fill="#b0ce00" d="M744 956l12-7-12-4-13 7z"/><path fill="#c5cd00" d="M768 953l13-7-13-4-12 7z"/><path fill="#cdc700" d="M793 950l13-6-13-4-12 6z"/><path fill="#ccbf00" d="M818 948l13-6-13-4-12 6z"/><path fill="#cbb800" d="M843 946l13-6-13-4-12 6z"/><path fill="#cbb400" d="M868 945l13-5-13-5-12 5z"/><path fill="#cab200" d="M893 944l13-5-13-5-12 6z"/><path fill="#c9b100" d="M918 944l13-5-13-5-12 5z"/><path fill="#c8b300" d="M943 944l13-4-13-5-12 4z"/><path fill="#c7b800" d="M968 945l13-4-13-5-12 4z"/><path fill="#c6be00" d="M993 946l12-4-12-5-12 4z"/><path fill="#c5c600" d="M1018 948l12-3-12-6-13 3z"/><path fill="#00d300" d="M533 1009l12-10-12-3-12 10z"/><path fill="#00d300" d="M558 1002l12-10-12-3-13 10z"/><path fill="#00d200" d="M582 995l13-10-13-3-12 10z"/><path fill="#00d200" d="M607 988l12-9-12-3-12 9z"/><path fill="#00d100" d="M632 982l12-9-12-3-13 9z"/><path fill="#01d100" d="M657 977l12-9-13-3-12 8z"/><path fill="#46d000" d="M681 972l13-8-13-4-12 8z"/><path fill="#6dd000" d="M706 967l13-7-13-4-12 8z"/><path fill="#90cf00" d="M731 963l13-7-13-4-12 8z"/><path fill="#a9ce00" d="M756 960l12-7-12-4-12 7z"/><path fill="#bdce00" d="M781 957l12-7-12-4-13 7z"/><path fill="#cdcd00" d="M806 954l12-6-12-4-13 6z"/><path fill="#cdc500" d="M831 952l12-6-12-4-13 6z"/><path fill="#ccbf00" d="M856 951l12-6-12-5-13 6z"/><path fill="#cbbc00" d="M881 950l12-6-12-4-13 5z"/><path fill="#caba00" d="M906 949l12-5-12-5-13 5z"/><path fill="#cabb00" d="M931 949l12-5-12-5-13 5z"/><path fill="#c9be00" d="M956 949l12-4-12-5-13 4z"/><path fill="#c8c200" d="M980 950l13-4-12-5-13 4z"/><path fill="#c4c700" d="M1005 952l13-4-13-6-12 4z"/><path fill="#00d300" d="M546 1012l12-10-13-3-12 10z"/><path fill="#00d300" d="M570 1004l12-9-12-3-12 10z"/><path fill="#00d200" d="M595 998l12-10-12-3-13 10z"/><path fill="#00d200" d="M620 991l12-9-13-3-12 9z"/><path fill="#00d200" d="M644 986l13-9-13-4-12 9z"/><path fill="#00d100" d="M669 980l12-8-12-4-12 9z"/><path fill="#41d100" d="M694 975l12-8-12-3-13 8z"/><path fill="#67d000" d="M719 971l12-8-12-3-13 7z"/><path fill="#88cf00" d="M744 967l12-7-12-4-13 7z"/><path fill="#a2cf00" d="M769 964l12-7-13-4-12 7z"/><path fill="#b5ce00" d="M793 961l13-7-13-4-12 7z"/><path fill="#c4ce00" d="M818 959l13-7-13-4-12 6z"/><path fill="#cdcc00" d="M843 957l13-6-13-5-12 6z"/><path fill="#ccc700" d="M868 955l13-5-13-5-12 6z"/><path fill="#ccc400" d="M893 954l13-5-13-5-12 6z"/><path fill="#cbc300" d="M918 954l13-5-13-5-12 5z"/><path fill="#cac500" d="M943 954l13-5-13-5-12 5z"/><path fill="#c9c800" d="M968 955l12-5-12-5-12 4z"/><path fill="#c0c900" d="M993 956l12-4-12-6-13 4z"/><path fill="#00d400" d="M558 1015l12-11-12-2-12 10z"/><path fill="#00d300" d="M583 1007l12-9-13-3-12 9z"/><path fill="#00d300" d="M607 1001l13-10-13-3-12 10z"/><path fill="#00d200" d="M632 995l12-9-12-4-12 9z"/><path fill="#00d200" d="M657 989l12-9-12-3-13 9z"/><path fill="#00d100" d="M681 984l13-9-13-3-12 8z"/><path fill="#3bd100" d="M706 979l13-8-13-4-12 8z"/><path fill="#60d000" d="M731 975l13-8-13-4-12 8z"/><path fill="#7fd000" d="M756 971l13-7-13-4-12 7z"/><path fill="#9acf00" d="M781 968l12-7-12-4-12 7z"/><path fill="#abcf00" d="M806 965l12-6-12-5-13 7z"/><path fill="#b9ce00" d="M831 963l12-6-12-5-13 7z"/><path fill="#c3cd00" d="M856 961l12-6-12-4-13 6z"/><path fill="#c9cd00" d="M881 960l12-6-12-4-13 5z"/><path fill="#cbcc00" d="M906 959l12-5-12-5-13 5z"/><path fill="#c9cb00" d="M931 959l12-5-12-5-13 5z"/><path fill="#c3cb00" d="M956 959l12-4-12-6-13 5z"/><path fill="#baca00" d="M980 960l13-4-13-6-12 5z"/><path fill="#00d400" d="M570 1018l13-11-13-3-12 11z"/><path fill="#00d400" d="M595 1011l12-10-12-3-12 9z"/><path fill="#00d300" d="M620 1004l12-9-12-4-13 10z"/><path fill="#00d300" d="M644 998l13-9-13-3-12 9z"/><path fill="#00d200" d="M669 993l12-9-12-4-12 9z"/><path fill="#00d200" d="M694 987l12-8-12-4-13 9z"/><path fill="#30d100" d="M719 983l12-8-12-4-13 8z"/><path fill="#57d100" d="M744 979l12-8-12-4-13 8z"/><path fill="#75d000" d="M769 975l12-7-12-4-13 7z"/><path fill="#8ed000" d="M793 972l13-7-13-4-12 7z"/><path fill="#a1cf00" d="M818 970l13-7-13-4-12 6z"/><path fill="#adcf00" d="M843 968l13-7-13-4-12 6z"/><path fill="#b6ce00" d="M868 966l13-6-13-5-12 6z"/><path fill="#bacd00" d="M893 965l13-6-13-5-12 6z"/><path fill="#bbcd00" d="M918 964l13-5-13-5-12 5z"/><path fill="#b8cc00" d="M943 964l13-5-13-5-12 5z"/><path fill="#b1cb00" d="M968 965l12-5-12-5-12 4z"/><path fill="#00d400" d="M583 1021l12-10-12-4-13 11z"/><path fill="#00d400" d="M607 1014l13-10-13-3-12 10z"/><path fill="#00d400" d="M632 1007l12-9-12-3-12 9z"/><path fill="#00d300" d="M657 1002l12-9-12-4-13 9z"/><path fill="#00d300" d="M682 996l12-9-13-3-12 9z"/><path fill="#00d200" d="M706 991l13-8-13-4-12 8z"/><path fill="#22d200" d="M731 987l13-8-13-4-12 8z"/><path fill="#4ed100" d="M756 983l13-8-13-4-12 8z"/><path fill="#6ad100" d="M781 980l12-8-12-4-12 7z"/><path fill="#82d000" d="M806 977l12-7-12-5-13 7z"/><path fill="#94d000" d="M831 974l12-6-12-5-13 7z"/><path fill="#a1cf00" d="M856 972l12-6-12-5-13 7z"/><path fill="#a8ce00" d="M881 971l12-6-12-5-13 6z"/><path fill="#abce00" d="M906 970l12-6-12-5-13 6z"/><path fill="#abcd00" d="M931 970l12-6-12-5-13 5z"/><path fill="#a7cc00" d="M955 970l13-5-12-6-13 5z"/><path fill="#00d500" d="M595 1024l12-10-12-3-12 10z"/><path fill="#00d400" d="M620 1017l12-10-12-3-13 10z"/><path fill="#00d400" d="M645 1011l12-9-13-4-12 9z"/><path fill="#00d300" d="M669 1005l13-9-13-3-12 9z"/><path fill="#00d300" d="M694 1000l12-9-12-4-12 9z"/><path fill="#00d300" d="M719 995l12-8-12-4-13 8z"/><path fill="#12d200" d="M744 991l12-8-12-4-13 8z"/><path fill="#43d200" d="M769 987l12-7-12-5-13 8z"/><path fill="#5ed100" d="M793 984l13-7-13-5-12 8z"/><path fill="#74d100" d="M818 981l13-7-13-4-12 7z"/><path fill="#85d000" d="M843 979l13-7-13-4-12 6z"/><path fill="#91cf00" d="M868 977l13-6-13-5-12 6z"/><path fill="#99cf00" d="M893 976l13-6-13-5-12 6z"/><path fill="#9bce00" d="M918 975l13-5-13-6-12 6z"/><path fill="#9ace00" d="M943 975l12-5-12-6-12 6z"/><path fill="#00d500" d="M608 1027l12-10-13-3-12 10z"/><path fill="#00d500" d="M632 1021l13-10-13-4-12 10z"/><path fill="#00d400" d="M657 1015l12-10-12-3-12 9z"/><path fill="#00d400" d="M682 1009l12-9-12-4-13 9z"/><path fill="#00d300" d="M706 1004l13-9-13-4-12 9z"/><path fill="#00d300" d="M731 999l13-8-13-4-12 8z"/><path fill="#00d200" d="M756 995l13-8-13-4-12 8z"/><path fill="#35d200" d="M781 992l12-8-12-4-12 7z"/><path fill="#50d100" d="M806 989l12-8-12-4-13 7z"/><path fill="#65d100" d="M831 986l12-7-12-5-13 7z"/><path fill="#75d000" d="M856 984l12-7-12-5-13 7z"/><path fill="#7fd000" d="M881 982l12-6-12-5-13 6z"/><path fill="#85cf00" d="M906 981l12-6-12-5-13 6z"/><path fill="#87cf00" d="M930 981l13-6-12-5-13 5z"/><path fill="#00d500" d="M620 1031l12-10-12-4-12 10z"/><path fill="#00d500" d="M645 1024l12-9-12-4-13 10z"/><path fill="#00d500" d="M669 1018l13-9-13-4-12 10z"/><path fill="#00d400" d="M694 1013l12-9-12-4-12 9z"/><path fill="#00d400" d="M719 1008l12-9-12-4-13 9z"/><path fill="#00d300" d="M744 1004l12-9-12-4-13 8z"/><path fill="#00d300" d="M769 1000l12-8-12-5-13 8z"/><path fill="#1ed200" d="M793 996l13-7-13-5-12 8z"/><path fill="#42d200" d="M818 993l13-7-13-5-12 8z"/><path fill="#55d100" d="M843 991l13-7-13-5-12 7z"/><path fill="#63d100" d="M868 989l13-7-13-5-12 7z"/><path fill="#6cd000" d="M893 987l13-6-13-5-12 6z"/><path fill="#71d000" d="M918 986l12-5-12-6-12 6z"/><path fill="#00d600" d="M632 1035l13-11-13-3-12 10z"/><path fill="#00d500" d="M657 1028l12-10-12-3-12 9z"/><path fill="#00d500" d="M682 1022l12-9-12-4-13 9z"/><path fill="#00d400" d="M707 1017l12-9-13-4-12 9z"/><path fill="#00d400" d="M731 1012l13-8-13-5-12 9z"/><path fill="#00d400" d="M756 1008l13-8-13-5-12 9z"/><path fill="#00d300" d="M781 1004l12-8-12-4-12 8z"/><path fill="#05d300" d="M806 1001l12-8-12-4-13 7z"/><path fill="#2cd200" d="M831 998l12-7-12-5-13 7z"/><path fill="#43d200" d="M856 996l12-7-12-5-13 7z"/><path fill="#50d100" d="M881 994l12-7-12-5-13 7z"/><path fill="#58d100" d="M905 993l13-7-12-5-13 6z"/><path fill="#00d600" d="M645 1038l12-10-12-4-13 11z"/><path fill="#00d600" d="M670 1032l12-10-13-4-12 10z"/><path fill="#00d500" d="M694 1026l13-9-13-4-12 9z"/><path fill="#00d500" d="M719 1021l12-9-12-4-12 9z"/><path fill="#00d400" d="M744 1017l12-9-12-4-13 8z"/><path fill="#00d400" d="M769 1013l12-9-12-4-13 8z"/><path fill="#00d400" d="M793 1009l13-8-13-5-12 8z"/><path fill="#00d300" d="M818 1006l13-8-13-5-12 8z"/><path fill="#0ed300" d="M843 1003l13-7-13-5-12 7z"/><path fill="#2ad200" d="M868 1001l13-7-13-5-12 7z"/><path fill="#3cd200" d="M893 999l12-6-12-6-12 7z"/><path fill="#00d600" d="M657 1042l13-10-13-4-12 10z"/><path fill="#00d600" d="M682 1036l12-10-12-4-12 10z"/><path fill="#00d500" d="M707 1031l12-10-12-4-13 9z"/><path fill="#00d500" d="M731 1026l13-9-13-5-12 9z"/><path fill="#00d500" d="M756 1021l13-8-13-5-12 9z"/><path fill="#00d400" d="M781 1017l12-8-12-5-12 9z"/><path fill="#00d400" d="M806 1014l12-8-12-5-13 8z"/><path fill="#00d300" d="M831 1011l12-8-12-5-13 8z"/><path fill="#00d300" d="M856 1008l12-7-12-5-13 7z"/><path fill="#08d200" d="M880 1006l13-7-12-5-13 7z"/><path fill="#00d600" d="M670 1046l12-10-12-4-13 10z"/><path fill="#00d600" d="M694 1040l13-9-13-5-12 10z"/><path fill="#00d600" d="M719 1035l12-9-12-5-12 10z"/><path fill="#00d500" d="M744 1030l12-9-12-4-13 9z"/><path fill="#00d500" d="M769 1026l12-9-12-4-13 8z"/><path fill="#00d500" d="M793 1022l13-8-13-5-12 8z"/><path fill="#00d400" d="M818 1019l13-8-13-5-12 8z"/><path fill="#00d400" d="M843 1016l13-8-13-5-12 8z"/><path fill="#00d300" d="M868 1013l12-7-12-5-12 7z"/><path fill="#00d700" d="M682 1050l12-10-12-4-12 10z"/><path fill="#00d600" d="M707 1045l12-10-12-4-13 9z"/><path fill="#00d600" d="M731 1039l13-9-13-4-12 9z"/><path fill="#00d600" d="M756 1035l13-9-13-5-12 9z"/><path fill="#00d500" d="M781 1031l12-9-12-5-12 9z"/><path fill="#00d500" d="M806 1027l12-8-12-5-13 8z"/><path fill="#00d500" d="M831 1024l12-8-12-5-13 8z"/><path fill="#00d400" d="M856 1021l12-8-12-5-13 8z"/><path fill="#00d700" d="M694 1055l13-10-13-5-12 10z"/><path fill="#00d700" d="M719 1049l12-10-12-4-12 10z"/><path fill="#00d600" d="M744 1044l12-9-12-5-13 9z"/><path fill="#00d600" d="M769 1040l12-9-12-5-13 9z"/><path fill="#00d600" d="M793 1035l13-8-13-5-12 9z"/><path fill="#00d500" d="M818 1032l13-8-13-5-12 8z"/><path fill="#00d500" d="M843 1029l13-8-13-5-12 8z"/><path fill="#00d700" d="M707 1059l12-10-12-4-13 10z"/><path fill="#00d700" d="M732 1054l12-10-13-5-12 10z"/><path fill="#00d700" d="M756 1049l13-9-13-5-12 9z"/><path fill="#00d600" d="M781 1044l12-9-12-4-12 9z"/><path fill="#00d600" d="M806 1041l12-9-12-5-13 8z"/><path fill="#00d600" d="M831 1037l12-8-12-5-13 8z"/><path fill="#00d800" d="M719 1064l13-10-13-5-12 10z"/><path fill="#00d700" d="M744 1059l12-10-12-5-12 10z"/><path fill="#00d700" d="M769 1054l12-10-12-4-13 9z"/><path fill="#00d700" d="M793 1049l13-8-13-6-12 9z"/><path fill="#00d600" d="M818 1046l13-9-13-5-12 9z"/><path fill="#00d800" d="M732 1069l12-10-12-5-13 10z"/><path fill="#00d800" d="M756 1063l13-9-13-5-12 10z"/><path fill="#00d700" d="M781 1059l12-10-12-5-12 10z"/><path fill="#00d700" d="M806 1055l12-9-12-5-13 8z"/><path fill="#00d800" d="M744 1073l12-10-12-4-12 10z"/><path fill="#00d800" d="M769 1068l12-9-12-5-13 9z"/><path fill="#00d700" d="M793 1064l13-9-13-6-12 10z"/><path fill="#00d803" d="M756 1078l13-10-13-5-12 10z"/><path fill="#00d800" d="M781 1074l12-10-12-5-12 9z"/><path fill="#00d909" d="M769 1084l12-10-12-6-13 10z"/></g><path fill="none" stroke="#000" stroke-opacity="1" stroke-width="1.2" d="M769 1084l6-5 6-5 6-5 6-5 7-5 6-4 6-5 6-4 6-5 7-4 6-4 6-4 6-4 7-4 6-4 6-4 6-3 6-4 7-3 6-4 6-3 6-3 7-3 6-4 6-3 6-2 7-3 6-3 6-3 6-2 7-3 6-2 6-3 6-2 7-2 6-2 6-2 6-2 7-2 6-2 6-2 6-1 7-2 6-2 6-1 6-1 6-2 7-1 6-1 6-1 6-1 6-1 7-1 6-1 6 0 6-1 6 0 6-1 6 0 7-1 6 0 6 0 6 0 6 0 6 0 6 0 6 0 6 0 7 1 6 0 6 0 6 1M763 1081l6-5 6-5 6-5 6-5 6-4 7-5 6-4 6-5 6-4 6-4 7-5 6-4 6-4 6-4 7-3 6-4 6-4 6-3 6-4 7-3 6-4 6-3 6-3 7-3 6-3 6-3 6-3 7-3 6-2 6-3 6-3 7-2 6-2 6-3 6-2 7-2 6-2 6-2 6-2 7-2 6-2 6-1 6-2 7-1 6-2 6-1 6-1 6-2 7-1 6-1 6-1 6-1 6-1 7 0 6-1 6-1 6 0 6-1 6 0 7-1 6 0 6 0 6 0 6 0 6 0 6 0 6 0 6 0 6 1 7 0 6 0 6 1M756 1078l7-5 6-5 6-4 6-5 6-5 6-5 7-4 6-4 6-5 6-4 6-4 7-4 6-4 6-4 6-4 7-4 6-3 6-4 6-4 7-3 6-3 6-4 6-3 7-3 6-3 6-3 6-3 7-2 6-3 6-3 6-2 7-3 6-2 6-2 6-3 6-2 7-2 6-2 6-2 6-2 7-1 6-2 6-2 6-1 7-2 6-1 6-1 6-1 6-2 7-1 6-1 6-1 6 0 6-1 7-1 6-1 6 0 6-1 6 0 6 0 7-1 6 0 6 0 6 0 6 0 6 0 6 0 6 0 6 1 6 0 7 1 6 0M750 1076l6-5 6-5 7-5 6-5 6-4 6-5 6-5 7-4 6-4 6-5 6-4 6-4 7-4 6-4 6-4 6-3 7-4 6-4 6-3 6-4 7-3 6-3 6-3 6-3 7-3 6-3 6-3 6-3 7-3 6-2 6-3 6-2 7-3 6-2 6-2 6-2 7-2 6-2 6-2 6-2 7-2 6-2 6-1 6-2 6-1 7-2 6-1 6-1 6-1 7-1 6-1 6-1 6-1 6-1 6-1 7 0 6-1 6 0 6-1 6 0 6 0 7-1 6 0 6 0 6 0 6 0 6 0 6 1 6 0 6 0 6 1 6 0M744 1073l6-5 6-5 6-4 7-5 6-5 6-5 6-4 6-5 7-4 6-4 6-4 6-4 6-4 7-4 6-4 6-4 6-4 7-3 6-4 6-3 6-3 7-4 6-3 6-3 6-3 7-3 6-3 6-3 6-2 7-3 6-2 6-3 6-2 7-3 6-2 6-2 6-2 7-2 6-2 6-2 6-2 7-1 6-2 6-1 6-2 6-1 7-2 6-1 6-1 6-1 7-1 6-1 6-1 6-1 6 0 6-1 7-1 6 0 6-1 6 0 6 0 6 0 7-1 6 0 6 0 6 0 6 1 6 0 6 0 6 0 6 1 6 0M738 1071l6-5 6-5 6-5 6-5 7-4 6-5 6-5 6-4 6-4 7-5 6-4 6-4 6-4 6-4 7-4 6-3 6-4 6-4 7-3 6-4 6-3 6-3 7-3 6-4 6-3 6-3 7-2 6-3 6-3 6-3 7-2 6-3 6-2 6-2 7-2 6-3 6-2 6-2 7-2 6-1 6-2 6-2 7-2 6-1 6-2 6-1 7-1 6-1 6-2 6-1 6-1 7-1 6-1 6 0 6-1 6-1 7 0 6-1 6 0 6-1 6 0 6 0 6 0 7 0 6 0 6 0 6 0 6 0 6 0 6 1 6 0 6 1M732 1069l6-6 6-4 6-5 6-5 6-5 7-4 6-5 6-4 6-5 6-4 7-4 6-4 6-4 6-4 7-4 6-4 6-4 6-3 6-4 7-3 6-3 6-4 6-3 7-3 6-3 6-3 6-3 7-3 6-2 6-3 6-3 7-2 6-2 6-3 6-2 7-2 6-2 6-2 6-2 7-2 6-2 6-1 6-2 7-2 6-1 6-1 6-2 7-1 6-1 6-1 6-1 6-1 7-1 6-1 6-1 6 0 6-1 7 0 6-1 6 0 6-1 6 0 6 0 6 0 7 0 6 0 6 0 6 0 6 1 6 0 6 0 6 1M725 1066l7-5 6-5 6-5 6-5 6-4 6-5 7-4 6-5 6-4 6-4 6-5 7-4 6-4 6-4 6-4 7-3 6-4 6-4 6-3 6-4 7-3 6-3 6-3 6-4 7-3 6-3 6-2 6-3 7-3 6-3 6-2 6-3 7-2 6-2 6-2 6-3 7-2 6-2 6-2 6-2 7-1 6-2 6-2 6-1 7-2 6-1 6-1 6-2 7-1 6-1 6-1 6-1 6-1 7-1 6 0 6-1 6-1 6 0 7-1 6 0 6 0 6 0 6-1 6 0 6 0 7 0 6 0 6 1 6 0 6 0 6 1 6 0M719 1064l6-5 7-5 6-5 6-5 6-5 6-4 6-5 7-4 6-5 6-4 6-4 6-4 7-4 6-4 6-4 6-4 7-3 6-4 6-4 6-3 6-3 7-4 6-3 6-3 6-3 7-3 6-3 6-3 7-2 6-3 6-3 6-2 7-2 6-3 6-2 6-2 7-2 6-2 6-2 6-2 7-2 6-2 6-1 6-2 7-1 6-2 6-1 6-1 6-1 7-1 6-1 6-1 6-1 6-1 7-1 6-1 6 0 6-1 6 0 7-1 6 0 6 0 6 0 6 0 6 0 6 0 7 0 6 0 6 0 6 1 6 0 6 0M713 1061l6-5 6-5 6-4 7-5 6-5 6-5 6-4 6-5 7-4 6-4 6-4 6-4 6-5 7-3 6-4 6-4 6-4 7-3 6-4 6-3 6-4 7-3 6-3 6-3 6-3 7-3 6-3 6-3 6-3 7-2 6-3 6-2 6-3 7-2 6-2 6-3 6-2 7-2 6-2 6-1 6-2 7-2 6-2 6-1 6-2 7-1 6-1 6-2 6-1 6-1 7-1 6-1 6-1 6-1 7 0 6-1 6-1 6 0 6-1 6 0 7 0 6-1 6 0 6 0 6 0 6 0 6 0 7 0 6 1 6 0 6 0 6 1M707 1059l6-5 6-5 6-5 6-5 7-4 6-5 6-4 6-5 6-4 7-4 6-5 6-4 6-4 6-4 7-4 6-3 6-4 6-4 7-3 6-4 6-3 6-3 7-4 6-3 6-3 6-3 7-3 6-2 6-3 6-3 7-2 6-3 6-2 6-3 7-2 6-2 6-2 6-2 7-2 6-2 6-2 6-1 7-2 6-2 6-1 6-2 7-1 6-1 6-1 6-1 6-1 7-1 6-1 6-1 6-1 7-1 6 0 6-1 6 0 6-1 6 0 7 0 6 0 6 0 6-1 6 0 6 1 6 0 7 0 6 0 6 1 6 0M701 1057l6-5 6-5 6-5 6-5 6-4 7-5 6-5 6-4 6-4 6-5 7-4 6-4 6-4 6-4 6-4 7-4 6-3 6-4 6-4 7-3 6-3 6-4 6-3 7-3 6-3 6-3 6-3 7-3 6-2 6-3 6-3 7-2 6-3 6-2 6-2 7-2 6-2 6-2 6-2 7-2 6-2 6-2 6-1 7-2 6-2 6-1 6-1 7-2 6-1 6-1 6-1 7-1 6-1 6-1 6 0 6-1 7-1 6 0 6-1 6 0 6 0 6-1 7 0 6 0 6 0 6 0 6 0 6 0 6 0 7 1 6 0 6 1M694 1055l7-5 6-5 6-5 6-5 6-5 6-4 7-5 6-4 6-5 6-4 6-4 7-4 6-4 6-4 6-4 6-4 7-4 6-3 6-4 6-3 7-4 6-3 6-3 6-3 7-3 6-3 6-3 6-3 7-3 6-2 6-3 6-3 7-2 6-2 6-3 6-2 7-2 6-2 6-2 6-2 7-1 6-2 6-2 6-1 7-2 6-1 6-2 6-1 7-1 6-1 6-1 6-1 7-1 6-1 6-1 6-1 6 0 7-1 6 0 6-1 6 0 6 0 6 0 7-1 6 0 6 0 6 1 6 0 6 0 6 0 7 1 6 0M688 1053l6-6 7-4 6-5 6-5 6-5 6-5 6-4 7-5 6-4 6-4 6-4 6-5 7-4 6-4 6-3 6-4 6-4 7-4 6-3 6-4 6-3 7-3 6-3 6-4 6-3 7-3 6-2 6-3 6-3 7-3 6-2 6-3 6-2 7-3 6-2 6-2 6-2 7-2 6-2 6-2 6-2 7-2 6-1 6-2 6-1 7-2 6-1 6-1 6-2 7-1 6-1 6-1 6-1 7-1 6 0 6-1 6-1 6 0 7-1 6 0 6 0 6-1 6 0 6 0 7 0 6 0 6 0 6 0 6 0 6 1 6 0 7 0M682 1050l6-5 6-5 6-5 7-4 6-5 6-5 6-4 6-5 7-4 6-4 6-5 6-4 6-4 7-4 6-4 6-3 6-4 6-4 7-3 6-4 6-3 6-3 7-4 6-3 6-3 6-3 7-3 6-3 6-2 6-3 7-3 6-2 6-2 6-3 7-2 6-2 6-2 6-2 7-2 6-2 6-2 7-2 6-2 6-1 6-2 7-1 6-1 6-2 6-1 6-1 7-1 6-1 6-1 6-1 7-1 6 0 6-1 6-1 6 0 7 0 6-1 6 0 6 0 6 0 6 0 7 0 6 0 6 0 6 0 6 0 6 1 6 0M676 1048l6-5 6-5 6-5 6-4 7-5 6-5 6-4 6-5 6-4 6-5 7-4 6-4 6-4 6-4 7-4 6-4 6-3 6-4 6-3 7-4 6-3 6-4 6-3 7-3 6-3 6-3 6-3 7-3 6-3 6-2 6-3 7-2 6-3 6-2 6-2 7-3 6-2 6-2 7-2 6-2 6-1 6-2 7-2 6-1 6-2 6-1 7-2 6-1 6-1 6-1 6-1 7-1 6-1 6-1 6-1 7-1 6 0 6-1 6 0 6-1 7 0 6 0 6-1 6 0 6 0 6 0 7 0 6 0 6 1 6 0 6 0 6 1M670 1046l6-5 6-5 6-5 6-5 6-4 7-5 6-4 6-5 6-4 6-5 6-4 7-4 6-4 6-4 6-4 7-4 6-3 6-4 6-4 6-3 7-3 6-4 6-3 6-3 7-3 6-3 6-3 6-3 7-3 6-2 6-3 6-2 7-3 6-2 6-3 7-2 6-2 6-2 6-2 7-2 6-2 6-1 6-2 7-2 6-1 6-2 6-1 7-1 6-1 6-2 6-1 7-1 6-1 6-1 6 0 6-1 7-1 6 0 6-1 6 0 6-1 7 0 6 0 6 0 6 0 6 0 6 0 7 0 6 0 6 0 6 1 6 0M663 1044l7-5 6-5 6-5 6-5 6-4 6-5 6-5 7-4 6-4 6-5 6-4 6-4 7-4 6-4 6-4 6-4 7-3 6-4 6-4 6-3 6-4 7-3 6-3 6-3 6-3 7-3 6-3 6-3 6-3 7-2 6-3 6-3 6-2 7-2 6-3 6-2 7-2 6-2 6-2 6-2 7-2 6-2 6-1 6-2 7-1 6-2 6-1 6-1 7-2 6-1 6-1 6-1 7-1 6-1 6-1 6 0 6-1 7-1 6 0 6 0 6-1 6 0 7 0 6 0 6-1 6 0 6 0 6 1 7 0 6 0 6 0 6 1M657 1042l6-5 7-5 6-5 6-5 6-4 6-5 6-5 6-4 7-4 6-5 6-4 6-4 6-4 7-4 6-4 6-4 6-4 7-3 6-4 6-3 6-4 6-3 7-3 6-3 6-3 6-3 7-3 6-3 6-3 6-3 7-2 6-3 6-2 7-3 6-2 6-2 6-2 7-2 6-2 6-2 6-2 7-2 6-1 6-2 6-2 7-1 6-1 6-2 6-1 7-1 6-1 6-1 6-1 7-1 6-1 6-1 6 0 6-1 7 0 6-1 6 0 6 0 6-1 7 0 6 0 6 0 6 0 6 0 6 0 7 1 6 0 6 0M651 1040l6-5 6-5 6-5 7-5 6-4 6-5 6-5 6-4 6-4 7-5 6-4 6-4 6-4 6-4 7-4 6-4 6-4 6-3 6-4 7-3 6-4 6-3 6-3 7-3 6-3 6-3 6-3 7-3 6-3 6-3 6-2 7-3 6-2 6-3 7-2 6-2 6-2 6-2 7-2 6-2 6-2 6-2 7-2 6-1 6-2 6-1 7-2 6-1 6-1 6-1 7-1 6-1 6-1 6-1 7-1 6-1 6 0 6-1 6-1 7 0 6 0 6-1 6 0 6 0 7 0 6 0 6 0 6 0 6 0 6 0 7 1 6 0M645 1038l6-5 6-5 6-5 6-5 7-4 6-5 6-4 6-5 6-4 6-5 7-4 6-4 6-4 6-4 6-4 7-4 6-4 6-3 6-4 6-3 7-4 6-3 6-3 6-3 7-3 6-4 6-2 6-3 7-3 6-3 6-2 6-3 7-2 6-3 6-2 7-2 6-2 6-2 6-2 7-2 6-2 6-2 6-2 7-1 6-2 6-1 6-2 7-1 6-1 6-1 6-2 7-1 6-1 6 0 6-1 7-1 6-1 6 0 6-1 6 0 7-1 6 0 6 0 6 0 6 0 7 0 6 0 6 0 6 0 6 0 6 0 7 1M639 1036l6-5 6-5 6-5 6-4 6-5 6-5 7-4 6-5 6-4 6-5 6-4 7-4 6-4 6-4 6-4 6-4 7-4 6-3 6-4 6-3 6-4 7-3 6-3 6-3 6-3 7-3 6-3 6-3 6-3 7-3 6-2 6-3 7-2 6-3 6-2 6-2 7-2 6-3 6-2 6-1 7-2 6-2 6-2 6-1 7-2 6-1 6-2 6-1 7-1 6-2 6-1 6-1 7-1 6-1 6 0 6-1 7-1 6 0 6-1 6 0 6-1 7 0 6 0 6 0 6-1 6 0 7 0 6 0 6 1 6 0 6 0 6 1M632 1035l7-6 6-5 6-4 6-5 6-5 6-5 6-4 7-5 6-4 6-5 6-4 6-4 6-4 7-4 6-4 6-4 6-3 7-4 6-4 6-3 6-4 6-3 7-3 6-3 6-3 6-3 7-3 6-3 6-3 6-3 7-2 6-3 6-2 7-3 6-2 6-2 6-2 7-3 6-2 6-1 6-2 7-2 6-2 6-1 6-2 7-1 6-2 6-1 6-1 7-2 6-1 6-1 6-1 7-1 6 0 6-1 6-1 7 0 6-1 6 0 6-1 6 0 7 0 6-1 6 0 6 0 6 0 7 0 6 0 6 1 6 0 6 0M626 1033l6-5 6-5 7-5 6-5 6-5 6-5 6-4 6-5 7-4 6-4 6-5 6-4 6-4 6-4 7-4 6-4 6-3 6-4 7-4 6-3 6-3 6-4 6-3 7-3 6-3 6-3 6-3 7-3 6-3 6-3 6-2 7-3 6-2 6-3 7-2 6-2 6-2 6-3 7-2 6-1 6-2 6-2 7-2 6-1 6-2 6-1 7-2 6-1 6-1 6-2 7-1 6-1 6-1 6-1 7-1 6 0 6-1 6-1 7 0 6-1 6 0 6 0 6-1 7 0 6 0 6 0 6 0 6 0 7 0 6 1 6 0 6 0M620 1031l6-5 6-5 6-5 7-5 6-5 6-4 6-5 6-4 6-5 6-4 7-4 6-5 6-4 6-4 6-4 7-3 6-4 6-4 6-3 7-4 6-3 6-4 6-3 6-3 7-3 6-3 6-3 6-3 7-3 6-3 6-2 6-3 7-2 6-3 6-2 7-2 6-2 6-2 6-2 7-2 6-2 6-2 6-2 7-1 6-2 6-1 6-2 7-1 6-1 6-2 6-1 7-1 6-1 6-1 6-1 7 0 6-1 6-1 6 0 7-1 6 0 6 0 6-1 6 0 7 0 6 0 6 0 6 0 6 0 7 0 6 1 6 0M614 1029l6-5 6-5 6-5 6-5 6-5 7-4 6-5 6-4 6-5 6-4 6-4 7-4 6-5 6-4 6-3 6-4 7-4 6-4 6-3 6-4 7-3 6-4 6-3 6-3 6-3 7-3 6-3 6-3 6-3 7-2 6-3 6-3 7-2 6-3 6-2 6-2 7-2 6-2 6-2 6-2 7-2 6-2 6-2 6-1 7-2 6-1 6-2 6-1 7-1 6-2 6-1 7-1 6-1 6-1 6-1 6 0 7-1 6-1 6 0 6-1 7 0 6 0 6-1 6 0 6 0 7 0 6 0 6 0 6 0 6 0 7 1 6 0M608 1027l6-5 6-5 6-5 6-5 6-4 6-5 7-5 6-4 6-4 6-5 6-4 6-4 7-4 6-4 6-4 6-4 6-4 7-3 6-4 6-4 6-3 6-3 7-4 6-3 6-3 6-3 7-3 6-3 6-3 6-2 7-3 6-3 6-2 7-2 6-3 6-2 6-2 7-2 6-2 6-2 6-2 7-2 6-2 6-1 6-2 7-1 6-2 6-1 7-1 6-2 6-1 6-1 7-1 6-1 6-1 6 0 6-1 7-1 6 0 6-1 6 0 7 0 6-1 6 0 6 0 6 0 7 0 6 0 6 0 6 0 6 0 7 1M601 1026l7-5 6-5 6-5 6-5 6-5 6-5 6-4 6-5 7-4 6-5 6-4 6-4 6-4 7-4 6-4 6-4 6-4 6-3 7-4 6-3 6-4 6-3 6-3 7-4 6-3 6-3 6-3 7-3 6-2 6-3 6-3 7-2 6-3 6-2 7-3 6-2 6-2 6-2 7-2 6-2 6-2 6-2 7-2 6-1 6-2 6-1 7-2 6-1 6-1 7-2 6-1 6-1 6-1 7-1 6-1 6 0 6-1 7-1 6 0 6-1 6 0 6 0 7-1 6 0 6 0 6 0 6 0 7 0 6 0 6 0 6 0 6 1M595 1024l6-5 6-5 7-5 6-5 6-5 6-4 6-5 6-4 6-5 7-4 6-4 6-5 6-4 6-4 6-4 7-4 6-3 6-4 6-4 7-3 6-4 6-3 6-3 6-3 7-4 6-3 6-3 6-2 7-3 6-3 6-3 6-2 7-3 6-2 6-2 7-3 6-2 6-2 6-2 7-2 6-2 6-2 6-1 7-2 6-2 6-1 6-2 7-1 6-1 6-1 7-2 6-1 6-1 6-1 7 0 6-1 6-1 6-1 7 0 6-1 6 0 6 0 6-1 7 0 6 0 6 0 6 0 6 0 7 0 6 0 6 0 6 1M589 1022l6-5 6-5 6-5 6-5 7-4 6-5 6-5 6-4 6-5 6-4 7-4 6-4 6-4 6-4 6-4 6-4 7-4 6-4 6-3 6-4 7-3 6-4 6-3 6-3 6-3 7-3 6-3 6-3 6-3 7-3 6-2 6-3 6-2 7-3 6-2 6-2 7-3 6-2 6-2 6-2 7-2 6-1 6-2 6-2 7-1 6-2 6-1 6-2 7-1 6-1 6-1 7-1 6-2 6 0 6-1 7-1 6-1 6 0 6-1 7-1 6 0 6 0 6-1 6 0 7 0 6 0 6 0 6 0 6 0 7 0 6 0 6 1M583 1021l6-5 6-5 6-5 6-5 6-5 7-5 6-4 6-5 6-4 6-5 6-4 6-4 7-4 6-4 6-4 6-4 6-4 7-3 6-4 6-3 6-4 7-3 6-4 6-3 6-3 6-3 7-3 6-3 6-3 6-2 7-3 6-3 6-2 6-3 7-2 6-2 6-2 7-2 6-3 6-1 6-2 7-2 6-2 6-2 6-1 7-2 6-1 6-2 7-1 6-1 6-1 6-1 7-1 6-1 6-1 6-1 7-1 6 0 6-1 6 0 7-1 6 0 6-1 6 0 6 0 7 0 6 0 6 0 6 0 6 0 7 0 6 1M577 1019l6-5 6-5 6-5 6-5 6-5 6-4 6-5 7-4 6-5 6-4 6-4 6-5 6-4 7-4 6-4 6-4 6-3 6-4 7-4 6-3 6-4 6-3 6-3 7-3 6-4 6-3 6-3 7-3 6-2 6-3 6-3 7-2 6-3 6-2 6-3 7-2 6-2 6-2 7-2 6-2 6-2 6-2 7-2 6-1 6-2 6-2 7-1 6-1 6-2 7-1 6-1 6-1 6-1 7-1 6-1 6-1 6-1 7 0 6-1 6 0 6-1 7 0 6 0 6-1 6 0 6 0 7 0 6 0 6 0 6 0 6 1 7 0M570 1018l7-6 6-5 6-4 6-5 6-5 6-5 6-4 6-5 7-4 6-5 6-4 6-4 6-4 6-4 7-4 6-4 6-4 6-4 6-3 7-4 6-3 6-4 6-3 6-3 7-3 6-3 6-3 6-3 7-3 6-3 6-2 6-3 7-2 6-3 6-2 6-3 7-2 6-2 6-2 7-2 6-2 6-2 6-1 7-2 6-2 6-1 6-2 7-1 6-1 6-2 7-1 6-1 6-1 6-1 7-1 6-1 6 0 6-1 7-1 6 0 6-1 6 0 7 0 6-1 6 0 6 0 6 0 7 0 6 0 6 0 6 1 6 0M564 1016l6-5 6-5 7-5 6-5 6-5 6-4 6-5 6-4 6-5 6-4 7-5 6-4 6-4 6-4 6-4 6-4 7-3 6-4 6-4 6-3 7-4 6-3 6-3 6-4 6-3 7-3 6-3 6-3 6-3 7-2 6-3 6-3 6-2 7-3 6-2 6-2 6-2 7-3 6-2 6-2 7-2 6-1 6-2 6-2 7-1 6-2 6-1 6-2 7-1 6-1 6-2 7-1 6-1 6-1 6-1 7 0 6-1 6-1 6 0 7-1 6 0 6-1 6 0 7 0 6-1 6 0 6 0 6 0 7 0 6 1 6 0 6 0M558 1015l6-6 6-5 6-5 6-4 7-5 6-5 6-4 6-5 6-4 6-5 6-4 7-4 6-4 6-4 6-4 6-4 6-4 7-4 6-3 6-4 6-3 7-4 6-3 6-3 6-3 6-3 7-3 6-3 6-3 6-3 7-3 6-2 6-3 6-2 7-3 6-2 6-2 7-2 6-2 6-2 6-2 7-2 6-2 6-1 6-2 7-2 6-1 6-1 6-2 7-1 6-1 6-1 7-1 6-1 6-1 6-1 7-1 6 0 6-1 6-1 7 0 6-1 6 0 6 0 7 0 6 0 6 0 6 0 6 0 7 0 6 0 6 0M552 1013l6-5 6-5 6-5 6-5 6-5 6-4 7-5 6-4 6-5 6-4 6-5 6-4 6-4 7-4 6-4 6-4 6-4 6-3 7-4 6-3 6-4 6-3 6-4 7-3 6-3 6-3 6-3 7-3 6-3 6-2 6-3 7-3 6-2 6-3 6-2 7-2 6-3 6-2 7-2 6-2 6-2 6-2 7-1 6-2 6-2 6-1 7-2 6-1 6-1 6-2 7-1 6-1 6-1 7-1 6-1 6-1 6-1 7 0 6-1 6 0 6-1 7 0 6-1 6 0 6 0 7 0 6 0 6 0 6 0 6 0 7 0 6 0M546 1012l6-5 6-5 6-5 6-5 6-5 6-5 6-4 7-5 6-4 6-5 6-4 6-4 6-4 6-4 7-4 6-4 6-4 6-4 6-3 7-4 6-3 6-4 6-3 6-3 7-3 6-4 6-3 6-2 7-3 6-3 6-3 6-2 7-3 6-2 6-3 6-2 7-2 6-2 6-2 7-2 6-2 6-2 6-2 7-2 6-1 6-2 6-1 7-2 6-1 6-1 7-2 6-1 6-1 6-1 7-1 6 0 6-1 6-1 7 0 6-1 6-1 6 0 7 0 6-1 6 0 6 0 7 0 6 0 6 0 6 0 6 0 7 1M540 1010l6-5 6-5 6-5 6-5 6-4 6-5 6-5 6-4 6-5 7-4 6-4 6-5 6-4 6-4 6-4 7-4 6-3 6-4 6-4 6-3 7-4 6-3 6-4 6-3 6-3 7-3 6-3 6-3 6-3 7-3 6-2 6-3 6-2 7-3 6-2 6-3 6-2 7-2 6-2 6-2 7-2 6-2 6-2 6-1 7-2 6-1 6-2 6-1 7-2 6-1 6-1 7-1 6-1 6-1 6-1 7-1 6-1 6-1 6 0 7-1 6 0 6-1 6 0 7 0 6 0 6-1 6 0 6 0 7 0 6 0 6 1 6 0M533 1009l6-5 6-5 7-5 6-5 6-5 6-5 6-4 6-5 6-4 6-5 6-4 7-4 6-4 6-4 6-4 6-4 6-4 7-4 6-3 6-4 6-3 7-4 6-3 6-3 6-3 6-3 7-3 6-3 6-3 6-3 7-3 6-2 6-3 6-2 7-3 6-2 6-2 6-2 7-2 6-2 6-2 7-2 6-2 6-2 6-1 7-2 6-1 6-2 6-1 7-2 6-1 6-1 7-1 6-1 6-1 6-1 7 0 6-1 6-1 6 0 7-1 6 0 6-1 6 0 7 0 6 0 6 0 6 0 6 0 7 0 6 0 6 0M527 1008l6-5 6-6 6-4 6-5 7-5 6-5 6-4 6-5 6-4 6-5 6-4 6-4 7-5 6-4 6-4 6-3 6-4 6-4 7-4 6-3 6-4 6-3 6-3 7-4 6-3 6-3 6-3 7-3 6-3 6-2 6-3 7-3 6-2 6-3 6-2 7-2 6-3 6-2 6-2 7-2 6-2 6-2 7-2 6-1 6-2 6-1 7-2 6-1 6-2 6-1 7-1 6-1 6-1 7-1 6-1 6-1 6-1 7-1 6 0 6-1 6 0 7-1 6 0 6-1 6 0 7 0 6 0 6 0 6 0 6 0 7 0 6 1M521 1006l6-5 6-5 6-5 6-5 6-4 6-5 7-5 6-4 6-5 6-4 6-4 6-5 6-4 6-4 7-4 6-4 6-4 6-3 6-4 7-3 6-4 6-3 6-4 6-3 7-3 6-3 6-3 6-3 7-3 6-3 6-3 6-2 7-3 6-2 6-3 6-2 7-2 6-2 6-2 6-2 7-2 6-2 6-2 7-2 6-1 6-2 6-1 7-2 6-1 6-2 6-1 7-1 6-1 6-1 7-1 6-1 6-1 6 0 7-1 6 0 6-1 6 0 7-1 6 0 6 0 6-1 7 0 6 0 6 0 6 0 6 1 7 0M515 1005l6-5 6-5 6-5 6-5 6-5 6-4 6-5 6-5 7-4 6-4 6-5 6-4 6-4 6-4 6-4 7-4 6-4 6-4 6-3 6-4 7-3 6-4 6-3 6-3 6-3 7-4 6-3 6-3 6-2 7-3 6-3 6-3 6-2 7-3 6-2 6-2 6-3 7-2 6-2 6-2 6-2 7-2 6-1 6-2 7-2 6-1 6-2 6-1 7-2 6-1 6-1 6-1 7-1 6-1 6-1 7-1 6-1 6-1 6 0 7-1 6-1 6 0 6 0 7-1 6 0 6 0 6 0 7 0 6 0 6 0 6 0 6 0M509 1004l6-5 6-5 6-5 6-5 6-5 6-5 6-4 6-5 6-4 6-5 7-4 6-4 6-4 6-4 6-4 6-4 7-4 6-4 6-4 6-3 6-4 7-3 6-3 6-4 6-3 6-3 7-3 6-3 6-3 6-3 7-2 6-3 6-2 6-3 7-2 6-3 6-2 6-2 7-2 6-2 6-2 6-2 7-2 6-2 6-1 7-2 6-1 6-2 6-1 7-1 6-2 6-1 6-1 7-1 6-1 6-1 7-1 6 0 6-1 6-1 7 0 6-1 6 0 6 0 7 0 6-1 6 0 6 0 7 0 6 0 6 0 6 1M502 1003l6-5 7-6 6-4 6-5 6-5 6-5 6-5 6-4 6-5 6-4 6-4 7-5 6-4 6-4 6-4 6-4 6-3 6-4 7-4 6-3 6-4 6-3 6-4 7-3 6-3 6-3 6-3 7-3 6-3 6-3 6-3 7-2 6-3 6-2 6-3 7-2 6-2 6-2 6-3 7-2 6-2 6-1 6-2 7-2 6-2 6-1 7-2 6-1 6-2 6-1 7-1 6-1 6-1 6-1 7-1 6-1 6-1 7-1 6 0 6-1 6-1 7 0 6 0 6-1 6 0 7 0 6 0 6 0 6 0 7 0 6 0 6 0M496 1002l6-6 6-5 6-5 6-5 7-4 6-5 6-5 6-4 6-5 6-4 6-4 6-5 6-4 7-4 6-4 6-4 6-4 6-3 6-4 7-4 6-3 6-4 6-3 6-3 7-3 6-3 6-3 6-3 7-3 6-3 6-3 6-2 7-3 6-3 6-2 6-2 7-3 6-2 6-2 6-2 7-2 6-2 6-2 6-1 7-2 6-2 6-1 7-2 6-1 6-1 6-2 7-1 6-1 6-1 6-1 7-1 6 0 6-1 7-1 6 0 6-1 6 0 7-1 6 0 6 0 6-1 7 0 6 0 6 0 6 0 7 0 6 1M490 1000l6-5 6-5 6-5 6-5 6-5 6-4 7-5 6-4 6-5 6-4 6-5 6-4 6-4 6-4 7-4 6-4 6-4 6-4 6-3 6-4 7-3 6-4 6-3 6-3 6-4 7-3 6-3 6-3 6-3 7-2 6-3 6-3 6-2 7-3 6-2 6-3 6-2 7-2 6-2 6-2 6-2 7-2 6-2 6-2 6-1 7-2 6-1 6-2 7-1 6-2 6-1 6-1 7-1 6-1 6-1 7-1 6-1 6-1 6 0 7-1 6 0 6-1 6 0 7-1 6 0 6 0 6 0 7 0 6 0 6 0 6 0 7 0M484 999l6-5 6-5 6-5 6-5 6-5 6-4 6-5 6-5 7-4 6-4 6-5 6-4 6-4 6-4 6-4 6-4 7-4 6-4 6-3 6-4 6-4 7-3 6-3 6-4 6-3 6-3 7-3 6-3 6-3 6-3 7-2 6-3 6-3 6-2 7-2 6-3 6-2 6-2 7-2 6-2 6-2 6-2 7-2 6-2 6-2 6-1 7-2 6-1 6-2 7-1 6-1 6-1 6-1 7-2 6 0 6-1 7-1 6-1 6-1 6 0 7-1 6 0 6-1 6 0 7 0 6-1 6 0 6 0 7 0 6 0 6 0 6 1M478 998l6-5 6-5 6-5 6-5 6-5 6-4 6-5 6-5 6-4 6-5 7-4 6-4 6-4 6-4 6-4 6-4 6-4 7-4 6-4 6-3 6-4 6-3 6-3 7-4 6-3 6-3 6-3 7-3 6-3 6-3 6-3 7-2 6-3 6-2 6-3 7-2 6-2 6-3 6-2 7-2 6-2 6-2 6-1 7-2 6-2 6-2 6-1 7-2 6-1 6-1 7-1 6-2 6-1 6-1 7-1 6-1 6-1 7 0 6-1 6-1 6 0 7-1 6 0 6 0 6-1 7 0 6 0 6 0 6 0 7 0 6 0 6 0M472 997l6-5 6-5 6-5 6-5 6-5 6-5 6-4 6-5 6-4 6-5 6-4 6-4 7-4 6-4 6-4 6-4 6-4 6-4 6-4 7-3 6-4 6-3 6-4 6-3 7-3 6-3 6-3 6-3 7-3 6-3 6-3 6-2 6-3 7-2 6-3 6-2 7-3 6-2 6-2 6-2 7-2 6-2 6-2 6-1 7-2 6-2 6-1 6-2 7-1 6-2 6-1 7-1 6-1 6-1 6-1 7-1 6-1 6-1 7 0 6-1 6 0 6-1 7 0 6-1 6 0 6 0 7 0 6 0 6-1 6 1 7 0 6 0M465 996l6-5 6-5 7-5 6-5 6-5 6-5 6-4 6-5 6-4 6-5 6-4 6-4 6-4 6-5 7-4 6-3 6-4 6-4 6-4 6-3 7-4 6-3 6-4 6-3 6-3 7-3 6-3 6-3 6-3 7-3 6-3 6-2 6-3 6-3 7-2 6-2 6-3 6-2 7-2 6-2 6-2 7-2 6-2 6-2 6-1 7-2 6-2 6-1 6-1 7-2 6-1 6-1 7-1 6-1 6-1 6-1 7-1 6-1 6-1 7 0 6-1 6 0 6-1 7 0 6 0 6-1 6 0 7 0 6 0 6 0 6 0 7 0M459 995l6-5 6-5 6-5 6-5 6-5 6-5 7-4 6-5 6-4 6-5 6-4 6-4 6-4 6-5 6-4 7-3 6-4 6-4 6-4 6-3 6-4 7-3 6-4 6-3 6-3 6-3 7-3 6-3 6-3 6-3 6-3 7-3 6-2 6-3 6-2 7-3 6-2 6-2 6-2 7-2 6-2 6-2 7-2 6-2 6-2 6-1 7-2 6-1 6-2 6-1 7-1 6-1 6-2 7-1 6-1 6-1 6 0 7-1 6-1 6 0 7-1 6-1 6 0 6 0 7-1 6 0 6 0 6 0 7 0 6 0 6 0 6 0M453 994l6-5 6-5 6-5 6-5 6-5 6-5 6-4 6-5 7-4 6-5 6-4 6-4 6-4 6-5 6-4 6-4 6-3 7-4 6-4 6-3 6-4 6-3 7-4 6-3 6-3 6-3 6-4 7-2 6-3 6-3 6-3 6-3 7-2 6-3 6-2 6-3 7-2 6-2 6-2 6-2 7-2 6-2 6-2 7-2 6-2 6-1 6-2 7-1 6-2 6-1 7-1 6-2 6-1 6-1 7-1 6-1 6-1 6 0 7-1 6-1 6 0 7-1 6 0 6-1 6 0 7 0 6 0 6 0 6 0 7 0 6 0 6 0M447 993l6-5 6-5 6-5 6-5 6-5 6-4 6-5 6-5 6-4 6-5 7-4 6-4 6-4 6-5 6-4 6-3 6-4 6-4 7-4 6-3 6-4 6-3 6-4 6-3 7-3 6-3 6-4 6-3 7-2 6-3 6-3 6-3 6-2 7-3 6-2 6-3 6-2 7-2 6-2 6-2 6-2 7-2 6-2 6-2 7-2 6-1 6-2 6-1 7-2 6-1 6-2 7-1 6-1 6-1 6-1 7-1 6-1 6-1 6 0 7-1 6-1 6 0 7 0 6-1 6 0 6 0 7-1 6 0 6 0 6 0 7 0 6 1M441 992l6-5 6-5 6-5 6-5 6-5 6-4 6-5 6-5 6-4 6-5 6-4 6-4 7-4 6-4 6-4 6-4 6-4 6-4 6-4 7-3 6-4 6-3 6-4 6-3 6-3 7-3 6-4 6-3 6-2 7-3 6-3 6-3 6-2 6-3 7-2 6-3 6-2 6-2 7-2 6-3 6-2 6-1 7-2 6-2 6-2 7-1 6-2 6-2 6-1 7-1 6-2 6-1 7-1 6-1 6-1 6-1 7-1 6-1 6 0 6-1 7-1 6 0 6-1 7 0 6 0 6-1 6 0 7 0 6 0 6 0 6 0 7 0M435 992l6-6 6-5 6-5 6-5 6-5 6-4 6-5 6-5 6-4 6-4 6-5 6-4 6-4 6-4 7-4 6-4 6-4 6-4 6-4 6-3 6-4 7-3 6-4 6-3 6-3 6-3 7-3 6-3 6-3 6-3 6-3 7-3 6-2 6-3 6-2 7-3 6-2 6-2 6-2 7-3 6-2 6-2 6-1 7-2 6-2 6-2 7-1 6-2 6-1 6-1 7-2 6-1 6-1 7-1 6-1 6-1 6-1 7-1 6-1 6 0 6-1 7 0 6-1 6 0 7-1 6 0 6 0 6 0 7 0 6 0 6 0 6 0M429 991l6-5 6-6 6-5 6-5 6-4 6-5 6-5 6-4 6-5 6-4 6-5 6-4 6-4 6-4 6-4 6-4 7-4 6-4 6-4 6-3 6-4 6-3 7-4 6-3 6-3 6-3 6-3 7-3 6-3 6-3 6-3 6-3 7-2 6-3 6-2 6-3 7-2 6-2 6-2 6-3 7-2 6-2 6-1 6-2 7-2 6-2 6-1 7-2 6-1 6-2 6-1 7-1 6-1 6-1 7-1 6-1 6-1 6-1 7-1 6 0 6-1 7 0 6-1 6 0 6-1 7 0 6 0 6 0 6 0 7 0 6 0 6 0M422 990l6-5 6-5 6-5 6-5 6-5 6-5 6-5 7-4 6-5 6-4 6-5 6-4 6-4 6-4 6-4 6-4 6-4 7-4 6-3 6-4 6-4 6-3 6-4 7-3 6-3 6-3 6-3 6-3 7-3 6-3 6-3 6-3 6-2 7-3 6-2 6-3 6-2 7-2 6-2 6-3 6-2 7-1 6-2 6-2 6-2 7-2 6-1 6-2 7-1 6-2 6-1 6-1 7-1 6-1 6-1 7-1 6-1 6-1 6-1 7 0 6-1 6-1 7 0 6 0 6-1 6 0 7 0 6 0 6 0 6 0 7 0 6 0M416 989l6-5 6-5 6-5 6-5 6-5 6-5 6-4 6-5 6-5 6-4 7-4 6-5 6-4 6-4 6-4 6-4 6-4 6-4 6-3 7-4 6-4 6-3 6-3 6-4 6-3 7-3 6-3 6-3 6-3 7-3 6-3 6-2 6-3 6-3 7-2 6-3 6-2 6-2 7-2 6-2 6-2 6-2 7-2 6-2 6-2 7-2 6-1 6-2 6-1 7-2 6-1 6-1 6-1 7-1 6-1 6-1 7-1 6-1 6-1 6 0 7-1 6-1 6 0 7-1 6 0 6 0 6 0 7-1 6 0 6 0 6 0 7 1M410 988l6-5 6-5 6-5 6-5 6-5 6-5 6-4 6-5 6-4 6-5 6-4 6-4 7-5 6-4 6-4 6-4 6-4 6-3 6-4 6-4 7-3 6-4 6-3 6-4 6-3 6-3 7-3 6-3 6-3 6-3 6-3 7-2 6-3 6-3 6-2 7-2 6-3 6-2 6-2 7-2 6-2 6-2 6-2 7-2 6-2 6-2 7-1 6-2 6-1 6-1 7-2 6-1 6-1 6-1 7-1 6-1 6-1 7-1 6-1 6-1 6 0 7-1 6 0 6-1 7 0 6 0 6 0 6-1 7 0 6 0 6 0 6 0M404 988l6-6 6-5 6-5 6-5 6-4 6-5 6-5 6-5 6-4 6-5 6-4 6-4 6-4 6-4 7-5 6-4 6-3 6-4 6-4 6-4 6-3 7-4 6-3 6-3 6-4 6-3 6-3 7-3 6-3 6-3 6-2 6-3 7-3 6-2 6-3 6-2 7-3 6-2 6-2 6-2 7-2 6-2 6-2 6-2 7-2 6-1 6-2 7-2 6-1 6-1 6-2 7-1 6-1 6-1 6-1 7-1 6-1 6-1 7-1 6-1 6 0 6-1 7 0 6-1 6 0 7 0 6-1 6 0 6 0 7 0 6 0 6 0M398 987l6-5 6-5 6-5 6-5 6-5 6-5 6-5 6-4 6-5 6-4 6-5 6-4 6-4 6-4 6-4 6-4 7-4 6-4 6-4 6-3 6-4 6-3 6-4 7-3 6-3 6-4 6-3 6-3 7-3 6-3 6-2 6-3 6-3 7-2 6-3 6-2 6-3 7-2 6-2 6-2 6-2 7-2 6-2 6-2 6-2 7-1 6-2 6-1 7-2 6-1 6-2 6-1 7-1 6-1 6-1 7-1 6-1 6-1 6-1 7 0 6-1 6-1 6 0 7-1 6 0 6 0 7-1 6 0 6 0 6 0 7 0 6 0M392 986l6-5 6-5 6-5 6-5 6-5 6-5 6-4 6-5 6-4 6-5 6-4 6-5 6-4 6-4 6-4 6-4 6-4 7-4 6-3 6-4 6-4 6-3 6-4 6-3 7-3 6-3 6-3 6-3 6-3 7-3 6-3 6-3 6-2 6-3 7-3 6-2 6-2 6-3 7-2 6-2 6-2 6-2 7-2 6-2 6-1 6-2 7-2 6-1 6-2 7-1 6-2 6-1 6-1 7-1 6-1 6-1 7-1 6-1 6-1 6 0 7-1 6-1 6 0 6-1 7 0 6 0 6-1 7 0 6 0 6 0 6 0 7 0M386 986l6-6 6-5 6-5 6-5 5-5 7-4 6-5 6-5 6-4 6-5 6-4 6-4 6-4 6-5 6-4 6-4 6-4 6-3 6-4 7-4 6-3 6-4 6-3 6-4 6-3 7-3 6-3 6-3 6-3 6-3 7-3 6-3 6-2 6-3 6-2 7-3 6-2 6-2 6-3 7-2 6-2 6-2 6-2 7-2 6-1 6-2 6-2 7-1 6-2 6-1 7-1 6-2 6-1 6-1 7-1 6-1 6-1 7-1 6-1 6 0 6-1 7-1 6 0 6-1 7 0 6 0 6 0 6-1 7 0 6 0 6 0 6 0M380 985l5-5 6-5 6-5 6-5 6-5 6-5 6-5 6-4 6-5 6-4 7-5 6-4 6-4 6-4 6-4 6-4 6-4 6-4 6-4 6-3 7-4 6-4 6-3 6-3 6-4 6-3 7-3 6-3 6-3 6-3 6-3 7-2 6-3 6-3 6-2 6-2 7-3 6-2 6-2 6-2 7-3 6-2 6-1 6-2 7-2 6-2 6-1 6-2 7-1 6-2 6-1 7-2 6-1 6-1 6-1 7-1 6-1 6-1 7-1 6 0 6-1 6 0 7-1 6 0 6-1 7 0 6 0 6-1 6 0 7 0 6 0 6 0M373 984l6-5 6-5 6-5 6-5 6-5 6-5 6-4 6-5 6-4 6-5 6-4 6-5 6-4 7-4 6-4 6-4 6-4 6-4 6-3 6-4 6-4 6-3 7-4 6-3 6-3 6-3 6-4 6-3 7-3 6-2 6-3 6-3 6-3 7-2 6-3 6-2 6-3 7-2 6-2 6-2 6-2 7-2 6-2 6-2 6-2 7-2 6-1 6-2 6-1 7-2 6-1 6-1 7-2 6-1 6-1 6-1 7-1 6-1 6 0 7-1 6-1 6 0 6-1 7 0 6-1 6 0 7 0 6 0 6-1 6 0 7 0 6 0M367 984l6-5 6-5 6-5 6-5 6-5 6-5 6-5 6-4 6-5 6-4 6-5 6-4 6-4 6-4 6-5 7-4 6-3 6-4 6-4 6-4 6-3 6-4 6-3 7-4 6-3 6-3 6-3 6-3 6-3 7-3 6-3 6-3 6-2 6-3 7-2 6-3 6-2 6-3 7-2 6-2 6-2 6-2 7-2 6-2 6-2 6-1 7-2 6-2 6-1 7-1 6-2 6-1 6-1 7-1 6-2 6-1 6-1 7 0 6-1 6-1 7-1 6 0 6-1 6 0 7-1 6 0 6 0 7 0 6-1 6 0 6 0 7 0M361 983l6-5 6-5 6-5 6-5 6-5 6-5 6-4 6-5 6-5 6-4 6-4 6-5 6-4 6-4 6-4 6-4 6-4 7-4 6-4 6-3 6-4 6-3 6-4 6-3 7-3 6-4 6-3 6-3 6-3 6-3 7-3 6-2 6-3 6-3 6-2 7-3 6-2 6-2 6-2 7-3 6-2 6-2 6-2 7-2 6-1 6-2 6-2 7-1 6-2 6-1 7-2 6-1 6-1 6-1 7-1 6-1 6-1 6-1 7-1 6-1 6 0 7-1 6-1 6 0 6 0 7-1 6 0 6 0 7 0 6 0 6 0 6 0M355 983l6-5 6-5 6-5 6-5 6-5 6-5 6-5 6-4 6-5 6-4 6-5 6-4 6-4 6-5 6-4 6-4 6-4 6-3 6-4 7-4 6-3 6-4 6-3 6-4 6-3 6-3 7-3 6-3 6-3 6-3 6-3 7-3 6-3 6-2 6-3 6-2 7-3 6-2 6-2 6-2 7-2 6-2 6-2 6-2 7-2 6-2 6-1 6-2 7-1 6-2 6-1 7-2 6-1 6-1 6-1 7-1 6-1 6-1 7-1 6 0 6-1 6-1 7 0 6-1 6 0 7-1 6 0 6 0 6 0 7 0 6 0 6 0M349 982l6-5 6-5 6-5 6-5 6-5 6-5 6-4 6-5 6-5 6-4 6-4 6-5 6-4 6-4 6-4 6-4 6-4 6-4 6-4 6-3 7-4 6-3 6-4 6-3 6-4 6-3 6-3 7-3 6-3 6-3 6-3 6-2 7-3 6-3 6-2 6-3 6-2 7-2 6-3 6-2 6-2 7-2 6-2 6-2 6-2 7-1 6-2 6-2 6-1 7-2 6-1 6-1 7-2 6-1 6-1 6-1 7-1 6-1 6 0 7-1 6-1 6-1 6 0 7-1 6 0 6 0 7-1 6 0 6 0 6 0 7 0 6 0M343 982l6-5 6-5 6-5 6-5 6-5 6-5 6-5 6-4 6-5 6-4 6-5 6-4 6-4 6-5 6-4 6-4 6-4 6-3 6-4 6-4 6-3 6-4 7-3 6-4 6-3 6-3 6-3 6-4 7-3 6-2 6-3 6-3 6-3 7-2 6-3 6-2 6-3 6-2 7-2 6-2 6-3 6-2 7-2 6-1 6-2 6-2 7-2 6-1 6-2 6-1 7-2 6-1 6-1 7-1 6-1 6-1 6-1 7-1 6-1 6-1 7-1 6 0 6-1 6 0 7-1 6 0 6 0 7-1 6 0 6 0 6 0 7 0M337 982l6-6 6-5 6-5 6-5 5-5 6-4 6-5 6-5 6-4 6-5 6-4 6-5 7-4 6-4 6-4 6-4 6-4 6-4 6-4 6-3 6-4 6-3 6-4 7-3 6-4 6-3 6-3 6-3 6-3 7-3 6-3 6-3 6-2 6-3 7-2 6-3 6-2 6-3 6-2 7-2 6-2 6-2 6-2 7-2 6-2 6-2 6-1 7-2 6-1 6-2 7-1 6-2 6-1 6-1 7-1 6-1 6-1 6-1 7-1 6-1 6 0 7-1 6-1 6 0 6 0 7-1 6 0 6 0 7-1 6 0 6 0 6 0M331 981l6-5 6-5 5-5 6-5 6-5 6-5 6-5 6-4 6-5 6-4 6-5 6-4 6-4 6-4 6-5 7-4 6-3 6-4 6-4 6-4 6-3 6-4 6-3 6-4 7-3 6-3 6-3 6-4 6-3 6-2 7-3 6-3 6-3 6-2 6-3 7-2 6-3 6-2 6-2 6-3 7-2 6-2 6-2 6-2 7-1 6-2 6-2 6-1 7-2 6-1 6-2 7-1 6-1 6-2 6-1 7-1 6-1 6-1 7-1 6 0 6-1 6-1 7 0 6-1 6 0 7-1 6 0 6 0 6 0 7 0 6 0 6 0M325 981l6-5 5-5 6-6 6-5 6-4 6-5 6-5 6-5 6-4 6-5 6-4 6-4 6-5 6-4 6-4 6-4 6-4 7-4 6-4 6-3 6-4 6-3 6-4 6-3 6-4 6-3 7-3 6-3 6-3 6-3 6-3 6-3 7-2 6-3 6-2 6-3 7-2 6-3 6-2 6-2 6-2 7-2 6-2 6-2 6-2 7-2 6-1 6-2 6-2 7-1 6-1 6-2 7-1 6-1 6-1 6-1 7-1 6-1 6-1 7-1 6-1 6 0 6-1 7 0 6-1 6 0 7-1 6 0 6 0 6 0 7 0 6 0M769 1084l-6-3-7-3-6-2-6-3-6-2-6-2-7-3-6-2-6-3-6-2-6-2-7-2-6-2-6-3-6-2-6-2-7-2-6-2-6-2-6-2-6-2-7-1-6-2-6-2-6-2-6-2-7-1-6-2-6-2-6-1-6-2-7-1-6-2-6-1-6-2-6-1-6-2-7-1-6-1-6-2-6-1-6-1-7-1-6-1-6-2-6-1-6-1-6-1-7-1-6-1-6-1-6-1-6-1-6 0-6-1-7-1-6-1-6-1-6 0-6-1-6-1-6 0-6-1-7-1-6 0-6-1-6 0-6-1-6 0-6 0-6-1-6 0M775 1079l-6-3-6-3-7-2-6-3-6-2-6-3-6-2-7-2-6-3-6-2-6-2-6-2-7-3-6-2-6-2-6-2-6-2-7-2-6-2-6-2-6-2-6-2-7-1-6-2-6-2-6-2-6-1-7-2-6-2-6-1-6-2-6-2-7-1-6-2-6-1-6-1-6-2-7-1-6-1-6-2-6-1-6-1-7-1-6-2-6-1-6-1-6-1-6-1-7-1-6-1-6-1-6-1-6-1-6-1-6 0-7-1-6-1-6-1-6-1-6 0-6-1-6-1-7 0-6-1-6 0-6-1-6 0-6-1-6 0-6-1-6 0-6 0M781 1074l-6-3-6-3-7-2-6-3-6-2-6-2-6-3-6-2-7-3-6-2-6-2-6-2-6-2-7-3-6-2-6-2-6-2-6-2-7-2-6-2-6-2-6-2-7-1-6-2-6-2-6-2-6-1-7-2-6-2-6-1-6-2-6-2-7-1-6-2-6-1-6-1-6-2-7-1-6-2-6-1-6-1-6-1-6-2-7-1-6-1-6-1-6-1-6-1-7-1-6-1-6-1-6-1-6-1-6-1-6-1-7 0-6-1-6-1-6-1-6 0-6-1-6-1-7 0-6-1-6 0-6-1-6 0-6-1-6 0-6-1-6 0-7 0M787 1069l-6-3-6-2-6-3-7-2-6-3-6-2-6-3-6-2-7-2-6-3-6-2-6-2-6-2-7-3-6-2-6-2-6-2-6-2-7-2-6-2-6-2-6-1-6-2-7-2-6-2-6-2-6-1-6-2-7-2-6-1-6-2-6-1-6-2-7-2-6-1-6-1-6-2-6-1-7-1-6-2-6-1-6-1-6-1-7-2-6-1-6-1-6-1-6-1-6-1-7-1-6-1-6-1-6-1-6-1-6-1-7 0-6-1-6-1-6-1-6 0-6-1-6-1-7 0-6-1-6 0-6-1-6 0-6-1-6 0-6-1-7 0-6-1M793 1064l-6-3-6-2-6-3-6-2-7-3-6-2-6-3-6-2-6-2-7-3-6-2-6-2-6-2-6-2-7-2-6-3-6-2-6-2-6-2-7-2-6-1-6-2-6-2-6-2-7-2-6-2-6-1-6-2-7-2-6-1-6-2-6-1-6-2-7-1-6-2-6-1-6-2-6-1-7-1-6-2-6-1-6-1-6-1-7-2-6-1-6-1-6-1-6-1-6-1-7-1-6-1-6-1-6-1-6-1-6-1-7 0-6-1-6-1-6-1-6 0-6-1-6-1-7 0-6-1-6 0-6-1-6 0-6-1-6 0-6-1-7 0-6-1M800 1059l-7-2-6-3-6-2-6-3-6-2-7-3-6-2-6-3-6-2-6-2-7-2-6-3-6-2-6-2-6-2-7-2-6-2-6-2-6-2-6-2-7-2-6-2-6-2-6-2-7-2-6-1-6-2-6-2-6-1-7-2-6-2-6-1-6-2-6-1-7-2-6-1-6-1-6-2-6-1-7-1-6-2-6-1-6-1-6-1-7-2-6-1-6-1-6-1-6-1-7-1-6-1-6-1-6-1-6-1-6 0-7-1-6-1-6-1-6 0-6-1-6-1-7-1-6 0-6-1-6 0-6-1-6 0-6-1-6 0-7-1-6 0-6 0M806 1055l-6-3-7-3-6-2-6-3-6-2-6-2-7-3-6-2-6-3-6-2-6-2-7-2-6-3-6-2-6-2-6-2-7-2-6-2-6-2-6-2-7-2-6-2-6-2-6-1-6-2-7-2-6-2-6-1-6-2-6-2-7-1-6-2-6-1-6-2-7-1-6-2-6-1-6-2-6-1-7-1-6-1-6-2-6-1-6-1-7-1-6-1-6-1-6-2-6-1-7-1-6-1-6 0-6-1-6-1-6-1-7-1-6-1-6-1-6 0-6-1-6-1-6 0-7-1-6-1-6 0-6-1-6 0-6-1-6 0-7 0-6-1-6 0M812 1050l-6-2-6-3-7-3-6-2-6-3-6-2-6-2-7-3-6-2-6-2-6-3-6-2-7-2-6-2-6-2-6-2-7-3-6-2-6-2-6-1-6-2-7-2-6-2-6-2-6-2-6-2-7-1-6-2-6-2-6-1-7-2-6-1-6-2-6-1-6-2-7-1-6-2-6-1-6-1-6-2-7-1-6-1-6-2-6-1-6-1-7-1-6-1-6-1-6-1-6-1-7-1-6-1-6-1-6-1-6-1-7-1-6 0-6-1-6-1-6-1-6 0-6-1-7-1-6 0-6-1-6 0-6-1-6 0-6-1-7 0-6-1-6 0M818 1046l-6-3-6-2-6-3-7-3-6-2-6-2-6-3-6-2-7-3-6-2-6-2-6-2-6-3-7-2-6-2-6-2-6-2-7-2-6-2-6-2-6-2-6-2-7-2-6-1-6-2-6-2-7-2-6-1-6-2-6-2-6-1-7-2-6-1-6-2-6-1-6-2-7-1-6-2-6-1-6-1-7-2-6-1-6-1-6-1-6-1-7-2-6-1-6-1-6-1-6-1-7-1-6-1-6-1-6-1-6 0-6-1-7-1-6-1-6-1-6 0-6-1-6-1-7 0-6-1-6 0-6-1-6 0-6-1-6 0-7-1-6 0-6-1M824 1041l-6-2-6-3-6-2-6-3-7-2-6-3-6-2-6-3-6-2-7-2-6-2-6-3-6-2-6-2-7-2-6-2-6-2-6-2-7-2-6-2-6-2-6-2-6-2-7-2-6-2-6-1-6-2-7-2-6-2-6-1-6-2-6-1-7-2-6-1-6-2-6-1-7-2-6-1-6-1-6-2-6-1-7-1-6-2-6-1-6-1-6-1-7-1-6-1-6-1-6-1-6-1-7-1-6-1-6-1-6-1-6-1-7-1-6 0-6-1-6-1-6 0-6-1-7-1-6 0-6-1-6-1-6 0-6-1-6 0-7 0-6-1-6 0M831 1037l-7-2-6-3-6-3-6-2-6-3-7-2-6-2-6-3-6-2-6-2-7-3-6-2-6-2-6-2-7-3-6-2-6-2-6-2-6-2-7-2-6-2-6-2-6-1-7-2-6-2-6-2-6-2-6-1-7-2-6-2-6-1-6-2-7-1-6-2-6-1-6-2-6-1-7-2-6-1-6-1-6-1-7-2-6-1-6-1-6-1-6-1-7-2-6-1-6-1-6-1-6-1-7-1-6-1-6 0-6-1-6-1-7-1-6-1-6-1-6 0-6-1-6-1-7 0-6-1-6 0-6-1-6 0-6-1-6 0-7-1-6 0-6-1M837 1033l-6-3-7-2-6-3-6-2-6-3-6-2-7-3-6-2-6-2-6-3-6-2-7-2-6-2-6-3-6-2-7-2-6-2-6-2-6-2-6-2-7-2-6-2-6-2-6-1-7-2-6-2-6-2-6-1-6-2-7-2-6-1-6-2-6-2-7-1-6-2-6-1-6-1-7-2-6-1-6-1-6-2-6-1-7-1-6-1-6-2-6-1-6-1-7-1-6-1-6-1-6-1-6-1-7-1-6-1-6-1-6-1-6 0-7-1-6-1-6-1-6 0-6-1-6-1-7 0-6-1-6 0-6-1-6 0-6-1-7 0-6-1-6 0M843 1029l-6-3-6-2-7-3-6-2-6-3-6-2-6-3-7-2-6-2-6-3-6-2-6-2-7-3-6-2-6-2-6-2-7-2-6-2-6-2-6-2-6-2-7-2-6-2-6-2-6-1-7-2-6-2-6-2-6-1-7-2-6-2-6-1-6-2-6-1-7-2-6-1-6-2-6-1-7-1-6-2-6-1-6-1-6-2-7-1-6-1-6-1-6-1-7-1-6-1-6-1-6-1-6-1-7-1-6-1-6-1-6-1-6-1-7 0-6-1-6-1-6-1-6 0-6-1-7-1-6 0-6-1-6 0-6-1-6 0-7-1-6 0-6 0M849 1025l-6-3-6-2-6-3-7-2-6-3-6-2-6-3-6-2-7-3-6-2-6-2-6-2-6-3-7-2-6-2-6-2-6-2-7-2-6-2-6-2-6-2-7-2-6-2-6-2-6-2-6-1-7-2-6-2-6-1-6-2-7-2-6-1-6-2-6-1-7-2-6-1-6-2-6-1-6-2-7-1-6-1-6-1-6-2-7-1-6-1-6-1-6-1-6-1-7-1-6-1-6-1-6-1-6-1-7-1-6-1-6-1-6-1-6-1-7 0-6-1-6-1-6 0-6-1-7-1-6 0-6-1-6 0-6-1-6 0-6-1-7 0-6-1M856 1021l-7-3-6-2-6-3-6-2-7-3-6-2-6-3-6-2-6-2-7-3-6-2-6-2-6-3-6-2-7-2-6-2-6-2-6-2-7-2-6-2-6-2-6-2-7-2-6-2-6-2-6-1-6-2-7-2-6-1-6-2-6-2-7-1-6-2-6-1-6-2-7-1-6-2-6-1-6-2-7-1-6-1-6-1-6-2-6-1-7-1-6-1-6-1-6-1-7-2-6-1-6-1-6-1-6 0-7-1-6-1-6-1-6-1-6-1-7 0-6-1-6-1-6-1-6 0-6-1-7 0-6-1-6-1-6 0-6-1-6 0-7 0-6-1M862 1017l-6-2-7-3-6-3-6-2-6-3-6-2-7-3-6-2-6-2-6-3-7-2-6-2-6-2-6-3-6-2-7-2-6-2-6-2-6-2-7-2-6-2-6-2-6-2-7-2-6-1-6-2-6-2-7-2-6-1-6-2-6-2-6-1-7-2-6-1-6-2-6-1-7-2-6-1-6-2-6-1-7-1-6-1-6-2-6-1-6-1-7-1-6-1-6-1-6-2-7-1-6-1-6-1-6 0-6-1-7-1-6-1-6-1-6-1-6-1-7 0-6-1-6-1-6 0-6-1-7-1-6 0-6-1-6 0-6-1-6 0-7-1-6 0M868 1013l-6-2-6-3-7-2-6-3-6-2-6-3-6-2-7-3-6-2-6-2-6-3-7-2-6-2-6-2-6-3-6-2-7-2-6-2-6-2-6-2-7-2-6-2-6-2-6-1-7-2-6-2-6-2-6-2-7-1-6-2-6-2-6-1-7-2-6-1-6-2-6-1-6-2-7-1-6-1-6-2-6-1-7-1-6-2-6-1-6-1-7-1-6-1-6-1-6-1-6-1-7-2-6 0-6-1-6-1-7-1-6-1-6-1-6-1-6-1-7 0-6-1-6-1-6 0-6-1-6-1-7 0-6-1-6 0-6-1-6 0-6-1-7 0M874 1010l-6-3-6-2-6-3-7-3-6-2-6-3-6-2-6-2-7-3-6-2-6-2-6-3-7-2-6-2-6-2-6-2-6-2-7-3-6-2-6-2-6-2-7-1-6-2-6-2-6-2-7-2-6-2-6-1-6-2-7-2-6-1-6-2-6-1-7-2-6-2-6-1-6-1-7-2-6-1-6-2-6-1-6-1-7-1-6-2-6-1-6-1-7-1-6-1-6-1-6-1-7-1-6-1-6-1-6-1-6-1-7-1-6-1-6-1-6 0-6-1-7-1-6-1-6 0-6-1-6 0-7-1-6-1-6 0-6-1-6 0-6 0-7-1M880 1006l-6-2-6-3-6-3-6-2-7-3-6-2-6-3-6-2-6-2-7-3-6-2-6-2-6-3-7-2-6-2-6-2-6-2-6-2-7-2-6-2-6-2-6-2-7-2-6-2-6-2-6-1-7-2-6-2-6-2-6-1-7-2-6-2-6-1-6-2-7-1-6-2-6-1-6-2-7-1-6-1-6-2-6-1-7-1-6-1-6-2-6-1-6-1-7-1-6-1-6-1-6-1-7-1-6-1-6-1-6-1-6-1-7-1-6 0-6-1-6-1-6-1-7 0-6-1-6-1-6 0-6-1-7 0-6-1-6 0-6-1-6 0-6-1M887 1003l-7-3-6-3-6-2-6-3-6-2-7-3-6-2-6-3-6-2-6-2-7-3-6-2-6-2-6-2-7-2-6-3-6-2-6-2-7-2-6-2-6-2-6-2-6-2-7-1-6-2-6-2-6-2-7-2-6-1-6-2-6-2-7-1-6-2-6-1-6-2-7-1-6-2-6-1-6-2-7-1-6-1-6-2-6-1-7-1-6-1-6-1-6-2-7-1-6-1-6-1-6-1-6-1-7-1-6-1-6-1-6 0-7-1-6-1-6-1-6-1-6 0-7-1-6-1-6 0-6-1-6-1-7 0-6-1-6 0-6-1-6 0-6-1M893 999l-6-2-6-3-7-3-6-2-6-3-6-2-7-3-6-2-6-2-6-3-6-2-7-2-6-3-6-2-6-2-7-2-6-2-6-2-6-2-7-2-6-2-6-2-6-2-6-2-7-2-6-2-6-1-6-2-7-2-6-1-6-2-6-2-7-1-6-2-6-1-6-2-7-1-6-2-6-1-6-1-7-2-6-1-6-1-6-2-7-1-6-1-6-1-6-1-7-1-6-1-6-1-6-1-6-1-7-1-6-1-6-1-6-1-7-1-6-1-6 0-6-1-6-1-7 0-6-1-6-1-6 0-6-1-7 0-6-1-6 0-6-1-6 0M899 996l-6-3-6-2-6-3-7-2-6-3-6-2-6-3-7-2-6-3-6-2-6-2-6-3-7-2-6-2-6-2-6-2-7-3-6-2-6-2-6-2-7-2-6-2-6-1-6-2-6-2-7-2-6-2-6-2-6-1-7-2-6-2-6-1-6-2-7-1-6-2-6-1-6-2-7-1-6-2-6-1-6-1-7-2-6-1-6-1-6-1-7-2-6-1-6-1-6-1-7-1-6-1-6-1-6-1-7-1-6-1-6-1-6-1-6 0-7-1-6-1-6-1-6 0-6-1-7-1-6 0-6-1-6 0-6-1-7 0-6-1-6 0-6-1M905 993l-6-3-6-3-6-2-6-3-7-2-6-3-6-2-6-3-6-2-7-2-6-3-6-2-6-2-7-2-6-3-6-2-6-2-7-2-6-2-6-2-6-2-7-2-6-2-6-2-6-2-7-1-6-2-6-2-6-2-6-1-7-2-6-2-6-1-6-2-7-1-6-2-6-1-6-2-7-1-6-1-6-2-6-1-7-1-6-2-6-1-6-1-7-1-6-1-6-1-6-1-7-1-6-1-6-1-6-1-7-1-6-1-6-1-6-1-6-1-7 0-6-1-6-1-6-1-7 0-6-1-6 0-6-1-6 0-7-1-6 0-6-1-6 0M912 990l-7-3-6-3-6-2-6-3-6-2-7-3-6-2-6-3-6-2-6-3-7-2-6-2-6-2-6-3-7-2-6-2-6-2-6-2-7-2-6-2-6-2-6-2-7-2-6-2-6-2-6-2-7-1-6-2-6-2-6-2-7-1-6-2-6-1-6-2-7-2-6-1-6-2-6-1-7-1-6-2-6-1-6-1-7-2-6-1-6-1-6-1-7-1-6-2-6-1-6-1-6-1-7-1-6-1-6-1-6-1-7-1-6 0-6-1-6-1-7-1-6-1-6 0-6-1-6-1-7 0-6-1-6 0-6-1-6 0-7-1-6 0-6-1M918 986l-6-2-6-3-7-2-6-3-6-3-6-2-7-3-6-2-6-2-6-3-6-2-7-2-6-3-6-2-6-2-7-2-6-2-6-2-6-2-7-2-6-2-6-2-6-2-7-2-6-2-6-2-6-2-7-1-6-2-6-2-6-1-7-2-6-2-6-1-6-2-7-1-6-2-6-1-6-2-7-1-6-1-6-2-6-1-7-1-6-1-6-2-6-1-7-1-6-1-6-1-6-1-7-1-6-1-6-1-6-1-6-1-7-1-6-1-6 0-6-1-7-1-6-1-6 0-6-1-6-1-7 0-6-1-6 0-6-1-6 0-7-1-6 0M924 983l-6-2-6-3-6-2-7-3-6-3-6-2-6-3-7-2-6-2-6-3-6-2-6-2-7-3-6-2-6-2-6-2-7-2-6-2-6-2-6-2-7-2-6-2-6-2-6-2-7-2-6-2-6-2-6-2-7-1-6-2-6-2-6-1-7-2-6-1-6-2-6-1-7-2-6-1-6-2-6-1-7-1-6-2-6-1-6-1-7-2-6-1-6-1-6-1-7-1-6-1-6-1-6-1-7-1-6-1-6-1-6-1-7-1-6-1-6-1-6 0-6-1-7-1-6-1-6 0-6-1-6 0-7-1-6-1-6 0-6-1-6 0-7-1M930 981l-6-3-6-3-6-2-6-3-7-3-6-2-6-3-6-2-6-2-7-3-6-2-6-2-6-3-7-2-6-2-6-2-6-2-7-2-6-2-6-3-6-1-7-2-6-2-6-2-6-2-7-2-6-2-6-2-6-1-7-2-6-2-6-1-6-2-7-1-6-2-6-2-6-1-7-1-6-2-6-1-6-2-7-1-6-1-6-1-6-2-7-1-6-1-6-1-6-1-7-1-6-1-6-1-6-1-7-1-6-1-6-1-6-1-7-1-6-1-6-1-6 0-6-1-7-1-6 0-6-1-6-1-7 0-6-1-6 0-6-1-6 0-7-1M937 978l-7-3-6-3-6-2-6-3-6-2-7-3-6-2-6-3-6-2-6-3-7-2-6-2-6-2-6-3-7-2-6-2-6-2-6-2-7-2-6-2-6-2-6-2-7-2-6-2-6-2-6-2-7-2-6-2-6-1-6-2-7-2-6-1-6-2-6-1-7-2-6-2-6-1-6-1-7-2-6-1-6-2-6-1-7-1-6-1-6-2-6-1-7-1-6-1-6-1-6-1-7-2-6-1-6-1-6 0-7-1-6-1-6-1-6-1-7-1-6-1-6 0-6-1-6-1-7-1-6 0-6-1-6 0-7-1-6 0-6-1-6 0-6-1M943 975l-6-3-6-2-7-3-6-3-6-2-6-3-7-2-6-3-6-2-6-2-6-3-7-2-6-2-6-3-6-2-7-2-6-2-6-2-6-2-7-2-6-2-6-2-6-2-7-2-6-2-6-2-6-2-7-1-6-2-6-2-6-2-7-1-6-2-6-1-6-2-7-1-6-2-6-1-6-2-7-1-6-2-6-1-6-1-7-1-6-2-6-1-6-1-7-1-6-1-6-1-6-1-7-2-6-1-6 0-6-1-7-1-6-1-6-1-6-1-7-1-6 0-6-1-6-1-7-1-6 0-6-1-6 0-6-1-7-1-6 0-6-1-6 0M949 972l-6-2-6-3-6-3-7-2-6-3-6-2-6-3-6-2-7-3-6-2-6-2-6-3-7-2-6-2-6-3-6-2-7-2-6-2-6-2-6-2-7-2-6-2-6-2-6-2-7-2-6-2-6-1-6-2-7-2-6-2-6-1-6-2-7-2-6-1-6-2-6-1-7-2-6-1-6-2-6-1-7-1-6-2-6-1-6-1-7-2-6-1-6-1-6-1-7-1-6-1-6-1-6-1-7-1-6-1-6-1-6-1-7-1-6-1-6-1-6-1-7 0-6-1-6-1-6-1-7 0-6-1-6 0-6-1-6-1-7 0-6-1-6 0M955 970l-6-3-6-3-6-2-6-3-7-3-6-2-6-3-6-2-6-2-7-3-6-2-6-2-6-3-7-2-6-2-6-2-6-2-7-3-6-2-6-2-6-2-7-2-6-2-6-2-6-1-7-2-6-2-6-2-6-2-7-1-6-2-6-2-6-1-7-2-6-1-6-2-6-2-7-1-6-1-6-2-6-1-7-2-6-1-6-1-6-1-7-2-6-1-6-1-6-1-7-1-6-1-6-1-6-1-7-1-6-1-6-1-6-1-7-1-6-1-6-1-6 0-7-1-6-1-6 0-6-1-7-1-6 0-6-1-6 0-6-1-7 0-6-1M962 967l-7-3-6-2-6-3-6-2-6-3-7-3-6-2-6-3-6-2-6-2-7-3-6-2-6-2-6-3-7-2-6-2-6-2-6-2-7-2-6-2-6-2-6-2-7-2-6-2-6-2-6-2-7-2-6-2-6-1-6-2-7-2-6-1-6-2-6-2-7-1-6-2-6-1-6-2-7-1-6-2-6-1-6-1-7-2-6-1-6-1-6-1-7-2-6-1-6-1-7-1-6-1-6-1-6-1-7-1-6-1-6-1-6-1-7-1-6 0-6-1-6-1-6-1-7-1-6 0-6-1-6-1-7 0-6-1-6 0-6-1-6 0-7-1M968 965l-6-3-6-3-7-2-6-3-6-3-6-2-7-3-6-2-6-2-6-3-6-2-7-3-6-2-6-2-6-2-7-2-6-3-6-2-6-2-7-2-6-2-6-2-6-2-7-2-6-2-6-2-6-1-7-2-6-2-6-2-6-1-7-2-6-2-6-1-6-2-7-1-6-2-6-1-6-2-7-1-6-2-6-1-6-1-7-1-6-2-6-1-6-1-7-1-6-1-6-2-7-1-6-1-6-1-6-1-7-1-6-1-6 0-6-1-7-1-6-1-6-1-6-1-6 0-7-1-6-1-6 0-6-1-7 0-6-1-6-1-6 0-7-1M974 962l-6-2-6-3-6-3-7-2-6-3-6-2-6-3-6-2-7-3-6-2-6-3-6-2-7-2-6-2-6-3-6-2-7-2-6-2-6-2-6-2-6-2-7-2-6-2-6-2-6-2-7-2-6-2-6-2-7-1-6-2-6-2-6-1-7-2-6-2-6-1-6-2-7-1-6-2-6-1-6-2-7-1-6-1-6-2-6-1-7-1-6-2-6-1-7-1-6-1-6-1-6-1-7-1-6-1-6-1-6-1-7-1-6-1-6-1-6-1-7-1-6 0-6-1-6-1-7-1-6 0-6-1-6-1-6 0-7-1-6 0-6-1-6 0M980 960l-6-3-6-2-6-3-6-3-7-2-6-3-6-2-6-3-6-2-7-3-6-2-6-2-6-3-7-2-6-2-6-2-6-2-6-3-7-2-6-2-6-2-6-2-7-2-6-2-6-2-6-1-7-2-6-2-6-2-7-2-6-1-6-2-6-2-7-1-6-2-6-1-6-2-7-1-6-2-6-1-6-2-7-1-6-1-6-2-6-1-7-1-6-1-6-1-7-2-6-1-6-1-6-1-7-1-6-1-6-1-6-1-7-1-6-1-6 0-6-1-7-1-6-1-6-1-6 0-7-1-6-1-6 0-6-1-6 0-7-1-6 0-6-1M987 958l-7-3-6-3-6-2-6-3-6-2-7-3-6-2-6-3-6-2-6-3-7-2-6-3-6-2-6-2-7-2-6-3-6-2-6-2-6-2-7-2-6-2-6-2-6-2-7-2-6-2-6-2-6-2-7-1-6-2-6-2-7-2-6-1-6-2-6-2-7-1-6-2-6-1-6-2-7-1-6-2-6-1-6-1-7-2-6-1-6-1-6-1-7-2-6-1-6-1-7-1-6-1-6-1-6-1-7-1-6-1-6-1-6-1-7-1-6-1-6-1-6-1-7 0-6-1-6-1-6 0-7-1-6-1-6 0-6-1-6 0-7-1-6 0M993 956l-6-3-7-3-6-2-6-3-6-3-6-2-7-3-6-2-6-3-6-2-6-2-7-3-6-2-6-2-6-3-6-2-7-2-6-2-6-2-6-2-7-2-6-2-6-2-6-2-7-2-6-2-6-2-6-2-7-1-6-2-6-2-7-2-6-1-6-2-6-1-7-2-6-2-6-1-6-1-7-2-6-1-6-2-6-1-7-1-6-2-6-1-6-1-7-1-6-1-6-2-7-1-6-1-6-1-6-1-7-1-6-1-6-1-6 0-7-1-6-1-6-1-6-1-7 0-6-1-6-1-6-1-7 0-6-1-6 0-6-1-6 0-7-1M999 954l-6-3-6-3-6-2-7-3-6-3-6-2-6-3-6-2-7-3-6-2-6-2-6-3-7-2-6-2-6-3-6-2-6-2-7-2-6-2-6-2-6-2-7-2-6-2-6-2-6-2-7-2-6-2-6-2-6-2-7-1-6-2-6-2-7-1-6-2-6-2-6-1-7-2-6-1-6-2-6-1-7-2-6-1-6-1-6-2-7-1-6-1-6-1-6-2-7-1-6-1-6-1-7-1-6-1-6-1-6-1-7-1-6-1-6-1-6-1-7-1-6 0-6-1-6-1-7-1-6 0-6-1-6-1-7 0-6-1-6 0-6-1-6 0M1005 952l-6-3-6-3-6-2-6-3-7-3-6-2-6-3-6-2-6-3-7-2-6-2-6-3-6-2-7-2-6-3-6-2-6-2-6-2-7-2-6-2-6-3-6-2-7-2-6-1-6-2-6-2-7-2-6-2-6-2-6-1-7-2-6-2-6-2-6-1-7-2-6-1-6-2-7-1-6-2-6-1-6-2-7-1-6-1-6-2-6-1-7-1-6-2-6-1-7-1-6-1-6-1-6-1-7-1-6-1-6-1-6-1-7-1-6-1-6-1-6-1-7-1-6 0-6-1-6-1-7-1-6 0-6-1-6 0-7-1-6-1-6 0-6-1M1012 950l-7-3-6-3-6-2-6-3-6-3-7-2-6-3-6-2-6-3-6-2-7-2-6-3-6-2-6-2-6-3-7-2-6-2-6-2-6-2-7-2-6-3-6-2-6-2-7-1-6-2-6-2-6-2-7-2-6-2-6-2-6-1-7-2-6-2-6-1-6-2-7-1-6-2-6-1-7-2-6-1-6-2-6-1-7-2-6-1-6-1-6-1-7-2-6-1-6-1-7-1-6-1-6-1-6-1-7-1-6-1-6-1-6-1-7-1-6-1-6-1-6-1-7-1-6 0-6-1-6-1-7 0-6-1-6-1-6 0-7-1-6 0-6-1M1018 948l-6-3-7-3-6-2-6-3-6-2-6-3-7-3-6-2-6-2-6-3-6-2-7-3-6-2-6-2-6-3-6-2-7-2-6-2-6-2-6-2-7-2-6-2-6-2-6-2-7-2-6-2-6-2-6-2-7-2-6-1-6-2-6-2-7-2-6-1-6-2-6-1-7-2-6-1-6-2-7-1-6-2-6-1-6-2-7-1-6-1-6-1-6-2-7-1-6-1-6-1-7-1-6-1-6-2-6-1-7-1-6-1-6 0-6-1-7-1-6-1-6-1-6-1-7 0-6-1-6-1-6-1-7 0-6-1-6 0-6-1-7-1-6 0M1024 946l-6-3-6-2-6-3-7-3-6-2-6-3-6-2-6-3-7-2-6-3-6-2-6-2-7-3-6-2-6-2-6-3-6-2-7-2-6-2-6-2-6-2-7-2-6-2-6-2-6-2-7-2-6-2-6-2-6-2-7-1-6-2-6-2-6-2-7-1-6-2-6-1-6-2-7-1-6-2-6-1-7-2-6-1-6-2-6-1-7-1-6-1-6-2-6-1-7-1-6-1-6-1-7-1-6-2-6-1-6-1-7-1-6 0-6-1-6-1-7-1-6-1-6-1-6-1-7 0-6-1-6-1-6 0-7-1-6-1-6 0-6-1-7 0M1030 945l-6-3-6-3-6-3-6-2-7-3-6-2-6-3-6-3-6-2-7-2-6-3-6-2-6-3-6-2-7-2-6-2-6-3-6-2-7-2-6-2-6-2-6-2-7-2-6-2-6-2-6-2-7-2-6-2-6-1-6-2-7-2-6-2-6-1-6-2-7-2-6-1-6-2-6-1-7-2-6-1-6-2-7-1-6-1-6-2-6-1-7-1-6-2-6-1-6-1-7-1-6-1-6-1-7-1-6-2-6-1-6 0-7-1-6-1-6-1-6-1-7-1-6-1-6-1-6 0-7-1-6-1-6 0-6-1-7-1-6 0-6-1-6 0M1037 943l-7-3-6-3-6-2-6-3-6-3-7-2-6-3-6-2-6-3-6-2-7-2-6-3-6-2-6-3-6-2-7-2-6-2-6-2-6-3-7-2-6-2-6-2-6-2-7-2-6-2-6-2-6-2-7-1-6-2-6-2-6-2-7-1-6-2-6-2-6-1-7-2-6-2-6-1-6-2-7-1-6-1-6-2-7-1-6-2-6-1-6-1-7-1-6-2-6-1-6-1-7-1-6-1-6-1-7-1-6-1-6-1-6-1-7-1-6-1-6-1-6-1-7-1-6 0-6-1-6-1-7-1-6 0-6-1-6-1-7 0-6-1-6 0M1043 941l-6-2-7-3-6-3-6-2-6-3-6-3-7-2-6-3-6-2-6-3-6-2-7-2-6-3-6-2-6-2-6-3-7-2-6-2-6-2-6-2-7-2-6-2-6-2-6-2-7-2-6-2-6-2-6-2-7-2-6-2-6-1-6-2-7-2-6-1-6-2-6-2-7-1-6-2-6-1-6-2-7-1-6-2-6-1-7-1-6-2-6-1-6-1-7-1-6-2-6-1-6-1-7-1-6-1-6-1-7-1-6-1-6-1-6-1-7-1-6-1-6-1-6-1-7 0-6-1-6-1-6-1-7 0-6-1-6 0-6-1-7-1-6 0M1049 940l-6-3-6-3-7-2-6-3-6-3-6-2-6-3-6-2-7-3-6-2-6-3-6-2-7-2-6-3-6-2-6-2-6-2-7-3-6-2-6-2-6-2-7-2-6-2-6-2-6-2-7-2-6-2-6-2-6-1-7-2-6-2-6-2-6-1-7-2-6-2-6-1-6-2-7-1-6-2-6-1-6-2-7-1-6-2-6-1-7-1-6-2-6-1-6-1-7-1-6-2-6-1-6-1-7-1-6-1-6-1-7-1-6-1-6-1-6-1-7-1-6 0-6-1-6-1-7-1-6-1-6 0-6-1-7-1-6 0-6-1-6 0-7-1M1055 939l-6-3-6-3-6-3-7-2-6-3-6-2-6-3-6-3-6-2-7-3-6-2-6-2-6-3-6-2-7-2-6-3-6-2-6-2-7-2-6-2-6-2-6-2-7-2-6-2-6-2-6-2-7-2-6-2-6-2-6-2-7-2-6-1-6-2-6-2-7-1-6-2-6-1-6-2-7-1-6-2-6-1-6-2-7-1-6-2-6-1-7-1-6-2-6-1-6-1-7-1-6-1-6-1-6-1-7-2-6-1-6-1-6-1-7-1-6 0-6-1-7-1-6-1-6-1-6-1-7 0-6-1-6-1-6 0-7-1-6-1-6 0-6-1M1061 937l-6-2-6-3-6-3-6-3-6-2-7-3-6-2-6-3-6-2-6-3-7-2-6-3-6-2-6-2-6-3-7-2-6-2-6-2-6-3-7-2-6-2-6-2-6-2-7-2-6-2-6-2-6-2-7-2-6-1-6-2-6-2-7-2-6-1-6-2-6-2-7-1-6-2-6-1-6-2-7-1-6-2-6-1-6-2-7-1-6-1-6-2-7-1-6-1-6-2-6-1-7-1-6-1-6-1-6-1-7-1-6-1-6-1-6-1-7-1-6-1-6-1-7-1-6 0-6-1-6-1-7-1-6 0-6-1-6-1-7 0-6-1-6 0M1068 936l-7-3-6-2-6-3-6-3-6-2-6-3-7-3-6-2-6-3-6-2-6-3-7-2-6-2-6-3-6-2-6-2-7-2-6-3-6-2-6-2-7-2-6-2-6-2-6-2-7-2-6-2-6-2-6-2-7-2-6-2-6-1-6-2-7-2-6-1-6-2-6-2-7-1-6-2-6-1-6-2-7-1-6-2-6-1-6-2-7-1-6-1-6-2-7-1-6-1-6-1-6-1-7-1-6-2-6-1-6-1-7-1-6-1-6-1-6-1-7 0-6-1-6-1-7-1-6-1-6-1-6 0-7-1-6-1-6 0-6-1-7 0-6-1M1074 935l-6-3-7-3-6-2-6-3-6-3-6-2-6-3-7-2-6-3-6-2-6-3-6-2-7-3-6-2-6-2-6-2-6-3-7-2-6-2-6-2-6-2-7-2-6-2-6-2-6-2-6-2-7-2-6-2-6-2-6-2-7-2-6-1-6-2-7-2-6-1-6-2-6-2-7-1-6-2-6-1-6-2-7-1-6-2-6-1-6-1-7-2-6-1-6-1-7-1-6-2-6-1-6-1-7-1-6-1-6-1-6-1-7-1-6-1-6-1-6-1-7-1-6-1-6 0-7-1-6-1-6-1-6 0-7-1-6-1-6 0-6-1-7-1M1080 934l-6-3-6-3-6-2-7-3-6-3-6-2-6-3-6-2-7-3-6-2-6-3-6-2-6-3-7-2-6-2-6-3-6-2-6-2-7-2-6-2-6-3-6-2-7-2-6-2-6-2-6-2-6-2-7-1-6-2-6-2-6-2-7-2-6-1-6-2-7-2-6-1-6-2-6-2-7-1-6-2-6-1-6-1-7-2-6-1-6-2-6-1-7-1-6-2-6-1-7-1-6-1-6-1-6-1-7-1-6-2-6-1-6-1-7 0-6-1-6-1-6-1-7-1-6-1-6-1-6 0-7-1-6-1-6-1-7 0-6-1-6 0-6-1M1086 933l-6-3-6-3-6-2-6-3-7-3-6-2-6-3-6-2-6-3-7-2-6-3-6-2-6-3-6-2-7-2-6-3-6-2-6-2-6-2-7-3-6-2-6-2-6-2-7-2-6-2-6-2-6-2-6-2-7-1-6-2-6-2-6-2-7-2-6-1-6-2-6-2-7-1-6-2-6-1-7-2-6-1-6-2-6-1-7-2-6-1-6-1-6-1-7-2-6-1-6-1-6-1-7-2-6-1-6-1-7-1-6-1-6-1-6-1-7-1-6-1-6-1-6 0-7-1-6-1-6-1-6-1-7 0-6-1-6-1-6 0-7-1-6 0M1092 932l-6-3-6-3-6-2-6-3-6-3-7-2-6-3-6-2-6-3-6-2-6-3-7-2-6-3-6-2-6-2-6-3-7-2-6-2-6-2-6-3-7-2-6-2-6-2-6-2-6-2-7-2-6-2-6-2-6-1-7-2-6-2-6-2-6-2-7-1-6-2-6-2-6-1-7-2-6-1-6-2-7-1-6-2-6-1-6-2-7-1-6-1-6-2-6-1-7-1-6-1-6-2-6-1-7-1-6-1-6-1-7-1-6-1-6-1-6-1-7-1-6-1-6-1-6-1-7 0-6-1-6-1-6-1-7 0-6-1-6-1-6 0-7-1M1099 931l-7-3-6-2-6-3-6-3-6-3-6-2-7-3-6-2-6-3-6-2-6-3-6-2-7-3-6-2-6-2-6-3-6-2-7-2-6-2-6-3-6-2-7-2-6-2-6-2-6-2-6-2-7-2-6-2-6-2-6-1-7-2-6-2-6-2-6-1-7-2-6-2-6-1-6-2-7-1-6-2-6-1-7-2-6-1-6-2-6-1-7-1-6-2-6-1-6-1-7-2-6-1-6-1-6-1-7-1-6-1-6-1-7-1-6-1-6-1-6-1-7-1-6-1-6-1-6-1-7 0-6-1-6-1-6-1-7 0-6-1-6 0-6-1M1105 930l-6-2-7-3-6-3-6-3-6-2-6-3-6-3-7-2-6-3-6-2-6-3-6-2-6-3-7-2-6-2-6-3-6-2-6-2-7-2-6-2-6-3-6-2-7-2-6-2-6-2-6-2-6-2-7-2-6-1-6-2-6-2-7-2-6-2-6-1-6-2-7-2-6-1-6-2-6-1-7-2-6-1-6-2-7-1-6-2-6-1-6-2-7-1-6-1-6-1-6-2-7-1-6-1-6-1-6-1-7-1-6-1-6-1-7-1-6-1-6-1-6-1-7-1-6-1-6-1-6 0-7-1-6-1-6-1-6 0-7-1-6-1-6 0M1111 930l-6-3-6-3-7-3-6-2-6-3-6-3-6-2-6-3-6-2-7-3-6-2-6-3-6-2-6-3-7-2-6-2-6-3-6-2-6-2-7-2-6-2-6-2-6-3-7-2-6-2-6-2-6-2-6-1-7-2-6-2-6-2-6-2-7-2-6-1-6-2-6-2-7-1-6-2-6-1-6-2-7-1-6-2-6-1-7-2-6-1-6-1-6-2-7-1-6-1-6-2-6-1-7-1-6-1-6-1-6-1-7-1-6-1-6-1-7-1-6-1-6-1-6-1-7-1-6-1-6-1-6 0-7-1-6-1-6 0-6-1-7-1-6 0M1117 929l-6-3-6-3-6-2-7-3-6-3-6-2-6-3-6-3-6-2-6-3-7-2-6-3-6-2-6-2-6-3-7-2-6-2-6-3-6-2-6-2-7-2-6-2-6-2-6-2-7-2-6-2-6-2-6-2-6-2-7-2-6-2-6-2-6-1-7-2-6-2-6-1-6-2-7-2-6-1-6-2-6-1-7-2-6-1-6-2-6-1-7-1-6-2-6-1-7-1-6-2-6-1-6-1-7-1-6-1-6-1-6-1-7-1-6-1-6-1-6-1-7-1-6-1-6-1-7-1-6-1-6 0-6-1-7-1-6 0-6-1-6-1-7 0M1123 929l-6-3-6-3-6-3-6-3-6-2-7-3-6-3-6-2-6-3-6-2-6-3-7-2-6-3-6-2-6-2-6-3-7-2-6-2-6-2-6-3-6-2-7-2-6-2-6-2-6-2-7-2-6-2-6-2-6-2-6-2-7-2-6-1-6-2-6-2-7-2-6-1-6-2-6-1-7-2-6-2-6-1-6-2-7-1-6-1-6-2-6-1-7-2-6-1-6-1-7-1-6-2-6-1-6-1-7-1-6-1-6-1-6-1-7-1-6-1-6-1-6-1-7-1-6-1-6-1-7-1-6 0-6-1-6-1-7 0-6-1-6-1-6 0M1129 928l-6-3-6-3-6-2-6-3-6-3-6-2-7-3-6-3-6-2-6-3-6-2-6-3-7-2-6-3-6-2-6-2-6-3-7-2-6-2-6-2-6-2-6-2-7-3-6-2-6-2-6-2-6-2-7-2-6-1-6-2-6-2-7-2-6-2-6-1-6-2-7-2-6-2-6-1-6-2-7-1-6-2-6-1-6-2-7-1-6-2-6-1-6-1-7-2-6-1-6-1-7-1-6-2-6-1-6-1-7-1-6-1-6-1-6-1-7-1-6-1-6-1-6-1-7-1-6-1-6 0-7-1-6-1-6-1-6 0-7-1-6-1-6 0M1135 928l-6-3-6-3-6-3-6-3-6-2-6-3-6-3-7-2-6-3-6-2-6-3-6-2-6-3-7-2-6-2-6-3-6-2-6-2-7-3-6-2-6-2-6-2-6-2-7-2-6-2-6-2-6-2-6-2-7-2-6-2-6-2-6-2-7-1-6-2-6-2-6-1-7-2-6-2-6-1-6-2-7-1-6-2-6-1-6-2-7-1-6-2-6-1-6-1-7-2-6-1-6-1-7-1-6-1-6-2-6-1-7-1-6-1-6-1-6-1-7-1-6-1-6-1-6-1-7 0-6-1-6-1-6-1-7 0-6-1-6-1-6-1-7 0M1142 927l-6-3-7-2-6-3-6-3-6-3-6-2-6-3-6-3-7-2-6-3-6-2-6-3-6-2-6-2-7-3-6-2-6-2-6-3-6-2-7-2-6-2-6-2-6-3-6-2-7-2-6-2-6-2-6-2-6-2-7-1-6-2-6-2-6-2-7-2-6-1-6-2-6-2-7-1-6-2-6-1-6-2-7-2-6-1-6-1-6-2-7-1-6-2-6-1-6-1-7-1-6-2-6-1-7-1-6-1-6-1-6-1-7-1-6-2-6-1-6 0-7-1-6-1-6-1-6-1-7-1-6-1-6 0-6-1-7-1-6-1-6 0-6-1M1148 927l-6-3-6-3-7-2-6-3-6-3-6-3-6-2-6-3-6-2-7-3-6-2-6-3-6-2-6-3-6-2-7-3-6-2-6-2-6-2-6-3-7-2-6-2-6-2-6-2-6-2-7-2-6-2-6-2-6-2-6-2-7-2-6-2-6-1-6-2-7-2-6-2-6-1-6-2-7-1-6-2-6-2-6-1-7-2-6-1-6-1-6-2-7-1-6-1-6-2-6-1-7-1-6-2-6-1-7-1-6-1-6-1-6-1-7-1-6-1-6-1-6-1-7-1-6-1-6-1-6-1-7 0-6-1-6-1-6-1-7 0-6-1-6-1M1154 927l-6-3-6-3-6-3-7-2-6-3-6-3-6-2-6-3-6-3-6-2-7-3-6-2-6-3-6-2-6-2-6-3-7-2-6-2-6-3-6-2-6-2-7-2-6-2-6-2-6-2-6-2-7-2-6-2-6-2-6-2-6-2-7-2-6-2-6-2-6-1-7-2-6-2-6-1-6-2-7-1-6-2-6-2-6-1-7-1-6-2-6-1-6-2-7-1-6-1-6-2-6-1-7-1-6-1-6-1-6-1-7-2-6-1-6-1-7-1-6-1-6-1-6-1-7 0-6-1-6-1-6-1-7-1-6-1-6 0-6-1-7-1-6 0M1160 927l-6-3-6-3-6-3-6-3-7-2-6-3-6-3-6-2-6-3-6-2-6-3-7-2-6-3-6-2-6-3-6-2-6-2-7-3-6-2-6-2-6-2-6-2-7-3-6-2-6-2-6-2-6-2-7-2-6-2-6-2-6-1-6-2-7-2-6-2-6-2-6-1-7-2-6-2-6-1-6-2-7-1-6-2-6-1-6-2-7-1-6-2-6-1-6-1-7-2-6-1-6-1-6-1-7-2-6-1-6-1-6-1-7-1-6-1-6-1-7-1-6-1-6-1-6-1-7-1-6-1-6-1-6 0-7-1-6-1-6-1-6 0-7-1M1166 927l-6-3-6-3-6-3-6-3-6-2-7-3-6-3-6-2-6-3-6-2-6-3-6-3-7-2-6-2-6-3-6-2-6-2-6-3-7-2-6-2-6-2-6-3-6-2-7-2-6-2-6-2-6-2-6-2-7-2-6-2-6-2-6-2-6-1-7-2-6-2-6-2-6-1-7-2-6-2-6-1-6-2-7-1-6-2-6-1-6-2-7-1-6-1-6-2-6-1-7-1-6-2-6-1-6-1-7-1-6-1-6-1-6-2-7-1-6-1-6-1-7-1-6-1-6 0-6-1-7-1-6-1-6-1-6-1-7 0-6-1-6-1-6 0M1172 927l-6-3-6-3-6-3-6-3-6-2-6-3-7-3-6-2-6-3-6-3-6-2-6-3-6-2-7-2-6-3-6-2-6-3-6-2-6-2-7-2-6-3-6-2-6-2-6-2-7-2-6-2-6-2-6-2-6-2-7-2-6-2-6-2-6-2-6-1-7-2-6-2-6-1-6-2-7-2-6-1-6-2-6-1-7-2-6-1-6-2-6-1-7-2-6-1-6-1-6-2-7-1-6-1-6-1-6-2-7-1-6-1-6-1-6-1-7-1-6-1-6-1-6-1-7-1-6-1-6-1-7 0-6-1-6-1-6-1-7 0-6-1-6-1M1178 927l-6-3-6-3-6-3-6-3-6-2-6-3-6-3-7-2-6-3-6-3-6-2-6-3-6-2-6-2-7-3-6-2-6-3-6-2-6-2-6-2-7-3-6-2-6-2-6-2-6-2-7-2-6-2-6-2-6-2-6-2-7-2-6-2-6-2-6-1-6-2-7-2-6-2-6-1-6-2-7-2-6-1-6-2-6-1-7-2-6-1-6-2-6-1-7-1-6-2-6-1-6-1-7-1-6-2-6-1-6-1-7-1-6-1-6-1-6-1-7-1-6-1-6-1-6-1-7-1-6-1-6-1-6-1-7 0-6-1-6-1-6-1-7 0M1184 927l-6-3-6-3-6-3-6-2-6-3-6-3-6-3-6-2-7-3-6-2-6-3-6-2-6-3-6-2-6-3-7-2-6-3-6-2-6-2-6-2-6-3-7-2-6-2-6-2-6-2-6-2-7-2-6-2-6-2-6-2-6-2-7-2-6-2-6-1-6-2-6-2-7-2-6-1-6-2-6-2-7-1-6-2-6-1-6-2-7-1-6-2-6-1-6-1-7-2-6-1-6-1-6-2-7-1-6-1-6-1-6-1-7-1-6-1-6-2-6-1-7-1-6 0-6-1-6-1-7-1-6-1-6-1-6-1-7 0-6-1-6-1-6-1M1190 927l-6-3-6-3-6-2-6-3-6-3-6-3-6-2-6-3-6-3-7-2-6-3-6-2-6-3-6-2-6-3-6-2-7-2-6-3-6-2-6-2-6-3-6-2-7-2-6-2-6-2-6-2-6-2-7-2-6-2-6-2-6-2-6-2-7-2-6-1-6-2-6-2-7-2-6-1-6-2-6-2-6-1-7-2-6-1-6-2-6-1-7-2-6-1-6-1-6-2-7-1-6-1-6-2-6-1-7-1-6-1-6-1-6-2-7-1-6-1-6-1-6-1-7-1-6-1-6 0-6-1-7-1-6-1-6-1-6-1-7 0-6-1-6-1M1197 928l-7-3-6-3-6-3-6-3-6-3-6-2-6-3-6-3-6-2-6-3-7-3-6-2-6-3-6-2-6-2-6-3-6-2-7-3-6-2-6-2-6-2-6-3-6-2-7-2-6-2-6-2-6-2-6-2-7-2-6-2-6-2-6-2-6-2-7-1-6-2-6-2-6-2-7-1-6-2-6-2-6-1-6-2-7-1-6-2-6-1-6-2-7-1-6-2-6-1-6-1-7-1-6-2-6-1-6-1-7-1-6-1-6-2-6-1-7-1-6-1-6-1-6-1-7-1-6-1-6-1-6 0-7-1-6-1-6-1-6-1-7 0-6-1M1203 928l-6-3-7-3-6-3-6-3-6-2-6-3-6-3-6-2-6-3-6-3-6-2-7-3-6-2-6-3-6-2-6-3-6-2-6-2-7-3-6-2-6-2-6-2-6-2-6-3-7-2-6-2-6-2-6-2-6-2-7-2-6-2-6-2-6-1-6-2-7-2-6-2-6-2-6-1-7-2-6-2-6-1-6-2-6-1-7-2-6-1-6-2-6-1-7-1-6-2-6-1-6-1-7-2-6-1-6-1-6-1-7-1-6-2-6-1-6-1-7-1-6-1-6-1-6-1-7-1-6-1-6 0-6-1-7-1-6-1-6-1-6 0-7-1M1209 928l-6-3-6-2-7-3-6-3-6-3-6-3-6-2-6-3-6-3-6-2-6-3-6-2-7-3-6-2-6-3-6-2-6-3-6-2-6-2-7-3-6-2-6-2-6-2-6-2-6-2-7-3-6-2-6-2-6-2-6-2-7-1-6-2-6-2-6-2-6-2-7-2-6-1-6-2-6-2-7-1-6-2-6-2-6-1-6-2-7-1-6-2-6-1-6-1-7-2-6-1-6-1-6-2-7-1-6-1-6-1-6-1-7-2-6-1-6-1-6-1-7-1-6-1-6-1-6-1-7-1-6 0-6-1-6-1-7-1-6-1-6 0-6-1M1215 929l-6-3-6-3-7-3-6-3-6-2-6-3-6-3-6-3-6-2-6-3-6-2-6-3-6-3-7-2-6-2-6-3-6-2-6-3-6-2-6-2-7-2-6-3-6-2-6-2-6-2-6-2-7-2-6-2-6-2-6-2-6-2-7-2-6-2-6-2-6-2-6-1-7-2-6-2-6-1-6-2-7-2-6-1-6-2-6-1-6-2-7-1-6-2-6-1-6-2-7-1-6-1-6-1-6-2-7-1-6-1-6-1-6-1-7-2-6-1-6-1-6-1-7-1-6-1-6-1-6-1-7 0-6-1-6-1-6-1-7-1-6 0-6-1"/>
<line x1="768.7" y1="1083.5" x2="768.4" y2="1098.2" stroke="#333" stroke-width="1.5"/>
<ellipse cx="769.2" cy="794.2" rx="8" ry="5" fill="#ff0000" stroke="#600" stroke-width=".8"/>
<ellipse cx="769.2" cy="845.3" rx="8" ry="5" fill="#ff0000" stroke="#600" stroke-width=".8"/>
<ellipse cx="1214.4" cy="924.6" rx="8" ry="5" fill="#ff0000" stroke="#600" stroke-width=".8"/>
<ellipse cx="326.6" cy="998.5" rx="8" ry="5" fill="#ffb0b0" stroke="#600" stroke-width=".8"/>
<ellipse cx="768.4" cy="1098.2" rx="8" ry="5" fill="#ffb0b0" stroke="#600" stroke-width=".8"/>
<g font-family="'Liberation Serif', 'Times New Roman', serif" font-weight="bold"><text x="317.1" y="1076.8" font-size="28.8" text-anchor="end">80</text><text x="312.8" y="1016.8" font-size="28.8" text-anchor="end">85</text><text x="308.6" y="956.9" font-size="28.8" text-anchor="end">90</text><text x="304.3" y="896.9" font-size="28.8" text-anchor="end">95</text><text x="300.1" y="837" font-size="28.8" text-anchor="end">100</text><text x="295.8" y="777" font-size="28.8" text-anchor="end">105</text><text x="782.8" y="1337.5" font-size="28.8" textLength="64.5" lengthAdjust="spacingAndGlyphs">30.00</text><text x="868.4" y="1310" font-size="28.8" textLength="64.5" lengthAdjust="spacingAndGlyphs">32.00</text><text x="954" y="1282.6" font-size="28.8" textLength="64.5" lengthAdjust="spacingAndGlyphs">34.00</text><text x="1039.7" y="1255.1" font-size="28.8" textLength="64.5" lengthAdjust="spacingAndGlyphs">36.00</text><text x="1125.3" y="1227.7" font-size="28.8" textLength="64.5" lengthAdjust="spacingAndGlyphs">38.00</text><text x="1210.9" y="1200.2" font-size="28.8" textLength="64.5" lengthAdjust="spacingAndGlyphs">40.00</text><text x="755" y="1337.1" font-size="28.8" text-anchor="end" textLength="64.5" lengthAdjust="spacingAndGlyphs">40.00</text><text x="647.6" y="1302.9" font-size="28.8" text-anchor="end" textLength="64.5" lengthAdjust="spacingAndGlyphs">45.00</text><text x="540.2" y="1268.7" font-size="28.8" text-anchor="end" textLength="64.5" lengthAdjust="spacingAndGlyphs">50.00</text><text x="432.7" y="1234.5" font-size="28.8" text-anchor="end" textLength="64.5" lengthAdjust="spacingAndGlyphs">55.00</text><text x="325.3" y="1200.3" font-size="28.8" text-anchor="end" textLength="64.5" lengthAdjust="spacingAndGlyphs">60.00</text></g>
<text x="28.5" y="804.2" font-size="75.5">E</text>
<text x="147.7" y="1320.8" font-size="40.7" textLength="479.8" lengthAdjust="spacingAndGlyphs" stroke="#000" stroke-width="1.1">D:Solvent-solid radio(mL/g)</text>
<text x="960.3" y="1320.4" font-size="40.7" textLength="375.1" lengthAdjust="spacingAndGlyphs" stroke="#000" stroke-width="1.1">B:Extraction temp(<tspan font-family="'Noto Sans CJK SC', 'Noto Sans CJK JP', sans-serif">℃</tspan>)</text>
<text x="0" y="0" font-size="44.8" stroke="#000" stroke-width="1.1" textLength="279" lengthAdjust="spacingAndGlyphs" transform="translate(189.2 1124.2) rotate(-90)">Phlorizin(mg/g)</text>
<path d="M339.1 1787.6L761.1 1698.2 1184.2 1787.1M335 1728.7L761.2 1643.6 1188.4 1728.3M331 1669.8L761.2 1589 1192.6 1669.5M326.9 1610.9L761.3 1534.4 1196.8 1610.7M322.9 1552L761.3 1479.8 1201 1551.9M318.8 1493.1L761.3 1425.2 1205.2 1493M345.5 1880.5L318.8 1493.1M444.6 1765.2L429.5 1476.1M550.1 1742.9L540.1 1459.2M655.6 1720.5L650.7 1442.2M761.1 1784.4L761.3 1425.2M1177.6 1880L1205.2 1493M1078.5 1764.9L1094.2 1476.1M972.7 1742.7L983.3 1459.1M866.9 1720.4L872.3 1442.2M761.1 1784.4L761.3 1425.2" fill="none" stroke="#3a3a3a" stroke-width="1.7"/>
<path d="M761 2014.6L1177.6 1880 761.1 1784.4 345.5 1880.5Z" fill="#ffff00" stroke="#222" stroke-width="1.5"/>
<path d="M361.8 1884.4L353.3 1879.8" fill="none" stroke="#2090d0" stroke-width="1.8"/>
<path d="M935.1 1956.7L927.8 1957.2 920.4 1957.6 912.9 1957.9 905.3 1958.1 897.6 1958.2 889.8 1958.3 881.9 1958.3 873.9 1958.2 865.9 1958 857.8 1957.7 849.6 1957.3 841.3 1956.9 833.1 1956.3 824.7 1955.7 816.3 1955 807.9 1954.2 799.5 1953.4 791 1952.4 782.5 1951.4 774 1950.3 765.5 1949.1 757 1947.9 748.5 1946.5 740 1945.1 731.5 1943.6 723.1 1942.1 714.7 1940.4 706.3 1938.7 697.9 1937 689.6 1935.2 681.4 1933.3 673.2 1931.3 665.1 1929.3 657 1927.2 649 1925.1 641.1 1922.9 633.3 1920.7 625.6 1918.4 618 1916.1 610.4 1913.7 603 1911.3 595.7 1908.9 588.5 1906.4 581.4 1903.9 574.5 1901.3 567.7 1898.7 561 1896.1 554.5 1893.5 548.1 1890.8 541.8 1888.1 535.7 1885.4 529.8 1882.7 524 1880 518.4 1877.3 513 1874.5 507.7 1871.8 502.6 1869 497.7 1866.2 493 1863.5 488.5 1860.7 484.2 1858 480 1855.3 476.1 1852.5" fill="none" stroke="#00e000" stroke-width="2.0"/>
<path d="M1068.6 1855.6L1071.4 1858.1 1074 1860.7 1076.4 1863.2 1078.6 1865.7 1080.6 1868.3 1082.3 1870.8 1083.9 1873.4 1085.2 1875.9 1086.3 1878.5 1087.1 1881 1087.8 1883.6 1088.2 1886.1 1088.4 1888.6 1088.4 1891.1 1088.1 1893.6 1087.6 1896.1 1086.9 1898.5 1086 1901 1084.9 1903.4 1083.5 1905.8 1081.9 1908.1 1080.1 1910.4" fill="none" stroke="#00e000" stroke-width="2.0"/>
<path d="M865.2 1980.9l0 0M969.3 1947.3l0 0M1073.5 1913.6l0 0M657.1 1981.1l0 0M553.2 1947.6l0 0M449.3 1914l0 0M339.1 1787.6l0 0M335 1728.7l0 0M331 1669.8l0 0M326.9 1610.9l0 0M322.9 1552l0 0M318.8 1493.1l0 0" stroke="#000" stroke-width="4" stroke-linecap="round"/>
<path fill="#101010" stroke="#101010" stroke-width="2.2" stroke-linejoin="round" d="M332 1672 334 1670 338 1667 340 1665 344 1663 346 1660 350 1658 352 1656 356 1653 358 1651 362 1649 364 1646 368 1644 370 1642 374 1640 376 1638 380 1636 382 1634 386 1632 388 1629 392 1628 394 1625 398 1624 400 1622 404 1620 406 1618 410 1616 412 1614 416 1612 418 1610 422 1609 424 1607 428 1605 430 1603 434 1601 436 1600 440 1598 442 1596 446 1595 448 1593 452 1592 454 1590 458 1588 460 1587 464 1585 466 1584 470 1582 472 1581 476 1579 478 1578 482 1577 484 1575 488 1574 490 1573 494 1571 496 1570 500 1569 502 1567 506 1566 508 1565 512 1564 514 1562 518 1561 520 1560 524 1559 526 1558 530 1557 532 1556 536 1555 538 1554 542 1552 544 1551 548 1551 550 1549 554 1549 556 1548 560 1547 562 1546 566 1545 568 1544 572 1543 574 1542 578 1542 580 1541 584 1540 586 1539 590 1538 592 1538 596 1537 598 1536 602 1536 604 1535 608 1534 610 1534 614 1533 616 1532 620 1532 622 1531 626 1531 628 1530 632 1530 634 1529 638 1529 640 1528 644 1528 646 1527 650 1527 652 1527 656 1526 658 1526 662 1526 664 1525 668 1525 670 1525 674 1524 676 1524 680 1524 682 1524 686 1523 688 1523 692 1523 694 1523 698 1523 700 1523 704 1522 706 1522 710 1522 712 1522 716 1522 718 1522 722 1522 724 1522 728 1522 730 1522 734 1522 736 1522 740 1522 742 1522 746 1522 748 1522 752 1522 754 1523 758 1523 760 1523 764 1523 766 1523 770 1524 772 1524 776 1524 778 1524 782 1525 784 1525 788 1525 790 1526 794 1526 796 1526 800 1527 802 1527 806 1527 808 1528 812 1528 814 1529 818 1529 820 1529 824 1530 826 1530 830 1531 832 1531 836 1531 838 1532 842 1532 844 1533 848 1533 850 1534 854 1534 856 1535 860 1535 862 1536 866 1536 868 1536 872 1537 874 1537 878 1538 880 1539 884 1539 886 1540 890 1540 892 1541 896 1541 898 1542 902 1542 904 1543 908 1544 910 1544 914 1545 916 1545 920 1546 922 1547 926 1547 928 1548 932 1549 934 1549 938 1550 940 1550 944 1551 946 1552 950 1553 952 1553 956 1554 958 1555 962 1555 964 1556 968 1557 970 1557 974 1558 976 1559 980 1560 982 1561 986 1561 988 1562 992 1563 994 1564 998 1565 1000 1565 1004 1566 1006 1567 1010 1568 1012 1569 1016 1569 1018 1570 1022 1571 1024 1572 1028 1573 1030 1574 1034 1575 1036 1576 1040 1577 1042 1577 1046 1578 1048 1579 1052 1580 1054 1581 1058 1582 1060 1583 1064 1584 1066 1585 1070 1586 1072 1587 1076 1588 1078 1589 1082 1590 1084 1591 1088 1592 1090 1593 1094 1594 1096 1595 1100 1596 1102 1598 1106 1599 1108 1600 1112 1601 1114 1602 1118 1603 1120 1604 1124 1605 1126 1606 1130 1608 1132 1609 1136 1610 1138 1611 1142 1612 1144 1614 1148 1615 1150 1616 1154 1617 1156 1618 1160 1620 1162 1621 1166 1622 1168 1623 1172 1625 1174 1626 1178 1627 1180 1629 1184 1630 1186 1631 1190 1633 1192 1634 1196 1635 1196 1635 1196 1635 1196 1635 1192 1635 1190 1635 1186 1635 1184 1634 1180 1634 1178 1634 1174 1634 1172 1634 1168 1633 1166 1633 1162 1633 1160 1633 1156 1633 1154 1633 1150 1633 1148 1633 1144 1633 1142 1633 1138 1633 1136 1633 1132 1633 1130 1633 1126 1633 1124 1634 1120 1634 1118 1634 1114 1634 1112 1634 1108 1635 1106 1635 1102 1635 1100 1635 1096 1636 1094 1636 1090 1636 1088 1637 1084 1637 1082 1637 1078 1638 1076 1638 1072 1639 1070 1639 1066 1640 1064 1640 1060 1641 1058 1641 1054 1642 1052 1642 1048 1643 1046 1644 1042 1644 1040 1645 1036 1645 1034 1646 1030 1647 1028 1648 1024 1648 1022 1649 1018 1650 1016 1651 1012 1651 1010 1652 1006 1653 1004 1654 1000 1655 998 1656 994 1657 992 1658 988 1658 986 1659 982 1660 980 1661 976 1662 974 1663 970 1665 968 1666 964 1667 962 1668 958 1669 956 1670 952 1671 950 1672 946 1674 944 1675 940 1676 938 1677 934 1679 932 1680 928 1681 926 1683 922 1684 920 1685 916 1687 914 1688 910 1690 908 1691 904 1693 902 1694 898 1696 896 1697 892 1699 890 1700 886 1702 884 1704 880 1705 878 1707 874 1709 872 1710 868 1712 866 1714 862 1716 860 1717 856 1719 854 1721 850 1723 848 1725 844 1726 842 1728 838 1730 836 1732 832 1734 830 1736 826 1738 824 1740 820 1742 818 1744 814 1747 812 1749 808 1751 806 1753 802 1755 800 1757 796 1760 794 1762 790 1764 788 1766 784 1769 782 1771 778 1773 776 1776 772 1778 770 1780 766 1783 764 1785 760 1785 758 1785 754 1784 752 1782 748 1781 746 1780 742 1778 740 1777 736 1776 734 1774 730 1773 728 1772 724 1770 722 1769 718 1768 716 1767 712 1765 710 1764 706 1763 704 1762 700 1760 698 1759 694 1758 692 1757 688 1756 686 1755 682 1753 680 1752 676 1751 674 1750 670 1749 668 1748 664 1747 662 1746 658 1745 656 1744 652 1742 650 1741 646 1740 644 1739 640 1738 638 1737 634 1736 632 1735 628 1734 626 1733 622 1732 620 1731 616 1730 614 1729 610 1728 608 1728 604 1727 602 1726 598 1725 596 1724 592 1723 590 1722 586 1721 584 1720 580 1719 578 1719 574 1718 572 1717 568 1716 566 1715 562 1714 560 1714 556 1713 554 1712 550 1711 548 1710 544 1710 542 1709 538 1708 536 1707 532 1707 530 1706 526 1705 524 1704 520 1704 518 1703 514 1702 512 1702 508 1701 506 1700 502 1700 500 1699 496 1698 494 1698 490 1697 488 1696 484 1696 482 1695 478 1694 476 1694 472 1693 470 1693 466 1692 464 1692 460 1691 458 1690 454 1690 452 1689 448 1689 446 1688 442 1688 440 1687 436 1687 434 1686 430 1686 428 1685 424 1685 422 1684 418 1684 416 1683 412 1683 410 1683 406 1682 404 1682 400 1681 398 1681 394 1680 392 1680 388 1680 386 1679 382 1679 380 1679 376 1678 374 1678 370 1677 368 1677 364 1677 362 1676 358 1676 356 1676 352 1675 350 1675 346 1675 344 1675 340 1674 338 1674 334 1674 332 1674Z"/><g><path fill="#000000" d="M761 1523l12 1-12-1-12-1z"/><path fill="#000000" d="M749 1523l12 0-12-1-12 0z"/><path fill="#000000" d="M773 1524l13 1-13-1-12-1z"/><path fill="#000000" d="M737 1523l12 0-12-1-12 0z"/><path fill="#000000" d="M761 1524l12 0-12-1-12 0z"/><path fill="#000000" d="M786 1526l12 0-12-1-13-1z"/><path fill="#0b0700" d="M725 1523l12 0-12-1-12 0z"/><path fill="#020200" d="M749 1524l12 0-12-1-12 0z"/><path fill="#000000" d="M773 1525l13 1-13-2-12 0z"/><path fill="#000000" d="M798 1527l12 1-12-2-12 0z"/><path fill="#1d1300" d="M713 1523l12 0-12-1-12 0z"/><path fill="#110c00" d="M737 1524l12 0-12-1-12 0z"/><path fill="#070500" d="M761 1525l12 0-12-1-12 0z"/><path fill="#000000" d="M786 1527l12 0-12-1-13-1z"/><path fill="#000000" d="M810 1529l12 0-12-1-12-1z"/><path fill="#2f1e00" d="M701 1524l12-1-12-1-12 1z"/><path fill="#241700" d="M725 1524l12 0-12-1-12 0z"/><path fill="#181000" d="M749 1525l12 0-12-1-12 0z"/><path fill="#0d0900" d="M774 1527l12 0-13-2-12 0z"/><path fill="#040300" d="M798 1528l12 1-12-2-12 0z"/><path fill="#000000" d="M822 1530l12 1-12-2-12 0z"/><path fill="#402800" d="M689 1525l12-1-12-1-13 1z"/><path fill="#362200" d="M713 1525l12-1-12-1-12 1z"/><path fill="#2b1b00" d="M737 1526l12-1-12-1-12 0z"/><path fill="#1f1400" d="M761 1527l13 0-13-2-12 0z"/><path fill="#140d00" d="M786 1528l12 0-12-1-12 0z"/><path fill="#090700" d="M810 1530l12 0-12-1-12-1z"/><path fill="#020100" d="M834 1532l12 1-12-2-12-1z"/><path fill="#4f3000" d="M676 1526l13-1-13-1-12 1z"/><path fill="#462a00" d="M701 1526l12-1-12-1-12 1z"/><path fill="#3c2500" d="M725 1526l12 0-12-2-12 1z"/><path fill="#321f00" d="M749 1527l12 0-12-2-12 1z"/><path fill="#271900" d="M774 1528l12 0-12-1-13 0z"/><path fill="#1b1200" d="M798 1530l12 0-12-2-12 0z"/><path fill="#100b00" d="M822 1532l12 0-12-2-12 0z"/><path fill="#060500" d="M846 1534l12 1-12-2-12-1z"/><path fill="#5c3700" d="M664 1528l12-2-12-1-12 1z"/><path fill="#543200" d="M689 1527l12-1-12-1-13 1z"/><path fill="#4c2d00" d="M713 1527l12-1-12-1-12 1z"/><path fill="#422800" d="M737 1528l12-1-12-1-12 0z"/><path fill="#382200" d="M761 1529l13-1-13-1-12 0z"/><path fill="#2e1d00" d="M786 1530l12 0-12-2-12 0z"/><path fill="#221700" d="M810 1532l12 0-12-2-12 0z"/><path fill="#171000" d="M834 1534l12 0-12-2-12 0z"/><path fill="#0c0900" d="M858 1536l12 1-12-2-12-1z"/><path fill="#683d00" d="M652 1529l12-1-12-2-12 2z"/><path fill="#613800" d="M676 1529l13-2-13-1-12 2z"/><path fill="#593300" d="M701 1528l12-1-12-1-12 1z"/><path fill="#512f00" d="M725 1529l12-1-12-2-12 1z"/><path fill="#482a00" d="M749 1529l12 0-12-2-12 1z"/><path fill="#3f2600" d="M774 1530l12 0-12-2-13 1z"/><path fill="#352100" d="M798 1532l12 0-12-2-12 0z"/><path fill="#2a1b00" d="M822 1533l12 1-12-2-12 0z"/><path fill="#1f1500" d="M846 1536l12 0-12-2-12 0z"/><path fill="#130e00" d="M871 1538l12 1-13-2-12-1z"/><path fill="#724300" d="M640 1531l12-2-12-1-12 2z"/><path fill="#6c3e00" d="M664 1530l12-1-12-1-12 1z"/><path fill="#653900" d="M689 1530l12-2-12-1-13 2z"/><path fill="#5e3500" d="M713 1530l12-1-12-2-12 1z"/><path fill="#563100" d="M737 1530l12-1-12-1-12 1z"/><path fill="#4e2d00" d="M761 1531l13-1-13-1-12 0z"/><path fill="#452900" d="M786 1532l12 0-12-2-12 0z"/><path fill="#3b2500" d="M810 1533l12 0-12-1-12 0z"/><path fill="#312000" d="M834 1535l12 1-12-2-12-1z"/><path fill="#261a00" d="M858 1538l13 0-13-2-12 0z"/><path fill="#1b1400" d="M883 1540l12 1-12-2-12-1z"/><path fill="#7b4800" d="M628 1534l12-3-12-1-12 3z"/><path fill="#764300" d="M652 1532l12-2-12-1-12 2z"/><path fill="#703e00" d="M676 1532l13-2-13-1-12 1z"/><path fill="#6a3a00" d="M701 1531l12-1-12-2-12 2z"/><path fill="#633600" d="M725 1531l12-1-12-1-12 1z"/><path fill="#5b3300" d="M749 1532l12-1-12-2-12 1z"/><path fill="#532f00" d="M774 1533l12-1-12-2-13 1z"/><path fill="#4b2c00" d="M798 1534l12-1-12-1-12 0z"/><path fill="#422800" d="M822 1535l12 0-12-2-12 0z"/><path fill="#382400" d="M846 1537l12 1-12-2-12-1z"/><path fill="#2d1f00" d="M871 1540l12 0-12-2-13 0z"/><path fill="#221a00" d="M895 1543l12 0-12-2-12-1z"/><path fill="#834e00" d="M616 1536l12-2-12-1-12 2z"/><path fill="#7e4800" d="M640 1535l12-3-12-1-12 3z"/><path fill="#794300" d="M664 1534l12-2-12-2-12 2z"/><path fill="#743e00" d="M689 1533l12-2-12-1-13 2z"/><path fill="#6e3b00" d="M713 1533l12-2-12-1-12 1z"/><path fill="#673700" d="M737 1533l12-1-12-2-12 1z"/><path fill="#603400" d="M761 1533l13 0-13-2-12 1z"/><path fill="#593200" d="M786 1534l12 0-12-2-12 1z"/><path fill="#502f00" d="M810 1536l12-1-12-2-12 1z"/><path fill="#482c00" d="M834 1537l12 0-12-2-12 0z"/><path fill="#3e2900" d="M859 1540l12 0-13-2-12-1z"/><path fill="#342400" d="M883 1542l12 1-12-3-12 0z"/><path fill="#2a2000" d="M907 1545l12 1-12-3-12 0z"/><path fill="#8a5300" d="M604 1539l12-3-12-1-12 3z"/><path fill="#864d00" d="M628 1537l12-2-12-1-12 2z"/><path fill="#814700" d="M652 1536l12-2-12-2-12 3z"/><path fill="#7c4200" d="M676 1535l13-2-13-1-12 2z"/><path fill="#773f00" d="M701 1534l12-1-12-2-12 2z"/><path fill="#713b00" d="M725 1534l12-1-12-2-12 2z"/><path fill="#6b3900" d="M749 1535l12-2-12-1-12 1z"/><path fill="#653600" d="M774 1535l12-1-12-1-13 0z"/><path fill="#5e3400" d="M798 1536l12 0-12-2-12 0z"/><path fill="#563200" d="M822 1538l12-1-12-2-12 1z"/><path fill="#4e3000" d="M846 1540l13 0-13-3-12 0z"/><path fill="#452d00" d="M871 1542l12 0-12-2-12 0z"/><path fill="#3b2a00" d="M895 1545l12 0-12-2-12-1z"/><path fill="#312500" d="M919 1548l12 0-12-2-12-1z"/><path fill="#915900" d="M592 1542l12-3-12-1-12 3z"/><path fill="#8d5200" d="M616 1540l12-3-12-1-12 3z"/><path fill="#894c00" d="M640 1538l12-2-12-1-12 2z"/><path fill="#844700" d="M664 1537l12-2-12-1-12 2z"/><path fill="#804200" d="M689 1536l12-2-12-1-13 2z"/><path fill="#7b3f00" d="M713 1536l12-2-12-1-12 1z"/><path fill="#753c00" d="M737 1536l12-1-12-2-12 1z"/><path fill="#6f3a00" d="M762 1536l12-1-13-2-12 2z"/><path fill="#693800" d="M786 1537l12-1-12-2-12 1z"/><path fill="#623600" d="M810 1538l12 0-12-2-12 0z"/><path fill="#5b3500" d="M834 1540l12 0-12-3-12 1z"/><path fill="#533300" d="M859 1542l12 0-12-2-13 0z"/><path fill="#4b3100" d="M883 1544l12 1-12-3-12 0z"/><path fill="#422f00" d="M907 1547l12 1-12-3-12 0z"/><path fill="#382b00" d="M931 1550l12 1-12-3-12 0z"/><path fill="#965f00" d="M580 1545l12-3-12-1-13 3z"/><path fill="#935700" d="M604 1543l12-3-12-1-12 3z"/><path fill="#8f5100" d="M628 1541l12-3-12-1-12 3z"/><path fill="#8b4b00" d="M652 1540l12-3-12-1-12 2z"/><path fill="#874600" d="M676 1539l13-3-13-1-12 2z"/><path fill="#834200" d="M701 1538l12-2-12-2-12 2z"/><path fill="#7e3f00" d="M725 1538l12-2-12-2-12 2z"/><path fill="#793d00" d="M749 1538l13-2-13-1-12 1z"/><path fill="#733b00" d="M774 1538l12-1-12-2-12 1z"/><path fill="#6d3a00" d="M798 1539l12-1-12-2-12 1z"/><path fill="#673900" d="M822 1541l12-1-12-2-12 0z"/><path fill="#603800" d="M847 1542l12 0-13-2-12 0z"/><path fill="#583700" d="M871 1544l12 0-12-2-12 0z"/><path fill="#503500" d="M895 1547l12 0-12-2-12-1z"/><path fill="#483400" d="M919 1550l12 0-12-2-12-1z"/><path fill="#3f3100" d="M943 1553l12 1-12-3-12-1z"/><path fill="#9b6600" d="M567 1549l13-4-13-1-12 4z"/><path fill="#985d00" d="M592 1547l12-4-12-1-12 3z"/><path fill="#955600" d="M616 1544l12-3-12-1-12 3z"/><path fill="#925000" d="M640 1543l12-3-12-2-12 3z"/><path fill="#8e4a00" d="M664 1541l12-2-12-2-12 3z"/><path fill="#8a4600" d="M689 1540l12-2-12-2-13 3z"/><path fill="#854200" d="M713 1540l12-2-12-2-12 2z"/><path fill="#814000" d="M737 1540l12-2-12-2-12 2z"/><path fill="#7c3e00" d="M762 1540l12-2-12-2-13 2z"/><path fill="#773d00" d="M786 1540l12-1-12-2-12 1z"/><path fill="#713c00" d="M810 1541l12 0-12-3-12 1z"/><path fill="#6b3b00" d="M834 1543l13-1-13-2-12 1z"/><path fill="#643b00" d="M859 1545l12-1-12-2-12 0z"/><path fill="#5d3a00" d="M883 1547l12 0-12-3-12 0z"/><path fill="#563a00" d="M907 1550l12 0-12-3-12 0z"/><path fill="#4e3900" d="M931 1553l12 0-12-3-12 0z"/><path fill="#453700" d="M955 1556l12 1-12-3-12-1z"/><path fill="#a06d00" d="M555 1553l12-4-12-1-12 4z"/><path fill="#9d6400" d="M580 1550l12-3-12-2-13 4z"/><path fill="#9a5c00" d="M604 1548l12-4-12-1-12 4z"/><path fill="#975400" d="M628 1546l12-3-12-2-12 3z"/><path fill="#944f00" d="M652 1544l12-3-12-1-12 3z"/><path fill="#904a00" d="M676 1543l13-3-13-1-12 2z"/><path fill="#8c4500" d="M701 1542l12-2-12-2-12 2z"/><path fill="#884200" d="M725 1541l12-1-12-2-12 2z"/><path fill="#844000" d="M749 1541l13-1-13-2-12 2z"/><path fill="#7f3f00" d="M774 1542l12-2-12-2-12 2z"/><path fill="#7a3e00" d="M798 1543l12-2-12-2-12 1z"/><path fill="#753e00" d="M822 1544l12-1-12-2-12 0z"/><path fill="#6f3e00" d="M847 1545l12 0-12-3-13 1z"/><path fill="#693e00" d="M871 1547l12 0-12-3-12 1z"/><path fill="#623e00" d="M895 1550l12 0-12-3-12 0z"/><path fill="#5b3e00" d="M919 1552l12 1-12-3-12 0z"/><path fill="#533e00" d="M943 1556l12 0-12-3-12 0z"/><path fill="#4b3d00" d="M968 1559l12 1-13-3-12-1z"/><path fill="#a47600" d="M543 1557l12-4-12-1-12 4z"/><path fill="#a26b00" d="M568 1554l12-4-13-1-12 4z"/><path fill="#9f6200" d="M592 1551l12-3-12-1-12 3z"/><path fill="#9c5a00" d="M616 1549l12-3-12-2-12 4z"/><path fill="#995300" d="M640 1547l12-3-12-1-12 3z"/><path fill="#964e00" d="M664 1546l12-3-12-2-12 3z"/><path fill="#934900" d="M689 1544l12-2-12-2-13 3z"/><path fill="#8f4500" d="M713 1544l12-3-12-1-12 2z"/><path fill="#8b4200" d="M737 1543l12-2-12-1-12 1z"/><path fill="#874000" d="M762 1543l12-1-12-2-13 1z"/><path fill="#824000" d="M786 1544l12-1-12-3-12 2z"/><path fill="#7e4000" d="M810 1545l12-1-12-3-12 2z"/><path fill="#784000" d="M834 1546l13-1-13-2-12 1z"/><path fill="#734100" d="M859 1548l12-1-12-2-12 0z"/><path fill="#6d4100" d="M883 1550l12 0-12-3-12 0z"/><path fill="#674200" d="M907 1552l12 0-12-2-12 0z"/><path fill="#604300" d="M931 1555l12 1-12-3-12-1z"/><path fill="#594300" d="M956 1559l12 0-13-3-12 0z"/><path fill="#514400" d="M980 1562l12 1-12-3-12-1z"/><path fill="#a88000" d="M531 1562l12-5-12-1-12 5z"/><path fill="#a67300" d="M555 1558l13-4-13-1-12 4z"/><path fill="#a36900" d="M580 1555l12-4-12-1-12 4z"/><path fill="#a16000" d="M604 1553l12-4-12-1-12 3z"/><path fill="#9e5800" d="M628 1551l12-4-12-1-12 3z"/><path fill="#9b5200" d="M652 1549l12-3-12-2-12 3z"/><path fill="#984d00" d="M677 1547l12-3-13-1-12 3z"/><path fill="#954800" d="M701 1546l12-2-12-2-12 2z"/><path fill="#914500" d="M725 1546l12-3-12-2-12 3z"/><path fill="#8e4200" d="M749 1545l13-2-13-2-12 2z"/><path fill="#8a4100" d="M774 1546l12-2-12-2-12 1z"/><path fill="#854100" d="M798 1546l12-1-12-2-12 1z"/><path fill="#814200" d="M822 1547l12-1-12-2-12 1z"/><path fill="#7c4200" d="M847 1549l12-1-12-3-13 1z"/><path fill="#774300" d="M871 1550l12 0-12-3-12 1z"/><path fill="#714400" d="M895 1553l12-1-12-2-12 0z"/><path fill="#6b4600" d="M919 1555l12 0-12-3-12 0z"/><path fill="#654700" d="M943 1558l13 1-13-3-12-1z"/><path fill="#5e4900" d="M968 1562l12 0-12-3-12 0z"/><path fill="#574a00" d="M992 1565l12 1-12-3-12-1z"/><path fill="#ac8b00" d="M519 1567l12-5-12-1-12 5z"/><path fill="#aa7d00" d="M543 1563l12-5-12-1-12 5z"/><path fill="#a77000" d="M568 1560l12-5-12-1-13 4z"/><path fill="#a56700" d="M592 1557l12-4-12-2-12 4z"/><path fill="#a35e00" d="M616 1554l12-3-12-2-12 4z"/><path fill="#a05700" d="M640 1552l12-3-12-2-12 4z"/><path fill="#9d5100" d="M664 1550l13-3-13-1-12 3z"/><path fill="#9a4c00" d="M689 1549l12-3-12-2-12 3z"/><path fill="#974800" d="M713 1548l12-2-12-2-12 2z"/><path fill="#944400" d="M737 1548l12-3-12-2-12 3z"/><path fill="#904300" d="M762 1548l12-2-12-3-13 2z"/><path fill="#8c4200" d="M786 1548l12-2-12-2-12 2z"/><path fill="#884300" d="M810 1549l12-2-12-2-12 1z"/><path fill="#844400" d="M834 1550l13-1-13-3-12 1z"/><path fill="#7f4500" d="M859 1551l12-1-12-2-12 1z"/><path fill="#7a4600" d="M883 1553l12 0-12-3-12 0z"/><path fill="#754800" d="M907 1556l12-1-12-3-12 1z"/><path fill="#6f4a00" d="M931 1558l12 0-12-3-12 0z"/><path fill="#694c00" d="M956 1561l12 1-12-3-13-1z"/><path fill="#634f00" d="M980 1565l12 0-12-3-12 0z"/><path fill="#5c5000" d="M1004 1569l12 1-12-4-12-1z"/><path fill="#af9600" d="M507 1572l12-5-12-1-12 5z"/><path fill="#ad8700" d="M531 1568l12-5-12-1-12 5z"/><path fill="#ab7900" d="M556 1564l12-4-13-2-12 5z"/><path fill="#a96e00" d="M580 1561l12-4-12-2-12 5z"/><path fill="#a76500" d="M604 1558l12-4-12-1-12 4z"/><path fill="#a45d00" d="M628 1556l12-4-12-1-12 3z"/><path fill="#a25600" d="M652 1554l12-4-12-1-12 3z"/><path fill="#9f5100" d="M677 1552l12-3-12-2-13 3z"/><path fill="#9c4b00" d="M701 1551l12-3-12-2-12 3z"/><path fill="#994700" d="M725 1550l12-2-12-2-12 2z"/><path fill="#964500" d="M749 1550l13-2-13-3-12 3z"/><path fill="#924300" d="M774 1550l12-2-12-2-12 2z"/><path fill="#8f4400" d="M798 1550l12-1-12-3-12 2z"/><path fill="#8b4500" d="M822 1551l12-1-12-3-12 2z"/><path fill="#874600" d="M847 1552l12-1-12-2-13 1z"/><path fill="#824700" d="M871 1554l12-1-12-3-12 1z"/><path fill="#7e4900" d="M895 1556l12 0-12-3-12 0z"/><path fill="#794c00" d="M919 1558l12 0-12-3-12 1z"/><path fill="#734e00" d="M944 1561l12 0-13-3-12 0z"/><path fill="#6e5100" d="M968 1565l12 0-12-3-12-1z"/><path fill="#675500" d="M992 1568l12 1-12-4-12 0z"/><path fill="#615800" d="M1016 1572l12 1-12-3-12-1z"/><path fill="#b2a400" d="M495 1577l12-5-12-1-12 5z"/><path fill="#b09200" d="M519 1573l12-5-12-1-12 5z"/><path fill="#ae8300" d="M544 1569l12-5-13-1-12 5z"/><path fill="#ac7600" d="M568 1565l12-4-12-1-12 4z"/><path fill="#aa6c00" d="M592 1562l12-4-12-1-12 4z"/><path fill="#a86300" d="M616 1560l12-4-12-2-12 4z"/><path fill="#a65c00" d="M640 1557l12-3-12-2-12 4z"/><path fill="#a35500" d="M664 1555l13-3-13-2-12 4z"/><path fill="#a15000" d="M689 1554l12-3-12-2-12 3z"/><path fill="#9e4b00" d="M713 1553l12-3-12-2-12 3z"/><path fill="#9b4700" d="M737 1552l12-2-12-2-12 2z"/><path fill="#984500" d="M762 1552l12-2-12-2-13 2z"/><path fill="#954500" d="M786 1552l12-2-12-2-12 2z"/><path fill="#914500" d="M810 1553l12-2-12-2-12 1z"/><path fill="#8e4700" d="M834 1554l13-2-13-2-12 1z"/><path fill="#8a4800" d="M859 1555l12-1-12-3-12 1z"/><path fill="#854a00" d="M883 1557l12-1-12-3-12 1z"/><path fill="#814d00" d="M907 1559l12-1-12-2-12 0z"/><path fill="#7c4f00" d="M931 1562l13-1-13-3-12 0z"/><path fill="#775300" d="M956 1565l12 0-12-4-12 0z"/><path fill="#725700" d="M980 1568l12 0-12-3-12 0z"/><path fill="#6c5b00" d="M1004 1572l12 0-12-3-12-1z"/><path fill="#665f00" d="M1028 1576l12 1-12-4-12-1z"/><path fill="#b5b400" d="M484 1583l11-6-12-1-11 6z"/><path fill="#b39f00" d="M508 1578l11-5-12-1-12 5z"/><path fill="#b28f00" d="M532 1574l12-5-13-1-12 5z"/><path fill="#b08000" d="M556 1570l12-5-12-1-12 5z"/><path fill="#ae7400" d="M580 1567l12-5-12-1-12 4z"/><path fill="#ac6a00" d="M604 1564l12-4-12-2-12 4z"/><path fill="#aa6200" d="M628 1561l12-4-12-1-12 4z"/><path fill="#a75b00" d="M652 1559l12-4-12-1-12 3z"/><path fill="#a55500" d="M677 1557l12-3-12-2-13 3z"/><path fill="#a24f00" d="M701 1556l12-3-12-2-12 3z"/><path fill="#a04b00" d="M725 1555l12-3-12-2-12 3z"/><path fill="#9d4800" d="M749 1555l13-3-13-2-12 2z"/><path fill="#9a4600" d="M774 1554l12-2-12-2-12 2z"/><path fill="#974600" d="M798 1555l12-2-12-3-12 2z"/><path fill="#944700" d="M822 1555l12-1-12-3-12 2z"/><path fill="#904900" d="M847 1556l12-1-12-3-13 2z"/><path fill="#8c4b00" d="M871 1558l12-1-12-3-12 1z"/><path fill="#884d00" d="M895 1560l12-1-12-3-12 1z"/><path fill="#845000" d="M919 1562l12 0-12-4-12 1z"/><path fill="#7f5400" d="M944 1565l12 0-12-4-13 1z"/><path fill="#7b5800" d="M968 1568l12 0-12-3-12 0z"/><path fill="#755c00" d="M992 1572l12 0-12-4-12 0z"/><path fill="#706100" d="M1016 1575l12 1-12-4-12 0z"/><path fill="#6a6700" d="M1040 1580l12 1-12-4-12-1z"/><path fill="#a0b700" d="M472 1589l12-6-12-1-12 6z"/><path fill="#b6ae00" d="M496 1584l12-6-13-1-11 6z"/><path fill="#b49b00" d="M520 1580l12-6-13-1-11 5z"/><path fill="#b38b00" d="M544 1575l12-5-12-1-12 5z"/><path fill="#b17d00" d="M568 1572l12-5-12-2-12 5z"/><path fill="#af7200" d="M592 1568l12-4-12-2-12 5z"/><path fill="#ad6900" d="M616 1566l12-5-12-1-12 4z"/><path fill="#ab6100" d="M640 1563l12-4-12-2-12 4z"/><path fill="#a95a00" d="M664 1561l13-4-13-2-12 4z"/><path fill="#a75400" d="M689 1559l12-3-12-2-12 3z"/><path fill="#a44f00" d="M713 1558l12-3-12-2-12 3z"/><path fill="#a24b00" d="M737 1557l12-2-12-3-12 3z"/><path fill="#9f4800" d="M762 1557l12-3-12-2-13 3z"/><path fill="#9c4700" d="M786 1557l12-2-12-3-12 2z"/><path fill="#994800" d="M810 1557l12-2-12-2-12 2z"/><path fill="#964a00" d="M834 1558l13-2-13-2-12 1z"/><path fill="#924c00" d="M859 1559l12-1-12-3-12 1z"/><path fill="#8f4e00" d="M883 1561l12-1-12-3-12 1z"/><path fill="#8b5100" d="M907 1563l12-1-12-3-12 1z"/><path fill="#875400" d="M932 1565l12 0-13-3-12 0z"/><path fill="#835800" d="M956 1568l12 0-12-3-12 0z"/><path fill="#7e5d00" d="M980 1571l12 1-12-4-12 0z"/><path fill="#796200" d="M1004 1575l12 0-12-3-12 0z"/><path fill="#746800" d="M1028 1579l12 1-12-4-12-1z"/><path fill="#6d6e00" d="M1052 1584l12 1-12-4-12-1z"/><path fill="#86ba00" d="M460 1595l12-6-12-1-12 6z"/><path fill="#adb800" d="M484 1590l12-6-12-1-12 6z"/><path fill="#b7a900" d="M508 1585l12-5-12-2-12 6z"/><path fill="#b59700" d="M532 1581l12-6-12-1-12 6z"/><path fill="#b48800" d="M556 1577l12-5-12-2-12 5z"/><path fill="#b27b00" d="M580 1573l12-5-12-1-12 5z"/><path fill="#b07000" d="M604 1570l12-4-12-2-12 4z"/><path fill="#ae6700" d="M628 1567l12-4-12-2-12 5z"/><path fill="#ac6000" d="M652 1565l12-4-12-2-12 4z"/><path fill="#aa5900" d="M677 1563l12-4-12-2-13 4z"/><path fill="#a85400" d="M701 1561l12-3-12-2-12 3z"/><path fill="#a64f00" d="M725 1560l12-3-12-2-12 3z"/><path fill="#a34b00" d="M749 1560l13-3-13-2-12 2z"/><path fill="#a14a00" d="M774 1559l12-2-12-3-12 3z"/><path fill="#9e4900" d="M798 1559l12-2-12-2-12 2z"/><path fill="#9b4a00" d="M822 1560l12-2-12-3-12 2z"/><path fill="#984c00" d="M847 1561l12-2-12-3-13 2z"/><path fill="#954e00" d="M871 1562l12-1-12-3-12 1z"/><path fill="#915100" d="M895 1564l12-1-12-3-12 1z"/><path fill="#8e5400" d="M919 1566l13-1-13-3-12 1z"/><path fill="#8a5800" d="M944 1569l12-1-12-3-12 0z"/><path fill="#865d00" d="M968 1572l12-1-12-3-12 0z"/><path fill="#816300" d="M992 1575l12 0-12-3-12-1z"/><path fill="#7d6900" d="M1016 1579l12 0-12-4-12 0z"/><path fill="#787000" d="M1040 1583l12 1-12-4-12-1z"/><path fill="#6a7200" d="M1064 1588l12 1-12-4-12-1z"/><path fill="#63bc00" d="M448 1602l12-7-12-1-12 7z"/><path fill="#94bb00" d="M472 1596l12-6-12-1-12 6z"/><path fill="#b8b900" d="M496 1591l12-6-12-1-12 6z"/><path fill="#b8a500" d="M520 1587l12-6-12-1-12 5z"/><path fill="#b69400" d="M544 1582l12-5-12-2-12 6z"/><path fill="#b58500" d="M568 1578l12-5-12-1-12 5z"/><path fill="#b37900" d="M592 1575l12-5-12-2-12 5z"/><path fill="#b26f00" d="M616 1572l12-5-12-1-12 4z"/><path fill="#b06600" d="M640 1569l12-4-12-2-12 4z"/><path fill="#ae5f00" d="M664 1567l13-4-13-2-12 4z"/><path fill="#ac5900" d="M689 1565l12-4-12-2-12 4z"/><path fill="#aa5400" d="M713 1564l12-4-12-2-12 3z"/><path fill="#a74f00" d="M737 1563l12-3-12-3-12 3z"/><path fill="#a54c00" d="M762 1562l12-3-12-2-13 3z"/><path fill="#a34b00" d="M786 1562l12-3-12-2-12 2z"/><path fill="#a04b00" d="M810 1562l12-2-12-3-12 2z"/><path fill="#9d4d00" d="M835 1563l12-2-13-3-12 2z"/><path fill="#9a4f00" d="M859 1564l12-2-12-3-12 2z"/><path fill="#975100" d="M883 1565l12-1-12-3-12 1z"/><path fill="#945400" d="M907 1567l12-1-12-3-12 1z"/><path fill="#905800" d="M932 1569l12 0-12-4-13 1z"/><path fill="#8d5c00" d="M956 1572l12 0-12-4-12 1z"/><path fill="#896200" d="M980 1575l12 0-12-4-12 1z"/><path fill="#856900" d="M1004 1579l12 0-12-4-12 0z"/><path fill="#806f00" d="M1028 1583l12 0-12-4-12 0z"/><path fill="#7b7800" d="M1052 1587l12 1-12-4-12-1z"/><path fill="#657600" d="M1076 1592l12 1-12-4-12-1z"/><path fill="#3dbe00" d="M436 1609l12-7-12-1-12 7z"/><path fill="#73bd00" d="M460 1603l12-7-12-1-12 7z"/><path fill="#9fbc00" d="M484 1598l12-7-12-1-12 6z"/><path fill="#bab500" d="M508 1593l12-6-12-2-12 6z"/><path fill="#b9a100" d="M532 1588l12-6-12-1-12 6z"/><path fill="#b79100" d="M556 1584l12-6-12-1-12 5z"/><path fill="#b68300" d="M580 1580l12-5-12-2-12 5z"/><path fill="#b47700" d="M604 1577l12-5-12-2-12 5z"/><path fill="#b36e00" d="M628 1574l12-5-12-2-12 5z"/><path fill="#b16500" d="M652 1571l12-4-12-2-12 4z"/><path fill="#af5f00" d="M677 1569l12-4-12-2-13 4z"/><path fill="#ad5900" d="M701 1567l12-3-12-3-12 4z"/><path fill="#ab5400" d="M725 1566l12-3-12-3-12 4z"/><path fill="#a95000" d="M749 1565l13-3-13-2-12 3z"/><path fill="#a74e00" d="M774 1565l12-3-12-3-12 3z"/><path fill="#a44d00" d="M798 1565l12-3-12-3-12 3z"/><path fill="#a24e00" d="M822 1565l13-2-13-3-12 2z"/><path fill="#9f5000" d="M847 1566l12-2-12-3-12 2z"/><path fill="#9c5200" d="M871 1567l12-2-12-3-12 2z"/><path fill="#995400" d="M895 1569l12-2-12-3-12 1z"/><path fill="#965800" d="M919 1571l13-2-13-3-12 1z"/><path fill="#935c00" d="M944 1573l12-1-12-3-12 0z"/><path fill="#8f6100" d="M968 1576l12-1-12-3-12 0z"/><path fill="#8c6800" d="M992 1579l12 0-12-4-12 0z"/><path fill="#886f00" d="M1016 1583l12 0-12-4-12 0z"/><path fill="#837700" d="M1040 1587l12 0-12-4-12 0z"/><path fill="#7c7f00" d="M1064 1591l12 1-12-4-12-1z"/><path fill="#5f7a00" d="M1088 1596l12 1-12-4-12-1z"/><path fill="#00c000" d="M424 1616l12-7-12-1-12 7z"/><path fill="#4dbf00" d="M448 1610l12-7-12-1-12 7z"/><path fill="#81be00" d="M472 1604l12-6-12-2-12 7z"/><path fill="#aabd00" d="M496 1599l12-6-12-2-12 7z"/><path fill="#bbb100" d="M520 1594l12-6-12-1-12 6z"/><path fill="#ba9e00" d="M544 1589l12-5-12-2-12 6z"/><path fill="#b88f00" d="M568 1585l12-5-12-2-12 6z"/><path fill="#b78100" d="M592 1582l12-5-12-2-12 5z"/><path fill="#b57600" d="M616 1578l12-4-12-2-12 5z"/><path fill="#b46d00" d="M640 1576l12-5-12-2-12 5z"/><path fill="#b26500" d="M664 1573l13-4-13-2-12 4z"/><path fill="#b05e00" d="M689 1571l12-4-12-2-12 4z"/><path fill="#ae5900" d="M713 1570l12-4-12-2-12 3z"/><path fill="#ac5500" d="M737 1568l12-3-12-2-12 3z"/><path fill="#aa5100" d="M762 1568l12-3-12-3-13 3z"/><path fill="#a84f00" d="M786 1567l12-2-12-3-12 3z"/><path fill="#a64f00" d="M810 1567l12-2-12-3-12 3z"/><path fill="#a35000" d="M835 1568l12-2-12-3-13 2z"/><path fill="#a15200" d="M859 1569l12-2-12-3-12 2z"/><path fill="#9e5500" d="M883 1570l12-1-12-4-12 2z"/><path fill="#9b5800" d="M907 1572l12-1-12-4-12 2z"/><path fill="#985c00" d="M932 1574l12-1-12-4-13 2z"/><path fill="#956100" d="M956 1577l12-1-12-4-12 1z"/><path fill="#926700" d="M980 1579l12 0-12-4-12 1z"/><path fill="#8e6e00" d="M1004 1583l12 0-12-4-12 0z"/><path fill="#8a7500" d="M1028 1587l12 0-12-4-12 0z"/><path fill="#867f00" d="M1052 1591l12 0-12-4-12 0z"/><path fill="#768200" d="M1076 1595l12 1-12-4-12-1z"/><path fill="#567e00" d="M1100 1600l12 1-12-4-12-1z"/><path fill="#00c200" d="M413 1623l11-7-12-1-11 7z"/><path fill="#16c100" d="M436 1617l12-7-12-1-12 7z"/><path fill="#5bc000" d="M460 1611l12-7-12-1-12 7z"/><path fill="#8fbf00" d="M484 1605l12-6-12-1-12 6z"/><path fill="#b4bd00" d="M508 1600l12-6-12-1-12 6z"/><path fill="#bcad00" d="M532 1595l12-6-12-1-12 6z"/><path fill="#bb9b00" d="M556 1591l12-6-12-1-12 5z"/><path fill="#b98c00" d="M580 1587l12-5-12-2-12 5z"/><path fill="#b87f00" d="M604 1584l12-6-12-1-12 5z"/><path fill="#b77500" d="M628 1580l12-4-12-2-12 4z"/><path fill="#b56c00" d="M652 1578l12-5-12-2-12 5z"/><path fill="#b36500" d="M677 1575l12-4-12-2-13 4z"/><path fill="#b25f00" d="M701 1574l12-4-12-3-12 4z"/><path fill="#b05a00" d="M725 1572l12-4-12-2-12 4z"/><path fill="#ae5600" d="M749 1571l13-3-13-3-12 3z"/><path fill="#ac5300" d="M774 1570l12-3-12-2-12 3z"/><path fill="#aa5200" d="M798 1570l12-3-12-2-12 2z"/><path fill="#a85200" d="M822 1570l13-2-13-3-12 2z"/><path fill="#a55300" d="M847 1571l12-2-12-3-12 2z"/><path fill="#a35500" d="M871 1572l12-2-12-3-12 2z"/><path fill="#a05800" d="M895 1573l12-1-12-3-12 1z"/><path fill="#9d5c00" d="M919 1575l13-1-13-3-12 1z"/><path fill="#9a6000" d="M944 1578l12-1-12-4-12 1z"/><path fill="#976500" d="M968 1580l12-1-12-3-12 1z"/><path fill="#946c00" d="M992 1583l12 0-12-4-12 0z"/><path fill="#917400" d="M1016 1587l12 0-12-4-12 0z"/><path fill="#8d7c00" d="M1040 1591l12 0-12-4-12 0z"/><path fill="#898700" d="M1064 1595l12 0-12-4-12 0z"/><path fill="#6e8500" d="M1088 1600l12 0-12-4-12-1z"/><path fill="#4b8100" d="M1112 1605l12 1-12-5-12-1z"/><path fill="#00c300" d="M401 1631l12-8-12-1-12 8z"/><path fill="#00c300" d="M425 1625l11-8-12-1-11 7z"/><path fill="#30c200" d="M448 1618l12-7-12-1-12 7z"/><path fill="#69c000" d="M472 1612l12-7-12-1-12 7z"/><path fill="#99bf00" d="M496 1607l12-7-12-1-12 6z"/><path fill="#bebe00" d="M520 1602l12-7-12-1-12 6z"/><path fill="#bda900" d="M544 1597l12-6-12-2-12 6z"/><path fill="#bc9900" d="M568 1593l12-6-12-2-12 6z"/><path fill="#ba8a00" d="M592 1589l12-5-12-2-12 5z"/><path fill="#b97e00" d="M616 1586l12-6-12-2-12 6z"/><path fill="#b87400" d="M640 1583l12-5-12-2-12 4z"/><path fill="#b66c00" d="M665 1580l12-5-13-2-12 5z"/><path fill="#b46500" d="M689 1578l12-4-12-3-12 4z"/><path fill="#b35f00" d="M713 1576l12-4-12-2-12 4z"/><path fill="#b15b00" d="M737 1575l12-4-12-3-12 4z"/><path fill="#af5700" d="M762 1574l12-4-12-2-13 3z"/><path fill="#ad5500" d="M786 1573l12-3-12-3-12 3z"/><path fill="#ab5400" d="M810 1573l12-3-12-3-12 3z"/><path fill="#a95500" d="M835 1573l12-2-12-3-13 2z"/><path fill="#a75600" d="M859 1574l12-2-12-3-12 2z"/><path fill="#a45800" d="M883 1575l12-2-12-3-12 2z"/><path fill="#a25c00" d="M907 1577l12-2-12-3-12 1z"/><path fill="#9f6000" d="M932 1579l12-1-12-4-13 1z"/><path fill="#9d6500" d="M956 1581l12-1-12-3-12 1z"/><path fill="#9a6b00" d="M980 1584l12-1-12-4-12 1z"/><path fill="#977200" d="M1004 1587l12 0-12-4-12 0z"/><path fill="#937b00" d="M1028 1591l12 0-12-4-12 0z"/><path fill="#908500" d="M1052 1595l12 0-12-4-12 0z"/><path fill="#858c00" d="M1076 1599l12 1-12-5-12 0z"/><path fill="#668800" d="M1100 1604l12 1-12-5-12 0z"/><path fill="#3f8400" d="M1124 1610l12 0-12-4-12-1z"/><path fill="#00c500" d="M389 1639l12-8-12-1-12 8z"/><path fill="#00c400" d="M413 1632l12-7-12-2-12 8z"/><path fill="#00c300" d="M437 1626l11-8-12-1-11 8z"/><path fill="#40c200" d="M460 1620l12-8-12-1-12 7z"/><path fill="#76c100" d="M484 1614l12-7-12-2-12 7z"/><path fill="#a3c000" d="M508 1608l12-6-12-2-12 7z"/><path fill="#bfbb00" d="M532 1603l12-6-12-2-12 7z"/><path fill="#bea600" d="M556 1599l12-6-12-2-12 6z"/><path fill="#bd9700" d="M580 1595l12-6-12-2-12 6z"/><path fill="#bb8900" d="M604 1591l12-5-12-2-12 5z"/><path fill="#ba7d00" d="M628 1588l12-5-12-3-12 6z"/><path fill="#b97300" d="M652 1585l13-5-13-2-12 5z"/><path fill="#b76c00" d="M677 1582l12-4-12-3-12 5z"/><path fill="#b66500" d="M701 1580l12-4-12-2-12 4z"/><path fill="#b46000" d="M725 1579l12-4-12-3-12 4z"/><path fill="#b25c00" d="M749 1577l13-3-13-3-12 4z"/><path fill="#b15900" d="M774 1577l12-4-12-3-12 4z"/><path fill="#af5700" d="M798 1576l12-3-12-3-12 3z"/><path fill="#ad5700" d="M822 1576l13-3-13-3-12 3z"/><path fill="#ab5800" d="M847 1577l12-3-12-3-12 2z"/><path fill="#a85900" d="M871 1577l12-2-12-3-12 2z"/><path fill="#a65c00" d="M895 1579l12-2-12-4-12 2z"/><path fill="#a46000" d="M919 1580l13-1-13-4-12 2z"/><path fill="#a16400" d="M944 1583l12-2-12-3-12 1z"/><path fill="#9f6a00" d="M968 1585l12-1-12-4-12 1z"/><path fill="#9c7100" d="M992 1588l12-1-12-4-12 1z"/><path fill="#997900" d="M1016 1591l12 0-12-4-12 0z"/><path fill="#968200" d="M1040 1595l12 0-12-4-12 0z"/><path fill="#928d00" d="M1064 1599l12 0-12-4-12 0z"/><path fill="#7c8f00" d="M1088 1604l12 0-12-4-12-1z"/><path fill="#598b00" d="M1112 1609l12 1-12-5-12-1z"/><path fill="#318700" d="M1136 1614l12 1-12-5-12 0z"/><path fill="#00c700" d="M378 1648l11-9-12-1-11 9z"/><path fill="#00c600" d="M401 1640l12-8-12-1-12 8z"/><path fill="#00c500" d="M425 1634l12-8-12-1-12 7z"/><path fill="#00c400" d="M448 1627l12-7-12-2-11 8z"/><path fill="#4dc300" d="M472 1621l12-7-12-2-12 8z"/><path fill="#82c200" d="M496 1615l12-7-12-1-12 7z"/><path fill="#abc100" d="M520 1610l12-7-12-1-12 6z"/><path fill="#c0b700" d="M544 1605l12-6-12-2-12 6z"/><path fill="#bfa400" d="M568 1601l12-6-12-2-12 6z"/><path fill="#be9500" d="M592 1597l12-6-12-2-12 6z"/><path fill="#bc8800" d="M616 1593l12-5-12-2-12 5z"/><path fill="#bb7c00" d="M640 1590l12-5-12-2-12 5z"/><path fill="#ba7300" d="M665 1587l12-5-12-2-13 5z"/><path fill="#b86c00" d="M689 1585l12-5-12-2-12 4z"/><path fill="#b76600" d="M713 1583l12-4-12-3-12 4z"/><path fill="#b56100" d="M737 1581l12-4-12-2-12 4z"/><path fill="#b35d00" d="M762 1580l12-3-12-3-13 3z"/><path fill="#b25b00" d="M786 1579l12-3-12-3-12 4z"/><path fill="#b05a00" d="M810 1579l12-3-12-3-12 3z"/><path fill="#ae5a00" d="M834 1579l13-2-12-4-13 3z"/><path fill="#ac5b00" d="M859 1580l12-3-12-3-12 3z"/><path fill="#aa5d00" d="M883 1581l12-2-12-4-12 2z"/><path fill="#a86000" d="M907 1582l12-2-12-3-12 2z"/><path fill="#a56400" d="M932 1584l12-1-12-4-13 1z"/><path fill="#a36900" d="M956 1586l12-1-12-4-12 2z"/><path fill="#a06f00" d="M980 1589l12-1-12-4-12 1z"/><path fill="#9e7700" d="M1004 1592l12-1-12-4-12 1z"/><path fill="#9b8000" d="M1028 1596l12-1-12-4-12 0z"/><path fill="#988a00" d="M1052 1599l12 0-12-4-12 0z"/><path fill="#919500" d="M1076 1604l12 0-12-5-12 0z"/><path fill="#719100" d="M1100 1609l12 0-12-5-12 0z"/><path fill="#4a8e00" d="M1124 1614l12 0-12-4-12-1z"/><path fill="#1d8a00" d="M1148 1619l11 1-11-5-12-1z"/><path fill="#00c800" d="M366 1656l12-8-12-1-12 8z"/><path fill="#00c700" d="M390 1649l11-9-12-1-11 9z"/><path fill="#00c600" d="M413 1642l12-8-12-2-12 8z"/><path fill="#00c500" d="M437 1635l11-8-11-1-12 8z"/><path fill="#12c500" d="M460 1628l12-7-12-1-12 7z"/><path fill="#59c400" d="M484 1622l12-7-12-1-12 7z"/><path fill="#8dc300" d="M508 1617l12-7-12-2-12 7z"/><path fill="#b4c200" d="M532 1612l12-7-12-2-12 7z"/><path fill="#c1b400" d="M556 1607l12-6-12-2-12 6z"/><path fill="#c0a200" d="M580 1603l12-6-12-2-12 6z"/><path fill="#be9400" d="M604 1599l12-6-12-2-12 6z"/><path fill="#bd8700" d="M628 1595l12-5-12-2-12 5z"/><path fill="#bc7c00" d="M652 1592l13-5-13-2-12 5z"/><path fill="#bb7300" d="M677 1590l12-5-12-3-12 5z"/><path fill="#b96c00" d="M701 1587l12-4-12-3-12 5z"/><path fill="#b86700" d="M725 1585l12-4-12-2-12 4z"/><path fill="#b66200" d="M749 1584l13-4-13-3-12 4z"/><path fill="#b55f00" d="M774 1583l12-4-12-2-12 3z"/><path fill="#b35d00" d="M798 1583l12-4-12-3-12 3z"/><path fill="#b15c00" d="M822 1582l12-3-12-3-12 3z"/><path fill="#af5d00" d="M847 1583l12-3-12-3-13 2z"/><path fill="#ad5e00" d="M871 1583l12-2-12-4-12 3z"/><path fill="#ab6100" d="M895 1584l12-2-12-3-12 2z"/><path fill="#a96400" d="M919 1586l13-2-13-4-12 2z"/><path fill="#a76900" d="M944 1588l12-2-12-3-12 1z"/><path fill="#a56e00" d="M968 1590l12-1-12-4-12 1z"/><path fill="#a27500" d="M992 1593l12-1-12-4-12 1z"/><path fill="#a07e00" d="M1016 1596l12 0-12-5-12 1z"/><path fill="#9d8700" d="M1040 1600l12-1-12-4-12 1z"/><path fill="#9a9300" d="M1064 1604l12 0-12-5-12 0z"/><path fill="#879700" d="M1088 1608l12 1-12-5-12 0z"/><path fill="#649400" d="M1112 1613l12 1-12-5-12 0z"/><path fill="#3b9100" d="M1136 1619l12 0-12-5-12 0z"/><path fill="#008d00" d="M1160 1624l11 1-12-5-11-1z"/><path fill="#00c900" d="M355 1666l11-10-12-1-11 9z"/><path fill="#00c800" d="M378 1658l12-9-12-1-12 8z"/><path fill="#00c800" d="M401 1650l12-8-12-2-11 9z"/><path fill="#00c700" d="M425 1643l12-8-12-1-12 8z"/><path fill="#00c600" d="M449 1636l11-8-12-1-11 8z"/><path fill="#27c500" d="M472 1630l12-8-12-1-12 7z"/><path fill="#64c400" d="M496 1624l12-7-12-2-12 7z"/><path fill="#96c300" d="M520 1619l12-7-12-2-12 7z"/><path fill="#bbc200" d="M544 1614l12-7-12-2-12 7z"/><path fill="#c1b200" d="M568 1609l12-6-12-2-12 6z"/><path fill="#c0a100" d="M592 1605l12-6-12-2-12 6z"/><path fill="#bf9300" d="M616 1601l12-6-12-2-12 6z"/><path fill="#be8600" d="M640 1598l12-6-12-2-12 5z"/><path fill="#bd7c00" d="M665 1595l12-5-12-3-13 5z"/><path fill="#bc7400" d="M689 1592l12-5-12-2-12 5z"/><path fill="#ba6d00" d="M713 1590l12-5-12-2-12 4z"/><path fill="#b96800" d="M737 1588l12-4-12-3-12 4z"/><path fill="#b76400" d="M762 1587l12-4-12-3-13 4z"/><path fill="#b66100" d="M786 1586l12-3-12-4-12 4z"/><path fill="#b45f00" d="M810 1586l12-4-12-3-12 4z"/><path fill="#b25f00" d="M834 1586l13-3-13-4-12 3z"/><path fill="#b16000" d="M859 1586l12-3-12-3-12 3z"/><path fill="#af6200" d="M883 1587l12-3-12-3-12 2z"/><path fill="#ad6500" d="M907 1588l12-2-12-4-12 2z"/><path fill="#ab6900" d="M932 1590l12-2-12-4-13 2z"/><path fill="#a96e00" d="M956 1592l12-2-12-4-12 2z"/><path fill="#a67400" d="M980 1594l12-1-12-4-12 1z"/><path fill="#a47c00" d="M1004 1597l12-1-12-4-12 1z"/><path fill="#a28500" d="M1028 1601l12-1-12-4-12 0z"/><path fill="#9f9000" d="M1052 1604l12 0-12-5-12 1z"/><path fill="#9b9c00" d="M1076 1609l12-1-12-4-12 0z"/><path fill="#7b9900" d="M1100 1613l12 0-12-4-12-1z"/><path fill="#549600" d="M1124 1618l12 1-12-5-12-1z"/><path fill="#2a9300" d="M1148 1624l12 0-12-5-12 0z"/><path fill="#009000" d="M1171 1629l12 1-12-5-11-1z"/><path fill="#00ca0b" d="M343 1675l12-9-12-2-12 10z"/><path fill="#00ca00" d="M366 1667l12-9-12-2-11 10z"/><path fill="#00c900" d="M390 1659l11-9-11-1-12 9z"/><path fill="#00c800" d="M413 1651l12-8-12-1-12 8z"/><path fill="#00c800" d="M437 1644l12-8-12-1-12 8z"/><path fill="#00c700" d="M461 1638l11-8-12-2-11 8z"/><path fill="#39c600" d="M484 1632l12-8-12-2-12 8z"/><path fill="#6fc500" d="M508 1626l12-7-12-2-12 7z"/><path fill="#9dc400" d="M532 1621l12-7-12-2-12 7z"/><path fill="#c1c300" d="M556 1616l12-7-12-2-12 7z"/><path fill="#c2b000" d="M580 1611l12-6-12-2-12 6z"/><path fill="#c1a000" d="M604 1607l12-6-12-2-12 6z"/><path fill="#c09200" d="M628 1603l12-5-12-3-12 6z"/><path fill="#bf8600" d="M653 1600l12-5-13-3-12 6z"/><path fill="#be7c00" d="M677 1597l12-5-12-2-12 5z"/><path fill="#bc7500" d="M701 1595l12-5-12-3-12 5z"/><path fill="#bb6e00" d="M725 1593l12-5-12-3-12 5z"/><path fill="#ba6900" d="M749 1591l13-4-13-3-12 4z"/><path fill="#b86600" d="M774 1590l12-4-12-3-12 4z"/><path fill="#b76300" d="M798 1589l12-3-12-3-12 3z"/><path fill="#b56200" d="M822 1589l12-3-12-4-12 4z"/><path fill="#b46200" d="M847 1589l12-3-12-3-13 3z"/><path fill="#b26300" d="M871 1590l12-3-12-4-12 3z"/><path fill="#b06600" d="M895 1591l12-3-12-4-12 3z"/><path fill="#ae6900" d="M919 1592l13-2-13-4-12 2z"/><path fill="#ac6d00" d="M944 1594l12-2-12-4-12 2z"/><path fill="#aa7300" d="M968 1596l12-2-12-4-12 2z"/><path fill="#a87a00" d="M992 1599l12-2-12-4-12 1z"/><path fill="#a68300" d="M1016 1602l12-1-12-5-12 1z"/><path fill="#a38d00" d="M1040 1605l12-1-12-4-12 1z"/><path fill="#a19900" d="M1064 1609l12 0-12-5-12 0z"/><path fill="#8f9e00" d="M1088 1613l12 0-12-5-12 1z"/><path fill="#6d9c00" d="M1112 1618l12 0-12-5-12 0z"/><path fill="#439900" d="M1136 1623l12 1-12-5-12-1z"/><path fill="#099600" d="M1160 1629l11 0-11-5-12 0z"/><path fill="#009200" d="M1183 1635l12 1-12-6-12-1z"/><path fill="#00cb03" d="M355 1676l11-9-11-1-12 9z"/><path fill="#00ca00" d="M378 1668l12-9-12-1-12 9z"/><path fill="#00ca00" d="M402 1660l11-9-12-1-11 9z"/><path fill="#00c900" d="M425 1653l12-9-12-1-12 8z"/><path fill="#00c800" d="M449 1646l12-8-12-2-12 8z"/><path fill="#00c700" d="M473 1639l11-7-12-2-11 8z"/><path fill="#43c700" d="M496 1633l12-7-12-2-12 8z"/><path fill="#78c600" d="M520 1628l12-7-12-2-12 7z"/><path fill="#a4c500" d="M544 1623l12-7-12-2-12 7z"/><path fill="#c4c200" d="M568 1618l12-7-12-2-12 7z"/><path fill="#c3ae00" d="M592 1613l12-6-12-2-12 6z"/><path fill="#c29f00" d="M616 1609l12-6-12-2-12 6z"/><path fill="#c19200" d="M640 1606l13-6-13-2-12 5z"/><path fill="#c08600" d="M665 1603l12-6-12-2-12 5z"/><path fill="#bf7d00" d="M689 1600l12-5-12-3-12 5z"/><path fill="#bd7600" d="M713 1598l12-5-12-3-12 5z"/><path fill="#bc7000" d="M737 1596l12-5-12-3-12 5z"/><path fill="#bb6b00" d="M762 1594l12-4-12-3-13 4z"/><path fill="#b96800" d="M786 1593l12-4-12-3-12 4z"/><path fill="#b86600" d="M810 1593l12-4-12-3-12 3z"/><path fill="#b66500" d="M834 1592l13-3-13-3-12 3z"/><path fill="#b56600" d="M859 1593l12-3-12-4-12 3z"/><path fill="#b36700" d="M883 1593l12-2-12-4-12 3z"/><path fill="#b26a00" d="M907 1594l12-2-12-4-12 3z"/><path fill="#b06e00" d="M931 1596l13-2-12-4-13 2z"/><path fill="#ae7300" d="M956 1598l12-2-12-4-12 2z"/><path fill="#ac7900" d="M980 1600l12-1-12-5-12 2z"/><path fill="#aa8100" d="M1004 1603l12-1-12-5-12 2z"/><path fill="#a88b00" d="M1028 1606l12-1-12-4-12 1z"/><path fill="#a59500" d="M1052 1610l12-1-12-5-12 1z"/><path fill="#a3a300" d="M1076 1614l12-1-12-4-12 0z"/><path fill="#82a000" d="M1100 1618l12 0-12-5-12 0z"/><path fill="#5b9e00" d="M1124 1623l12 0-12-5-12 0z"/><path fill="#309b00" d="M1148 1628l12 1-12-5-12-1z"/><path fill="#009800" d="M1171 1634l12 1-12-6-11 0z"/><path fill="#00cb00" d="M367 1677l11-9-12-1-11 9z"/><path fill="#00cb00" d="M390 1669l12-9-12-1-12 9z"/><path fill="#00ca00" d="M414 1662l11-9-12-2-11 9z"/><path fill="#00c900" d="M437 1654l12-8-12-2-12 9z"/><path fill="#00c900" d="M461 1648l12-9-12-1-12 8z"/><path fill="#00c800" d="M485 1641l11-8-12-1-11 7z"/><path fill="#4dc700" d="M508 1635l12-7-12-2-12 7z"/><path fill="#80c600" d="M532 1630l12-7-12-2-12 7z"/><path fill="#aac500" d="M556 1625l12-7-12-2-12 7z"/><path fill="#c5c000" d="M580 1620l12-7-12-2-12 7z"/><path fill="#c4ad00" d="M604 1616l12-7-12-2-12 6z"/><path fill="#c39f00" d="M628 1612l12-6-12-3-12 6z"/><path fill="#c29200" d="M653 1608l12-5-12-3-13 6z"/><path fill="#c18700" d="M677 1605l12-5-12-3-12 6z"/><path fill="#bf7e00" d="M701 1603l12-5-12-3-12 5z"/><path fill="#be7700" d="M725 1600l12-4-12-3-12 5z"/><path fill="#bd7200" d="M749 1599l13-5-13-3-12 5z"/><path fill="#bc6e00" d="M774 1597l12-4-12-3-12 4z"/><path fill="#ba6b00" d="M798 1597l12-4-12-4-12 4z"/><path fill="#b96900" d="M822 1596l12-4-12-3-12 4z"/><path fill="#b86900" d="M847 1596l12-3-12-4-13 3z"/><path fill="#b66a00" d="M871 1596l12-3-12-3-12 3z"/><path fill="#b46c00" d="M895 1597l12-3-12-3-12 2z"/><path fill="#b36f00" d="M919 1598l12-2-12-4-12 2z"/><path fill="#b17300" d="M944 1600l12-2-12-4-13 2z"/><path fill="#af7900" d="M968 1602l12-2-12-4-12 2z"/><path fill="#ad8000" d="M992 1605l12-2-12-4-12 1z"/><path fill="#ab8900" d="M1016 1607l12-1-12-4-12 1z"/><path fill="#a99200" d="M1040 1611l12-1-12-5-12 1z"/><path fill="#a79f00" d="M1064 1614l12 0-12-5-12 1z"/><path fill="#95a500" d="M1088 1619l12-1-12-5-12 1z"/><path fill="#73a200" d="M1112 1623l12 0-12-5-12 0z"/><path fill="#48a000" d="M1136 1628l12 0-12-5-12 0z"/><path fill="#109d00" d="M1160 1634l11 0-11-5-12-1z"/><path fill="#00cc00" d="M379 1679l11-10-12-1-11 9z"/><path fill="#00cb00" d="M402 1671l12-9-12-2-12 9z"/><path fill="#00cb00" d="M426 1663l11-9-12-1-11 9z"/><path fill="#00ca00" d="M449 1656l12-8-12-2-12 8z"/><path fill="#00c900" d="M473 1649l12-8-12-2-12 9z"/><path fill="#0bc900" d="M497 1643l11-8-12-2-11 8z"/><path fill="#55c800" d="M520 1637l12-7-12-2-12 7z"/><path fill="#87c700" d="M544 1632l12-7-12-2-12 7z"/><path fill="#afc600" d="M568 1627l12-7-12-2-12 7z"/><path fill="#c5bf00" d="M592 1622l12-6-12-3-12 7z"/><path fill="#c4ad00" d="M616 1618l12-6-12-3-12 7z"/><path fill="#c39f00" d="M641 1614l12-6-13-2-12 6z"/><path fill="#c29200" d="M665 1611l12-6-12-2-12 5z"/><path fill="#c18800" d="M689 1608l12-5-12-3-12 5z"/><path fill="#c07f00" d="M713 1606l12-6-12-2-12 5z"/><path fill="#bf7900" d="M737 1604l12-5-12-3-12 4z"/><path fill="#be7400" d="M762 1602l12-5-12-3-13 5z"/><path fill="#bd7000" d="M786 1601l12-4-12-4-12 4z"/><path fill="#bb6e00" d="M810 1600l12-4-12-3-12 4z"/><path fill="#ba6d00" d="M834 1600l13-4-13-4-12 4z"/><path fill="#b96d00" d="M859 1600l12-4-12-3-12 3z"/><path fill="#b76e00" d="M883 1600l12-3-12-4-12 3z"/><path fill="#b67000" d="M907 1601l12-3-12-4-12 3z"/><path fill="#b47400" d="M931 1602l13-2-13-4-12 2z"/><path fill="#b27800" d="M956 1604l12-2-12-4-12 2z"/><path fill="#b17f00" d="M980 1606l12-1-12-5-12 2z"/><path fill="#af8700" d="M1004 1609l12-2-12-4-12 2z"/><path fill="#ad9100" d="M1028 1612l12-1-12-5-12 1z"/><path fill="#ab9c00" d="M1052 1615l12-1-12-4-12 1z"/><path fill="#a7a900" d="M1076 1619l12 0-12-5-12 0z"/><path fill="#87a600" d="M1100 1624l12-1-12-5-12 1z"/><path fill="#60a400" d="M1124 1628l12 0-12-5-12 0z"/><path fill="#34a200" d="M1148 1633l12 1-12-6-12 0z"/><path fill="#00cc00" d="M390 1680l12-9-12-2-11 10z"/><path fill="#00cc00" d="M414 1672l12-9-12-1-12 9z"/><path fill="#00cb00" d="M437 1665l12-9-12-2-11 9z"/><path fill="#00cb00" d="M461 1658l12-9-12-1-12 8z"/><path fill="#00ca00" d="M485 1651l12-8-12-2-12 8z"/><path fill="#1ac900" d="M509 1645l11-8-12-2-11 8z"/><path fill="#5cc800" d="M532 1639l12-7-12-2-12 7z"/><path fill="#8dc800" d="M556 1634l12-7-12-2-12 7z"/><path fill="#b3c700" d="M580 1629l12-7-12-2-12 7z"/><path fill="#c6be00" d="M604 1625l12-7-12-2-12 6z"/><path fill="#c5ad00" d="M628 1621l13-7-13-2-12 6z"/><path fill="#c49f00" d="M653 1617l12-6-12-3-12 6z"/><path fill="#c39300" d="M677 1614l12-6-12-3-12 6z"/><path fill="#c28900" d="M701 1611l12-5-12-3-12 5z"/><path fill="#c18100" d="M725 1609l12-5-12-4-12 6z"/><path fill="#c07b00" d="M749 1607l13-5-13-3-12 5z"/><path fill="#bf7600" d="M774 1605l12-4-12-4-12 5z"/><path fill="#be7300" d="M798 1604l12-4-12-3-12 4z"/><path fill="#bc7100" d="M822 1603l12-3-12-4-12 4z"/><path fill="#bb7000" d="M847 1603l12-3-12-4-13 4z"/><path fill="#ba7100" d="M871 1603l12-3-12-4-12 4z"/><path fill="#b87200" d="M895 1604l12-3-12-4-12 3z"/><path fill="#b77500" d="M919 1605l12-3-12-4-12 3z"/><path fill="#b57900" d="M944 1607l12-3-12-4-13 2z"/><path fill="#b47f00" d="M968 1608l12-2-12-4-12 2z"/><path fill="#b28600" d="M992 1611l12-2-12-4-12 1z"/><path fill="#b08f00" d="M1016 1614l12-2-12-5-12 2z"/><path fill="#ae9900" d="M1040 1617l12-2-12-4-12 1z"/><path fill="#aca600" d="M1064 1620l12-1-12-5-12 1z"/><path fill="#98aa00" d="M1088 1624l12 0-12-5-12 0z"/><path fill="#76a800" d="M1112 1629l12-1-12-5-12 1z"/><path fill="#4ba600" d="M1136 1634l12-1-12-5-12 0z"/><path fill="#00cd00" d="M402 1682l12-10-12-1-12 9z"/><path fill="#00cc00" d="M426 1674l11-9-11-2-12 9z"/><path fill="#00cc00" d="M449 1667l12-9-12-2-12 9z"/><path fill="#00cb00" d="M473 1660l12-9-12-2-12 9z"/><path fill="#00ca00" d="M497 1653l12-8-12-2-12 8z"/><path fill="#27ca00" d="M521 1647l11-8-12-2-11 8z"/><path fill="#63c900" d="M544 1642l12-8-12-2-12 7z"/><path fill="#92c800" d="M568 1636l12-7-12-2-12 7z"/><path fill="#b6c700" d="M592 1632l12-7-12-3-12 7z"/><path fill="#c7be00" d="M616 1627l12-6-12-3-12 7z"/><path fill="#c6ad00" d="M641 1623l12-6-12-3-13 7z"/><path fill="#c5a000" d="M665 1620l12-6-12-3-12 6z"/><path fill="#c49500" d="M689 1617l12-6-12-3-12 6z"/><path fill="#c38b00" d="M713 1614l12-5-12-3-12 5z"/><path fill="#c28300" d="M737 1612l12-5-12-3-12 5z"/><path fill="#c17d00" d="M762 1610l12-5-12-3-13 5z"/><path fill="#c07900" d="M786 1609l12-5-12-3-12 4z"/><path fill="#be7600" d="M810 1608l12-5-12-3-12 4z"/><path fill="#bd7500" d="M834 1607l13-4-13-3-12 3z"/><path fill="#bc7400" d="M859 1607l12-4-12-3-12 3z"/><path fill="#bb7500" d="M883 1607l12-3-12-4-12 3z"/><path fill="#b97700" d="M907 1608l12-3-12-4-12 3z"/><path fill="#b87a00" d="M931 1609l13-2-13-5-12 3z"/><path fill="#b68000" d="M956 1611l12-3-12-4-12 3z"/><path fill="#b58600" d="M980 1613l12-2-12-5-12 2z"/><path fill="#b38e00" d="M1004 1615l12-1-12-5-12 2z"/><path fill="#b19700" d="M1028 1618l12-1-12-5-12 2z"/><path fill="#b0a300" d="M1052 1622l12-2-12-5-12 2z"/><path fill="#a8ae00" d="M1076 1625l12-1-12-5-12 1z"/><path fill="#89ac00" d="M1100 1629l12 0-12-5-12 0z"/><path fill="#61aa00" d="M1124 1634l12 0-12-6-12 1z"/><path fill="#00cd00" d="M414 1683l12-9-12-2-12 10z"/><path fill="#00cd00" d="M438 1676l11-9-12-2-11 9z"/><path fill="#00cc00" d="M461 1669l12-9-12-2-12 9z"/><path fill="#00cc00" d="M485 1662l12-9-12-2-12 9z"/><path fill="#00cb00" d="M509 1655l12-8-12-2-12 8z"/><path fill="#32ca00" d="M533 1649l11-7-12-3-11 8z"/><path fill="#68ca00" d="M557 1644l11-8-12-2-12 8z"/><path fill="#96c900" d="M580 1639l12-7-12-3-12 7z"/><path fill="#b9c800" d="M604 1634l12-7-12-2-12 7z"/><path fill="#c7be00" d="M629 1630l12-7-13-2-12 6z"/><path fill="#c6ae00" d="M653 1626l12-6-12-3-12 6z"/><path fill="#c5a100" d="M677 1623l12-6-12-3-12 6z"/><path fill="#c59600" d="M701 1620l12-6-12-3-12 6z"/><path fill="#c48d00" d="M725 1617l12-5-12-3-12 5z"/><path fill="#c38600" d="M749 1615l13-5-13-3-12 5z"/><path fill="#c28000" d="M774 1613l12-4-12-4-12 5z"/><path fill="#c07c00" d="M798 1612l12-4-12-4-12 5z"/><path fill="#bf7a00" d="M822 1611l12-4-12-4-12 5z"/><path fill="#be7900" d="M847 1611l12-4-12-4-13 4z"/><path fill="#bd7900" d="M871 1611l12-4-12-4-12 4z"/><path fill="#bc7a00" d="M895 1611l12-3-12-4-12 3z"/><path fill="#ba7c00" d="M919 1612l12-3-12-4-12 3z"/><path fill="#b98100" d="M943 1614l13-3-12-4-13 2z"/><path fill="#b78700" d="M968 1615l12-2-12-5-12 3z"/><path fill="#b68e00" d="M992 1618l12-3-12-4-12 2z"/><path fill="#b49600" d="M1016 1620l12-2-12-4-12 1z"/><path fill="#b3a000" d="M1040 1623l12-1-12-5-12 1z"/><path fill="#b1ae00" d="M1064 1627l12-2-12-5-12 2z"/><path fill="#99af00" d="M1088 1630l12-1-12-5-12 1z"/><path fill="#76ad00" d="M1112 1635l12-1-12-5-12 0z"/><path fill="#00ce00" d="M426 1685l12-9-12-2-12 9z"/><path fill="#00cd00" d="M450 1678l11-9-12-2-11 9z"/><path fill="#00cd00" d="M473 1671l12-9-12-2-12 9z"/><path fill="#00cc00" d="M497 1664l12-9-12-2-12 9z"/><path fill="#00cb00" d="M521 1658l12-9-12-2-12 8z"/><path fill="#3acb00" d="M545 1652l12-8-13-2-11 7z"/><path fill="#6cca00" d="M569 1646l11-7-12-3-11 8z"/><path fill="#99c900" d="M593 1641l11-7-12-2-12 7z"/><path fill="#bac900" d="M617 1637l12-7-13-3-12 7z"/><path fill="#c8bf00" d="M641 1633l12-7-12-3-12 7z"/><path fill="#c7af00" d="M665 1629l12-6-12-3-12 6z"/><path fill="#c6a300" d="M689 1626l12-6-12-3-12 6z"/><path fill="#c59800" d="M713 1623l12-6-12-3-12 6z"/><path fill="#c49000" d="M737 1621l12-6-12-3-12 5z"/><path fill="#c38900" d="M762 1619l12-6-12-3-13 5z"/><path fill="#c28300" d="M786 1617l12-5-12-3-12 4z"/><path fill="#c18000" d="M810 1616l12-5-12-3-12 4z"/><path fill="#c07e00" d="M834 1615l13-4-13-4-12 4z"/><path fill="#bf7d00" d="M859 1615l12-4-12-4-12 4z"/><path fill="#be7d00" d="M883 1615l12-4-12-4-12 4z"/><path fill="#bd7f00" d="M907 1616l12-4-12-4-12 3z"/><path fill="#bb8300" d="M931 1617l12-3-12-5-12 3z"/><path fill="#ba8800" d="M956 1618l12-3-12-4-13 3z"/><path fill="#b98e00" d="M980 1620l12-2-12-5-12 2z"/><path fill="#b79600" d="M1004 1622l12-2-12-5-12 3z"/><path fill="#b69f00" d="M1028 1625l12-2-12-5-12 2z"/><path fill="#b4ab00" d="M1052 1628l12-1-12-5-12 1z"/><path fill="#a7b200" d="M1076 1632l12-2-12-5-12 2z"/><path fill="#88b000" d="M1100 1636l12-1-12-6-12 1z"/><path fill="#00ce00" d="M438 1687l12-9-12-2-12 9z"/><path fill="#00ce00" d="M462 1680l11-9-12-2-11 9z"/><path fill="#00cd00" d="M485 1673l12-9-12-2-12 9z"/><path fill="#00cd00" d="M509 1666l12-8-12-3-12 9z"/><path fill="#00cc00" d="M533 1660l12-8-12-3-12 9z"/><path fill="#3ecb00" d="M557 1654l12-8-12-2-12 8z"/><path fill="#6fcb00" d="M581 1649l12-8-13-2-11 7z"/><path fill="#9bca00" d="M605 1644l12-7-13-3-11 7z"/><path fill="#bbc900" d="M629 1640l12-7-12-3-12 7z"/><path fill="#c8c000" d="M653 1636l12-7-12-3-12 7z"/><path fill="#c8b000" d="M677 1632l12-6-12-3-12 6z"/><path fill="#c7a500" d="M701 1629l12-6-12-3-12 6z"/><path fill="#c69b00" d="M725 1626l12-5-12-4-12 6z"/><path fill="#c59300" d="M749 1624l13-5-13-4-12 6z"/><path fill="#c48c00" d="M774 1622l12-5-12-4-12 6z"/><path fill="#c38700" d="M798 1621l12-5-12-4-12 5z"/><path fill="#c28400" d="M822 1620l12-5-12-4-12 5z"/><path fill="#c18200" d="M846 1619l13-4-12-4-13 4z"/><path fill="#c08200" d="M871 1619l12-4-12-4-12 4z"/><path fill="#bf8300" d="M895 1619l12-3-12-5-12 4z"/><path fill="#be8600" d="M919 1620l12-3-12-5-12 4z"/><path fill="#bc8a00" d="M943 1621l13-3-13-4-12 3z"/><path fill="#bb8f00" d="M968 1623l12-3-12-5-12 3z"/><path fill="#ba9600" d="M992 1625l12-3-12-4-12 2z"/><path fill="#b89e00" d="M1016 1627l12-2-12-5-12 2z"/><path fill="#b7a900" d="M1040 1630l12-2-12-5-12 2z"/><path fill="#b4b500" d="M1064 1633l12-1-12-5-12 1z"/><path fill="#96b400" d="M1088 1637l12-1-12-6-12 2z"/><path fill="#00cf00" d="M450 1689l12-9-12-2-12 9z"/><path fill="#00ce00" d="M474 1682l11-9-12-2-11 9z"/><path fill="#00ce00" d="M497 1675l12-9-12-2-12 9z"/><path fill="#00cd00" d="M521 1669l12-9-12-2-12 8z"/><path fill="#00cd00" d="M545 1663l12-9-12-2-12 8z"/><path fill="#42cc00" d="M569 1657l12-8-12-3-12 8z"/><path fill="#71cb00" d="M593 1652l12-8-12-3-12 8z"/><path fill="#9bcb00" d="M617 1647l12-7-12-3-12 7z"/><path fill="#bbca00" d="M641 1643l12-7-12-3-12 7z"/><path fill="#c9c100" d="M665 1639l12-7-12-3-12 7z"/><path fill="#c8b300" d="M689 1635l12-6-12-3-12 6z"/><path fill="#c7a700" d="M713 1632l12-6-12-3-12 6z"/><path fill="#c79e00" d="M737 1630l12-6-12-3-12 5z"/><path fill="#c69600" d="M762 1627l12-5-12-3-13 5z"/><path fill="#c59000" d="M786 1626l12-5-12-4-12 5z"/><path fill="#c48c00" d="M810 1624l12-4-12-4-12 5z"/><path fill="#c38900" d="M834 1624l12-5-12-4-12 5z"/><path fill="#c28700" d="M859 1623l12-4-12-4-13 4z"/><path fill="#c18800" d="M883 1623l12-4-12-4-12 4z"/><path fill="#c08900" d="M907 1623l12-3-12-4-12 3z"/><path fill="#be8c00" d="M931 1624l12-3-12-4-12 3z"/><path fill="#bd9100" d="M955 1626l13-3-12-5-13 3z"/><path fill="#bc9700" d="M980 1627l12-2-12-5-12 3z"/><path fill="#bb9e00" d="M1004 1629l12-2-12-5-12 3z"/><path fill="#b9a800" d="M1028 1632l12-2-12-5-12 2z"/><path fill="#b8b400" d="M1052 1635l12-2-12-5-12 2z"/><path fill="#a3b600" d="M1076 1638l12-1-12-5-12 1z"/><path fill="#00cf00" d="M462 1691l12-9-12-2-12 9z"/><path fill="#00cf00" d="M485 1684l12-9-12-2-11 9z"/><path fill="#00ce00" d="M509 1677l12-8-12-3-12 9z"/><path fill="#00ce00" d="M533 1671l12-8-12-3-12 9z"/><path fill="#00cd00" d="M557 1665l12-8-12-3-12 9z"/><path fill="#44cc00" d="M581 1660l12-8-12-3-12 8z"/><path fill="#72cc00" d="M605 1655l12-8-12-3-12 8z"/><path fill="#9bcb00" d="M629 1650l12-7-12-3-12 7z"/><path fill="#baca00" d="M653 1646l12-7-12-3-12 7z"/><path fill="#cac400" d="M677 1642l12-7-12-3-12 7z"/><path fill="#c9b500" d="M701 1639l12-7-12-3-12 6z"/><path fill="#c8aa00" d="M725 1636l12-6-12-4-12 6z"/><path fill="#c7a100" d="M749 1633l13-6-13-3-12 6z"/><path fill="#c69a00" d="M774 1631l12-5-12-4-12 5z"/><path fill="#c69400" d="M798 1630l12-6-12-3-12 5z"/><path fill="#c59000" d="M822 1628l12-4-12-4-12 4z"/><path fill="#c48e00" d="M846 1628l13-5-13-4-12 5z"/><path fill="#c38d00" d="M871 1627l12-4-12-4-12 4z"/><path fill="#c28e00" d="M895 1627l12-4-12-4-12 4z"/><path fill="#c09000" d="M919 1628l12-4-12-4-12 3z"/><path fill="#bf9400" d="M943 1629l12-3-12-5-12 3z"/><path fill="#be9900" d="M967 1630l13-3-12-4-13 3z"/><path fill="#bd9f00" d="M992 1632l12-3-12-4-12 2z"/><path fill="#bca800" d="M1016 1634l12-2-12-5-12 2z"/><path fill="#bab300" d="M1040 1637l12-2-12-5-12 2z"/><path fill="#adb900" d="M1064 1640l12-2-12-5-12 2z"/><path fill="#00d000" d="M474 1694l11-10-11-2-12 9z"/><path fill="#00cf00" d="M497 1687l12-10-12-2-12 9z"/><path fill="#00cf00" d="M521 1680l12-9-12-2-12 8z"/><path fill="#00ce00" d="M545 1674l12-9-12-2-12 8z"/><path fill="#00ce00" d="M569 1668l12-8-12-3-12 8z"/><path fill="#45cd00" d="M593 1662l12-7-12-3-12 8z"/><path fill="#72cc00" d="M617 1657l12-7-12-3-12 8z"/><path fill="#9acc00" d="M641 1653l12-7-12-3-12 7z"/><path fill="#b8cb00" d="M665 1649l12-7-12-3-12 7z"/><path fill="#cac600" d="M689 1645l12-6-12-4-12 7z"/><path fill="#cab800" d="M713 1642l12-6-12-4-12 7z"/><path fill="#c9ad00" d="M737 1639l12-6-12-3-12 6z"/><path fill="#c8a500" d="M762 1637l12-6-12-4-13 6z"/><path fill="#c79e00" d="M786 1635l12-5-12-4-12 5z"/><path fill="#c69900" d="M810 1633l12-5-12-4-12 6z"/><path fill="#c59600" d="M834 1632l12-4-12-4-12 4z"/><path fill="#c49400" d="M858 1632l13-5-12-4-13 5z"/><path fill="#c39300" d="M883 1632l12-5-12-4-12 4z"/><path fill="#c29500" d="M907 1632l12-4-12-5-12 4z"/><path fill="#c19700" d="M931 1633l12-4-12-5-12 4z"/><path fill="#c09b00" d="M955 1634l12-4-12-4-12 3z"/><path fill="#bfa100" d="M980 1635l12-3-12-5-13 3z"/><path fill="#bea800" d="M1004 1637l12-3-12-5-12 3z"/><path fill="#bdb200" d="M1028 1640l12-3-12-5-12 2z"/><path fill="#b6bb00" d="M1052 1642l12-2-12-5-12 2z"/><path fill="#00d000" d="M486 1696l11-9-12-3-11 10z"/><path fill="#00d000" d="M509 1689l12-9-12-3-12 10z"/><path fill="#00cf00" d="M533 1682l12-8-12-3-12 9z"/><path fill="#00cf00" d="M557 1676l12-8-12-3-12 9z"/><path fill="#00ce00" d="M581 1671l12-9-12-2-12 8z"/><path fill="#45cd00" d="M605 1665l12-8-12-2-12 7z"/><path fill="#71cd00" d="M629 1661l12-8-12-3-12 7z"/><path fill="#99cc00" d="M653 1656l12-7-12-3-12 7z"/><path fill="#b5cc00" d="M677 1652l12-7-12-3-12 7z"/><path fill="#cbc900" d="M701 1649l12-7-12-3-12 6z"/><path fill="#cabc00" d="M725 1646l12-7-12-3-12 6z"/><path fill="#c9b100" d="M749 1643l13-6-13-4-12 6z"/><path fill="#c9a900" d="M774 1641l12-6-12-4-12 6z"/><path fill="#c8a300" d="M798 1639l12-6-12-3-12 5z"/><path fill="#c79e00" d="M822 1638l12-6-12-4-12 5z"/><path fill="#c69b00" d="M846 1637l12-5-12-4-12 4z"/><path fill="#c59a00" d="M871 1636l12-4-12-5-13 5z"/><path fill="#c49a00" d="M895 1636l12-4-12-5-12 5z"/><path fill="#c39c00" d="M919 1636l12-3-12-5-12 4z"/><path fill="#c29f00" d="M943 1637l12-3-12-5-12 4z"/><path fill="#c1a400" d="M967 1638l13-3-13-5-12 4z"/><path fill="#c0aa00" d="M992 1640l12-3-12-5-12 3z"/><path fill="#bfb300" d="M1016 1642l12-2-12-6-12 3z"/><path fill="#bdbe00" d="M1040 1645l12-3-12-5-12 3z"/><path fill="#00d100" d="M498 1699l11-10-12-2-11 9z"/><path fill="#00d000" d="M521 1692l12-10-12-2-12 9z"/><path fill="#00d000" d="M545 1685l12-9-12-2-12 8z"/><path fill="#00cf00" d="M569 1679l12-8-12-3-12 8z"/><path fill="#00ce00" d="M593 1674l12-9-12-3-12 9z"/><path fill="#44ce00" d="M617 1668l12-7-12-4-12 8z"/><path fill="#6fcd00" d="M641 1664l12-8-12-3-12 8z"/><path fill="#95cd00" d="M665 1659l12-7-12-3-12 7z"/><path fill="#b1cc00" d="M689 1656l12-7-12-4-12 7z"/><path fill="#c9cb00" d="M713 1652l12-6-12-4-12 7z"/><path fill="#cbc000" d="M737 1649l12-6-12-4-12 7z"/><path fill="#cab600" d="M762 1647l12-6-12-4-13 6z"/><path fill="#c9ae00" d="M786 1645l12-6-12-4-12 6z"/><path fill="#c8a800" d="M810 1643l12-5-12-5-12 6z"/><path fill="#c8a400" d="M834 1642l12-5-12-5-12 6z"/><path fill="#c7a100" d="M858 1641l13-5-13-4-12 5z"/><path fill="#c6a000" d="M883 1641l12-5-12-4-12 4z"/><path fill="#c5a100" d="M907 1641l12-5-12-4-12 4z"/><path fill="#c4a300" d="M931 1641l12-4-12-4-12 3z"/><path fill="#c3a700" d="M955 1642l12-4-12-4-12 3z"/><path fill="#c2ad00" d="M979 1643l13-3-12-5-13 3z"/><path fill="#c1b500" d="M1004 1645l12-3-12-5-12 3z"/><path fill="#c0be00" d="M1028 1647l12-2-12-5-12 2z"/><path fill="#00d100" d="M510 1701l11-9-12-3-11 10z"/><path fill="#00d100" d="M533 1694l12-9-12-3-12 10z"/><path fill="#00d000" d="M557 1688l12-9-12-3-12 9z"/><path fill="#00d000" d="M581 1682l12-8-12-3-12 8z"/><path fill="#00cf00" d="M605 1677l12-9-12-3-12 9z"/><path fill="#42ce00" d="M629 1672l12-8-12-3-12 7z"/><path fill="#6cce00" d="M653 1667l12-8-12-3-12 8z"/><path fill="#91cd00" d="M677 1663l12-7-12-4-12 7z"/><path fill="#adcd00" d="M701 1659l12-7-12-3-12 7z"/><path fill="#c3cc00" d="M725 1656l12-7-12-3-12 6z"/><path fill="#cbc500" d="M749 1653l13-6-13-4-12 6z"/><path fill="#cbbb00" d="M774 1651l12-6-12-4-12 6z"/><path fill="#cab300" d="M798 1649l12-6-12-4-12 6z"/><path fill="#c9ad00" d="M822 1647l12-5-12-4-12 5z"/><path fill="#c8aa00" d="M846 1646l12-5-12-4-12 5z"/><path fill="#c7a800" d="M870 1645l13-4-12-5-13 5z"/><path fill="#c7a700" d="M895 1645l12-4-12-5-12 5z"/><path fill="#c6a900" d="M919 1645l12-4-12-5-12 5z"/><path fill="#c5ab00" d="M943 1646l12-4-12-5-12 4z"/><path fill="#c4b000" d="M967 1647l12-4-12-5-12 4z"/><path fill="#c3b700" d="M991 1649l13-4-12-5-13 3z"/><path fill="#c2c000" d="M1016 1650l12-3-12-5-12 3z"/><path fill="#00d100" d="M522 1704l11-10-12-2-11 9z"/><path fill="#00d100" d="M545 1697l12-9-12-3-12 9z"/><path fill="#00d000" d="M569 1691l12-9-12-3-12 9z"/><path fill="#00d000" d="M593 1685l12-8-12-3-12 8z"/><path fill="#00cf00" d="M617 1680l12-8-12-4-12 9z"/><path fill="#3fcf00" d="M641 1675l12-8-12-3-12 8z"/><path fill="#67ce00" d="M665 1671l12-8-12-4-12 8z"/><path fill="#8bce00" d="M689 1666l12-7-12-3-12 7z"/><path fill="#a7cd00" d="M713 1663l12-7-12-4-12 7z"/><path fill="#bdcc00" d="M737 1660l12-7-12-4-12 7z"/><path fill="#ccca00" d="M762 1657l12-6-12-4-13 6z"/><path fill="#cbc100" d="M786 1655l12-6-12-4-12 6z"/><path fill="#cab900" d="M810 1653l12-6-12-4-12 6z"/><path fill="#cab400" d="M834 1651l12-5-12-4-12 5z"/><path fill="#c9b000" d="M858 1650l12-5-12-4-12 5z"/><path fill="#c8af00" d="M883 1650l12-5-12-4-13 4z"/><path fill="#c7af00" d="M907 1650l12-5-12-4-12 4z"/><path fill="#c6b100" d="M931 1650l12-4-12-5-12 4z"/><path fill="#c5b500" d="M955 1651l12-4-12-5-12 4z"/><path fill="#c4bb00" d="M979 1652l12-3-12-6-12 4z"/><path fill="#c3c200" d="M1003 1654l13-4-12-5-13 4z"/><path fill="#00d200" d="M534 1707l11-10-12-3-11 10z"/><path fill="#00d100" d="M557 1700l12-9-12-3-12 9z"/><path fill="#00d100" d="M581 1694l12-9-12-3-12 9z"/><path fill="#00d000" d="M605 1688l12-8-12-3-12 8z"/><path fill="#00d000" d="M629 1683l12-8-12-3-12 8z"/><path fill="#3bcf00" d="M653 1678l12-7-12-4-12 8z"/><path fill="#62cf00" d="M677 1674l12-8-12-3-12 8z"/><path fill="#84ce00" d="M701 1670l12-7-12-4-12 7z"/><path fill="#a1ce00" d="M725 1667l12-7-12-4-12 7z"/><path fill="#b5cd00" d="M749 1664l13-7-13-4-12 7z"/><path fill="#c6cc00" d="M774 1661l12-6-12-4-12 6z"/><path fill="#ccc700" d="M798 1659l12-6-12-4-12 6z"/><path fill="#cbc000" d="M822 1657l12-6-12-4-12 6z"/><path fill="#cabb00" d="M846 1656l12-6-12-4-12 5z"/><path fill="#c9b800" d="M870 1655l13-5-13-5-12 5z"/><path fill="#c9b700" d="M895 1655l12-5-12-5-12 5z"/><path fill="#c8b800" d="M919 1655l12-5-12-5-12 5z"/><path fill="#c7bb00" d="M943 1655l12-4-12-5-12 4z"/><path fill="#c6c000" d="M967 1656l12-4-12-5-12 4z"/><path fill="#c4c500" d="M991 1657l12-3-12-5-12 3z"/><path fill="#00d200" d="M546 1710l11-10-12-3-11 10z"/><path fill="#00d200" d="M569 1703l12-9-12-3-12 9z"/><path fill="#00d100" d="M593 1697l12-9-12-3-12 9z"/><path fill="#00d100" d="M617 1692l12-9-12-3-12 8z"/><path fill="#00d000" d="M641 1687l12-9-12-3-12 8z"/><path fill="#33d000" d="M665 1682l12-8-12-3-12 7z"/><path fill="#5bcf00" d="M689 1678l12-8-12-4-12 8z"/><path fill="#7ccf00" d="M713 1674l12-7-12-4-12 7z"/><path fill="#99ce00" d="M737 1671l12-7-12-4-12 7z"/><path fill="#adce00" d="M761 1668l13-7-12-4-13 7z"/><path fill="#bdcd00" d="M786 1665l12-6-12-4-12 6z"/><path fill="#cacc00" d="M810 1663l12-6-12-4-12 6z"/><path fill="#ccc800" d="M834 1662l12-6-12-5-12 6z"/><path fill="#cbc300" d="M858 1660l12-5-12-5-12 6z"/><path fill="#cac100" d="M882 1660l13-5-12-5-13 5z"/><path fill="#c9c100" d="M907 1659l12-4-12-5-12 5z"/><path fill="#c9c200" d="M931 1660l12-5-12-5-12 5z"/><path fill="#c8c500" d="M955 1660l12-4-12-5-12 4z"/><path fill="#c0c700" d="M979 1661l12-4-12-5-12 4z"/><path fill="#00d300" d="M558 1713l11-10-12-3-11 10z"/><path fill="#00d200" d="M581 1707l12-10-12-3-12 9z"/><path fill="#00d200" d="M605 1701l12-9-12-4-12 9z"/><path fill="#00d100" d="M629 1695l12-8-12-4-12 9z"/><path fill="#00d100" d="M653 1690l12-8-12-4-12 9z"/><path fill="#28d000" d="M677 1686l12-8-12-4-12 8z"/><path fill="#53d000" d="M701 1682l12-8-12-4-12 8z"/><path fill="#73cf00" d="M725 1678l12-7-12-4-12 7z"/><path fill="#8fcf00" d="M749 1675l12-7-12-4-12 7z"/><path fill="#a4ce00" d="M774 1672l12-7-12-4-13 7z"/><path fill="#b3cd00" d="M798 1670l12-7-12-4-12 6z"/><path fill="#becd00" d="M822 1668l12-6-12-5-12 6z"/><path fill="#c6cc00" d="M846 1666l12-6-12-4-12 6z"/><path fill="#cbcb00" d="M870 1665l12-5-12-5-12 5z"/><path fill="#cbca00" d="M894 1665l13-6-12-4-13 5z"/><path fill="#c9ca00" d="M919 1664l12-4-12-5-12 4z"/><path fill="#c3c900" d="M943 1665l12-5-12-5-12 5z"/><path fill="#bac800" d="M967 1665l12-4-12-5-12 4z"/><path fill="#00d300" d="M570 1716l11-9-12-4-11 10z"/><path fill="#00d300" d="M593 1710l12-9-12-4-12 10z"/><path fill="#00d200" d="M617 1704l12-9-12-3-12 9z"/><path fill="#00d200" d="M641 1699l12-9-12-3-12 8z"/><path fill="#00d100" d="M665 1694l12-8-12-4-12 8z"/><path fill="#1ad100" d="M689 1690l12-8-12-4-12 8z"/><path fill="#4bd000" d="M713 1686l12-8-12-4-12 8z"/><path fill="#69d000" d="M737 1682l12-7-12-4-12 7z"/><path fill="#83cf00" d="M761 1679l13-7-13-4-12 7z"/><path fill="#99cf00" d="M786 1676l12-6-12-5-12 7z"/><path fill="#a7ce00" d="M810 1674l12-6-12-5-12 7z"/><path fill="#b2cd00" d="M834 1672l12-6-12-4-12 6z"/><path fill="#b9cd00" d="M858 1671l12-6-12-5-12 6z"/><path fill="#bccc00" d="M882 1670l12-5-12-5-12 5z"/><path fill="#bccb00" d="M907 1670l12-6-12-5-13 6z"/><path fill="#b9cb00" d="M931 1670l12-5-12-5-12 4z"/><path fill="#b2ca00" d="M955 1670l12-5-12-5-12 5z"/><path fill="#00d300" d="M582 1720l11-10-12-3-11 9z"/><path fill="#00d300" d="M605 1713l12-9-12-3-12 9z"/><path fill="#00d300" d="M629 1708l12-9-12-4-12 9z"/><path fill="#00d200" d="M653 1703l12-9-12-4-12 9z"/><path fill="#00d200" d="M677 1698l12-8-12-4-12 8z"/><path fill="#0bd100" d="M701 1694l12-8-12-4-12 8z"/><path fill="#41d100" d="M725 1690l12-8-12-4-12 8z"/><path fill="#5ed000" d="M749 1686l12-7-12-4-12 7z"/><path fill="#77d000" d="M774 1683l12-7-12-4-13 7z"/><path fill="#8bcf00" d="M798 1681l12-7-12-4-12 6z"/><path fill="#9bce00" d="M822 1679l12-7-12-4-12 6z"/><path fill="#a5ce00" d="M846 1677l12-6-12-5-12 6z"/><path fill="#abcd00" d="M870 1676l12-6-12-5-12 6z"/><path fill="#adcc00" d="M894 1675l13-5-13-5-12 5z"/><path fill="#accc00" d="M919 1675l12-5-12-6-12 6z"/><path fill="#a7cb00" d="M943 1675l12-5-12-5-12 5z"/><path fill="#00d400" d="M593 1723l12-10-12-3-11 10z"/><path fill="#00d300" d="M617 1717l12-9-12-4-12 9z"/><path fill="#00d300" d="M641 1712l12-9-12-4-12 9z"/><path fill="#00d200" d="M665 1706l12-8-12-4-12 9z"/><path fill="#00d200" d="M689 1702l12-8-12-4-12 8z"/><path fill="#00d200" d="M713 1698l12-8-12-4-12 8z"/><path fill="#32d100" d="M737 1694l12-8-12-4-12 8z"/><path fill="#51d100" d="M761 1691l13-8-13-4-12 7z"/><path fill="#69d000" d="M786 1688l12-7-12-5-12 7z"/><path fill="#7ccf00" d="M810 1685l12-6-12-5-12 7z"/><path fill="#8bcf00" d="M834 1683l12-6-12-5-12 7z"/><path fill="#96ce00" d="M858 1682l12-6-12-5-12 6z"/><path fill="#9bce00" d="M882 1681l12-6-12-5-12 6z"/><path fill="#9dcd00" d="M906 1680l13-5-12-5-13 5z"/><path fill="#9bcc00" d="M931 1680l12-5-12-5-12 5z"/><path fill="#00d400" d="M605 1727l12-10-12-4-12 10z"/><path fill="#00d400" d="M629 1721l12-9-12-4-12 9z"/><path fill="#00d300" d="M653 1715l12-9-12-3-12 9z"/><path fill="#00d300" d="M677 1710l12-8-12-4-12 8z"/><path fill="#00d200" d="M701 1706l12-8-12-4-12 8z"/><path fill="#00d200" d="M725 1702l12-8-12-4-12 8z"/><path fill="#1dd100" d="M749 1698l12-7-12-5-12 8z"/><path fill="#44d100" d="M773 1695l13-7-12-5-13 8z"/><path fill="#5ad000" d="M798 1692l12-7-12-4-12 7z"/><path fill="#6cd000" d="M822 1690l12-7-12-4-12 6z"/><path fill="#7acf00" d="M846 1688l12-6-12-5-12 6z"/><path fill="#83cf00" d="M870 1687l12-6-12-5-12 6z"/><path fill="#88ce00" d="M894 1686l12-6-12-5-12 6z"/><path fill="#88ce00" d="M918 1685l13-5-12-5-13 5z"/><path fill="#00d400" d="M617 1730l12-9-12-4-12 10z"/><path fill="#00d400" d="M641 1725l12-10-12-3-12 9z"/><path fill="#00d400" d="M665 1719l12-9-12-4-12 9z"/><path fill="#00d300" d="M689 1715l12-9-12-4-12 8z"/><path fill="#00d300" d="M713 1710l12-8-12-4-12 8z"/><path fill="#00d200" d="M737 1706l12-8-12-4-12 8z"/><path fill="#05d200" d="M761 1703l12-8-12-4-12 7z"/><path fill="#32d100" d="M786 1700l12-8-12-4-13 7z"/><path fill="#4ad100" d="M810 1697l12-7-12-5-12 7z"/><path fill="#5bd000" d="M834 1695l12-7-12-5-12 7z"/><path fill="#67d000" d="M858 1693l12-6-12-5-12 6z"/><path fill="#6fcf00" d="M882 1692l12-6-12-5-12 6z"/><path fill="#72cf00" d="M906 1691l12-6-12-5-12 6z"/><path fill="#00d500" d="M629 1734l12-9-12-4-12 9z"/><path fill="#00d400" d="M653 1729l12-10-12-4-12 10z"/><path fill="#00d400" d="M677 1724l12-9-12-5-12 9z"/><path fill="#00d400" d="M701 1719l12-9-12-4-12 9z"/><path fill="#00d300" d="M725 1715l12-9-12-4-12 8z"/><path fill="#00d300" d="M749 1711l12-8-12-5-12 8z"/><path fill="#00d200" d="M773 1707l13-7-13-5-12 8z"/><path fill="#16d200" d="M798 1704l12-7-12-5-12 8z"/><path fill="#38d100" d="M822 1702l12-7-12-5-12 7z"/><path fill="#48d100" d="M846 1700l12-7-12-5-12 7z"/><path fill="#53d000" d="M870 1698l12-6-12-5-12 6z"/><path fill="#5ad000" d="M894 1697l12-6-12-5-12 6z"/><path fill="#00d500" d="M641 1738l12-9-12-4-12 9z"/><path fill="#00d500" d="M665 1733l12-9-12-5-12 10z"/><path fill="#00d400" d="M689 1728l12-9-12-4-12 9z"/><path fill="#00d400" d="M713 1723l12-8-12-5-12 9z"/><path fill="#00d400" d="M737 1719l12-8-12-5-12 9z"/><path fill="#00d300" d="M761 1715l12-8-12-4-12 8z"/><path fill="#00d300" d="M785 1712l13-8-12-4-13 7z"/><path fill="#00d200" d="M810 1709l12-7-12-5-12 7z"/><path fill="#18d200" d="M834 1707l12-7-12-5-12 7z"/><path fill="#31d100" d="M858 1705l12-7-12-5-12 7z"/><path fill="#3ed100" d="M882 1704l12-7-12-5-12 6z"/><path fill="#00d600" d="M653 1743l12-10-12-4-12 9z"/><path fill="#00d500" d="M677 1737l12-9-12-4-12 9z"/><path fill="#00d500" d="M701 1732l12-9-12-4-12 9z"/><path fill="#00d400" d="M725 1728l12-9-12-4-12 8z"/><path fill="#00d400" d="M749 1724l12-9-12-4-12 8z"/><path fill="#00d400" d="M773 1720l12-8-12-5-12 8z"/><path fill="#00d300" d="M797 1717l13-8-12-5-13 8z"/><path fill="#00d300" d="M822 1714l12-7-12-5-12 7z"/><path fill="#00d200" d="M846 1712l12-7-12-5-12 7z"/><path fill="#0cd200" d="M870 1710l12-6-12-6-12 7z"/><path fill="#00d600" d="M665 1747l12-10-12-4-12 10z"/><path fill="#00d600" d="M689 1742l12-10-12-4-12 9z"/><path fill="#00d500" d="M713 1737l12-9-12-5-12 9z"/><path fill="#00d500" d="M737 1732l12-8-12-5-12 9z"/><path fill="#00d400" d="M761 1729l12-9-12-5-12 9z"/><path fill="#00d400" d="M785 1725l12-8-12-5-12 8z"/><path fill="#00d400" d="M809 1722l13-8-12-5-13 8z"/><path fill="#00d300" d="M834 1720l12-8-12-5-12 7z"/><path fill="#00d300" d="M858 1717l12-7-12-5-12 7z"/><path fill="#00d600" d="M677 1751l12-9-12-5-12 10z"/><path fill="#00d600" d="M701 1746l12-9-12-5-12 10z"/><path fill="#00d500" d="M725 1741l12-9-12-4-12 9z"/><path fill="#00d500" d="M749 1737l12-8-12-5-12 8z"/><path fill="#00d500" d="M773 1733l12-8-12-5-12 9z"/><path fill="#00d400" d="M797 1730l12-8-12-5-12 8z"/><path fill="#00d400" d="M821 1727l13-7-12-6-13 8z"/><path fill="#00d300" d="M846 1725l12-8-12-5-12 8z"/><path fill="#00d700" d="M689 1756l12-10-12-4-12 9z"/><path fill="#00d600" d="M713 1751l12-10-12-4-12 9z"/><path fill="#00d600" d="M737 1746l12-9-12-5-12 9z"/><path fill="#00d500" d="M761 1742l12-9-12-4-12 8z"/><path fill="#00d500" d="M785 1738l12-8-12-5-12 8z"/><path fill="#00d500" d="M809 1735l12-8-12-5-12 8z"/><path fill="#00d400" d="M833 1733l13-8-12-5-13 7z"/><path fill="#00d700" d="M701 1760l12-9-12-5-12 10z"/><path fill="#00d700" d="M725 1756l12-10-12-5-12 10z"/><path fill="#00d600" d="M749 1751l12-9-12-5-12 9z"/><path fill="#00d600" d="M773 1747l12-9-12-5-12 9z"/><path fill="#00d500" d="M797 1744l12-9-12-5-12 8z"/><path fill="#00d500" d="M821 1741l12-8-12-6-12 8z"/><path fill="#00d700" d="M713 1765l12-9-12-5-12 9z"/><path fill="#00d700" d="M737 1761l12-10-12-5-12 10z"/><path fill="#00d600" d="M761 1756l12-9-12-5-12 9z"/><path fill="#00d600" d="M785 1752l12-8-12-6-12 9z"/><path fill="#00d600" d="M809 1749l12-8-12-6-12 9z"/><path fill="#00d700" d="M725 1770l12-9-12-5-12 9z"/><path fill="#00d700" d="M749 1766l12-10-12-5-12 10z"/><path fill="#00d700" d="M773 1761l12-9-12-5-12 9z"/><path fill="#00d600" d="M797 1758l12-9-12-5-12 8z"/><path fill="#00d800" d="M737 1775l12-9-12-5-12 9z"/><path fill="#00d700" d="M761 1771l12-10-12-5-12 10z"/><path fill="#00d700" d="M785 1767l12-9-12-6-12 9z"/><path fill="#00d800" d="M749 1781l12-10-12-5-12 9z"/><path fill="#00d800" d="M773 1776l12-9-12-6-12 10z"/><path fill="#00d808" d="M761 1786l12-10-12-5-12 10z"/></g><path fill="none" stroke="#000" stroke-opacity="1" stroke-width="1.2" d="M761 1786l6-5 6-5 6-5 6-4 6-5 6-4 6-5 6-4 6-4 6-4 6-4 6-4 7-4 6-4 6-4 6-4 6-3 6-4 6-3 6-3 6-4 6-3 6-3 6-3 6-3 6-3 6-2 7-3 6-3 6-2 6-3 6-2 6-2 6-3 6-2 6-2 6-2 6-2 6-1 6-2 6-2 7-2 6-1 6-2 6-1 6-1 6-1 6-2 6-1 6-1 6-1 6-1 6 0 6-1 6-1 6 0 6-1 6 0 6-1 6 0 6 0 6 0 6-1 6 0 6 0 6 1 6 0 5 0 6 0 6 1 6 0 6 1M755 1783l6-5 6-4 6-5 6-5 6-4 6-5 6-4 6-5 6-4 6-4 6-4 6-4 7-4 6-4 6-4 6-3 6-4 6-3 6-4 6-3 6-3 6-3 6-3 6-3 6-3 6-3 6-3 7-3 6-2 6-3 6-2 6-3 6-2 6-2 6-2 6-2 6-2 6-2 6-2 6-2 6-2 7-1 6-2 6-1 6-2 6-1 6-1 6-1 6-1 6-1 6-1 6-1 6-1 6-1 6 0 6-1 6-1 6 0 6 0 6-1 6 0 6 0 6 0 6 0 6 0 6 0 6 0 6 0 5 1 6 0 6 0 6 1M749 1781l6-5 6-5 6-5 6-5 6-4 6-5 6-4 6-4 6-5 6-4 6-4 6-4 7-4 6-3 6-4 6-4 6-3 6-4 6-3 6-4 6-3 6-3 6-3 6-3 6-3 6-3 6-3 7-2 6-3 6-2 6-3 6-2 6-3 6-2 6-2 6-2 6-2 6-2 6-2 6-1 6-2 7-2 6-1 6-2 6-1 6-1 6-2 6-1 6-1 6-1 6-1 6-1 6-1 6 0 6-1 6-1 6 0 6-1 6 0 6 0 6-1 6 0 6 0 6 0 6 0 6 0 6 0 6 1 6 0 5 0 6 1 6 0M743 1778l6-5 6-5 6-5 6-4 6-5 6-4 6-5 6-4 6-4 6-4 6-4 6-4 7-4 6-4 6-4 6-3 6-4 6-3 6-4 6-3 6-3 6-4 6-3 6-3 6-3 6-2 6-3 7-3 6-2 6-3 6-2 6-3 6-2 6-2 6-2 6-3 6-2 6-1 6-2 6-2 6-2 7-1 6-2 6-1 6-2 6-1 6-1 6-1 6-2 6-1 6-1 6 0 6-1 6-1 6-1 6 0 6-1 6 0 6-1 6 0 6 0 6 0 6 0 6 0 6 0 6 0 6 0 6 0 6 0 5 1 6 0 6 1M737 1775l6-5 6-4 6-5 6-5 6-4 6-5 6-4 6-5 6-4 6-4 6-4 6-4 7-4 6-4 6-3 6-4 6-4 6-3 6-3 6-4 6-3 6-3 6-3 6-3 6-3 6-3 6-3 7-2 6-3 6-3 6-2 6-2 6-3 6-2 6-2 6-2 6-2 6-2 6-2 6-2 6-1 7-2 6-1 6-2 6-1 6-2 6-1 6-1 6-1 6-1 6-1 6-1 6-1 6 0 6-1 6-1 6 0 6-1 6 0 6 0 6-1 6 0 6 0 6 0 6 0 6 0 6 0 6 1 6 0 6 0 5 1 6 0M731 1773l6-5 6-5 6-5 6-4 6-5 6-4 6-5 6-4 6-4 6-4 6-4 6-4 7-4 6-4 6-4 6-4 6-3 6-4 6-3 6-3 6-4 6-3 6-3 6-3 6-3 6-2 6-3 7-3 6-3 6-2 6-3 6-2 6-2 6-2 6-3 6-2 6-2 6-1 6-2 6-2 6-2 7-1 6-2 6-1 6-2 6-1 6-1 6-1 6-2 6-1 6-1 6 0 6-1 6-1 6-1 6 0 6-1 6 0 6-1 6 0 6 0 6 0 6 0 6 0 6 0 6 0 6 0 6 0 6 0 6 1 6 0 5 1M725 1770l6-5 6-4 6-5 6-5 6-4 6-5 6-4 6-5 6-4 6-4 6-4 6-4 7-4 6-4 6-3 6-4 6-4 6-3 6-3 6-4 6-3 6-3 6-3 6-3 6-3 6-3 6-3 6-2 7-3 6-3 6-2 6-2 6-3 6-2 6-2 6-2 6-2 6-2 6-2 6-2 6-1 7-2 6-1 6-2 6-1 6-2 6-1 6-1 6-1 6-1 6-1 6-1 6-1 6 0 6-1 6-1 6 0 6-1 6 0 6 0 6-1 6 0 6 0 6 0 6 0 6 0 6 0 6 1 6 0 6 0 6 1 5 0M719 1768l6-5 6-5 6-5 6-4 6-5 6-4 6-5 6-4 6-4 6-4 6-4 6-4 7-4 6-4 6-4 6-3 6-4 6-3 6-4 6-3 6-3 6-4 6-3 6-3 6-3 6-2 6-3 6-3 7-2 6-3 6-2 6-3 6-2 6-2 6-2 6-2 6-2 6-2 6-2 6-2 6-2 7-1 6-2 6-1 6-2 6-1 6-1 6-1 6-1 6-2 6 0 6-1 6-1 6-1 6-1 6 0 6-1 6 0 6-1 6 0 6 0 6 0 6 0 6 0 6 0 6 0 6 0 6 0 6 0 6 1 6 0 6 1M713 1765l6-5 6-4 6-5 6-5 6-4 6-5 6-4 6-4 6-5 6-4 6-4 6-4 7-4 6-4 6-3 6-4 6-3 6-4 6-3 6-4 6-3 6-3 6-3 6-3 6-3 6-3 6-3 6-2 7-3 6-2 6-3 6-2 6-2 6-3 6-2 6-2 6-2 6-2 6-2 6-1 6-2 6-2 7-1 6-2 6-1 6-1 6-2 6-1 6-1 6-1 6-1 6-1 6-1 6 0 6-1 6-1 6 0 6-1 6 0 6 0 6-1 6 0 6 0 6 0 6 0 6 0 6 0 6 1 6 0 6 0 6 1 6 0M707 1763l6-5 6-5 6-5 6-4 6-5 6-4 6-5 6-4 6-4 6-4 6-4 6-4 6-4 7-4 6-4 6-3 6-4 6-3 6-4 6-3 6-3 6-3 6-3 6-3 6-3 6-3 6-3 6-3 6-2 7-3 6-2 6-3 6-2 6-2 6-2 6-2 6-2 6-2 6-2 6-2 6-1 6-2 7-2 6-1 6-1 6-2 6-1 6-1 6-1 6-1 6-1 6-1 6-1 6-1 6 0 6-1 6 0 6-1 6 0 6-1 6 0 6 0 6 0 6 0 6 0 6 0 6 0 6 0 6 1 6 0 6 0 6 1M701 1760l6-4 6-5 6-5 6-5 6-4 6-5 6-4 6-4 6-4 6-5 6-4 6-4 6-3 7-4 6-4 6-4 6-3 6-4 6-3 6-3 6-4 6-3 6-3 6-3 6-3 6-3 6-2 6-3 6-3 7-2 6-3 6-2 6-2 6-2 6-3 6-2 6-2 6-1 6-2 6-2 6-2 6-1 7-2 6-1 6-2 6-1 6-1 6-1 6-2 6-1 6-1 6 0 6-1 6-1 6-1 6 0 6-1 6 0 6-1 6 0 6 0 6 0 6-1 6 0 6 0 6 1 6 0 6 0 6 0 6 1 6 0 6 0M695 1758l6-5 6-5 6-4 6-5 6-4 6-5 6-4 6-5 6-4 6-4 6-4 6-4 6-4 6-4 7-3 6-4 6-4 6-3 6-3 6-4 6-3 6-3 6-3 6-3 6-3 6-3 6-3 6-2 6-3 7-2 6-3 6-2 6-2 6-3 6-2 6-2 6-2 6-2 6-2 6-1 6-2 6-2 6-1 7-2 6-1 6-1 6-2 6-1 6-1 6-1 6-1 6-1 6-1 6 0 6-1 6-1 6 0 6-1 6 0 6 0 6-1 6 0 6 0 6 0 6 0 6 0 6 0 6 1 6 0 6 0 6 1 6 0M689 1756l6-5 6-5 6-5 6-4 6-5 6-4 6-5 6-4 6-4 6-4 6-4 6-4 6-4 6-4 7-4 6-3 6-4 6-3 6-4 6-3 6-3 6-3 6-3 6-3 6-3 6-3 6-3 6-3 6-2 6-3 7-2 6-2 6-3 6-2 6-2 6-2 6-2 6-2 6-2 6-2 6-1 6-2 6-1 7-2 6-1 6-2 6-1 6-1 6-1 6-1 6-1 6-1 6-1 6-1 6 0 6-1 6 0 6-1 6 0 6-1 6 0 6 0 6 0 6 0 6 0 6 0 6 0 6 0 6 1 6 0 6 0 6 1M683 1753l6-4 6-5 6-5 6-5 6-4 6-5 6-4 6-4 6-4 6-5 6-4 6-3 6-4 6-4 6-4 7-3 6-4 6-4 6-3 6-3 6-3 6-4 6-3 6-3 6-3 6-2 6-3 6-3 6-2 6-3 7-2 6-3 6-2 6-2 6-2 6-2 6-2 6-2 6-2 6-2 6-2 6-1 6-2 7-1 6-2 6-1 6-1 6-1 6-1 6-1 6-1 6-1 6-1 6-1 6-1 6 0 6-1 6 0 6-1 6 0 6 0 6 0 6 0 6 0 6 0 6 0 6 0 6 0 6 0 6 1 6 0 6 1M677 1751l6-5 6-4 6-5 6-5 6-4 6-5 6-4 6-4 6-5 6-4 6-4 6-4 6-4 6-3 6-4 7-4 6-3 6-4 6-3 6-3 6-4 6-3 6-3 6-3 6-3 6-3 6-2 6-3 6-3 6-2 6-3 7-2 6-2 6-2 6-3 6-2 6-2 6-2 6-1 6-2 6-2 6-1 6-2 6-1 7-2 6-1 6-1 6-2 6-1 6-1 6-1 6 0 6-1 6-1 6-1 6 0 6-1 6 0 6-1 6 0 6 0 6-1 6 0 6 0 6 0 6 0 6 1 6 0 6 0 6 0 6 1 6 0M671 1749l6-5 6-5 6-4 6-5 6-5 6-4 6-4 6-5 6-4 6-4 6-4 6-4 6-4 6-4 6-3 6-4 7-3 6-4 6-3 6-4 6-3 6-3 6-3 6-3 6-3 6-3 6-3 6-2 6-3 6-2 6-3 7-2 6-2 6-3 6-2 6-2 6-2 6-2 6-2 6-1 6-2 6-2 6-1 6-2 7-1 6-1 6-2 6-1 6-1 6-1 6-1 6-1 6 0 6-1 6-1 6-1 6 0 6-1 6 0 6 0 6-1 6 0 6 0 6 0 6 0 6 0 6 0 6 1 6 0 6 0 6 1 6 0M665 1747l6-5 6-5 6-5 6-4 6-5 6-4 6-5 6-4 6-4 6-4 6-4 6-4 6-4 6-4 6-3 6-4 7-4 6-3 6-3 6-4 6-3 6-3 6-3 6-3 6-3 6-3 6-3 6-2 6-3 6-2 6-3 6-2 7-3 6-2 6-2 6-2 6-2 6-2 6-2 6-1 6-2 6-2 6-1 6-2 6-1 7-1 6-2 6-1 6-1 6-1 6-1 6-1 6-1 6 0 6-1 6-1 6 0 6-1 6 0 6 0 6-1 6 0 6 0 6 0 6 0 6 0 6 0 6 0 6 1 6 0 6 0 6 1M659 1745l6-5 6-5 6-5 6-4 6-5 6-4 6-5 6-4 6-4 6-4 6-4 6-4 6-4 6-4 6-4 6-3 6-4 7-3 6-4 6-3 6-3 6-3 6-3 6-3 6-3 6-3 6-3 6-2 6-3 6-3 6-2 6-2 7-3 6-2 6-2 6-2 6-2 6-2 6-2 6-2 6-1 6-2 6-1 6-2 6-1 6-2 7-1 6-1 6-1 6-1 6-1 6-1 6-1 6-1 6 0 6-1 6 0 6-1 6 0 6-1 6 0 6 0 6 0 6 0 6 0 6 0 6 0 6 0 6 1 6 0 6 0 6 1M653 1743l6-5 6-5 6-5 6-4 6-5 6-4 6-5 6-4 6-4 6-4 6-4 6-4 6-4 6-4 6-4 6-3 6-4 6-3 7-4 6-3 6-3 6-3 6-3 6-3 6-3 6-3 6-3 6-2 6-3 6-3 6-2 6-2 6-3 7-2 6-2 6-2 6-2 6-2 6-2 6-2 6-1 6-2 6-1 6-2 6-1 6-2 7-1 6-1 6-1 6-1 6-1 6-1 6-1 6-1 6 0 6-1 6 0 6-1 6 0 6-1 6 0 6 0 6 0 6 0 6 0 6 0 6 0 6 0 6 0 6 1 6 0 6 1M647 1740l6-4 6-5 6-5 6-5 6-4 6-4 6-5 6-4 6-4 6-4 6-4 6-4 6-4 6-4 6-4 6-3 6-4 6-3 6-4 7-3 6-3 6-3 6-3 6-3 6-3 6-3 6-3 6-3 6-2 6-3 6-2 6-2 6-3 7-2 6-2 6-2 6-2 6-2 6-2 6-2 6-1 6-2 6-1 6-2 6-1 6-2 6-1 7-1 6-1 6-1 6-1 6-1 6-1 6-1 6 0 6-1 6 0 6-1 6 0 6-1 6 0 6 0 6 0 6 0 6 0 6 0 6 0 6 0 6 0 6 1 6 0 6 1M641 1738l6-5 6-4 6-5 6-5 6-4 6-5 6-4 6-4 6-4 6-4 6-4 6-4 6-4 6-4 6-4 6-3 6-4 6-3 6-4 7-3 6-3 6-3 6-3 6-3 6-3 6-3 6-3 6-3 6-2 6-3 6-2 6-2 6-3 6-2 7-2 6-2 6-2 6-2 6-2 6-2 6-1 6-2 6-1 6-2 6-1 6-2 6-1 6-1 7-1 6-1 6-1 6-1 6-1 6-1 6 0 6-1 6-1 6 0 6 0 6-1 6 0 6 0 6 0 6 0 6 0 6 0 6 0 6 0 6 0 6 1 6 0 6 1M635 1736l6-5 6-4 6-5 6-5 6-4 6-5 6-4 6-4 6-4 6-4 6-4 6-4 6-4 6-4 6-4 6-3 6-4 6-3 6-4 6-3 7-3 6-3 6-3 6-3 6-3 6-3 6-3 6-3 6-2 6-3 6-2 6-2 6-3 6-2 6-2 7-2 6-2 6-2 6-2 6-2 6-1 6-2 6-1 6-2 6-1 6-2 6-1 6-1 7-1 6-1 6-1 6-1 6-1 6-1 6 0 6-1 6 0 6-1 6 0 6-1 6 0 6 0 6 0 6 0 6 0 6 0 6 0 6 0 6 0 6 1 6 0 6 1M629 1734l6-5 6-4 6-5 6-5 6-4 6-5 6-4 6-4 6-4 6-4 6-4 6-4 6-4 6-4 6-4 6-3 6-4 6-3 6-4 6-3 6-3 7-3 6-3 6-3 6-3 6-3 6-3 6-2 6-3 6-3 6-2 6-2 6-3 6-2 6-2 7-2 6-2 6-2 6-2 6-2 6-1 6-2 6-1 6-2 6-1 6-2 6-1 6-1 6-1 7-1 6-1 6-1 6-1 6-1 6 0 6-1 6 0 6-1 6 0 6-1 6 0 6 0 6 0 6 0 6 0 6 0 6 0 6 0 6 0 6 1 6 0 6 1M623 1732l6-4 6-5 6-5 6-5 6-4 6-4 6-5 6-4 6-4 6-4 6-4 6-4 6-4 6-4 6-4 6-3 6-4 6-3 6-4 6-3 6-3 6-3 7-3 6-3 6-3 6-3 6-3 6-2 6-3 6-2 6-3 6-2 6-3 6-2 6-2 6-2 7-2 6-2 6-2 6-1 6-2 6-2 6-1 6-2 6-1 6-2 6-1 6-1 6-1 6-1 7-1 6-1 6-1 6-1 6 0 6-1 6 0 6-1 6 0 6-1 6 0 6 0 6 0 6 0 6 0 6 0 6 0 6 0 6 0 6 1 6 0 6 1M617 1730l6-4 6-5 6-5 6-4 6-5 6-4 6-5 6-4 6-4 6-4 6-4 6-4 6-4 6-4 6-4 6-3 6-4 6-3 6-3 6-4 6-3 6-3 6-3 7-3 6-3 6-3 6-3 6-2 6-3 6-2 6-3 6-2 6-2 6-3 6-2 6-2 6-2 7-2 6-2 6-1 6-2 6-2 6-1 6-2 6-1 6-1 6-2 6-1 6-1 6-1 6-1 7-1 6-1 6 0 6-1 6-1 6 0 6-1 6 0 6-1 6 0 6 0 6 0 6 0 6 0 6 0 6 0 6 0 6 0 6 1 6 0 6 1M611 1729l6-5 6-5 6-5 6-4 6-5 6-4 6-5 6-4 6-4 6-4 6-4 6-4 6-4 6-4 6-3 6-4 6-4 6-3 6-3 6-4 6-3 6-3 6-3 6-3 7-3 6-3 6-2 6-3 6-3 6-2 6-3 6-2 6-2 6-3 6-2 6-2 6-2 6-2 7-1 6-2 6-2 6-2 6-1 6-2 6-1 6-1 6-2 6-1 6-1 6-1 6-1 6-1 7-1 6 0 6-1 6-1 6 0 6-1 6 0 6 0 6-1 6 0 6 0 6 0 6 0 6 0 6 0 6 0 6 1 6 0 6 0 6 1M605 1727l6-5 6-5 6-5 6-4 6-5 6-4 6-4 6-5 6-4 6-4 6-4 6-4 6-4 6-4 6-3 6-4 6-3 6-4 6-3 6-3 6-4 6-3 6-3 6-3 6-3 7-3 6-2 6-3 6-3 6-2 6-2 6-3 6-2 6-2 6-2 6-3 6-2 6-1 7-2 6-2 6-2 6-1 6-2 6-1 6-2 6-1 6-1 6-2 6-1 6-1 6-1 6-1 6 0 7-1 6-1 6 0 6-1 6 0 6-1 6 0 6-1 6 0 6 0 6 0 6 0 6 0 6 0 6 0 6 1 6 0 6 0 6 1M599 1725l6-5 6-5 6-4 6-5 6-4 6-5 6-4 6-4 6-5 6-4 6-4 6-4 6-4 6-3 6-4 6-4 6-3 6-4 6-3 6-3 6-3 6-4 6-3 6-3 6-3 7-2 6-3 6-3 6-2 6-3 6-2 6-3 6-2 6-2 6-2 6-2 6-2 6-2 6-2 7-2 6-2 6-1 6-2 6-1 6-2 6-1 6-1 6-1 6-1 6-1 6-1 6-1 6-1 6-1 7-1 6 0 6-1 6 0 6-1 6 0 6 0 6-1 6 0 6 0 6 0 6 0 6 0 6 1 6 0 6 0 6 1 6 0M593 1723l6-5 6-5 6-4 6-5 6-4 6-5 6-4 6-4 6-4 6-5 6-4 6-3 6-4 6-4 6-4 6-3 6-4 6-3 6-4 6-3 6-3 6-3 6-3 6-3 6-3 6-3 7-3 6-2 6-3 6-3 6-2 6-2 6-3 6-2 6-2 6-2 6-2 6-2 6-2 6-2 7-1 6-2 6-1 6-2 6-1 6-2 6-1 6-1 6-1 6-1 6-1 6-1 6-1 6-1 6 0 7-1 6-1 6 0 6 0 6-1 6 0 6 0 6 0 6-1 6 0 6 1 6 0 6 0 6 0 6 0 6 1 6 0M588 1721l5-5 6-4 6-5 6-5 6-4 6-4 6-5 6-4 6-4 6-4 6-4 6-4 6-4 6-4 6-4 6-3 6-4 6-3 6-3 6-4 6-3 6-3 6-3 6-3 6-3 6-3 6-3 7-2 6-3 6-2 6-3 6-2 6-2 6-3 6-2 6-2 6-2 6-2 6-2 6-1 6-2 7-2 6-1 6-2 6-1 6-1 6-2 6-1 6-1 6-1 6-1 6-1 6-1 6 0 6-1 6-1 7 0 6-1 6 0 6-1 6 0 6 0 6 0 6 0 6 0 6 0 6 0 6 0 6 0 6 1 6 0 6 0M582 1720l5-5 6-5 6-5 6-4 6-5 6-4 6-4 6-5 6-4 6-4 6-4 6-4 6-4 6-4 6-3 6-4 6-3 6-4 6-3 6-3 6-4 6-3 6-3 6-3 6-3 6-2 6-3 6-3 7-2 6-3 6-2 6-3 6-2 6-2 6-2 6-2 6-2 6-2 6-2 6-2 6-2 6-1 7-2 6-1 6-2 6-1 6-1 6-2 6-1 6-1 6-1 6-1 6 0 6-1 6-1 6 0 6-1 7-1 6 0 6 0 6-1 6 0 6 0 6 0 6 0 6 0 6 0 6 0 6 1 6 0 6 0 6 1M576 1718l5-5 6-5 6-4 6-5 6-4 6-5 6-4 6-4 6-5 6-4 6-4 6-4 6-3 6-4 6-4 6-3 6-4 6-3 6-4 6-3 6-3 6-3 6-3 6-3 6-3 6-3 6-3 6-3 6-2 7-3 6-2 6-2 6-3 6-2 6-2 6-2 6-2 6-2 6-2 6-2 6-1 6-2 6-2 7-1 6-1 6-2 6-1 6-1 6-1 6-1 6-1 6-1 6-1 6-1 6-1 6 0 6-1 6 0 7-1 6 0 6 0 6 0 6-1 6 0 6 0 6 0 6 0 6 1 6 0 6 0 6 1 6 0M570 1716l5-5 6-4 6-5 6-5 6-4 6-5 6-4 6-4 6-4 6-4 6-4 6-4 6-4 6-4 6-4 6-3 6-4 6-3 6-3 6-4 6-3 6-3 6-3 6-3 6-3 6-3 6-3 6-2 6-3 6-2 7-3 6-2 6-2 6-3 6-2 6-2 6-2 6-2 6-2 6-1 6-2 6-2 6-1 6-2 7-1 6-1 6-2 6-1 6-1 6-1 6-1 6-1 6-1 6 0 6-1 6-1 6 0 6-1 6 0 7-1 6 0 6 0 6 0 6 0 6 0 6 0 6 0 6 0 6 0 6 0 6 1 6 0M564 1715l5-5 6-5 6-5 6-4 6-5 6-4 6-4 6-5 6-4 6-4 6-4 6-4 6-4 6-3 6-4 6-4 6-3 6-4 6-3 6-3 6-4 6-3 6-3 6-3 6-3 6-2 6-3 6-3 6-2 6-3 6-2 7-3 6-2 6-2 6-2 6-2 6-2 6-2 6-2 6-2 6-2 6-1 6-2 6-1 6-2 7-1 6-1 6-1 6-2 6-1 6-1 6 0 6-1 6-1 6-1 6 0 6-1 6 0 6-1 6 0 6-1 7 0 6 0 6 0 6 0 6 0 6 0 6 0 6 1 6 0 6 0 6 1M558 1713l5-5 6-5 6-4 6-5 6-4 6-5 6-4 6-4 6-4 6-5 6-4 6-3 6-4 6-4 6-4 6-3 6-4 6-3 6-4 6-3 6-3 6-3 6-3 6-3 6-3 6-3 6-3 6-2 6-3 6-2 6-3 6-2 7-3 6-2 6-2 6-2 6-2 6-2 6-2 6-1 6-2 6-2 6-1 6-2 6-1 7-2 6-1 6-1 6-1 6-1 6-1 6-1 6-1 6-1 6 0 6-1 6-1 6 0 6-1 6 0 6 0 6 0 7-1 6 0 6 0 6 0 6 0 6 1 6 0 6 0 6 1 6 0M552 1711l5-4 6-5 6-5 6-4 6-5 6-4 6-5 6-4 6-4 6-4 6-4 6-4 6-4 6-4 6-3 6-4 6-3 6-4 6-3 6-3 6-4 6-3 6-3 6-3 6-3 6-2 6-3 6-3 6-2 6-3 6-2 6-3 6-2 7-2 6-2 6-2 6-2 6-2 6-2 6-2 6-2 6-1 6-2 6-1 6-2 6-1 7-1 6-2 6-1 6-1 6-1 6-1 6 0 6-1 6-1 6-1 6 0 6-1 6 0 6 0 6-1 6 0 6 0 6 0 7 0 6 0 6 0 6 0 6 0 6 1 6 0 6 0M546 1710l5-5 6-5 6-4 6-5 6-4 6-5 6-4 6-4 6-5 6-4 6-4 6-4 6-3 6-4 6-4 6-3 6-4 6-3 6-4 6-3 6-3 6-3 6-3 6-3 6-3 6-3 6-3 6-2 6-3 6-3 6-2 6-2 6-3 6-2 7-2 6-2 6-2 6-2 6-2 6-2 6-1 6-2 6-1 6-2 6-1 6-2 6-1 7-1 6-1 6-1 6-1 6-1 6-1 6-1 6 0 6-1 6-1 6 0 6-1 6 0 6 0 6-1 6 0 6 0 6 0 6 0 6 0 7 1 6 0 6 0 6 0 6 1M540 1708l5-5 6-4 6-5 6-4 6-5 6-4 6-5 6-4 6-4 6-4 6-4 6-4 6-4 6-4 6-3 6-4 6-3 6-4 6-3 6-3 6-4 6-3 6-3 6-3 6-3 6-2 6-3 6-3 6-2 6-3 6-2 6-3 6-2 6-2 6-2 7-2 6-2 6-2 6-2 6-2 6-2 6-1 6-2 6-1 6-2 6-1 6-1 6-2 7-1 6-1 6-1 6-1 6-1 6 0 6-1 6-1 6 0 6-1 6 0 6 0 6-1 6 0 6 0 6 0 6 0 6 0 6 0 6 0 6 0 6 1 6 0 6 0M534 1707l5-5 6-5 6-4 6-5 6-4 6-5 6-4 6-4 6-4 6-5 6-4 6-3 6-4 6-4 6-4 6-3 6-4 6-3 6-4 6-3 6-3 6-3 6-3 6-3 6-3 6-3 6-3 6-2 6-3 6-2 6-3 6-2 6-3 6-2 6-2 6-2 7-2 6-2 6-2 6-1 6-2 6-2 6-1 6-2 6-1 6-2 6-1 6-1 6-1 7-1 6-1 6-1 6-1 6-1 6 0 6-1 6-1 6 0 6-1 6 0 6 0 6 0 6-1 6 0 6 0 6 0 6 0 6 1 6 0 6 0 6 0 6 1M528 1705l5-4 6-5 6-5 6-4 6-5 6-4 6-5 6-4 6-4 6-4 6-4 6-4 6-4 6-3 6-4 6-4 6-3 6-4 6-3 6-3 6-3 6-4 6-3 6-3 6-3 6-2 6-3 6-3 6-2 6-3 6-2 6-3 6-2 6-2 6-2 6-2 6-2 7-2 6-2 6-2 6-2 6-1 6-2 6-1 6-2 6-1 6-1 6-1 6-2 6-1 6-1 7-1 6 0 6-1 6-1 6-1 6 0 6-1 6 0 6 0 6-1 6 0 6 0 6 0 6 0 6 0 6 0 6 0 6 0 6 1 6 0 6 0M522 1704l5-5 6-5 6-4 6-5 6-4 6-5 6-4 6-4 6-4 6-4 6-4 6-4 6-4 6-4 6-4 6-3 6-4 6-3 6-3 6-4 6-3 6-3 6-3 6-3 6-3 6-3 6-2 6-3 6-3 6-2 6-3 6-2 6-2 6-3 6-2 6-2 6-2 6-2 7-1 6-2 6-2 6-2 6-1 6-2 6-1 6-1 6-2 6-1 6-1 6-1 6-1 6-1 7-1 6-1 6 0 6-1 6-1 6 0 6 0 6-1 6 0 6 0 6-1 6 0 6 0 6 0 6 0 6 1 6 0 6 0 6 0 6 1M516 1703l5-5 6-5 6-5 6-4 6-5 6-4 6-4 6-5 6-4 6-4 6-4 6-4 6-3 6-4 6-4 6-3 6-4 6-3 6-4 6-3 6-3 6-3 6-3 6-3 6-3 6-3 6-3 6-2 6-3 6-3 6-2 6-2 6-3 6-2 6-2 6-2 6-2 6-2 6-2 7-2 6-1 6-2 6-2 6-1 6-1 6-2 6-1 6-1 6-1 6-1 6-1 6-1 6-1 7-1 6-1 6 0 6-1 6 0 6-1 6 0 6-1 6 0 6 0 6 0 6 0 6 0 6 0 6 0 6 0 6 1 6 0 6 0M510 1701l6-5 5-4 6-5 6-5 6-4 6-4 6-5 6-4 6-4 6-4 6-4 6-4 6-4 6-4 6-3 5-4 6-3 6-4 6-3 6-3 6-4 7-3 6-3 6-3 6-3 6-2 6-3 6-3 6-2 6-3 6-2 6-3 6-2 6-2 6-2 6-2 6-2 6-2 6-2 6-2 7-2 6-1 6-2 6-1 6-2 6-1 6-1 6-2 6-1 6-1 6-1 6-1 6-1 6 0 7-1 6-1 6 0 6-1 6 0 6-1 6 0 6 0 6 0 6 0 6 0 6 0 6 0 6 0 6 0 6 0 6 1 6 0M504 1700l6-5 5-5 6-4 6-5 6-4 6-5 6-4 6-4 6-4 6-4 6-4 6-4 6-4 6-4 5-4 6-3 6-4 6-3 6-3 6-4 6-3 6-3 6-3 7-3 6-3 6-3 6-2 6-3 6-3 6-2 6-3 6-2 6-2 6-3 6-2 6-2 6-2 6-2 6-1 6-2 6-2 7-2 6-1 6-2 6-1 6-1 6-2 6-1 6-1 6-1 6-1 6-1 6-1 6-1 6 0 7-1 6-1 6 0 6-1 6 0 6 0 6 0 6-1 6 0 6 0 6 0 6 0 6 0 6 1 6 0 6 0 6 1M498 1699l6-5 5-5 6-5 6-4 6-5 6-4 6-4 6-4 6-5 6-4 6-4 6-4 6-3 5-4 6-4 6-3 6-4 6-3 6-4 6-3 6-3 6-3 6-3 6-3 6-3 7-3 6-3 6-2 6-3 6-2 6-3 6-2 6-3 6-2 6-2 6-2 6-2 6-2 6-2 6-2 6-1 6-2 7-1 6-2 6-1 6-2 6-1 6-1 6-1 6-1 6-1 6-1 6-1 6-1 6-1 6 0 7-1 6 0 6-1 6 0 6-1 6 0 6 0 6 0 6 0 6 0 6 0 6 0 6 0 6 1 6 0 6 0M492 1697l6-5 5-4 6-5 6-4 6-5 6-4 6-5 6-4 6-4 6-4 6-4 6-4 5-4 6-3 6-4 6-4 6-3 6-4 6-3 6-3 6-3 6-3 6-4 6-3 6-2 6-3 6-3 7-3 6-2 6-3 6-2 6-3 6-2 6-2 6-2 6-2 6-2 6-2 6-2 6-2 6-1 6-2 6-2 7-1 6-2 6-1 6-1 6-1 6-2 6-1 6-1 6-1 6 0 6-1 6-1 6-1 6 0 7-1 6 0 6 0 6-1 6 0 6 0 6 0 6 0 6 0 6 0 6 0 6 0 6 0 6 1 6 0M486 1696l6-5 5-4 6-5 6-5 6-4 6-4 6-5 6-4 6-4 6-4 6-4 6-4 5-4 6-4 6-3 6-4 6-3 6-4 6-3 6-3 6-4 6-3 6-3 6-3 6-3 6-2 6-3 6-3 7-2 6-3 6-2 6-3 6-2 6-2 6-2 6-2 6-2 6-2 6-2 6-2 6-2 6-1 6-2 6-1 7-2 6-1 6-1 6-2 6-1 6-1 6-1 6-1 6-1 6 0 6-1 6-1 6 0 6-1 6 0 7-1 6 0 6 0 6 0 6-1 6 0 6 0 6 0 6 1 6 0 6 0 6 0 6 1M480 1695l6-5 5-5 6-4 6-5 6-4 6-5 6-4 6-4 6-4 6-4 6-4 5-4 6-4 6-4 6-3 6-4 6-4 6-3 6-3 6-4 6-3 6-3 6-3 6-3 6-3 6-3 6-2 6-3 6-3 6-2 7-3 6-2 6-2 6-2 6-3 6-2 6-2 6-2 6-1 6-2 6-2 6-2 6-1 6-2 6-1 6-1 7-2 6-1 6-1 6-1 6-1 6-1 6-1 6-1 6 0 6-1 6-1 6 0 6-1 6 0 7 0 6-1 6 0 6 0 6 0 6 0 6 0 6 0 6 1 6 0 6 0 6 1M474 1694l6-5 5-5 6-4 6-5 6-4 6-5 6-4 6-4 6-4 6-5 6-3 5-4 6-4 6-4 6-4 6-3 6-4 6-3 6-3 6-4 6-3 6-3 6-3 6-3 6-3 6-3 6-2 6-3 6-3 6-2 6-3 7-2 6-2 6-3 6-2 6-2 6-2 6-2 6-2 6-1 6-2 6-2 6-1 6-2 6-1 6-1 6-2 7-1 6-1 6-1 6-1 6-1 6-1 6-1 6-1 6 0 6-1 6 0 6-1 6 0 6 0 7-1 6 0 6 0 6 0 6 0 6 0 6 0 6 0 6 1 6 0 6 0M468 1692l6-4 5-5 6-5 6-4 6-5 6-4 6-4 6-4 6-5 6-4 6-4 5-4 6-3 6-4 6-4 6-3 6-4 6-3 6-4 6-3 6-3 6-3 6-3 6-3 6-3 6-3 6-3 6-2 6-3 6-2 6-3 6-2 6-2 7-3 6-2 6-2 6-2 6-2 6-2 6-1 6-2 6-2 6-1 6-2 6-1 6-2 6-1 6-1 7-1 6-1 6-1 6-1 6-1 6-1 6-1 6 0 6-1 6 0 6-1 6 0 6-1 6 0 6 0 7 0 6 0 6 0 6 0 6 0 6 0 6 0 6 1 6 0M462 1691l6-4 6-5 5-5 6-4 6-5 6-4 6-4 6-5 6-4 6-4 6-4 5-4 6-3 6-4 6-4 6-3 6-4 6-3 6-4 6-3 6-3 6-3 6-3 6-3 6-3 6-3 6-3 6-2 6-3 6-2 6-3 6-2 6-3 6-2 7-2 6-2 6-2 6-2 6-2 6-2 6-1 6-2 6-1 6-2 6-1 6-2 6-1 6-1 6-1 7-1 6-1 6-1 6-1 6-1 6-1 6 0 6-1 6-1 6 0 6 0 6-1 6 0 6 0 6 0 7 0 6 0 6 0 6 0 6 0 6 0 6 1 6 0M456 1690l6-5 6-4 5-5 6-4 6-5 6-4 6-4 6-5 6-4 6-4 6-4 5-4 6-3 6-4 6-4 6-3 6-4 6-3 6-4 6-3 6-3 6-3 6-3 6-3 6-3 6-3 6-3 6-2 6-3 6-3 6-2 6-2 6-3 6-2 6-2 7-2 6-2 6-2 6-2 6-2 6-1 6-2 6-2 6-1 6-1 6-2 6-1 6-1 6-1 6-2 7-1 6 0 6-1 6-1 6-1 6-1 6 0 6-1 6 0 6-1 6 0 6 0 6 0 6 0 6 0 6 0 7 0 6 0 6 0 6 0 6 1 6 0M450 1689l6-5 6-4 5-5 6-4 6-5 6-4 6-4 6-5 6-4 6-4 5-4 6-4 6-4 6-3 6-4 6-3 6-4 6-3 6-4 6-3 6-3 6-3 6-3 6-3 6-3 6-3 6-3 6-2 6-3 6-3 6-2 6-2 6-3 6-2 6-2 6-2 7-2 6-2 6-2 6-2 6-1 6-2 6-2 6-1 6-1 6-2 6-1 6-1 6-2 6-1 6-1 7-1 6 0 6-1 6-1 6-1 6 0 6-1 6 0 6-1 6 0 6 0 6 0 6-1 6 0 6 0 6 0 6 1 7 0 6 0 6 0 6 1M444 1688l6-5 6-4 5-5 6-4 6-5 6-4 6-5 6-4 6-4 6-4 5-4 6-4 6-4 6-3 6-4 6-3 6-4 6-3 6-4 6-3 6-3 6-3 6-3 6-3 6-3 6-3 6-3 6-2 6-3 6-3 6-2 6-2 6-3 6-2 6-2 6-2 6-2 6-2 7-2 6-2 6-1 6-2 6-2 6-1 6-2 6-1 6-1 6-1 6-2 6-1 6-1 6-1 7 0 6-1 6-1 6-1 6 0 6-1 6 0 6-1 6 0 6 0 6 0 6-1 6 0 6 0 6 0 6 1 6 0 6 0 7 0 6 1M438 1687l6-5 6-4 5-5 6-4 6-5 6-4 6-5 6-4 6-4 6-4 5-4 6-4 6-4 6-3 6-4 6-3 6-4 6-3 6-4 6-3 6-3 6-3 6-3 6-3 6-3 6-3 6-3 6-2 6-3 6-3 6-2 6-2 6-3 6-2 6-2 6-2 6-2 6-2 6-2 7-2 6-1 6-2 6-2 6-1 6-1 6-2 6-1 6-1 6-2 6-1 6-1 6-1 6 0 7-1 6-1 6-1 6 0 6-1 6 0 6-1 6 0 6 0 6 0 6-1 6 0 6 0 6 0 6 1 6 0 6 0 6 0 6 1M432 1686l6-5 6-4 5-5 6-4 6-5 6-4 6-4 6-5 6-4 6-4 5-4 6-4 6-3 6-4 6-4 6-3 6-4 6-3 6-4 6-3 6-3 6-3 6-3 6-3 6-3 6-3 6-3 6-2 6-3 6-2 6-3 6-2 6-3 6-2 6-2 6-2 6-2 6-2 6-2 6-2 7-1 6-2 6-2 6-1 6-1 6-2 6-1 6-1 6-1 6-2 6-1 6-1 6 0 6-1 7-1 6-1 6 0 6-1 6 0 6-1 6 0 6 0 6 0 6-1 6 0 6 0 6 0 6 1 6 0 6 0 6 0 6 1M426 1685l6-5 6-4 6-5 5-4 6-5 6-4 6-4 6-5 6-4 6-4 5-4 6-4 6-3 6-4 6-4 6-3 6-4 6-3 6-4 6-3 6-3 6-3 6-3 6-3 6-3 6-3 6-3 6-2 6-3 6-2 6-3 6-2 6-2 6-3 6-2 6-2 6-2 6-2 6-2 6-2 6-1 7-2 6-1 6-2 6-1 6-2 6-1 6-1 6-1 6-2 6-1 6 0 6-1 6-1 6-1 7-1 6 0 6-1 6 0 6-1 6 0 6 0 6 0 6-1 6 0 6 0 6 0 6 1 6 0 6 0 6 0 6 1M420 1684l6-4 6-5 6-5 5-4 6-5 6-4 6-4 6-4 6-5 6-4 5-4 6-3 6-4 6-4 6-4 6-3 6-4 6-3 6-3 6-4 6-3 6-3 6-3 6-3 6-3 6-3 6-2 6-3 6-3 6-2 6-3 6-2 6-2 6-3 6-2 6-2 6-2 6-2 6-2 6-1 6-2 6-2 7-1 6-2 6-1 6-2 6-1 6-1 6-1 6-1 6-1 6-1 6-1 6-1 6-1 6 0 6-1 7-1 6 0 6-1 6 0 6 0 6 0 6 0 6-1 6 0 6 0 6 1 6 0 6 0 6 0 6 1M414 1683l6-4 6-5 6-5 5-4 6-5 6-4 6-4 6-4 6-4 6-5 6-3 5-4 6-4 6-4 6-4 6-3 6-4 6-3 6-3 6-4 6-3 6-3 6-3 6-3 6-3 6-3 6-2 6-3 6-3 6-2 6-3 6-2 6-2 6-2 6-3 6-2 6-2 6-2 6-1 6-2 6-2 6-2 6-1 7-2 6-1 6-2 6-1 6-1 6-1 6-1 6-1 6-1 6-1 6-1 6-1 6 0 6-1 6-1 7 0 6 0 6-1 6 0 6 0 6 0 6 0 6 0 6 0 6 0 6 0 6 0 6 0 6 1M408 1683l6-5 6-5 6-4 5-5 6-4 6-5 6-4 6-4 6-4 6-4 6-4 5-4 6-4 6-4 6-3 6-4 6-3 6-4 6-3 6-3 6-4 6-3 6-3 6-3 6-3 6-2 6-3 6-3 6-2 6-3 6-2 6-3 6-2 6-2 6-2 6-3 6-2 6-1 6-2 6-2 6-2 6-1 6-2 6-2 7-1 6-1 6-2 6-1 6-1 6-1 6-1 6-1 6-1 6-1 6-1 6 0 6-1 6 0 6-1 7 0 6-1 6 0 6 0 6 0 6 0 6 0 6 0 6 0 6 0 6 0 6 1 6 0M402 1682l6-5 6-5 6-4 6-5 5-4 6-5 6-4 6-4 6-4 6-4 6-4 5-4 6-4 6-4 6-3 6-4 6-3 6-4 6-3 6-3 6-3 6-4 6-3 6-3 6-2 6-3 6-3 6-3 6-2 6-3 6-2 6-3 6-2 6-2 6-2 6-2 6-2 6-2 6-2 6-2 6-2 6-1 6-2 6-1 6-2 6-1 7-1 6-2 6-1 6-1 6-1 6-1 6-1 6-1 6 0 6-1 6-1 6 0 6-1 6 0 7 0 6-1 6 0 6 0 6 0 6 0 6 0 6 0 6 0 6 0 6 1 6 0M396 1681l6-5 6-5 6-4 6-5 5-4 6-4 6-5 6-4 6-4 6-4 6-4 5-4 6-4 6-3 6-4 6-4 6-3 6-3 6-4 6-3 6-3 6-3 6-3 6-3 6-3 6-3 6-3 6-2 6-3 6-3 6-2 6-2 6-3 6-2 6-2 6-2 6-2 6-2 6-2 6-2 6-1 6-2 6-2 6-1 6-2 6-1 6-1 7-2 6-1 6-1 6-1 6-1 6-1 6 0 6-1 6-1 6-1 6 0 6-1 6 0 6 0 7-1 6 0 6 0 6 0 6 0 6 0 6 0 6 0 6 0 6 1 6 0M390 1680l6-5 6-4 6-5 6-4 5-5 6-4 6-4 6-5 6-4 6-4 6-4 5-4 6-3 6-4 6-4 6-3 6-4 6-3 6-4 6-3 6-3 6-3 6-3 6-3 6-3 6-3 6-3 6-2 6-3 6-2 6-3 6-2 6-2 6-3 6-2 6-2 6-2 6-2 6-2 6-1 6-2 6-2 6-1 6-2 6-1 6-2 6-1 6-1 7-1 6-2 6-1 6-1 6 0 6-1 6-1 6-1 6 0 6-1 6 0 6-1 6 0 6 0 6-1 7 0 6 0 6 0 6 0 6 0 6 0 6 1 6 0 6 0M384 1679l6-4 6-5 6-5 6-4 5-5 6-4 6-4 6-4 6-4 6-4 6-4 5-4 6-4 6-4 6-3 6-4 6-3 6-4 6-3 6-3 6-4 6-3 6-3 6-3 6-3 6-2 6-3 6-3 6-2 6-3 6-2 6-3 6-2 6-2 6-2 6-3 6-2 6-2 6-1 6-2 6-2 6-2 6-1 6-2 6-1 6-1 6-2 6-1 6-1 7-1 6-1 6-1 6-1 6-1 6-1 6 0 6-1 6-1 6 0 6-1 6 0 6 0 6 0 6-1 7 0 6 0 6 0 6 0 6 1 6 0 6 0 6 1M379 1679l5-5 6-5 6-4 6-5 6-4 5-5 6-4 6-4 6-4 6-4 6-4 5-4 6-4 6-3 6-4 6-4 6-3 6-4 6-3 6-3 6-3 6-3 6-4 6-2 6-3 6-3 6-3 6-3 6-2 6-3 6-2 6-3 6-2 6-2 6-2 6-2 6-2 6-2 6-2 6-2 6-2 6-1 6-2 6-1 6-2 6-1 6-1 6-2 6-1 6-1 7-1 6-1 6-1 6-1 6 0 6-1 6-1 6 0 6-1 6 0 6-1 6 0 6 0 6 0 6 0 7 0 6 0 6 0 6 0 6 0 6 0 6 1M373 1678l5-5 6-4 6-5 6-5 6-4 5-4 6-5 6-4 6-4 6-4 6-4 5-4 6-3 6-4 6-4 6-3 6-4 6-3 6-4 6-3 6-3 6-3 6-3 6-3 6-3 6-3 6-3 6-2 6-3 6-2 6-3 6-2 6-2 6-3 6-2 6-2 6-2 6-2 6-2 6-2 6-1 6-2 6-2 6-1 6-1 6-2 6-1 6-1 6-2 6-1 6-1 7-1 6-1 6 0 6-1 6-1 6 0 6-1 6-1 6 0 6 0 6-1 6 0 6 0 6 0 6 0 6 0 7 0 6 0 6 0 6 1 6 0M367 1677l5-4 6-5 6-5 6-4 6-5 5-4 6-4 6-4 6-4 6-4 6-4 6-4 5-4 6-4 6-3 6-4 6-3 6-4 6-3 6-3 6-4 6-3 6-3 6-3 6-3 6-2 6-3 6-3 6-2 6-3 6-2 6-3 6-2 6-2 6-2 6-3 6-2 6-2 6-1 6-2 6-2 6-2 6-1 6-2 6-1 6-2 6-1 6-1 6-1 6-1 6-1 6-1 7-1 6-1 6-1 6-1 6 0 6-1 6 0 6-1 6 0 6 0 6-1 6 0 6 0 6 0 6 0 6 0 7 0 6 1 6 0 6 0M361 1677l6-5 5-5 6-4 6-5 6-4 5-5 6-4 6-4 6-4 6-4 6-4 6-4 5-4 6-3 6-4 6-4 6-3 6-4 6-3 6-3 6-3 6-3 6-3 6-3 6-3 6-3 6-3 5-2 6-3 6-3 6-2 6-2 7-3 6-2 6-2 6-2 6-2 6-2 6-2 6-2 6-2 6-1 6-2 6-1 6-2 6-1 6-1 6-2 6-1 6-1 6-1 6-1 6-1 7-1 6 0 6-1 6-1 6 0 6-1 6 0 6-1 6 0 6 0 6 0 6 0 6-1 6 1 6 0 6 0 7 0 6 0 6 1M355 1676l6-5 5-4 6-5 6-4 6-5 6-4 5-4 6-5 6-4 6-4 6-4 6-3 5-4 6-4 6-4 6-3 6-4 6-3 6-3 6-4 6-3 6-3 6-3 6-3 6-3 6-3 5-2 6-3 6-3 6-2 6-3 6-2 6-2 6-3 7-2 6-2 6-2 6-2 6-2 6-1 6-2 6-2 6-1 6-2 6-1 6-2 6-1 6-1 6-1 6-2 6-1 6-1 6 0 6-1 7-1 6-1 6 0 6-1 6 0 6-1 6 0 6-1 6 0 6 0 6 0 6 0 6 0 6 0 6 0 6 0 6 1 7 0M349 1675l6-4 5-5 6-5 6-4 6-4 6-5 5-4 6-4 6-4 6-4 6-4 6-4 5-4 6-4 6-3 6-4 6-3 6-4 6-3 6-3 6-3 6-4 6-3 6-3 6-2 5-3 6-3 6-3 6-2 6-3 6-2 6-3 6-2 6-2 6-2 6-2 7-2 6-2 6-2 6-2 6-2 6-1 6-2 6-1 6-2 6-1 6-2 6-1 6-1 6-1 6-1 6-1 6-1 6-1 6-1 7 0 6-1 6-1 6 0 6-1 6 0 6 0 6 0 6-1 6 0 6 0 6 0 6 0 6 0 6 1 6 0 6 0M343 1675l6-5 6-4 5-5 6-5 6-4 6-4 5-5 6-4 6-4 6-4 6-4 6-4 6-3 5-4 6-4 6-3 6-4 6-3 6-4 6-3 6-3 6-3 6-3 6-3 6-3 5-3 6-2 6-3 6-3 6-2 6-3 6-2 6-2 6-3 6-2 6-2 6-2 6-2 7-2 6-2 6-1 6-2 6-1 6-2 6-1 6-2 6-1 6-1 6-2 6-1 6-1 6-1 6-1 6 0 6-1 6-1 7-1 6 0 6-1 6 0 6 0 6-1 6 0 6 0 6 0 6 0 6 0 6 0 6 0 6 0 6 0 6 1M337 1674l6-4 6-5 5-5 6-4 6-4 6-5 6-4 5-4 6-4 6-4 6-4 6-4 6-4 5-4 6-3 6-4 6-3 6-4 6-3 6-3 6-3 6-4 6-3 6-3 6-2 5-3 6-3 6-3 6-2 6-3 6-2 6-3 6-2 6-2 6-2 6-2 6-2 6-2 6-2 7-2 6-2 6-1 6-2 6-2 6-1 6-1 6-2 6-1 6-1 6-1 6-1 6-1 6-1 6-1 6-1 6 0 6-1 7-1 6 0 6-1 6 0 6 0 6-1 6 0 6 0 6 0 6 0 6 0 6 0 6 1 6 0 6 0M331 1674l6-5 6-5 5-4 6-5 6-4 6-4 6-5 5-4 6-4 6-4 6-4 6-4 6-3 5-4 6-4 6-3 6-4 6-3 6-3 6-4 6-3 6-3 6-3 6-3 6-3 5-3 6-2 6-3 6-3 6-2 6-3 6-2 6-2 6-3 6-2 6-2 6-2 6-2 6-2 6-2 7-1 6-2 6-2 6-1 6-1 6-2 6-1 6-1 6-2 6-1 6-1 6-1 6-1 6-1 6 0 6-1 6-1 6 0 7-1 6 0 6-1 6 0 6 0 6 0 6 0 6 0 6 0 6 0 6 0 6 0 6 0 6 1M761 1786l-6-3-6-2-6-3-6-3-6-2-6-3-6-2-6-3-6-2-6-3-6-2-6-2-6-3-6-2-6-2-6-2-6-2-6-2-6-3-6-2-6-2-6-2-6-2-6-2-6-1-6-2-6-2-6-2-5-2-6-1-6-2-6-2-6-1-6-2-6-2-6-1-6-2-6-1-6-2-6-1-6-1-6-2-6-1-6-1-6-2-6-1-6-1-6-1-6-2-6-1-6-1-6-1-6-1-6-1-6-1-6-1-6-1-6-1-6 0-6-1-6-1-6-1-6-1-5 0-6-1-6-1-6 0-6-1-6-1-6 0-6-1-6 0M767 1781l-6-3-6-2-6-3-6-3-6-2-6-3-6-2-6-3-6-2-6-2-6-3-6-2-6-2-6-3-6-2-6-2-6-2-6-2-6-2-6-3-6-2-6-2-6-1-6-2-6-2-6-2-6-2-6-2-6-2-6-1-6-2-6-2-6-1-6-2-6-1-6-2-6-2-6-1-6-1-6-2-6-1-5-2-6-1-6-1-6-2-6-1-6-1-6-1-6-1-6-1-6-2-6-1-6-1-6-1-6-1-6-1-6 0-6-1-6-1-6-1-6-1-6-1-6 0-6-1-6-1-6 0-5-1-6-1-6 0-6-1-6 0-6-1M773 1776l-6-2-6-3-6-3-6-2-6-3-6-2-6-3-6-2-6-3-6-2-6-3-6-2-6-2-6-2-6-3-6-2-6-2-6-2-6-2-6-2-6-2-6-2-6-2-6-2-6-2-6-2-6-2-6-2-6-1-6-2-6-2-6-1-6-2-6-2-6-1-6-2-6-1-6-2-6-1-6-2-6-1-6-1-6-2-6-1-6-1-6-1-6-2-6-1-6-1-5-1-6-1-6-1-6-1-6-1-6-1-6-1-6-1-6-1-6-1-6-1-6-1-6 0-6-1-6-1-6 0-6-1-6-1-6 0-6-1-5 0-6-1-6-1M779 1771l-6-2-6-3-6-3-6-2-6-3-6-2-6-3-6-2-6-3-6-2-6-2-6-3-6-2-6-2-6-2-6-3-6-2-6-2-6-2-6-2-6-2-6-2-6-2-6-2-6-2-6-2-6-1-6-2-6-2-6-2-6-1-6-2-6-2-6-1-6-2-6-1-6-2-6-1-6-2-6-1-6-2-6-1-6-1-6-2-6-1-6-1-6-1-6-1-6-2-6-1-6-1-6-1-6-1-6-1-6-1-5-1-6-1-6-1-6 0-6-1-6-1-6-1-6-1-6 0-6-1-6-1-6 0-6-1-6-1-6 0-6-1-6 0M785 1767l-6-3-6-3-6-2-6-3-6-2-6-3-6-2-6-3-6-2-6-3-6-2-6-2-6-3-6-2-6-2-6-2-6-2-6-2-6-3-6-2-6-2-6-2-6-2-6-1-6-2-6-2-6-2-6-2-6-2-6-1-6-2-6-2-6-1-6-2-6-1-6-2-6-1-6-2-6-1-6-2-6-1-6-2-6-1-6-1-6-1-6-2-6-1-6-1-6-1-6-1-6-1-6-1-6-1-6-1-6-1-6-1-6-1-6-1-6-1-5-1-6-1-6 0-6-1-6-1-6-1-6 0-6-1-6 0-6-1-6-1-6 0-6-1M791 1762l-6-2-6-3-6-3-6-2-6-3-6-2-6-3-6-2-6-3-6-2-6-2-6-3-6-2-6-2-6-3-6-2-6-2-6-2-6-2-6-2-6-2-6-2-6-2-6-2-6-2-6-2-6-1-6-2-6-2-6-2-6-1-6-2-6-2-6-1-6-2-6-1-6-2-6-1-6-2-6-1-6-2-6-1-6-1-6-2-6-1-6-1-6-1-6-1-6-2-6-1-6-1-6-1-6-1-6-1-6-1-6-1-6-1-6-1-6 0-6-1-6-1-6-1-6-1-5 0-6-1-6-1-6 0-6-1-6 0-6-1-6 0-6-1M797 1758l-6-3-6-3-6-2-6-3-6-2-6-3-6-2-6-3-6-2-6-3-6-2-6-2-6-3-6-2-6-2-6-2-6-2-6-2-6-2-6-3-6-2-6-2-6-1-6-2-6-2-6-2-6-2-6-2-6-1-6-2-6-2-6-2-6-1-6-2-6-1-6-2-6-1-6-2-6-1-6-2-6-1-6-1-6-2-6-1-6-1-6-1-6-2-6-1-6-1-6-1-6-1-6-1-6-1-6-1-6-1-6-1-6-1-6-1-6-1-6-1-6 0-6-1-6-1-6-1-6 0-6-1-6-1-5 0-6-1-6 0-6-1-6 0M803 1753l-6-2-6-3-6-3-6-2-6-3-6-2-6-3-6-2-6-3-6-2-6-2-6-3-6-2-6-2-6-2-6-3-6-2-6-2-6-2-6-2-6-2-6-2-6-2-6-2-6-2-6-1-6-2-6-2-6-2-6-1-6-2-6-2-6-1-6-2-6-2-6-1-6-2-6-1-6-2-6-1-6-1-6-2-6-1-6-1-6-2-6-1-6-1-6-1-6-1-6-1-6-1-6-1-6-2-6-1-6 0-6-1-6-1-6-1-6-1-6-1-6-1-6 0-6-1-6-1-6-1-6 0-6-1-6 0-6-1-6-1-5 0-6-1M809 1749l-6-3-6-2-6-3-6-3-6-2-6-3-6-2-6-2-6-3-6-2-6-3-6-2-6-2-6-2-6-3-6-2-6-2-6-2-6-2-6-2-6-2-6-2-6-2-6-2-6-2-6-2-6-1-6-2-6-2-6-2-6-1-6-2-6-2-6-1-6-2-6-1-6-2-6-1-6-2-6-1-6-2-6-1-6-1-6-1-6-2-6-1-6-1-6-1-6-1-6-2-6-1-6-1-6-1-6-1-6-1-6-1-6 0-6-1-6-1-6-1-6-1-6-1-6 0-6-1-6-1-6 0-6-1-6-1-6 0-6-1-6 0-6-1M815 1745l-6-3-6-3-6-2-6-3-6-2-6-3-6-2-6-3-6-2-6-2-6-3-6-2-6-2-6-3-6-2-6-2-6-2-6-2-6-2-6-2-6-2-6-2-6-2-6-2-6-2-6-2-6-2-6-1-6-2-6-2-6-2-6-1-6-2-6-1-6-2-6-2-6-1-6-1-6-2-6-1-6-2-6-1-6-1-6-2-6-1-6-1-6-1-6-1-6-2-6-1-6-1-6-1-6-1-6-1-6-1-6-1-6-1-6 0-6-1-6-1-6-1-6-1-6 0-6-1-6-1-6 0-6-1-6-1-6 0-6-1-6 0-6-1M821 1741l-6-3-6-3-6-2-6-3-6-2-6-3-6-2-6-3-6-2-6-3-6-2-6-2-6-3-6-2-6-2-6-2-6-2-6-2-6-2-6-2-6-2-6-2-6-2-6-2-6-2-6-2-6-2-6-2-6-1-6-2-6-2-6-1-6-2-6-2-6-1-6-2-6-1-6-2-6-1-6-1-6-2-6-1-6-1-6-2-6-1-6-1-6-1-6-2-6-1-6-1-6-1-6-1-6-1-6-1-6-1-6-1-6-1-6-1-6 0-6-1-6-1-6-1-6 0-6-1-6-1-6 0-6-1-6-1-6 0-6-1-6 0-6-1M827 1737l-6-3-6-3-6-2-6-3-6-2-6-3-6-2-6-3-6-2-6-3-6-2-6-2-6-3-6-2-6-2-6-2-6-2-6-2-6-2-6-2-6-2-6-2-6-2-6-2-6-2-6-2-6-2-6-2-6-1-6-2-6-2-6-1-6-2-6-2-6-1-6-2-6-1-6-2-6-1-6-1-6-2-6-1-6-1-6-2-6-1-6-1-6-1-6-1-6-2-6-1-6-1-7-1-6-1-6-1-6-1-6-1-6-1-5 0-6-1-6-1-6-1-6-1-6 0-6-1-6-1-6 0-6-1-6-1-6 0-6-1-6 0-6-1M833 1733l-6-3-6-3-6-2-6-3-6-2-6-3-6-2-6-3-6-2-6-3-6-2-6-2-6-2-6-3-6-2-6-2-6-2-6-2-6-2-6-2-6-2-6-2-6-2-6-2-6-2-6-2-6-2-6-1-6-2-6-2-6-2-6-1-6-2-6-1-6-2-6-2-6-1-6-1-6-2-6-1-6-2-6-1-6-1-6-2-6-1-6-1-7-1-6-1-6-2-6-1-6-1-6-1-6-1-6-1-6-1-6-1-6 0-6-1-6-1-6-1-6-1-6-1-6 0-6-1-6-1-5 0-6-1-6 0-6-1-6-1-6 0-6-1M840 1729l-6-3-6-3-6-2-6-3-6-2-6-3-6-2-6-3-7-2-6-2-6-3-6-2-6-2-6-3-6-2-6-2-6-2-6-2-6-2-6-2-6-2-6-2-6-2-6-2-6-2-6-2-6-2-6-1-6-2-6-2-6-1-6-2-6-2-6-1-6-2-6-1-6-2-6-1-6-2-6-1-6-1-6-2-6-1-6-1-7-2-6-1-6-1-6-1-6-1-6-1-6-1-6-2-6-1-6-1-6 0-6-1-6-1-6-1-6-1-6-1-6-1-6 0-6-1-6-1-6 0-6-1-6-1-6 0-6-1-5 0-6-1-6 0M846 1725l-6-3-6-2-6-3-6-3-6-2-6-3-6-2-6-3-6-2-6-2-7-3-6-2-6-2-6-2-6-3-6-2-6-2-6-2-6-2-6-2-6-2-6-2-6-2-6-2-6-2-6-2-6-1-6-2-6-2-6-2-6-1-6-2-6-1-6-2-6-2-6-1-6-2-6-1-6-1-6-2-6-1-6-2-6-1-7-1-6-1-6-2-6-1-6-1-6-1-6-1-6-1-6-1-6-1-6-1-6-1-6-1-6-1-6-1-6-1-6-1-6 0-6-1-6-1-6 0-6-1-6-1-6 0-6-1-6-1-6 0-6-1-6 0M852 1721l-6-3-6-2-6-3-6-2-6-3-6-2-6-3-6-2-6-3-6-2-6-2-6-3-7-2-6-2-6-2-6-2-6-3-6-2-6-2-6-2-6-2-6-2-6-2-6-2-6-1-6-2-6-2-6-2-6-2-6-1-6-2-6-2-6-1-6-2-6-1-6-2-6-1-6-2-6-1-6-2-6-1-6-1-7-2-6-1-6-1-6-1-6-1-6-2-6-1-6-1-6-1-6-1-6-1-6-1-6-1-6-1-6-1-6-1-6 0-6-1-6-1-6-1-6 0-6-1-6-1-6 0-6-1-6-1-6 0-6-1-6 0-6-1M858 1717l-6-2-6-3-6-2-6-3-6-3-6-2-6-2-6-3-6-2-6-3-6-2-6-2-6-2-6-3-7-2-6-2-6-2-6-2-6-2-6-2-6-2-6-2-6-2-6-2-6-2-6-2-6-2-6-1-6-2-6-2-6-1-6-2-6-2-6-1-6-2-6-1-6-2-6-1-6-2-6-1-6-1-7-2-6-1-6-1-6-2-6-1-6-1-6-1-6-1-6-1-6-1-6-1-6-1-6-1-6-1-6-1-6-1-6-1-6-1-6-1-6-1-6 0-6-1-6-1-6 0-6-1-6-1-6 0-6-1-6 0-6-1-6 0M864 1714l-6-3-6-2-6-3-6-3-6-2-6-3-6-2-6-2-6-3-6-2-6-3-6-2-6-2-6-2-6-2-6-3-7-2-6-2-6-2-6-2-6-2-6-2-6-2-6-2-6-2-6-1-6-2-6-2-6-2-6-1-6-2-6-2-6-1-6-2-6-1-6-2-6-1-6-2-6-1-6-2-6-1-7-1-6-2-6-1-6-1-6-1-6-2-6-1-6-1-6-1-6-1-6-1-6-1-6-1-6-1-6-1-6-1-6-1-6 0-6-1-6-1-6-1-6 0-6-1-6-1-6 0-6-1-6-1-6 0-6-1-6 0-6-1M870 1710l-6-2-6-3-6-2-6-3-6-3-6-2-6-2-6-3-6-2-6-3-6-2-6-2-6-3-6-2-6-2-6-2-6-2-7-2-6-2-6-2-6-2-6-2-6-2-6-2-6-2-6-2-6-2-6-1-6-2-6-2-6-1-6-2-6-2-6-1-6-2-6-1-6-2-6-1-6-2-6-1-6-1-7-2-6-1-6-1-6-2-6-1-6-1-6-1-6-1-6-1-6-1-6-1-6-1-6-1-6-1-6-1-6-1-6-1-6-1-6-1-6 0-6-1-6-1-6-1-6 0-6-1-6-1-6 0-6-1-6 0-6-1-6 0M876 1707l-6-3-6-2-6-3-6-2-6-3-6-2-6-3-6-2-6-3-6-2-6-2-6-3-6-2-6-2-6-2-6-2-6-3-6-2-7-2-6-2-6-2-6-2-6-2-6-1-6-2-6-2-6-2-6-2-6-1-6-2-6-2-6-1-6-2-6-2-6-1-6-2-6-1-6-2-6-1-6-1-6-2-7-1-6-1-6-2-6-1-6-1-6-1-6-1-6-2-6-1-6-1-6-1-6-1-6-1-6-1-6-1-6 0-6-1-6-1-6-1-6-1-6-1-6 0-6-1-6-1-6 0-6-1-6 0-6-1-6-1-6 0-6 0M882 1704l-6-3-6-3-6-2-6-3-6-2-6-3-6-2-6-3-6-2-6-2-6-3-6-2-6-2-6-2-6-3-6-2-6-2-6-2-6-2-6-2-7-2-6-2-6-2-6-2-6-2-6-1-6-2-6-2-6-2-6-1-6-2-6-2-6-1-6-2-6-1-6-2-6-1-6-2-6-1-6-2-6-1-7-1-6-2-6-1-6-1-6-1-6-2-6-1-6-1-6-1-6-1-6-1-6-1-6-1-6-1-6-1-6-1-6-1-6 0-6-1-6-1-6-1-6 0-6-1-6-1-6 0-6-1-6-1-6 0-6-1-6 0-6-1M888 1700l-6-2-6-3-6-2-6-3-6-3-6-2-6-2-6-3-6-2-6-3-6-2-6-2-6-2-6-3-6-2-6-2-6-2-6-2-6-2-6-2-6-2-7-2-6-2-6-2-6-2-6-2-6-1-6-2-6-2-6-2-6-1-6-2-6-2-6-1-6-2-6-1-6-2-6-1-6-1-6-2-6-1-7-2-6-1-6-1-6-1-6-2-6-1-6-1-6-1-6-1-6-1-6-1-6-1-6-1-6-1-6-1-6-1-6-1-6-1-6 0-6-1-6-1-6-1-6 0-6-1-6-1-6 0-6-1-6 0-6-1-6 0-6-1M894 1697l-6-2-6-3-6-3-6-2-6-3-6-2-6-3-6-2-6-2-6-3-6-2-6-2-6-3-6-2-6-2-6-2-6-2-6-2-6-2-6-2-6-2-6-2-7-2-6-2-6-2-6-2-6-2-6-1-6-2-6-2-6-1-6-2-6-2-6-1-6-2-6-1-6-2-6-1-6-2-6-1-6-1-6-2-7-1-6-1-6-1-6-2-6-1-6-1-6-1-6-1-6-1-6-1-6-1-6-1-6-1-6-1-6-1-6-1-6-1-6-1-6 0-6-1-6-1-6 0-6-1-6-1-6 0-6-1-6-1-6 0-6-1-6 0M900 1694l-6-2-6-3-6-3-6-2-6-3-6-2-6-3-6-2-6-2-6-3-6-2-6-2-6-3-6-2-6-2-6-2-6-2-6-2-6-2-6-2-6-2-6-2-6-2-7-2-6-2-6-2-6-2-6-1-6-2-6-2-6-1-6-2-6-2-6-1-6-2-6-1-6-2-6-1-6-2-6-1-6-1-6-2-7-1-6-1-6-2-6-1-6-1-6-1-6-1-6-1-6-1-6-1-6-1-6-1-6-1-6-1-6-1-6-1-6-1-6-1-6 0-6-1-6-1-6-1-6 0-6-1-6 0-6-1-6-1-6 0-6-1-6 0M906 1691l-6-2-6-3-6-3-6-2-6-3-6-2-6-3-6-2-6-2-6-3-6-2-6-2-6-3-6-2-6-2-6-2-6-2-6-2-6-2-6-2-6-2-6-2-6-2-6-2-7-2-6-2-6-2-6-1-6-2-6-2-6-1-6-2-6-2-6-1-6-2-6-1-6-2-6-1-6-2-6-1-6-1-6-2-6-1-7-1-6-2-6-1-6-1-6-1-6-1-6-1-6-1-6-1-6-1-6-1-6-1-6-1-6-1-6-1-6-1-6-1-6 0-6-1-6-1-6 0-6-1-6-1-6 0-6-1-6-1-6 0-6-1-6 0M912 1688l-6-2-6-3-6-3-6-2-6-3-6-2-6-3-6-2-6-2-6-3-6-2-6-2-6-3-6-2-6-2-6-2-6-2-6-2-6-2-6-2-6-2-6-2-6-2-6-2-6-2-7-2-6-2-6-1-6-2-6-2-6-1-6-2-6-2-6-1-6-2-6-1-6-2-6-1-6-2-6-1-6-1-6-2-6-1-7-1-6-1-6-2-6-1-6-1-6-1-6-1-6-1-6-1-6-1-6-1-6-1-6-1-6-1-6-1-6-1-6 0-6-1-6-1-6-1-6 0-6-1-6-1-6 0-6-1-6 0-6-1-6 0-6-1M918 1685l-6-2-6-3-6-2-6-3-6-2-6-3-6-2-6-3-6-2-6-3-6-2-6-2-6-2-6-3-6-2-6-2-6-2-6-2-6-2-6-2-6-2-6-2-6-2-6-2-6-2-6-2-6-1-7-2-6-2-6-1-6-2-6-2-6-1-6-2-6-1-6-2-6-1-6-2-6-1-6-2-6-1-6-1-6-2-6-1-7-1-6-1-6-2-6-1-6-1-6-1-6-1-6-1-6-1-6-1-6-1-6-1-6-1-6-1-6 0-6-1-6-1-6-1-6 0-6-1-6-1-6 0-6-1-6-1-7 0-6-1-6 0-6-1M924 1683l-6-3-6-3-6-2-6-3-6-2-6-3-6-2-6-3-6-2-6-2-6-3-6-2-6-2-6-2-6-3-6-2-6-2-6-2-6-2-6-2-6-2-6-2-6-2-6-2-6-1-6-2-6-2-6-2-7-2-6-1-6-2-6-2-6-1-6-2-6-1-6-2-6-1-6-2-6-1-6-1-6-2-6-1-6-1-6-2-7-1-6-1-6-1-6-1-6-2-6-1-6-1-6-1-6-1-6-1-6-1-6-1-6 0-6-1-6-1-6-1-6-1-6-1-6 0-6-1-6-1-6 0-6-1-7 0-6-1-6 0-6-1-6 0M931 1680l-6-3-6-2-6-3-6-2-6-3-7-2-6-3-6-2-6-3-6-2-6-2-6-3-6-2-6-2-6-2-6-2-6-2-6-2-6-3-6-2-6-2-6-1-6-2-6-2-6-2-6-2-6-2-6-1-6-2-7-2-6-2-6-1-6-2-6-1-6-2-6-1-6-2-6-1-6-2-6-1-6-1-6-2-6-1-6-1-6-2-7-1-6-1-6-1-6-1-6-1-6-1-6-1-6-1-6-1-6-1-6-1-6-1-6-1-6-1-6-1-6 0-6-1-6-1-6-1-6 0-6-1-7 0-6-1-6-1-6 0-6-1-6 0M937 1677l-6-2-6-3-6-2-6-3-6-3-6-2-6-2-6-3-7-2-6-3-6-2-6-2-6-2-6-3-6-2-6-2-6-2-6-2-6-2-6-2-6-2-6-2-6-2-6-2-6-2-6-2-6-1-6-2-6-2-6-1-7-2-6-2-6-1-6-2-6-1-6-2-6-1-6-2-6-1-6-2-6-1-6-1-6-2-6-1-6-1-6-1-7-2-6-1-6-1-6-1-6-1-6-1-6-1-6-1-6-1-6-1-6-1-6-1-6 0-6-1-6-1-6-1-6 0-6-1-6-1-6 0-7-1-6-1-6 0-6-1-6 0-6-1M943 1675l-6-3-6-2-6-3-6-3-6-2-6-3-6-2-6-2-6-3-6-2-6-2-7-3-6-2-6-2-6-2-6-2-6-3-6-2-6-2-6-2-6-2-6-2-6-1-6-2-6-2-6-2-6-2-6-2-6-1-6-2-6-2-7-1-6-2-6-1-6-2-6-2-6-1-6-1-6-2-6-1-6-2-6-1-6-1-6-1-6-2-6-1-7-1-6-1-6-1-6-1-6-2-6-1-6-1-6-1-6 0-6-1-6-1-6-1-6-1-6-1-6-1-6 0-6-1-6-1-6 0-6-1-7-1-6 0-6-1-6 0-6-1-6 0M949 1672l-6-2-6-3-6-2-6-3-6-3-6-2-6-2-6-3-6-2-6-3-6-2-6-2-6-2-7-3-6-2-6-2-6-2-6-2-6-2-6-2-6-2-6-2-6-2-6-2-6-2-6-1-6-2-6-2-6-2-6-1-6-2-6-2-7-1-6-2-6-1-6-2-6-1-6-2-6-1-6-2-6-1-6-1-6-2-6-1-6-1-6-1-6-2-7-1-6-1-6-1-6-1-6-1-6-1-6-1-6-1-6-1-6-1-6-1-6 0-6-1-6-1-6-1-6 0-6-1-6-1-6 0-7-1-6-1-6 0-6-1-6 0-6-1M955 1670l-6-3-6-2-6-3-6-2-6-3-6-2-6-3-6-2-6-3-6-2-6-2-6-2-6-3-6-2-6-2-7-2-6-2-6-2-6-2-6-2-6-2-6-2-6-2-6-2-6-2-6-2-6-2-6-1-6-2-6-2-6-1-6-2-6-2-7-1-6-2-6-1-6-2-6-1-6-2-6-1-6-1-6-2-6-1-6-1-6-2-6-1-6-1-6-1-7-1-6-1-6-1-6-1-6-1-6-1-6-1-6-1-6-1-6-1-6-1-6-1-6 0-6-1-6-1-6-1-6 0-6-1-7 0-6-1-6-1-6 0-6-1-6 0M961 1668l-6-3-6-3-6-2-6-3-6-2-6-3-6-2-6-2-6-3-6-2-6-2-6-3-6-2-6-2-6-2-6-3-6-2-7-2-6-2-6-2-6-2-6-2-6-2-6-1-6-2-6-2-6-2-6-2-6-1-6-2-6-2-6-1-6-2-6-2-7-1-6-2-6-1-6-2-6-1-6-1-6-2-6-1-6-1-6-2-6-1-6-1-6-1-6-1-7-1-6-2-6-1-6-1-6-1-6-1-6-1-6 0-6-1-6-1-6-1-6-1-6-1-6 0-6-1-6-1-6 0-6-1-6-1-7 0-6-1-6 0-6-1-6 0M967 1665l-6-2-6-3-6-2-6-3-6-2-6-3-6-2-6-3-6-2-6-2-6-3-6-2-6-2-6-2-6-3-6-2-6-2-6-2-6-2-7-2-6-2-6-2-6-2-6-2-6-2-6-1-6-2-6-2-6-2-6-1-6-2-6-2-6-1-6-2-6-1-7-2-6-1-6-2-6-1-6-2-6-1-6-1-6-2-6-1-6-1-6-1-6-1-6-2-6-1-7-1-6-1-6-1-6-1-6-1-6-1-6-1-6-1-6 0-6-1-6-1-6-1-6-1-6 0-6-1-6-1-6 0-6-1-7-1-6 0-6-1-6 0-6-1M973 1663l-6-2-6-3-6-2-6-3-6-3-6-2-6-2-6-3-6-2-6-3-6-2-6-2-6-2-6-3-6-2-6-2-6-2-6-2-6-2-6-2-7-2-6-2-6-2-6-2-6-2-6-1-6-2-6-2-6-2-6-1-6-2-6-2-6-1-6-2-6-1-6-2-7-1-6-2-6-1-6-2-6-1-6-1-6-2-6-1-6-1-6-1-6-2-6-1-6-1-6-1-7-1-6-1-6-1-6-1-6-1-6-1-6-1-6-1-6 0-6-1-6-1-6-1-6 0-6-1-6-1-6 0-6-1-6-1-7 0-6-1-6 0-6-1M979 1661l-6-2-6-3-6-3-6-2-6-3-6-2-6-2-6-3-6-2-6-3-6-2-6-2-6-2-6-3-6-2-6-2-6-2-6-2-6-2-6-2-6-2-6-2-7-2-6-2-6-2-6-2-6-1-6-2-6-2-6-1-6-2-6-2-6-1-6-2-6-1-6-2-6-1-7-2-6-1-6-2-6-1-6-1-6-2-6-1-6-1-6-1-6-2-6-1-6-1-6-1-6-1-7-1-6-1-6-1-6-1-6-1-6-1-6-1-6-1-6 0-6-1-6-1-6-1-6 0-6-1-6-1-6 0-6-1-7 0-6-1-6 0-6-1M985 1659l-6-2-6-3-6-3-6-2-6-3-6-2-6-2-6-3-6-2-6-3-6-2-6-2-6-2-6-3-6-2-6-2-6-2-6-2-6-2-6-2-6-2-6-2-6-2-7-2-6-2-6-2-6-1-6-2-6-2-6-1-6-2-6-2-6-1-6-2-6-1-6-2-6-1-6-2-7-1-6-2-6-1-6-1-6-2-6-1-6-1-6-1-6-2-6-1-6-1-6-1-6-1-6-1-7-1-6-1-6-1-6-1-6-1-6-1-6-1-6 0-6-1-6-1-6-1-6 0-6-1-6-1-6 0-6-1-6 0-7-1-6 0-6-1M991 1657l-6-2-6-3-6-2-6-3-6-2-6-3-6-2-6-3-6-2-6-2-6-3-6-2-6-2-6-3-6-2-6-2-6-2-6-2-6-2-6-2-6-2-6-2-6-2-6-2-7-2-6-1-6-2-6-2-6-2-6-1-6-2-6-2-6-1-6-2-6-1-6-2-6-1-6-2-6-1-7-2-6-1-6-1-6-2-6-1-6-1-6-1-6-2-6-1-6-1-6-1-6-1-6-1-7-1-6-1-6-1-6-1-6-1-6-1-6 0-6-1-6-1-6-1-6-1-6 0-6-1-6-1-6 0-6-1-6 0-7-1-6 0-6-1M997 1656l-6-3-6-3-6-2-6-3-6-2-6-3-6-2-6-3-6-2-6-2-6-3-6-2-6-2-6-2-6-3-6-2-6-2-6-2-6-2-6-2-6-2-6-2-6-2-6-2-6-1-6-2-7-2-6-2-6-2-6-1-6-2-6-2-6-1-6-2-6-1-6-2-6-1-6-2-6-1-6-1-7-2-6-1-6-1-6-2-6-1-6-1-6-1-6-2-6-1-6-1-6-1-6-1-6-1-7-1-6-1-6-1-6-1-6 0-6-1-6-1-6-1-6-1-6 0-6-1-6-1-6 0-6-1-6-1-6 0-6-1-7 0-6-1M1003 1654l-6-3-6-2-6-3-6-3-6-2-6-3-6-2-6-2-6-3-6-2-6-2-6-3-6-2-6-2-6-2-6-2-6-3-6-2-6-2-6-2-6-2-6-2-6-1-6-2-6-2-6-2-6-2-7-2-6-1-6-2-6-2-6-1-6-2-6-1-6-2-6-2-6-1-6-1-6-2-6-1-6-2-7-1-6-1-6-2-6-1-6-1-6-1-6-1-6-1-6-2-6-1-6-1-6-1-6-1-7-1-6-1-6 0-6-1-6-1-6-1-6-1-6 0-6-1-6-1-6-1-6 0-6-1-6 0-6-1-6-1-6 0-7-1M1009 1652l-6-3-6-2-6-3-6-2-6-3-6-2-6-3-6-2-6-2-6-3-6-2-6-2-6-3-6-2-6-2-6-2-6-2-6-2-6-2-6-2-6-2-6-2-6-2-6-2-6-2-6-2-6-2-6-1-7-2-6-2-6-1-6-2-6-2-6-1-6-2-6-1-6-2-6-1-6-2-6-1-6-1-6-2-7-1-6-1-6-1-6-2-6-1-6-1-6-1-6-1-6-1-6-1-6-1-6-1-6-1-7-1-6-1-6-1-6-1-6-1-6 0-6-1-6-1-6-1-6 0-6-1-6-1-6 0-6-1-6 0-6-1-6 0M1016 1650l-6-2-6-3-6-2-6-3-6-2-6-3-6-2-7-3-6-2-6-2-6-3-6-2-6-2-6-2-6-3-6-2-6-2-6-2-6-2-6-2-6-2-6-2-6-2-6-2-6-2-6-1-6-2-6-2-6-2-7-1-6-2-6-2-6-1-6-2-6-1-6-2-6-1-6-2-6-1-6-2-6-1-6-1-6-2-7-1-6-1-6-1-6-2-6-1-6-1-6-1-6-1-6-1-6-1-6-1-6-1-6-1-7-1-6-1-6 0-6-1-6-1-6-1-6-1-6 0-6-1-6-1-6 0-6-1-6 0-6-1-6 0-6-1M1022 1649l-6-3-6-2-6-3-6-2-6-3-6-2-6-3-6-2-6-3-6-2-7-2-6-2-6-3-6-2-6-2-6-2-6-2-6-2-6-2-6-2-6-2-6-2-6-2-6-2-6-2-6-2-6-2-6-1-6-2-6-2-7-2-6-1-6-2-6-1-6-2-6-1-6-2-6-1-6-2-6-1-6-2-6-1-6-1-6-1-7-2-6-1-6-1-6-1-6-1-6-1-6-2-6-1-6-1-6-1-6-1-6 0-6-1-7-1-6-1-6-1-6-1-6 0-6-1-6-1-6-1-6 0-6-1-6 0-6-1-6 0-6-1-6-1M1028 1647l-6-2-6-3-6-2-6-3-6-2-6-3-6-2-6-3-6-2-6-2-6-3-6-2-6-2-7-2-6-3-6-2-6-2-6-2-6-2-6-2-6-2-6-2-6-2-6-2-6-2-6-1-6-2-6-2-6-2-6-1-6-2-7-2-6-1-6-2-6-1-6-2-6-1-6-2-6-1-6-2-6-1-6-1-6-2-6-1-6-1-7-1-6-2-6-1-6-1-6-1-6-1-6-1-6-1-6-1-6-1-6-1-6-1-6-1-7-1-6 0-6-1-6-1-6-1-6 0-6-1-6-1-6 0-6-1-6 0-6-1-6-1-6 0M1034 1646l-6-3-6-2-6-3-6-2-6-3-6-2-6-3-6-2-6-2-6-3-6-2-6-2-6-3-6-2-6-2-7-2-6-2-6-2-6-2-6-2-6-2-6-2-6-2-6-2-6-2-6-2-6-2-6-1-6-2-6-2-6-1-6-2-7-2-6-1-6-2-6-1-6-2-6-1-6-2-6-1-6-1-6-2-6-1-6-1-6-2-6-1-7-1-6-1-6-1-6-1-6-1-6-1-6-2-6 0-6-1-6-1-6-1-6-1-6-1-7-1-6-1-6 0-6-1-6-1-6 0-6-1-6-1-6 0-6-1-6 0-6-1-6 0M1040 1645l-6-3-6-2-6-3-6-3-6-2-6-3-6-2-6-2-6-3-6-2-6-2-6-3-6-2-6-2-6-2-6-2-7-3-6-2-6-2-6-2-6-2-6-2-6-2-6-1-6-2-6-2-6-2-6-2-6-1-6-2-6-2-6-1-6-2-6-2-7-1-6-2-6-1-6-2-6-1-6-1-6-2-6-1-6-1-6-2-6-1-6-1-7-1-6-1-6-2-6-1-6-1-6-1-6-1-6-1-6-1-6-1-6-1-6-1-6 0-7-1-6-1-6-1-6 0-6-1-6-1-6-1-6 0-6-1-6 0-6-1-6 0-6-1M1046 1644l-6-3-6-3-6-2-6-3-6-2-6-3-6-2-6-3-6-2-6-2-6-3-6-2-6-2-6-2-6-3-6-2-6-2-6-2-7-2-6-2-6-2-6-2-6-2-6-2-6-2-6-1-6-2-6-2-6-2-6-1-6-2-6-2-6-1-6-2-6-1-7-2-6-1-6-2-6-1-6-2-6-1-6-1-6-2-6-1-6-1-6-1-6-2-7-1-6-1-6-1-6-1-6-1-6-1-6-1-6-1-6-1-6-1-6-1-6-1-6 0-7-1-6-1-6-1-6 0-6-1-6-1-6 0-6-1-6-1-6 0-6-1-6 0M1052 1642l-6-2-6-3-6-2-6-3-6-2-6-3-6-2-6-3-6-2-6-2-6-3-6-2-6-2-6-3-6-2-6-2-6-2-6-2-6-2-7-2-6-2-6-2-6-2-6-2-6-2-6-2-6-1-6-2-6-2-6-2-6-1-6-2-6-1-6-2-6-2-6-1-7-2-6-1-6-1-6-2-6-1-6-2-6-1-6-1-6-1-6-2-6-1-6-1-7-1-6-1-6-1-6-1-6-1-6-1-6-1-6-1-6-1-6-1-6-1-6-1-6-1-7 0-6-1-6-1-6 0-6-1-6-1-6 0-6-1-6 0-6-1-6 0M1058 1641l-6-2-6-3-6-3-6-2-6-3-6-2-6-2-6-3-6-2-6-3-6-2-6-2-6-2-6-3-6-2-6-2-6-2-6-2-6-2-6-2-6-2-7-2-6-2-6-2-6-2-6-2-6-1-6-2-6-2-6-2-6-1-6-2-6-2-6-1-6-2-6-1-6-2-7-1-6-2-6-1-6-1-6-2-6-1-6-1-6-2-6-1-6-1-6-1-6-1-7-1-6-1-6-2-6-1-6-1-6 0-6-1-6-1-6-1-6-1-6-1-6-1-6 0-7-1-6-1-6-1-6 0-6-1-6 0-6-1-6-1-6 0-6-1M1064 1640l-6-2-6-3-6-3-6-2-6-3-6-2-6-3-6-2-6-2-6-3-6-2-6-2-6-2-6-3-6-2-6-2-6-2-6-2-6-2-6-2-6-2-6-2-7-2-6-2-6-2-6-2-6-1-6-2-6-2-6-2-6-1-6-2-6-2-6-1-6-2-6-1-6-2-6-1-7-2-6-1-6-1-6-2-6-1-6-1-6-2-6-1-6-1-6-1-6-1-6-1-7-2-6-1-6-1-6-1-6-1-6-1-6 0-6-1-6-1-6-1-6-1-6-1-6 0-7-1-6-1-6 0-6-1-6-1-6 0-6-1-6 0-6-1M1070 1639l-6-2-6-3-6-3-6-2-6-3-6-2-6-2-6-3-6-2-6-3-6-2-6-2-6-2-6-3-6-2-6-2-6-2-6-2-6-2-6-2-6-2-6-2-6-2-7-2-6-2-6-2-6-1-6-2-6-2-6-2-6-1-6-2-6-2-6-1-6-2-6-1-6-2-6-1-7-2-6-1-6-1-6-2-6-1-6-1-6-2-6-1-6-1-6-1-6-1-6-1-6-2-7-1-6-1-6-1-6-1-6-1-6 0-6-1-6-1-6-1-6-1-6-1-6 0-6-1-7-1-6 0-6-1-6-1-6 0-6-1-6 0-6-1M1076 1638l-6-2-6-3-6-2-6-3-6-2-6-3-6-2-6-3-6-2-6-2-6-3-6-2-6-2-6-2-6-3-6-2-6-2-6-2-6-2-6-2-6-2-6-2-6-2-6-2-7-2-6-2-6-1-6-2-6-2-6-2-6-1-6-2-6-1-6-2-6-2-6-1-6-2-6-1-6-2-7-1-6-1-6-2-6-1-6-1-6-2-6-1-6-1-6-1-6-1-6-1-6-1-6-2-7-1-6-1-6-1-6 0-6-1-6-1-6-1-6-1-6-1-6-1-6 0-6-1-6-1-7 0-6-1-6-1-6 0-6-1-6 0-6-1M1082 1638l-6-3-6-3-6-2-6-3-6-2-6-3-6-2-6-3-6-2-6-2-6-3-6-2-6-2-6-2-6-2-6-3-6-2-6-2-6-2-6-2-6-2-6-2-6-2-6-2-6-2-7-1-6-2-6-2-6-2-6-1-6-2-6-2-6-1-6-2-6-1-6-2-6-2-6-1-6-1-6-2-7-1-6-2-6-1-6-1-6-1-6-2-6-1-6-1-6-1-6-1-6-1-6-1-6-1-7-1-6-1-6-1-6-1-6-1-6-1-6-1-6-1-6 0-6-1-6-1-6-1-6 0-7-1-6 0-6-1-6-1-6 0-6-1M1088 1637l-6-3-6-2-6-3-6-2-6-3-6-2-6-3-6-2-6-3-6-2-6-2-6-3-6-2-6-2-6-2-6-2-6-3-6-2-6-2-6-2-6-2-6-2-6-2-6-1-6-2-6-2-7-2-6-2-6-1-6-2-6-2-6-1-6-2-6-2-6-1-6-2-6-1-6-2-6-1-6-2-6-1-7-1-6-2-6-1-6-1-6-1-6-2-6-1-6-1-6-1-6-1-6-1-6-1-6-1-7-1-6-1-6-1-6-1-6-1-6-1-6 0-6-1-6-1-6-1-6 0-6-1-6-1-7 0-6-1-6 0-6-1-6-1M1094 1636l-6-2-6-3-6-3-6-2-6-3-6-2-6-3-6-2-6-2-6-3-6-2-6-2-6-3-6-2-6-2-6-2-6-2-6-2-6-2-6-2-6-2-6-2-6-2-6-2-6-2-6-2-6-2-7-1-6-2-6-2-6-2-6-1-6-2-6-1-6-2-6-1-6-2-6-1-6-2-6-1-6-2-6-1-7-1-6-2-6-1-6-1-6-1-6-2-6-1-6-1-6-1-6-1-6-1-6-1-6-1-7-1-6-1-6-1-6-1-6 0-6-1-6-1-6-1-6 0-6-1-6-1-6 0-6-1-7-1-6 0-6-1-6 0M1100 1636l-6-3-6-3-6-2-6-3-6-2-6-3-6-2-6-3-6-2-6-2-6-3-6-2-6-2-6-2-6-3-6-2-6-2-6-2-6-2-6-2-6-2-6-2-6-2-6-2-6-2-6-1-6-2-6-2-7-2-6-1-6-2-6-2-6-1-6-2-6-2-6-1-6-2-6-1-6-2-6-1-6-1-6-2-6-1-7-1-6-2-6-1-6-1-6-1-6-1-6-1-6-2-6-1-6-1-6-1-6-1-6-1-7 0-6-1-6-1-6-1-6-1-6-1-6 0-6-1-6-1-6-1-6 0-6-1-6 0-7-1-6 0-6-1M1106 1635l-6-3-6-2-6-3-6-2-6-3-6-2-6-3-6-2-6-2-6-3-6-2-6-2-6-3-6-2-6-2-6-2-6-2-6-2-6-2-6-3-6-1-6-2-6-2-6-2-6-2-6-2-6-2-6-2-6-1-7-2-6-2-6-1-6-2-6-2-6-1-6-2-6-1-6-2-6-1-6-2-6-1-6-1-6-2-6-1-7-1-6-1-6-2-6-1-6-1-6-1-6-1-6-1-6-1-6-1-6-1-6-1-7-1-6-1-6-1-6-1-6-1-6 0-6-1-6-1-6 0-6-1-6-1-6 0-6-1-6-1-7 0-6-1M1112 1635l-6-3-6-3-6-2-6-3-6-2-6-3-6-2-6-3-6-2-6-2-6-3-6-2-6-2-6-2-6-3-6-2-6-2-6-2-6-2-6-2-6-2-6-2-6-2-6-2-6-2-6-1-6-2-6-2-6-2-6-2-7-1-6-2-6-1-6-2-6-2-6-1-6-2-6-1-6-2-6-1-6-1-6-2-6-1-6-1-6-2-7-1-6-1-6-1-6-1-6-2-6-1-6-1-6-1-6-1-6-1-6-1-6-1-7-1-6 0-6-1-6-1-6-1-6-1-6 0-6-1-6-1-6 0-6-1-6-1-6 0-6-1-7 0M1118 1634l-6-2-6-3-6-3-6-2-6-3-6-2-6-3-6-2-6-2-6-3-6-2-6-2-6-3-6-2-6-2-6-2-6-2-6-2-6-2-6-2-6-2-6-2-6-2-6-2-6-2-6-2-6-2-6-1-6-2-6-2-6-2-7-1-6-2-6-2-6-1-6-2-6-1-6-2-6-1-6-1-6-2-6-1-6-2-6-1-6-1-7-1-6-2-6-1-6-1-6-1-6-1-6-1-6-1-6-1-6-1-6-1-6-1-6-1-7-1-6-1-6-1-6 0-6-1-6-1-6-1-6 0-6-1-6 0-6-1-6-1-6 0-6-1M1124 1634l-6-3-6-2-6-3-6-2-6-3-6-2-6-3-6-2-6-3-6-2-6-2-6-3-6-2-6-2-6-2-6-2-6-3-6-2-6-2-6-2-6-2-6-2-6-2-6-2-6-1-6-2-6-2-6-2-6-2-6-1-6-2-6-2-7-1-6-2-6-1-6-2-6-1-6-2-6-1-6-2-6-1-6-2-6-1-6-1-6-1-6-2-7-1-6-1-6-1-6-1-6-2-6-1-6-1-6-1-6-1-6-1-6-1-6 0-6-1-7-1-6-1-6-1-6-1-6 0-6-1-6-1-6 0-6-1-6-1-6 0-6-1-6 0M1130 1634l-6-3-6-3-6-2-6-3-6-2-6-3-6-2-6-3-6-2-6-2-6-3-6-2-6-2-6-2-6-3-6-2-6-2-6-2-6-2-6-2-6-2-6-2-6-2-6-2-6-2-6-2-6-1-6-2-6-2-6-2-6-1-6-2-7-2-6-1-6-2-6-1-6-2-6-1-6-2-6-1-6-2-6-1-6-1-6-2-6-1-6-1-6-1-7-1-6-2-6-1-6-1-6-1-6-1-6-1-6-1-6-1-6-1-6-1-6-1-6 0-7-1-6-1-6-1-6-1-6 0-6-1-6-1-6 0-6-1-6 0-6-1-6-1M1136 1634l-6-3-6-3-6-2-6-3-6-2-6-3-6-2-6-3-6-2-6-2-6-3-6-2-6-2-6-3-6-2-6-2-6-2-6-2-6-2-6-2-6-2-6-2-6-2-6-2-6-2-6-2-6-2-6-1-6-2-6-2-6-1-6-2-6-2-7-1-6-2-6-2-6-1-6-1-6-2-6-1-6-2-6-1-6-1-6-2-6-1-6-1-6-2-6-1-7-1-6-1-6-1-6-1-6-1-6-1-6-1-6-1-6-1-6-1-6-1-6-1-6-1-7 0-6-1-6-1-6-1-6 0-6-1-6-1-6 0-6-1-6 0-6-1M1142 1633l-6-2-6-3-6-2-6-3-6-2-6-3-6-2-6-3-6-2-6-3-6-2-6-2-6-2-6-3-6-2-6-2-6-2-6-2-6-2-6-2-6-2-6-2-6-2-6-2-6-2-6-2-6-2-6-1-6-2-6-2-6-2-6-1-6-2-6-2-7-1-6-2-6-1-6-2-6-1-6-2-6-1-6-1-6-2-6-1-6-1-6-1-6-2-6-1-7-1-6-1-6-1-6-1-6-1-6-1-6-1-6-1-6-1-6-1-6-1-6-1-6-1-7-1-6 0-6-1-6-1-6-1-6 0-6-1-6 0-6-1-6-1-6 0M1148 1633l-6-2-6-3-6-2-6-3-6-2-6-3-6-2-6-3-6-2-6-3-6-2-6-2-6-2-6-3-6-2-6-2-6-2-6-2-6-2-6-2-6-2-6-2-6-2-6-2-6-2-6-2-6-2-6-2-6-1-6-2-6-2-6-1-6-2-6-2-7-1-6-2-6-1-6-2-6-1-6-2-6-1-6-1-6-2-6-1-6-1-6-2-6-1-6-1-6-1-7-1-6-1-6-2-6-1-6-1-6-1-6-1-6 0-6-1-6-1-6-1-6-1-6-1-7-1-6 0-6-1-6-1-6 0-6-1-6-1-6 0-6-1-6 0M1154 1633l-6-2-6-3-6-2-6-3-6-2-6-3-6-2-6-3-6-2-6-3-6-2-6-2-6-2-6-3-6-2-6-2-6-2-6-2-6-2-6-2-6-2-6-2-6-2-6-2-6-2-6-2-6-2-6-2-6-1-6-2-6-2-6-1-6-2-6-2-6-1-7-2-6-1-6-2-6-1-6-2-6-1-6-1-6-2-6-1-6-1-6-2-6-1-6-1-6-1-6-1-7-1-6-2-6-1-6-1-6-1-6-1-6-1-6 0-6-1-6-1-6-1-6-1-6-1-7 0-6-1-6-1-6 0-6-1-6-1-6 0-6-1-6 0M1160 1634l-6-3-6-3-6-2-6-3-6-2-6-3-6-2-6-3-6-2-6-2-6-3-6-2-6-2-6-3-6-2-6-2-6-2-6-2-6-2-6-2-6-2-6-2-6-2-6-2-6-2-6-2-6-2-6-1-6-2-6-2-6-2-6-1-6-2-6-2-6-1-7-2-6-1-6-2-6-1-6-2-6-1-6-1-6-2-6-1-6-1-6-2-6-1-6-1-6-1-6-1-7-1-6-2-6-1-6-1-6-1-6-1-6-1-6 0-6-1-6-1-6-1-6-1-6-1-6 0-7-1-6-1-6-1-6 0-6-1-6 0-6-1-6 0M1166 1634l-6-3-6-3-6-2-6-3-6-2-6-3-6-2-6-3-6-2-6-2-6-3-6-2-6-2-6-2-6-3-6-2-6-2-6-2-6-2-6-2-6-2-6-2-6-2-6-2-6-2-6-2-6-2-6-1-6-2-6-2-6-2-6-1-6-2-6-2-6-1-7-2-6-1-6-2-6-1-6-2-6-1-6-1-6-2-6-1-6-1-6-2-6-1-6-1-6-1-6-1-6-1-7-2-6-1-6-1-6-1-6-1-6-1-6 0-6-1-6-1-6-1-6-1-6-1-6 0-7-1-6-1-6 0-6-1-6-1-6 0-6-1-6 0M1171 1634l-5-3-6-2-6-3-6-2-6-3-6-2-6-3-6-2-6-3-6-2-6-2-6-3-6-2-6-2-6-2-6-3-6-2-6-2-6-2-6-2-6-2-6-2-6-2-6-2-6-2-6-2-6-1-6-2-6-2-6-2-6-1-6-2-6-2-6-1-6-2-6-1-7-2-6-1-6-2-6-1-6-2-6-1-6-2-6-1-6-1-6-1-6-2-6-1-6-1-6-1-6-1-7-1-6-1-6-1-6-1-6-1-6-1-6-1-6-1-6-1-6-1-6-1-6-1-6 0-6-1-7-1-6 0-6-1-6-1-6 0-6-1-6 0M1177 1634l-6-2-5-3-6-3-6-2-6-3-6-2-6-3-6-2-6-2-6-3-6-2-6-2-6-3-6-2-6-2-6-2-6-2-6-3-6-2-6-2-6-2-6-2-6-2-6-2-6-1-6-2-6-2-6-2-6-2-6-1-6-2-6-2-6-1-6-2-6-2-6-1-7-2-6-1-6-2-6-1-6-2-6-1-6-1-6-2-6-1-6-1-6-1-6-2-6-1-6-1-6-1-6-1-7-1-6-1-6-1-6-1-6-1-6-1-6-1-6-1-6-1-6-1-6 0-6-1-6-1-6-1-7 0-6-1-6-1-6 0-6-1-6 0M1183 1635l-6-3-6-3-6-2-5-3-6-2-6-3-6-2-6-3-6-2-6-2-6-3-6-2-6-2-6-3-6-2-6-2-6-2-6-2-6-2-6-2-6-2-6-2-6-2-6-2-6-2-6-2-6-2-6-2-6-1-6-2-6-2-6-2-6-1-6-2-6-1-6-2-7-1-6-2-6-1-6-2-6-1-6-2-6-1-6-1-6-2-6-1-6-1-6-1-6-2-6-1-6-1-6-1-7-1-6-1-6-1-6-1-6-1-6-1-6-1-6-1-6-1-6 0-6-1-6-1-6-1-6 0-6-1-7-1-6 0-6-1-6 0-6-1M1189 1635l-6-3-6-2-6-3-6-2-5-3-6-2-6-3-6-2-6-3-6-2-6-2-6-3-6-2-6-2-6-2-6-3-6-2-6-2-6-2-6-2-6-2-6-2-6-2-6-2-6-2-6-2-6-1-6-2-6-2-6-2-6-1-6-2-6-2-6-1-6-2-6-2-7-1-6-2-6-1-6-2-6-1-6-1-6-2-6-1-6-1-6-2-6-1-6-1-6-1-6-1-6-1-6-2-6-1-7-1-6-1-6-1-6-1-6-1-6 0-6-1-6-1-6-1-6-1-6-1-6 0-6-1-6-1-7 0-6-1-6-1-6 0-6-1M1195 1636l-6-3-6-3-6-2-6-3-6-2-6-3-5-2-6-3-6-2-6-3-6-2-6-2-6-2-6-3-6-2-6-2-6-2-6-2-6-2-6-2-6-2-6-2-6-2-6-2-6-2-6-2-6-2-6-2-6-2-6-1-6-2-6-2-6-1-6-2-6-2-6-1-7-2-6-1-6-2-6-1-6-2-6-1-6-1-6-2-6-1-6-1-6-1-6-2-6-1-6-1-6-1-6-1-6-1-7-1-6-1-6-1-6-1-6-1-6-1-6-1-6-1-6-1-6 0-6-1-6-1-6-1-6 0-6-1-7-1-6 0-6-1-6 0"/>
<ellipse cx="761.1" cy="1517.7" rx="8" ry="5" fill="#ff0000" stroke="#600" stroke-width=".8"/>
<ellipse cx="761.1" cy="1553.7" rx="8" ry="5" fill="#ff0000" stroke="#600" stroke-width=".8"/>
<ellipse cx="330.4" cy="1663.9" rx="8" ry="5" fill="#ff0000" stroke="#600" stroke-width=".8"/>
<ellipse cx="1194.1" cy="1642.2" rx="8" ry="5" fill="#ffb0b0" stroke="#600" stroke-width=".8"/>
<ellipse cx="761" cy="1782.6" rx="8" ry="5" fill="#ff0000" stroke="#600" stroke-width=".8"/>
<g font-family="'Liberation Serif', 'Times New Roman', serif" font-weight="bold"><text x="324.3" y="1782" font-size="28.8" text-anchor="end">80</text><text x="320.2" y="1723.1" font-size="28.8" text-anchor="end">85</text><text x="316.2" y="1664.2" font-size="28.8" text-anchor="end">90</text><text x="312.1" y="1605.3" font-size="28.8" text-anchor="end">95</text><text x="308.1" y="1546.4" font-size="28.8" text-anchor="end">100</text><text x="304" y="1487.5" font-size="28.8" text-anchor="end">105</text><text x="775.6" y="2039.2" font-size="28.8" textLength="64.5" lengthAdjust="spacingAndGlyphs">70.00</text><text x="879.8" y="2005.5" font-size="28.8" textLength="64.5" lengthAdjust="spacingAndGlyphs">75.00</text><text x="983.9" y="1971.9" font-size="28.8" textLength="64.5" lengthAdjust="spacingAndGlyphs">80.00</text><text x="1088.1" y="1938.2" font-size="28.8" textLength="64.5" lengthAdjust="spacingAndGlyphs">85.00</text><text x="1192.2" y="1904.6" font-size="28.8" textLength="64.5" lengthAdjust="spacingAndGlyphs">90.00</text><text x="747.8" y="2038.8" font-size="28.8" text-anchor="end" textLength="64.5" lengthAdjust="spacingAndGlyphs">40.00</text><text x="643.9" y="2005.3" font-size="28.8" text-anchor="end" textLength="64.5" lengthAdjust="spacingAndGlyphs">45.00</text><text x="540" y="1971.8" font-size="28.8" text-anchor="end" textLength="64.5" lengthAdjust="spacingAndGlyphs">50.00</text><text x="436.1" y="1938.2" font-size="28.8" text-anchor="end" textLength="64.5" lengthAdjust="spacingAndGlyphs">55.00</text><text x="332.3" y="1904.7" font-size="28.8" text-anchor="end" textLength="64.5" lengthAdjust="spacingAndGlyphs">60.00</text></g>
<text x="28.2" y="1488.7" font-size="75.5">F</text>
<text x="160.1" y="2023.1" font-size="40.7" textLength="462.5" lengthAdjust="spacingAndGlyphs" stroke="#000" stroke-width="1.1">D:Solvent-solid radio(mL/g)</text>
<text x="868.7" y="2022.5" font-size="40.7" textLength="521.6" lengthAdjust="spacingAndGlyphs" stroke="#000" stroke-width="1.1">C:Solvent concentration(100%)</text>
<text x="0" y="0" font-size="44.8" stroke="#000" stroke-width="1.1" textLength="275.5" lengthAdjust="spacingAndGlyphs" transform="translate(201 1829.5) rotate(-90)">Phlorizin(mg/g)</text>
<defs><radialGradient id="cgD" gradientUnits="userSpaceOnUse" cx="0" cy="0" r="3.7971" gradientTransform="matrix(-187.33628 14.15302 8.93489 118.26656 2061.272 246.870)"><stop offset="0.0000" stop-color="#ff5700"/><stop offset="0.0833" stop-color="#ff5d00"/><stop offset="0.1178" stop-color="#ff6300"/><stop offset="0.1442" stop-color="#ff6a00"/><stop offset="0.1666" stop-color="#ff7000"/><stop offset="0.1862" stop-color="#ff7600"/><stop offset="0.2040" stop-color="#ff7c00"/><stop offset="0.2203" stop-color="#ff8200"/><stop offset="0.2356" stop-color="#ff8600"/><stop offset="0.2498" stop-color="#ff8b00"/><stop offset="0.2634" stop-color="#ff8f00"/><stop offset="0.2762" stop-color="#ff9300"/><stop offset="0.2885" stop-color="#ff9800"/><stop offset="0.3003" stop-color="#ff9c00"/><stop offset="0.3116" stop-color="#ffa100"/><stop offset="0.3225" stop-color="#ffa500"/><stop offset="0.3331" stop-color="#ffa900"/><stop offset="0.3434" stop-color="#ffae00"/><stop offset="0.3533" stop-color="#ffb300"/><stop offset="0.3630" stop-color="#ffb900"/><stop offset="0.3724" stop-color="#ffbe00"/><stop offset="0.3816" stop-color="#ffc300"/><stop offset="0.3906" stop-color="#ffc800"/><stop offset="0.3994" stop-color="#ffcd00"/><stop offset="0.4080" stop-color="#ffd300"/><stop offset="0.4164" stop-color="#ffd800"/><stop offset="0.4246" stop-color="#ffdd00"/><stop offset="0.4327" stop-color="#ffe300"/><stop offset="0.4407" stop-color="#ffe900"/><stop offset="0.4485" stop-color="#ffef00"/><stop offset="0.4561" stop-color="#fff500"/><stop offset="0.4637" stop-color="#fffb00"/><stop offset="0.4711" stop-color="#faff00"/><stop offset="0.4784" stop-color="#f0ff00"/><stop offset="0.4856" stop-color="#e5ff00"/><stop offset="0.4927" stop-color="#daff00"/><stop offset="0.4997" stop-color="#cfff00"/><stop offset="0.5066" stop-color="#c4ff00"/><stop offset="0.5134" stop-color="#b8ff00"/><stop offset="0.5201" stop-color="#abff00"/><stop offset="0.5267" stop-color="#9eff00"/><stop offset="0.5333" stop-color="#90ff00"/><stop offset="0.5397" stop-color="#83ff00"/><stop offset="0.5461" stop-color="#76ff00"/><stop offset="0.5524" stop-color="#68ff00"/><stop offset="0.5587" stop-color="#5bff00"/><stop offset="0.5648" stop-color="#4eff00"/><stop offset="0.5709" stop-color="#3cff00"/><stop offset="0.5770" stop-color="#25ff00"/><stop offset="0.5830" stop-color="#0dff00"/><stop offset="0.5889" stop-color="#00ff00"/><stop offset="0.7587" stop-color="#00ff00"/><stop offset="0.7633" stop-color="#00ff02"/><stop offset="0.7678" stop-color="#00ff08"/><stop offset="0.7723" stop-color="#00ff0d"/><stop offset="0.7768" stop-color="#00ff14"/><stop offset="0.7812" stop-color="#00ff1e"/><stop offset="0.7857" stop-color="#00ff27"/><stop offset="0.7901" stop-color="#00ff31"/><stop offset="0.7944" stop-color="#00ff3b"/><stop offset="0.7988" stop-color="#00ff44"/><stop offset="0.8031" stop-color="#00ff4e"/><stop offset="0.8074" stop-color="#00ff57"/><stop offset="0.8117" stop-color="#00ff61"/><stop offset="0.8160" stop-color="#00ff6b"/><stop offset="0.8202" stop-color="#00ff73"/><stop offset="0.8244" stop-color="#00ff79"/><stop offset="0.8286" stop-color="#00ff80"/><stop offset="0.8328" stop-color="#00ff86"/><stop offset="0.8370" stop-color="#00ff8c"/><stop offset="0.8411" stop-color="#00ff93"/><stop offset="0.8452" stop-color="#00ff99"/><stop offset="0.8493" stop-color="#00ffa0"/><stop offset="0.8534" stop-color="#00ffa6"/><stop offset="0.8574" stop-color="#00ffac"/><stop offset="0.8615" stop-color="#00ffb3"/><stop offset="0.8655" stop-color="#00ffb9"/><stop offset="0.8695" stop-color="#00ffc0"/><stop offset="0.8735" stop-color="#00ffc7"/><stop offset="0.8774" stop-color="#00ffcd"/><stop offset="0.8814" stop-color="#00ffd4"/><stop offset="0.8853" stop-color="#00ffda"/><stop offset="0.8892" stop-color="#00ffe1"/><stop offset="0.8931" stop-color="#00ffe7"/><stop offset="0.8970" stop-color="#00ffee"/><stop offset="0.9008" stop-color="#00fff5"/><stop offset="0.9047" stop-color="#00fffb"/><stop offset="0.9085" stop-color="#00fdff"/><stop offset="0.9123" stop-color="#00f9ff"/><stop offset="0.9161" stop-color="#00f6ff"/><stop offset="0.9199" stop-color="#00f2ff"/><stop offset="0.9236" stop-color="#00eeff"/><stop offset="0.9274" stop-color="#00eaff"/><stop offset="0.9311" stop-color="#00e6ff"/><stop offset="0.9348" stop-color="#00e2ff"/><stop offset="0.9385" stop-color="#00ddff"/><stop offset="0.9422" stop-color="#00d5ff"/><stop offset="0.9459" stop-color="#00cdff"/><stop offset="0.9495" stop-color="#00c5ff"/><stop offset="0.9532" stop-color="#00bdff"/><stop offset="0.9568" stop-color="#00b5ff"/><stop offset="0.9604" stop-color="#00adff"/><stop offset="0.9640" stop-color="#00a5ff"/><stop offset="0.9676" stop-color="#009dff"/><stop offset="0.9712" stop-color="#0096ff"/><stop offset="0.9748" stop-color="#0090ff"/><stop offset="0.9783" stop-color="#0089ff"/><stop offset="0.9819" stop-color="#0082ff"/><stop offset="0.9854" stop-color="#007cff"/><stop offset="0.9889" stop-color="#0075ff"/><stop offset="0.9924" stop-color="#006eff"/><stop offset="0.9959" stop-color="#0068ff"/><stop offset="0.9994" stop-color="#0061ff"/><stop offset="1.0000" stop-color="#005aff"/><stop offset="1.0000" stop-color="#0054ff"/></radialGradient>
<clipPath id="clD"><rect x="1538.3" y="92.4" width="749.6" height="471.2"/></clipPath></defs>
<rect x="1538.3" y="92.4" width="749.6" height="471.2" fill="url(#cgD)"/>
<g clip-path="url(#clD)" fill="none" stroke="#1a1a1a" stroke-width="1.6"><ellipse cx="2061.27" cy="246.87" rx="668.38" ry="421.95" transform="rotate(175.680 2061.27 246.87)"/><ellipse cx="2061.27" cy="246.87" rx="613.31" ry="387.18" transform="rotate(175.680 2061.27 246.87)"/><ellipse cx="2061.27" cy="246.87" rx="552.77" ry="348.97" transform="rotate(175.680 2061.27 246.87)"/><ellipse cx="2061.27" cy="246.87" rx="484.73" ry="306.01" transform="rotate(175.680 2061.27 246.87)"/><ellipse cx="2061.27" cy="246.87" rx="405.43" ry="255.95" transform="rotate(175.680 2061.27 246.87)"/><ellipse cx="2061.27" cy="246.87" rx="306.24" ry="193.33" transform="rotate(175.680 2061.27 246.87)"/><ellipse cx="2061.27" cy="246.87" rx="152.29" ry="96.14" transform="rotate(175.680 2061.27 246.87)"/></g>
<rect x="1538.3" y="92.4" width="749.6" height="471.2" fill="none" stroke="#888" stroke-width="1.5"/>
<g fill="#6a6a80"><rect x="1546.6" y="108.4" width="27" height="19" fill="#fff" stroke="#333" stroke-width="1.2"/><text x="1560.1" y="124.2" font-size="17.5" text-anchor="middle">90</text><rect x="1813.8" y="366.8" width="27" height="19" fill="#fff" stroke="#333" stroke-width="1.2"/><text x="1827.3" y="382.6" font-size="17.5" text-anchor="middle">96</text><rect x="1739.7" y="411.9" width="27" height="19" fill="#fff" stroke="#333" stroke-width="1.2"/><text x="1753.2" y="427.7" font-size="17.5" text-anchor="middle">94</text><rect x="1683.5" y="449.6" width="27" height="19" fill="#fff" stroke="#333" stroke-width="1.2"/><text x="1697" y="465.4" font-size="17.5" text-anchor="middle">92</text><rect x="1619" y="469.8" width="27" height="19" fill="#fff" stroke="#333" stroke-width="1.2"/><text x="1632.5" y="485.6" font-size="17.5" text-anchor="middle">90</text><rect x="1581.3" y="502.9" width="27" height="19" fill="#fff" stroke="#333" stroke-width="1.2"/><text x="1594.8" y="518.7" font-size="17.5" text-anchor="middle">88</text><rect x="1543.1" y="529.9" width="27" height="19" fill="#fff" stroke="#333" stroke-width="1.2"/><text x="1556.6" y="545.7" font-size="17.5" text-anchor="middle">86</text><rect x="1993.4" y="324.8" width="27" height="19" fill="#fff" stroke="#333" stroke-width="1.2"/><text x="2006.9" y="340.6" font-size="17.5" text-anchor="middle">98</text><rect x="2256" y="543" width="27" height="19" fill="#fff" stroke="#333" stroke-width="1.2"/><text x="2269.5" y="558.8" font-size="17.5" text-anchor="middle">90</text></g>
<path d="M1538.3 563.6v12M1688.2 563.6v12M1838.1 563.6v12M1988.1 563.6v12M2138 563.6v12M2287.9 563.6v12M1538.3 563.6h-21M1538.3 445.8h-21M1538.3 328h-21M1538.3 210.2h-21M1538.3 92.4h-21" stroke="#8a8a8a" stroke-width="2"/>
<g font-weight="bold" font-size="29"><text x="1538.3" y="606.8" text-anchor="middle" textLength="68.5" lengthAdjust="spacingAndGlyphs">30.00</text><text x="1688.2" y="606.8" text-anchor="middle" textLength="68.5" lengthAdjust="spacingAndGlyphs">32.00</text><text x="1838.1" y="606.8" text-anchor="middle" textLength="68.5" lengthAdjust="spacingAndGlyphs">34.00</text><text x="1988.1" y="606.8" text-anchor="middle" textLength="68.5" lengthAdjust="spacingAndGlyphs">36.00</text><text x="2138" y="606.8" text-anchor="middle" textLength="68.5" lengthAdjust="spacingAndGlyphs">38.00</text><text x="2287.9" y="606.8" text-anchor="middle" textLength="68.5" lengthAdjust="spacingAndGlyphs">40.00</text><text x="1509.7" y="570.7" text-anchor="end" textLength="68.5" lengthAdjust="spacingAndGlyphs">70.00</text><text x="1509.7" y="452.9" text-anchor="end" textLength="68.5" lengthAdjust="spacingAndGlyphs">75.00</text><text x="1509.7" y="335.1" text-anchor="end" textLength="68.5" lengthAdjust="spacingAndGlyphs">80.00</text><text x="1509.7" y="217.3" text-anchor="end" textLength="68.5" lengthAdjust="spacingAndGlyphs">85.00</text><text x="1509.7" y="99.5" text-anchor="end" textLength="68.5" lengthAdjust="spacingAndGlyphs">90.00</text></g>
<g fill="#ff0000" stroke="#900" stroke-width=".6"><ellipse cx="1538.3" cy="92.4" rx="7" ry="4.5"/><ellipse cx="2287.9" cy="92.4" rx="7" ry="4.5"/><ellipse cx="1538.3" cy="563.6" rx="7" ry="4.5"/><ellipse cx="2287.9" cy="563.6" rx="7" ry="4.5"/><ellipse cx="1913.1" cy="328" rx="7" ry="4.5"/></g>
<text x="1901.1" y="333" font-size="16" text-anchor="end" fill="#a02000">5</text>
<text x="1814.1" y="81.2" font-size="28.9" font-weight="bold" textLength="194.3" lengthAdjust="spacingAndGlyphs">Phlorizin(mg/g)</text>
<text x="1781.4" y="669.4" font-size="31.8" font-weight="bold" textLength="259.1" lengthAdjust="spacingAndGlyphs">B:Extraction temp</text>
<text x="0" y="0" font-size="31.8" font-weight="bold" textLength="440.2" lengthAdjust="spacingAndGlyphs" transform="translate(1408.8 547) rotate(-90)">C:Solvent concentration(100%)</text>
<defs><radialGradient id="cgE" gradientUnits="userSpaceOnUse" cx="0" cy="0" r="3.2307" gradientTransform="matrix(-159.93128 141.55470 106.35648 120.16364 2072.921 929.953)"><stop offset="0.0000" stop-color="#ff6100"/><stop offset="0.0979" stop-color="#ff6700"/><stop offset="0.1384" stop-color="#ff6d00"/><stop offset="0.1695" stop-color="#ff7400"/><stop offset="0.1958" stop-color="#ff7a00"/><stop offset="0.2189" stop-color="#ff8000"/><stop offset="0.2398" stop-color="#ff8500"/><stop offset="0.2590" stop-color="#ff8900"/><stop offset="0.2769" stop-color="#ff8d00"/><stop offset="0.2936" stop-color="#ff9200"/><stop offset="0.3095" stop-color="#ff9600"/><stop offset="0.3246" stop-color="#ff9b00"/><stop offset="0.3391" stop-color="#ff9f00"/><stop offset="0.3529" stop-color="#ffa300"/><stop offset="0.3662" stop-color="#ffa800"/><stop offset="0.3791" stop-color="#ffac00"/><stop offset="0.3915" stop-color="#ffb100"/><stop offset="0.4036" stop-color="#ffb700"/><stop offset="0.4153" stop-color="#ffbc00"/><stop offset="0.4267" stop-color="#ffc100"/><stop offset="0.4377" stop-color="#ffc600"/><stop offset="0.4486" stop-color="#ffcb00"/><stop offset="0.4591" stop-color="#ffd100"/><stop offset="0.4694" stop-color="#ffd600"/><stop offset="0.4795" stop-color="#ffdb00"/><stop offset="0.4894" stop-color="#ffe000"/><stop offset="0.4991" stop-color="#ffe600"/><stop offset="0.5086" stop-color="#ffed00"/><stop offset="0.5179" stop-color="#fff300"/><stop offset="0.5271" stop-color="#fff900"/><stop offset="0.5361" stop-color="#feff00"/><stop offset="0.5450" stop-color="#f4ff00"/><stop offset="0.5537" stop-color="#e9ff00"/><stop offset="0.5623" stop-color="#deff00"/><stop offset="0.5708" stop-color="#d3ff00"/><stop offset="0.5791" stop-color="#c8ff00"/><stop offset="0.5873" stop-color="#bdff00"/><stop offset="0.5954" stop-color="#b0ff00"/><stop offset="0.6034" stop-color="#a3ff00"/><stop offset="0.6113" stop-color="#95ff00"/><stop offset="0.6191" stop-color="#88ff00"/><stop offset="0.6268" stop-color="#7bff00"/><stop offset="0.6344" stop-color="#6dff00"/><stop offset="0.6419" stop-color="#60ff00"/><stop offset="0.6493" stop-color="#53ff00"/><stop offset="0.6566" stop-color="#45ff00"/><stop offset="0.6639" stop-color="#2eff00"/><stop offset="0.6711" stop-color="#16ff00"/><stop offset="0.6782" stop-color="#00ff00"/><stop offset="0.8864" stop-color="#00ff00"/><stop offset="0.8918" stop-color="#00ff06"/><stop offset="0.8971" stop-color="#00ff0b"/><stop offset="0.9024" stop-color="#00ff10"/><stop offset="0.9077" stop-color="#00ff1a"/><stop offset="0.9130" stop-color="#00ff24"/><stop offset="0.9182" stop-color="#00ff2d"/><stop offset="0.9234" stop-color="#00ff37"/><stop offset="0.9286" stop-color="#00ff40"/><stop offset="0.9337" stop-color="#00ff4a"/><stop offset="0.9389" stop-color="#00ff54"/><stop offset="0.9440" stop-color="#00ff5d"/><stop offset="0.9490" stop-color="#00ff67"/><stop offset="0.9540" stop-color="#00ff70"/><stop offset="0.9591" stop-color="#00ff77"/><stop offset="0.9640" stop-color="#00ff7d"/><stop offset="0.9690" stop-color="#00ff83"/><stop offset="0.9739" stop-color="#00ff8a"/><stop offset="0.9788" stop-color="#00ff90"/><stop offset="0.9837" stop-color="#00ff97"/><stop offset="0.9886" stop-color="#00ff9d"/><stop offset="0.9934" stop-color="#00ffa3"/><stop offset="0.9982" stop-color="#00ffaa"/><stop offset="1.0000" stop-color="#00ffb0"/><stop offset="1.0000" stop-color="#00ffb7"/></radialGradient>
<clipPath id="clE"><rect x="1541.6" y="796.7" width="735.8" height="460.3"/></clipPath></defs>
<rect x="1541.6" y="796.7" width="735.8" height="460.3" fill="url(#cgE)"/>
<g clip-path="url(#clE)" fill="none" stroke="#1a1a1a" stroke-width="1.6"><ellipse cx="2072.92" cy="929.95" rx="622.51" ry="467.72" transform="rotate(138.488 2072.92 929.95)"/><ellipse cx="2072.92" cy="929.95" rx="544.32" ry="408.98" transform="rotate(138.488 2072.92 929.95)"/><ellipse cx="2072.92" cy="929.95" rx="452.83" ry="340.23" transform="rotate(138.488 2072.92 929.95)"/><ellipse cx="2072.92" cy="929.95" rx="337.38" ry="253.49" transform="rotate(138.488 2072.92 929.95)"/><ellipse cx="2072.92" cy="929.95" rx="150.32" ry="112.94" transform="rotate(138.488 2072.92 929.95)"/></g>
<rect x="1541.6" y="796.7" width="735.8" height="460.3" fill="none" stroke="#888" stroke-width="1.5"/>
<g fill="#6a6a80"><rect x="1549.3" y="834.6" width="27" height="19" fill="#fff" stroke="#333" stroke-width="1.2"/><text x="1562.8" y="850.4" font-size="17.5" text-anchor="middle">90</text><rect x="1572.2" y="1000.6" width="27" height="19" fill="#fff" stroke="#333" stroke-width="1.2"/><text x="1585.7" y="1016.4" font-size="17.5" text-anchor="middle">92</text><rect x="1653" y="1007.4" width="27" height="19" fill="#fff" stroke="#333" stroke-width="1.2"/><text x="1666.5" y="1023.2" font-size="17.5" text-anchor="middle">94</text><rect x="1821.5" y="1151.4" width="27" height="19" fill="#fff" stroke="#333" stroke-width="1.2"/><text x="1835" y="1167.2" font-size="17.5" text-anchor="middle">96</text><rect x="1991.5" y="1042.4" width="27" height="19" fill="#fff" stroke="#333" stroke-width="1.2"/><text x="2005" y="1058.2" font-size="17.5" text-anchor="middle">98</text><rect x="2227" y="1212" width="27" height="19" fill="#fff" stroke="#333" stroke-width="1.2"/><text x="2240.5" y="1227.8" font-size="17.5" text-anchor="middle">94</text></g>
<path d="M1541.6 1257v12M1688.8 1257v12M1835.9 1257v12M1983.1 1257v12M2130.2 1257v12M2277.4 1257v12M1541.6 1257h-21M1541.6 1141.9h-21M1541.6 1026.8h-21M1541.6 911.8h-21M1541.6 796.7h-21" stroke="#8a8a8a" stroke-width="2"/>
<g font-weight="bold" font-size="29"><text x="1541.6" y="1300.2" text-anchor="middle" textLength="68.5" lengthAdjust="spacingAndGlyphs">30.00</text><text x="1688.8" y="1300.2" text-anchor="middle" textLength="68.5" lengthAdjust="spacingAndGlyphs">32.00</text><text x="1835.9" y="1300.2" text-anchor="middle" textLength="68.5" lengthAdjust="spacingAndGlyphs">34.00</text><text x="1983.1" y="1300.2" text-anchor="middle" textLength="68.5" lengthAdjust="spacingAndGlyphs">36.00</text><text x="2130.2" y="1300.2" text-anchor="middle" textLength="68.5" lengthAdjust="spacingAndGlyphs">38.00</text><text x="2277.4" y="1300.2" text-anchor="middle" textLength="68.5" lengthAdjust="spacingAndGlyphs">40.00</text><text x="1513" y="1264.1" text-anchor="end" textLength="68.5" lengthAdjust="spacingAndGlyphs">40.00</text><text x="1513" y="1149" text-anchor="end" textLength="68.5" lengthAdjust="spacingAndGlyphs">45.00</text><text x="1513" y="1033.9" text-anchor="end" textLength="68.5" lengthAdjust="spacingAndGlyphs">50.00</text><text x="1513" y="918.9" text-anchor="end" textLength="68.5" lengthAdjust="spacingAndGlyphs">55.00</text><text x="1513" y="803.8" text-anchor="end" textLength="68.5" lengthAdjust="spacingAndGlyphs">60.00</text></g>
<g fill="#ff0000" stroke="#900" stroke-width=".6"><ellipse cx="1541.6" cy="796.7" rx="7" ry="4.5"/><ellipse cx="2277.4" cy="796.7" rx="7" ry="4.5"/><ellipse cx="1541.6" cy="1257" rx="7" ry="4.5"/><ellipse cx="2277.4" cy="1257" rx="7" ry="4.5"/><ellipse cx="1909.5" cy="1026.8" rx="7" ry="4.5"/></g>
<text x="1897.5" y="1031.8" font-size="16" text-anchor="end" fill="#a02000">5</text>
<text x="1811.4" y="785.4" font-size="28.9" font-weight="bold" textLength="191" lengthAdjust="spacingAndGlyphs">Phlorizin(mg/g)</text>
<text x="1757.8" y="1360.9" font-size="31.8" font-weight="bold" textLength="306.7" lengthAdjust="spacingAndGlyphs">B:Extraction temp(<tspan font-family="'Noto Sans CJK SC', 'Noto Sans CJK JP', sans-serif">℃</tspan>)</text>
<text x="0" y="0" font-size="31.8" font-weight="bold" textLength="367.8" lengthAdjust="spacingAndGlyphs" transform="translate(1413.6 1205.6) rotate(-90)">D:Solvent-solid radio(mL/g)</text>
<defs><radialGradient id="cgF" gradientUnits="userSpaceOnUse" cx="0" cy="0" r="2.9806" gradientTransform="matrix(141.61577 -146.74246 -124.30730 -119.96442 2039.988 1620.812)"><stop offset="0.0000" stop-color="#ff7400"/><stop offset="0.1061" stop-color="#ff7a00"/><stop offset="0.1500" stop-color="#ff8000"/><stop offset="0.1838" stop-color="#ff8500"/><stop offset="0.2122" stop-color="#ff8900"/><stop offset="0.2372" stop-color="#ff8d00"/><stop offset="0.2599" stop-color="#ff9200"/><stop offset="0.2807" stop-color="#ff9600"/><stop offset="0.3001" stop-color="#ff9b00"/><stop offset="0.3183" stop-color="#ff9f00"/><stop offset="0.3355" stop-color="#ffa300"/><stop offset="0.3519" stop-color="#ffa800"/><stop offset="0.3675" stop-color="#ffac00"/><stop offset="0.3825" stop-color="#ffb100"/><stop offset="0.3970" stop-color="#ffb700"/><stop offset="0.4109" stop-color="#ffbc00"/><stop offset="0.4244" stop-color="#ffc100"/><stop offset="0.4374" stop-color="#ffc600"/><stop offset="0.4501" stop-color="#ffcb00"/><stop offset="0.4625" stop-color="#ffd100"/><stop offset="0.4745" stop-color="#ffd600"/><stop offset="0.4862" stop-color="#ffdb00"/><stop offset="0.4976" stop-color="#ffe000"/><stop offset="0.5088" stop-color="#ffe600"/><stop offset="0.5198" stop-color="#ffed00"/><stop offset="0.5305" stop-color="#fff300"/><stop offset="0.5410" stop-color="#fff900"/><stop offset="0.5513" stop-color="#ffff00"/><stop offset="0.5614" stop-color="#f4ff00"/><stop offset="0.5713" stop-color="#e9ff00"/><stop offset="0.5811" stop-color="#deff00"/><stop offset="0.5907" stop-color="#d3ff00"/><stop offset="0.6002" stop-color="#c8ff00"/><stop offset="0.6095" stop-color="#bdff00"/><stop offset="0.6186" stop-color="#b0ff00"/><stop offset="0.6277" stop-color="#a3ff00"/><stop offset="0.6366" stop-color="#95ff00"/><stop offset="0.6454" stop-color="#88ff00"/><stop offset="0.6540" stop-color="#7bff00"/><stop offset="0.6626" stop-color="#6dff00"/><stop offset="0.6710" stop-color="#60ff00"/><stop offset="0.6793" stop-color="#53ff00"/><stop offset="0.6876" stop-color="#45ff00"/><stop offset="0.6957" stop-color="#2eff00"/><stop offset="0.7038" stop-color="#16ff00"/><stop offset="0.7117" stop-color="#00ff00"/><stop offset="0.9430" stop-color="#00ff00"/><stop offset="0.9489" stop-color="#00ff06"/><stop offset="0.9549" stop-color="#00ff0b"/><stop offset="0.9607" stop-color="#00ff10"/><stop offset="0.9666" stop-color="#00ff1a"/><stop offset="0.9724" stop-color="#00ff24"/><stop offset="0.9781" stop-color="#00ff2d"/><stop offset="0.9839" stop-color="#00ff37"/><stop offset="0.9896" stop-color="#00ff40"/><stop offset="0.9953" stop-color="#00ff4a"/><stop offset="1.0000" stop-color="#00ff54"/><stop offset="1.0000" stop-color="#00ff5d"/><stop offset="1.0000" stop-color="#00ff67"/></radialGradient>
<clipPath id="clF"><rect x="1547.2" y="1458.5" width="737.6" height="477.7"/></clipPath></defs>
<rect x="1547.2" y="1458.5" width="737.6" height="477.7" fill="url(#cgF)"/>
<g clip-path="url(#clF)" fill="none" stroke="#1a1a1a" stroke-width="1.6"><ellipse cx="2039.99" cy="1620.81" rx="583.82" ry="494.56" transform="rotate(-46.019 2039.99 1620.81)"/><ellipse cx="2039.99" cy="1620.81" rx="507.61" ry="430.00" transform="rotate(-46.019 2039.99 1620.81)"/><ellipse cx="2039.99" cy="1620.81" rx="417.72" ry="353.85" transform="rotate(-46.019 2039.99 1620.81)"/><ellipse cx="2039.99" cy="1620.81" rx="302.18" ry="255.98" transform="rotate(-46.019 2039.99 1620.81)"/><ellipse cx="2039.99" cy="1620.81" rx="90.19" ry="76.40" transform="rotate(-46.019 2039.99 1620.81)"/></g>
<rect x="1547.2" y="1458.5" width="737.6" height="477.7" fill="none" stroke="#888" stroke-width="1.5"/>
<g fill="#6a6a80"><rect x="1557.1" y="1677.2" width="27" height="19" fill="#fff" stroke="#333" stroke-width="1.2"/><text x="1570.6" y="1693" font-size="17.5" text-anchor="middle">92</text><rect x="1640.7" y="1688.9" width="27" height="19" fill="#fff" stroke="#333" stroke-width="1.2"/><text x="1654.2" y="1704.7" font-size="17.5" text-anchor="middle">94</text><rect x="1837.5" y="1838.4" width="27" height="19" fill="#fff" stroke="#333" stroke-width="1.2"/><text x="1851" y="1854.2" font-size="17.5" text-anchor="middle">96</text><rect x="1985.2" y="1686.1" width="27" height="19" fill="#fff" stroke="#333" stroke-width="1.2"/><text x="1998.7" y="1701.9" font-size="17.5" text-anchor="middle">98</text><rect x="2239.1" y="1886" width="27" height="19" fill="#fff" stroke="#333" stroke-width="1.2"/><text x="2252.6" y="1901.8" font-size="17.5" text-anchor="middle">94</text></g>
<path d="M1547.2 1936.2v12M1731.6 1936.2v12M1916 1936.2v12M2100.4 1936.2v12M2284.8 1936.2v12M1547.2 1936.2h-21M1547.2 1816.8h-21M1547.2 1697.3h-21M1547.2 1577.9h-21M1547.2 1458.5h-21" stroke="#8a8a8a" stroke-width="2"/>
<g font-weight="bold" font-size="29"><text x="1547.2" y="1979.4" text-anchor="middle" textLength="68.5" lengthAdjust="spacingAndGlyphs">70.00</text><text x="1731.6" y="1979.4" text-anchor="middle" textLength="68.5" lengthAdjust="spacingAndGlyphs">75.00</text><text x="1916" y="1979.4" text-anchor="middle" textLength="68.5" lengthAdjust="spacingAndGlyphs">80.00</text><text x="2100.4" y="1979.4" text-anchor="middle" textLength="68.5" lengthAdjust="spacingAndGlyphs">85.00</text><text x="2284.8" y="1979.4" text-anchor="middle" textLength="68.5" lengthAdjust="spacingAndGlyphs">90.00</text><text x="1518.6" y="1943.3" text-anchor="end" textLength="68.5" lengthAdjust="spacingAndGlyphs">40.00</text><text x="1518.6" y="1823.9" text-anchor="end" textLength="68.5" lengthAdjust="spacingAndGlyphs">45.00</text><text x="1518.6" y="1704.4" text-anchor="end" textLength="68.5" lengthAdjust="spacingAndGlyphs">50.00</text><text x="1518.6" y="1585" text-anchor="end" textLength="68.5" lengthAdjust="spacingAndGlyphs">55.00</text><text x="1518.6" y="1465.6" text-anchor="end" textLength="68.5" lengthAdjust="spacingAndGlyphs">60.00</text></g>
<g fill="#ff0000" stroke="#900" stroke-width=".6"><ellipse cx="1547.2" cy="1458.5" rx="7" ry="4.5"/><ellipse cx="2284.8" cy="1458.5" rx="7" ry="4.5"/><ellipse cx="1547.2" cy="1936.2" rx="7" ry="4.5"/><ellipse cx="2284.8" cy="1936.2" rx="7" ry="4.5"/><ellipse cx="1916" cy="1697.3" rx="7" ry="4.5"/></g>
<text x="1904" y="1702.3" font-size="16" text-anchor="end" fill="#a02000">5</text>
<text x="1818.3" y="1446.4" font-size="28.9" font-weight="bold" textLength="191" lengthAdjust="spacingAndGlyphs">Phlorizin(mg/g)</text>
<text x="1693.2" y="2042.5" font-size="31.8" font-weight="bold" textLength="441.7" lengthAdjust="spacingAndGlyphs">C:Solvent concentration(100%)</text>
<text x="0" y="0" font-size="31.8" font-weight="bold" textLength="385.3" lengthAdjust="spacingAndGlyphs" transform="translate(1419.3 1887.6) rotate(-90)">D:Solvent-solid radio(mL/g)</text>
</svg>
</body></html>
